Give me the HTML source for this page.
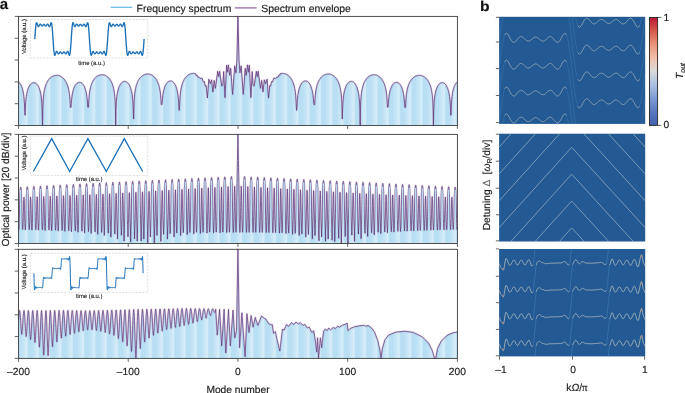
<!DOCTYPE html>
<html><head><meta charset="utf-8"><title>figure</title>
<style>html,body{margin:0;padding:0;background:#fff;}body{width:685px;height:393px;overflow:hidden;font-family:"Liberation Sans",sans-serif;}svg{display:block;will-change:transform;filter:blur(0.3px);}text{stroke:#1a1a1a;stroke-width:0.16px;}</style></head>
<body>
<svg width="685" height="393" viewBox="0 0 685 393" font-family="Liberation Sans, sans-serif" text-rendering="geometricPrecision">
<defs>
<clipPath id="cb1"><rect x="499.1" y="16.8" width="146.1" height="107.1"/></clipPath>
<clipPath id="cb2"><rect x="499.1" y="133.7" width="146.1" height="107.8"/></clipPath>
<clipPath id="cb3"><rect x="499.1" y="249" width="146.1" height="107.4"/></clipPath>
<linearGradient id="cw" x1="0" y1="1" x2="0" y2="0">
<stop offset="0.0" stop-color="#4060ad"/>
<stop offset="0.125" stop-color="#5878c1"/>
<stop offset="0.25" stop-color="#7d9bd4"/>
<stop offset="0.375" stop-color="#aabfe2"/>
<stop offset="0.5" stop-color="#dad9dc"/>
<stop offset="0.625" stop-color="#f0c0aa"/>
<stop offset="0.75" stop-color="#ea957a"/>
<stop offset="0.875" stop-color="#d65a4c"/>
<stop offset="1.0" stop-color="#bb1533"/>
</linearGradient>
<linearGradient id="moire" gradientUnits="userSpaceOnUse" x1="50.8" y1="0" x2="62.08" y2="0" spreadMethod="repeat">
<stop offset="0" stop-color="#b9dff3"/>
<stop offset="0.28" stop-color="#b7def2"/>
<stop offset="0.6" stop-color="#c6e5f6"/>
<stop offset="0.86" stop-color="#d7edf8"/>
<stop offset="0.9" stop-color="#d4ebf8"/>
<stop offset="1.0" stop-color="#b9dff3"/>
</linearGradient>
</defs>
<rect width="685" height="393" fill="#fff"/>
<path d="M18.5 81.85 L18.8 82.09 L19.1 82.37 L19.4 82.68 L19.7 83.03 L20 83.42 L20.3 83.85 L20.6 84.34 L20.9 84.88 L21.2 85.48 L21.5 86.15 L21.8 86.9 L22.1 87.74 L22.4 88.7 L22.7 89.79 L23 91.05 L23.3 92.54 L23.6 94.34 L23.9 96.6 L24.2 99.6 L24.5 104.05 L24.8 112.75 L25 115.2 L25.1 115.26 L25.4 107.66 L25.7 102.35 L26 98.99 L26.3 96.53 L26.6 94.6 L26.9 93.02 L27.2 91.68 L27.5 90.54 L27.8 89.55 L28.1 88.67 L28.4 87.89 L28.7 87.2 L29 86.58 L29.3 86.03 L29.6 85.53 L29.9 85.08 L30.2 84.68 L30.5 84.32 L30.8 84 L31.1 83.72 L31.4 83.47 L31.7 83.26 L32 83.08 L32.3 82.93 L32.6 82.8 L32.9 82.71 L33.2 82.65 L33.5 82.61 L33.8 82.6 L34.1 82.62 L34.4 82.66 L34.7 82.74 L35 82.84 L35.3 82.97 L35.6 83.13 L35.9 83.33 L36.2 83.55 L36.5 83.81 L36.8 84.1 L37.1 84.43 L37.4 84.81 L37.7 85.22 L38 85.69 L38.3 86.2 L38.6 86.78 L38.9 87.42 L39.2 88.14 L39.5 88.95 L39.8 89.86 L40.1 90.9 L40.4 92.1 L40.7 93.51 L41 95.19 L41.3 97.27 L41.6 99.98 L41.9 103.81 L42.2 110.39 L42.5 125.5 L42.5 125.5 L42.8 107.63 L43.1 101.04 L43.4 97.19 L43.7 94.47 L44 92.36 L44.3 90.65 L44.6 89.2 L44.9 87.96 L45.2 86.87 L45.5 85.9 L45.8 85.03 L46.1 84.25 L46.4 83.53 L46.7 82.87 L47 82.27 L47.3 81.71 L47.6 81.19 L47.9 80.71 L48.2 80.27 L48.5 79.85 L48.8 79.46 L49.1 79.1 L49.4 78.76 L49.7 78.44 L50 78.14 L50.3 77.86 L50.6 77.6 L50.9 77.36 L51.2 77.14 L51.5 76.93 L51.8 76.73 L52.1 76.55 L52.4 76.38 L52.7 76.23 L53 76.09 L53.3 75.96 L53.6 75.84 L53.9 75.74 L54.2 75.64 L54.5 75.56 L54.8 75.49 L55.1 75.43 L55.4 75.39 L55.7 75.35 L56 75.32 L56.3 75.31 L56.6 75.3 L56.9 75.31 L57.2 75.32 L57.5 75.35 L57.8 75.39 L58.1 75.43 L58.4 75.49 L58.7 75.56 L59 75.64 L59.3 75.74 L59.6 75.84 L59.9 75.96 L60.2 76.09 L60.5 76.23 L60.8 76.38 L61.1 76.55 L61.4 76.73 L61.7 76.93 L62 77.14 L62.3 77.36 L62.6 77.6 L62.9 77.86 L63.2 78.14 L63.5 78.44 L63.8 78.76 L64.1 79.1 L64.4 79.46 L64.7 79.85 L65 80.27 L65.3 80.71 L65.6 81.19 L65.9 81.71 L66.2 82.27 L66.5 82.87 L66.8 83.53 L67.1 84.25 L67.4 85.03 L67.7 85.9 L68 86.87 L68.3 87.96 L68.6 89.2 L68.9 90.65 L69.2 92.36 L69.5 94.47 L69.8 97.19 L70.1 101.04 L70.4 107.49 L70.7 107.3 L70.7 107.3 L71 107.3 L71.3 103.51 L71.6 99.68 L71.9 96.97 L72.2 94.89 L72.5 93.21 L72.8 91.8 L73.1 90.6 L73.4 89.56 L73.7 88.65 L74 87.84 L74.3 87.12 L74.6 86.48 L74.9 85.9 L75.2 85.39 L75.5 84.92 L75.8 84.51 L76.1 84.13 L76.4 83.8 L76.7 83.51 L77 83.25 L77.3 83.03 L77.6 82.83 L77.9 82.67 L78.2 82.54 L78.5 82.44 L78.8 82.36 L79.1 82.32 L79.4 82.3 L79.7 82.31 L80 82.35 L80.3 82.41 L80.6 82.5 L80.9 82.63 L81.2 82.78 L81.5 82.96 L81.8 83.17 L82.1 83.42 L82.4 83.7 L82.7 84.02 L83 84.38 L83.3 84.78 L83.6 85.23 L83.9 85.73 L84.2 86.28 L84.5 86.9 L84.8 87.59 L85.1 88.37 L85.4 89.25 L85.7 90.24 L86 91.38 L86.3 92.72 L86.6 94.3 L86.9 96.23 L87.2 98.69 L87.5 102.05 L87.8 107.1 L88.1 107.1 L88.2 107.1 L88.4 107.23 L88.7 101.93 L89 97.47 L89.3 94.45 L89.6 92.17 L89.9 90.35 L90.2 88.82 L90.5 87.52 L90.8 86.39 L91.1 85.38 L91.4 84.48 L91.7 83.67 L92 82.94 L92.3 82.26 L92.6 81.65 L92.9 81.08 L93.2 80.55 L93.5 80.06 L93.8 79.61 L94.1 79.18 L94.4 78.79 L94.7 78.42 L95 78.08 L95.3 77.76 L95.6 77.46 L95.9 77.18 L96.2 76.92 L96.5 76.68 L96.8 76.45 L97.1 76.24 L97.4 76.05 L97.7 75.87 L98 75.7 L98.3 75.55 L98.6 75.41 L98.9 75.29 L99.2 75.18 L99.5 75.08 L99.8 74.99 L100.1 74.91 L100.4 74.85 L100.7 74.8 L101 74.76 L101.3 74.73 L101.6 74.71 L101.9 74.7 L102.2 74.7 L102.5 74.72 L102.8 74.74 L103.1 74.78 L103.4 74.83 L103.7 74.89 L104 74.96 L104.3 75.05 L104.6 75.14 L104.9 75.25 L105.2 75.37 L105.5 75.5 L105.8 75.65 L106.1 75.81 L106.4 75.99 L106.7 76.17 L107 76.38 L107.3 76.6 L107.6 76.84 L107.9 77.09 L108.2 77.36 L108.5 77.66 L108.8 77.97 L109.1 78.3 L109.4 78.66 L109.7 79.05 L110 79.46 L110.3 79.91 L110.6 80.38 L110.9 80.9 L111.2 81.45 L111.5 82.05 L111.8 82.71 L112.1 83.42 L112.4 84.2 L112.7 85.07 L113 86.04 L113.3 87.13 L113.6 88.37 L113.9 89.81 L114.2 91.52 L114.5 93.63 L114.8 96.35 L115.1 100.2 L115.4 106.79 L115.7 125.5 L115.7 125.5 L116 109.41 L116.3 102.83 L116.6 98.99 L116.9 96.29 L117.2 94.2 L117.5 92.52 L117.8 91.11 L118.1 89.91 L118.4 88.86 L118.7 87.94 L119 87.13 L119.3 86.41 L119.6 85.76 L119.9 85.18 L120.2 84.65 L120.5 84.18 L120.8 83.76 L121.1 83.38 L121.4 83.04 L121.7 82.74 L122 82.47 L122.3 82.23 L122.6 82.03 L122.9 81.86 L123.2 81.71 L123.5 81.6 L123.8 81.51 L124.1 81.44 L124.4 81.41 L124.7 81.4 L125 81.42 L125.3 81.46 L125.6 81.53 L125.9 81.63 L126.2 81.76 L126.5 81.91 L126.8 82.09 L127.1 82.31 L127.4 82.55 L127.7 82.83 L128 83.15 L128.3 83.5 L128.6 83.9 L128.9 84.34 L129.2 84.82 L129.5 85.37 L129.8 85.97 L130.1 86.64 L130.4 87.39 L130.7 88.24 L131 89.19 L131.3 90.29 L131.6 91.55 L131.9 93.04 L132.2 94.85 L132.5 97.1 L132.8 100.1 L133.1 104.55 L133.4 113.26 L133.6 119 L133.7 116.71 L134 103.52 L134.3 98.21 L134.6 94.83 L134.9 92.34 L135.2 90.39 L135.5 88.77 L135.8 87.4 L136.1 86.22 L136.4 85.17 L136.7 84.24 L137 83.4 L137.3 82.64 L137.6 81.94 L137.9 81.3 L138.2 80.72 L138.5 80.17 L138.8 79.67 L139.1 79.2 L139.4 78.77 L139.7 78.36 L140 77.98 L140.3 77.63 L140.6 77.3 L140.9 76.99 L141.2 76.7 L141.5 76.43 L141.8 76.17 L142.1 75.94 L142.4 75.72 L142.7 75.52 L143 75.33 L143.3 75.15 L143.6 74.99 L143.9 74.84 L144.2 74.71 L144.5 74.59 L144.8 74.48 L145.1 74.38 L145.4 74.29 L145.7 74.22 L146 74.15 L146.3 74.1 L146.6 74.06 L146.9 74.03 L147.2 74.01 L147.5 74 L147.8 74 L148.1 74.01 L148.4 74.04 L148.7 74.07 L149 74.12 L149.3 74.17 L149.6 74.24 L149.9 74.32 L150.2 74.41 L150.5 74.51 L150.8 74.63 L151.1 74.75 L151.4 74.89 L151.7 75.04 L152 75.21 L152.3 75.39 L152.6 75.58 L152.9 75.79 L153.2 76.02 L153.5 76.26 L153.8 76.51 L154.1 76.79 L154.4 77.09 L154.7 77.4 L155 77.74 L155.3 78.11 L155.6 78.49 L155.9 78.91 L156.2 79.35 L156.5 79.83 L156.8 80.35 L157.1 80.91 L157.4 81.51 L157.7 82.17 L158 82.88 L158.3 83.67 L158.6 84.54 L158.9 85.5 L159.2 86.59 L159.5 87.84 L159.8 89.28 L160.1 90.99 L160.4 93.1 L160.7 95.82 L161 99.67 L161.3 104.66 L161.6 104.5 L161.6 104.5 L161.9 104.6 L162.2 102.22 L162.5 98.39 L162.8 95.68 L163.1 93.6 L163.4 91.91 L163.7 90.51 L164 89.31 L164.3 88.26 L164.6 87.35 L164.9 86.54 L165.2 85.82 L165.5 85.17 L165.8 84.59 L166.1 84.07 L166.4 83.6 L166.7 83.18 L167 82.81 L167.3 82.47 L167.6 82.17 L167.9 81.91 L168.2 81.68 L168.5 81.48 L168.8 81.31 L169.1 81.18 L169.4 81.07 L169.7 80.98 L170 80.93 L170.3 80.9 L170.6 80.9 L170.9 80.93 L171.2 80.98 L171.5 81.07 L171.8 81.18 L172.1 81.31 L172.4 81.48 L172.7 81.68 L173 81.91 L173.3 82.17 L173.6 82.47 L173.9 82.81 L174.2 83.18 L174.5 83.6 L174.8 84.07 L175.1 84.59 L175.4 85.17 L175.7 85.82 L176 86.54 L176.3 87.35 L176.6 88.26 L176.9 89.31 L177.2 90.51 L177.5 91.91 L177.8 93.6 L178.1 95.68 L178.4 98.39 L178.7 102.22 L179 108.8 L179.3 110.4 L179.3 110.4 L179.6 105.69 L179.9 99.1 L180.2 95.26 L180.5 92.53 L180.8 90.43 L181.1 88.71 L181.4 87.27 L181.7 86.03 L182 84.94 L182.3 83.97 L182.6 83.1 L182.9 82.31 L183.2 81.6 L183.5 80.94 L183.8 80.34 L184.1 79.78 L184.4 79.26 L184.7 78.78 L185 78.34 L185.3 77.92 L185.6 77.53 L185.9 77.17 L186.2 76.83 L186.5 76.51 L186.8 76.22 L187.1 75.94 L187.4 75.68 L187.7 75.44 L188 75.21 L188.3 75 L188.6 74.81 L188.9 74.63 L189.2 74.46 L189.5 74.31 L189.8 74.17 L190.1 74.04 L190.4 73.93 L190.7 73.82 L191 73.73 L191.3 73.65 L191.6 73.58 L191.9 73.53 L192.2 73.48 L192.5 73.44 L192.8 73.42 L193.1 73.4 L193.4 73.4 L193.7 73.41 L194 73.43 L194.3 73.45 L194.6 73.49 L194.9 73.54 L195.2 73.6 L195.5 73.68 L195.8 73.76 L196.1 75.3 L197 75.1 L197.9 77.2 L199.1 77.2 L200.2 78.5 L202.1 78.1 L203.3 81.9 L204.3 81.5 L205.3 86.1 L206.2 85.6 L207.4 98 L208.8 79.2 L210.3 83.6 L211.6 79.8 L212.9 91.9 L214.2 80.4 L215.4 88.3 L217.7 71.3 L218.7 76.6 L219.6 71.3 L221.8 86.1 L222.8 84.9 L223.7 71.5 L225 97.6 L226.6 65.2 L227.5 72.2 L228.4 64.9 L229.7 75.3 L230.7 68.3 L232.6 94.4 L234.7 65.8 L236 72.8 L236.9 60 L237.95 16.4 L239 60 L239.9 72.8 L241.2 65.8 L243.3 94.4 L245.2 68.3 L246.2 75.3 L247.5 64.9 L248.4 72.2 L249.3 65.2 L250.9 97.6 L252.2 71.5 L253.1 84.9 L254.1 86.1 L256.3 71.3 L257.2 76.6 L258.2 71.3 L260.5 88.3 L261.7 80.4 L263 91.9 L264.3 79.8 L265.6 83.6 L267.1 79.2 L268.5 98 L269.7 85.6 L270.6 86.1 L271.6 81.5 L272.6 81.9 L273.8 78.1 L275.7 78.5 L276.8 77.2 L278 77.2 L278.9 75.1 L279.8 75.3 L280.1 73.76 L280.4 73.68 L280.7 73.6 L281 73.54 L281.3 73.49 L281.6 73.45 L281.9 73.43 L282.2 73.41 L282.5 73.4 L282.8 73.4 L283.1 73.42 L283.4 73.44 L283.7 73.48 L284 73.53 L284.3 73.58 L284.6 73.65 L284.9 73.73 L285.2 73.82 L285.5 73.93 L285.8 74.04 L286.1 74.17 L286.4 74.31 L286.7 74.46 L287 74.63 L287.3 74.81 L287.6 75 L287.9 75.21 L288.2 75.44 L288.5 75.68 L288.8 75.94 L289.1 76.22 L289.4 76.51 L289.7 76.83 L290 77.17 L290.3 77.53 L290.6 77.92 L290.9 78.34 L291.2 78.78 L291.5 79.26 L291.8 79.78 L292.1 80.34 L292.4 80.94 L292.7 81.6 L293 82.31 L293.3 83.1 L293.6 83.97 L293.9 84.94 L294.2 86.03 L294.5 87.27 L294.8 88.71 L295.1 90.43 L295.4 92.53 L295.7 95.26 L296 99.1 L296.3 105.69 L296.6 110.4 L296.6 110.4 L296.9 108.8 L297.2 102.22 L297.5 98.39 L297.8 95.68 L298.1 93.6 L298.4 91.91 L298.7 90.51 L299 89.31 L299.3 88.26 L299.6 87.35 L299.9 86.54 L300.2 85.82 L300.5 85.17 L300.8 84.59 L301.1 84.07 L301.4 83.6 L301.7 83.18 L302 82.81 L302.3 82.47 L302.6 82.17 L302.9 81.91 L303.2 81.68 L303.5 81.48 L303.8 81.31 L304.1 81.18 L304.4 81.07 L304.7 80.98 L305 80.93 L305.3 80.9 L305.6 80.9 L305.9 80.93 L306.2 80.98 L306.5 81.07 L306.8 81.18 L307.1 81.31 L307.4 81.48 L307.7 81.68 L308 81.91 L308.3 82.17 L308.6 82.47 L308.9 82.81 L309.2 83.18 L309.5 83.6 L309.8 84.07 L310.1 84.59 L310.4 85.17 L310.7 85.82 L311 86.54 L311.3 87.35 L311.6 88.26 L311.9 89.31 L312.2 90.51 L312.5 91.91 L312.8 93.6 L313.1 95.68 L313.4 98.39 L313.7 102.22 L314 104.6 L314.3 104.5 L314.3 104.5 L314.6 104.66 L314.9 99.67 L315.2 95.82 L315.5 93.1 L315.8 90.99 L316.1 89.28 L316.4 87.84 L316.7 86.59 L317 85.5 L317.3 84.54 L317.6 83.67 L317.9 82.88 L318.2 82.17 L318.5 81.51 L318.8 80.91 L319.1 80.35 L319.4 79.83 L319.7 79.35 L320 78.91 L320.3 78.49 L320.6 78.11 L320.9 77.74 L321.2 77.4 L321.5 77.09 L321.8 76.79 L322.1 76.51 L322.4 76.26 L322.7 76.02 L323 75.79 L323.3 75.58 L323.6 75.39 L323.9 75.21 L324.2 75.04 L324.5 74.89 L324.8 74.75 L325.1 74.63 L325.4 74.51 L325.7 74.41 L326 74.32 L326.3 74.24 L326.6 74.17 L326.9 74.12 L327.2 74.07 L327.5 74.04 L327.8 74.01 L328.1 74 L328.4 74 L328.7 74.01 L329 74.03 L329.3 74.06 L329.6 74.1 L329.9 74.15 L330.2 74.22 L330.5 74.29 L330.8 74.38 L331.1 74.48 L331.4 74.59 L331.7 74.71 L332 74.84 L332.3 74.99 L332.6 75.15 L332.9 75.33 L333.2 75.52 L333.5 75.72 L333.8 75.94 L334.1 76.17 L334.4 76.43 L334.7 76.7 L335 76.99 L335.3 77.3 L335.6 77.63 L335.9 77.98 L336.2 78.36 L336.5 78.77 L336.8 79.2 L337.1 79.67 L337.4 80.17 L337.7 80.72 L338 81.3 L338.3 81.94 L338.6 82.64 L338.9 83.4 L339.2 84.24 L339.5 85.17 L339.8 86.22 L340.1 87.4 L340.4 88.77 L340.7 90.39 L341 92.34 L341.3 94.83 L341.6 98.21 L341.9 103.52 L342.2 116.71 L342.3 119 L342.5 113.26 L342.8 104.55 L343.1 100.1 L343.4 97.1 L343.7 94.85 L344 93.04 L344.3 91.55 L344.6 90.29 L344.9 89.19 L345.2 88.24 L345.5 87.39 L345.8 86.64 L346.1 85.97 L346.4 85.37 L346.7 84.82 L347 84.34 L347.3 83.9 L347.6 83.5 L347.9 83.15 L348.2 82.83 L348.5 82.55 L348.8 82.31 L349.1 82.09 L349.4 81.91 L349.7 81.76 L350 81.63 L350.3 81.53 L350.6 81.46 L350.9 81.42 L351.2 81.4 L351.5 81.41 L351.8 81.44 L352.1 81.51 L352.4 81.6 L352.7 81.71 L353 81.86 L353.3 82.03 L353.6 82.23 L353.9 82.47 L354.2 82.74 L354.5 83.04 L354.8 83.38 L355.1 83.76 L355.4 84.18 L355.7 84.65 L356 85.18 L356.3 85.76 L356.6 86.41 L356.9 87.13 L357.2 87.94 L357.5 88.86 L357.8 89.91 L358.1 91.11 L358.4 92.52 L358.7 94.2 L359 96.29 L359.3 98.99 L359.6 102.83 L359.9 109.41 L360.2 125.5 L360.2 125.5 L360.5 106.79 L360.8 100.2 L361.1 96.35 L361.4 93.63 L361.7 91.52 L362 89.81 L362.3 88.37 L362.6 87.13 L362.9 86.04 L363.2 85.07 L363.5 84.2 L363.8 83.42 L364.1 82.71 L364.4 82.05 L364.7 81.45 L365 80.9 L365.3 80.38 L365.6 79.91 L365.9 79.46 L366.2 79.05 L366.5 78.66 L366.8 78.3 L367.1 77.97 L367.4 77.66 L367.7 77.36 L368 77.09 L368.3 76.84 L368.6 76.6 L368.9 76.38 L369.2 76.17 L369.5 75.99 L369.8 75.81 L370.1 75.65 L370.4 75.5 L370.7 75.37 L371 75.25 L371.3 75.14 L371.6 75.05 L371.9 74.96 L372.2 74.89 L372.5 74.83 L372.8 74.78 L373.1 74.74 L373.4 74.72 L373.7 74.7 L374 74.7 L374.3 74.71 L374.6 74.73 L374.9 74.76 L375.2 74.8 L375.5 74.85 L375.8 74.91 L376.1 74.99 L376.4 75.08 L376.7 75.18 L377 75.29 L377.3 75.41 L377.6 75.55 L377.9 75.7 L378.2 75.87 L378.5 76.05 L378.8 76.24 L379.1 76.45 L379.4 76.68 L379.7 76.92 L380 77.18 L380.3 77.46 L380.6 77.76 L380.9 78.08 L381.2 78.42 L381.5 78.79 L381.8 79.18 L382.1 79.61 L382.4 80.06 L382.7 80.55 L383 81.08 L383.3 81.65 L383.6 82.26 L383.9 82.94 L384.2 83.67 L384.5 84.48 L384.8 85.38 L385.1 86.39 L385.4 87.52 L385.7 88.82 L386 90.35 L386.3 92.17 L386.6 94.45 L386.9 97.47 L387.2 101.93 L387.5 107.23 L387.7 107.1 L387.8 107.1 L388.1 107.1 L388.4 102.05 L388.7 98.69 L389 96.23 L389.3 94.3 L389.6 92.72 L389.9 91.38 L390.2 90.24 L390.5 89.25 L390.8 88.37 L391.1 87.59 L391.4 86.9 L391.7 86.28 L392 85.73 L392.3 85.23 L392.6 84.78 L392.9 84.38 L393.2 84.02 L393.5 83.7 L393.8 83.42 L394.1 83.17 L394.4 82.96 L394.7 82.78 L395 82.63 L395.3 82.5 L395.6 82.41 L395.9 82.35 L396.2 82.31 L396.5 82.3 L396.8 82.32 L397.1 82.36 L397.4 82.44 L397.7 82.54 L398 82.67 L398.3 82.83 L398.6 83.03 L398.9 83.25 L399.2 83.51 L399.5 83.8 L399.8 84.13 L400.1 84.51 L400.4 84.92 L400.7 85.39 L401 85.9 L401.3 86.48 L401.6 87.12 L401.9 87.84 L402.2 88.65 L402.5 89.56 L402.8 90.6 L403.1 91.8 L403.4 93.21 L403.7 94.89 L404 96.97 L404.3 99.68 L404.6 103.51 L404.9 107.3 L405.2 107.3 L405.2 107.3 L405.5 107.49 L405.8 101.04 L406.1 97.19 L406.4 94.47 L406.7 92.36 L407 90.65 L407.3 89.2 L407.6 87.96 L407.9 86.87 L408.2 85.9 L408.5 85.03 L408.8 84.25 L409.1 83.53 L409.4 82.87 L409.7 82.27 L410 81.71 L410.3 81.19 L410.6 80.71 L410.9 80.27 L411.2 79.85 L411.5 79.46 L411.8 79.1 L412.1 78.76 L412.4 78.44 L412.7 78.14 L413 77.86 L413.3 77.6 L413.6 77.36 L413.9 77.14 L414.2 76.93 L414.5 76.73 L414.8 76.55 L415.1 76.38 L415.4 76.23 L415.7 76.09 L416 75.96 L416.3 75.84 L416.6 75.74 L416.9 75.64 L417.2 75.56 L417.5 75.49 L417.8 75.43 L418.1 75.39 L418.4 75.35 L418.7 75.32 L419 75.31 L419.3 75.3 L419.6 75.31 L419.9 75.32 L420.2 75.35 L420.5 75.39 L420.8 75.43 L421.1 75.49 L421.4 75.56 L421.7 75.64 L422 75.74 L422.3 75.84 L422.6 75.96 L422.9 76.09 L423.2 76.23 L423.5 76.38 L423.8 76.55 L424.1 76.73 L424.4 76.93 L424.7 77.14 L425 77.36 L425.3 77.6 L425.6 77.86 L425.9 78.14 L426.2 78.44 L426.5 78.76 L426.8 79.1 L427.1 79.46 L427.4 79.85 L427.7 80.27 L428 80.71 L428.3 81.19 L428.6 81.71 L428.9 82.27 L429.2 82.87 L429.5 83.53 L429.8 84.25 L430.1 85.03 L430.4 85.9 L430.7 86.87 L431 87.96 L431.3 89.2 L431.6 90.65 L431.9 92.36 L432.2 94.47 L432.5 97.19 L432.8 101.04 L433.1 107.63 L433.4 125.5 L433.4 125.5 L433.7 110.39 L434 103.81 L434.3 99.98 L434.6 97.27 L434.9 95.19 L435.2 93.51 L435.5 92.1 L435.8 90.9 L436.1 89.86 L436.4 88.95 L436.7 88.14 L437 87.42 L437.3 86.78 L437.6 86.2 L437.9 85.69 L438.2 85.22 L438.5 84.81 L438.8 84.43 L439.1 84.1 L439.4 83.81 L439.7 83.55 L440 83.33 L440.3 83.13 L440.6 82.97 L440.9 82.84 L441.2 82.74 L441.5 82.66 L441.8 82.62 L442.1 82.6 L442.4 82.61 L442.7 82.65 L443 82.71 L443.3 82.8 L443.6 82.93 L443.9 83.08 L444.2 83.26 L444.5 83.47 L444.8 83.72 L445.1 84 L445.4 84.32 L445.7 84.68 L446 85.08 L446.3 85.53 L446.6 86.03 L446.9 86.58 L447.2 87.2 L447.5 87.89 L447.8 88.67 L448.1 89.55 L448.4 90.54 L448.7 91.68 L449 93.02 L449.3 94.6 L449.6 96.53 L449.9 98.99 L450.2 102.35 L450.5 107.66 L450.8 115.26 L450.9 115.2 L451.1 112.75 L451.4 104.05 L451.7 99.6 L452 96.6 L452.3 94.34 L452.6 92.54 L452.9 91.05 L453.2 89.79 L453.5 88.7 L453.8 87.74 L454.1 86.9 L454.4 86.15 L454.7 85.48 L455 84.88 L455.3 84.34 L455.6 83.85 L455.9 83.42 L456.2 83.03 L456.5 82.68 L456.8 82.37 L457.1 82.09 L457.4 81.85 L457.4 125.5 L18.5 125.5Z" fill="url(#moire)" stroke="none"/>
<defs><path id="env0" d="M18.5 81.85 L18.8 82.09 L19.1 82.37 L19.4 82.68 L19.7 83.03 L20 83.42 L20.3 83.85 L20.6 84.34 L20.9 84.88 L21.2 85.48 L21.5 86.15 L21.8 86.9 L22.1 87.74 L22.4 88.7 L22.7 89.79 L23 91.05 L23.3 92.54 L23.6 94.34 L23.9 96.6 L24.2 99.6 L24.5 104.05 L24.8 112.75 L25 115.2 L25.1 115.26 L25.4 107.66 L25.7 102.35 L26 98.99 L26.3 96.53 L26.6 94.6 L26.9 93.02 L27.2 91.68 L27.5 90.54 L27.8 89.55 L28.1 88.67 L28.4 87.89 L28.7 87.2 L29 86.58 L29.3 86.03 L29.6 85.53 L29.9 85.08 L30.2 84.68 L30.5 84.32 L30.8 84 L31.1 83.72 L31.4 83.47 L31.7 83.26 L32 83.08 L32.3 82.93 L32.6 82.8 L32.9 82.71 L33.2 82.65 L33.5 82.61 L33.8 82.6 L34.1 82.62 L34.4 82.66 L34.7 82.74 L35 82.84 L35.3 82.97 L35.6 83.13 L35.9 83.33 L36.2 83.55 L36.5 83.81 L36.8 84.1 L37.1 84.43 L37.4 84.81 L37.7 85.22 L38 85.69 L38.3 86.2 L38.6 86.78 L38.9 87.42 L39.2 88.14 L39.5 88.95 L39.8 89.86 L40.1 90.9 L40.4 92.1 L40.7 93.51 L41 95.19 L41.3 97.27 L41.6 99.98 L41.9 103.81 L42.2 110.39 L42.5 125.5 L42.5 125.5 L42.8 107.63 L43.1 101.04 L43.4 97.19 L43.7 94.47 L44 92.36 L44.3 90.65 L44.6 89.2 L44.9 87.96 L45.2 86.87 L45.5 85.9 L45.8 85.03 L46.1 84.25 L46.4 83.53 L46.7 82.87 L47 82.27 L47.3 81.71 L47.6 81.19 L47.9 80.71 L48.2 80.27 L48.5 79.85 L48.8 79.46 L49.1 79.1 L49.4 78.76 L49.7 78.44 L50 78.14 L50.3 77.86 L50.6 77.6 L50.9 77.36 L51.2 77.14 L51.5 76.93 L51.8 76.73 L52.1 76.55 L52.4 76.38 L52.7 76.23 L53 76.09 L53.3 75.96 L53.6 75.84 L53.9 75.74 L54.2 75.64 L54.5 75.56 L54.8 75.49 L55.1 75.43 L55.4 75.39 L55.7 75.35 L56 75.32 L56.3 75.31 L56.6 75.3 L56.9 75.31 L57.2 75.32 L57.5 75.35 L57.8 75.39 L58.1 75.43 L58.4 75.49 L58.7 75.56 L59 75.64 L59.3 75.74 L59.6 75.84 L59.9 75.96 L60.2 76.09 L60.5 76.23 L60.8 76.38 L61.1 76.55 L61.4 76.73 L61.7 76.93 L62 77.14 L62.3 77.36 L62.6 77.6 L62.9 77.86 L63.2 78.14 L63.5 78.44 L63.8 78.76 L64.1 79.1 L64.4 79.46 L64.7 79.85 L65 80.27 L65.3 80.71 L65.6 81.19 L65.9 81.71 L66.2 82.27 L66.5 82.87 L66.8 83.53 L67.1 84.25 L67.4 85.03 L67.7 85.9 L68 86.87 L68.3 87.96 L68.6 89.2 L68.9 90.65 L69.2 92.36 L69.5 94.47 L69.8 97.19 L70.1 101.04 L70.4 107.49 L70.7 107.3 L70.7 107.3 L71 107.3 L71.3 103.51 L71.6 99.68 L71.9 96.97 L72.2 94.89 L72.5 93.21 L72.8 91.8 L73.1 90.6 L73.4 89.56 L73.7 88.65 L74 87.84 L74.3 87.12 L74.6 86.48 L74.9 85.9 L75.2 85.39 L75.5 84.92 L75.8 84.51 L76.1 84.13 L76.4 83.8 L76.7 83.51 L77 83.25 L77.3 83.03 L77.6 82.83 L77.9 82.67 L78.2 82.54 L78.5 82.44 L78.8 82.36 L79.1 82.32 L79.4 82.3 L79.7 82.31 L80 82.35 L80.3 82.41 L80.6 82.5 L80.9 82.63 L81.2 82.78 L81.5 82.96 L81.8 83.17 L82.1 83.42 L82.4 83.7 L82.7 84.02 L83 84.38 L83.3 84.78 L83.6 85.23 L83.9 85.73 L84.2 86.28 L84.5 86.9 L84.8 87.59 L85.1 88.37 L85.4 89.25 L85.7 90.24 L86 91.38 L86.3 92.72 L86.6 94.3 L86.9 96.23 L87.2 98.69 L87.5 102.05 L87.8 107.1 L88.1 107.1 L88.2 107.1 L88.4 107.23 L88.7 101.93 L89 97.47 L89.3 94.45 L89.6 92.17 L89.9 90.35 L90.2 88.82 L90.5 87.52 L90.8 86.39 L91.1 85.38 L91.4 84.48 L91.7 83.67 L92 82.94 L92.3 82.26 L92.6 81.65 L92.9 81.08 L93.2 80.55 L93.5 80.06 L93.8 79.61 L94.1 79.18 L94.4 78.79 L94.7 78.42 L95 78.08 L95.3 77.76 L95.6 77.46 L95.9 77.18 L96.2 76.92 L96.5 76.68 L96.8 76.45 L97.1 76.24 L97.4 76.05 L97.7 75.87 L98 75.7 L98.3 75.55 L98.6 75.41 L98.9 75.29 L99.2 75.18 L99.5 75.08 L99.8 74.99 L100.1 74.91 L100.4 74.85 L100.7 74.8 L101 74.76 L101.3 74.73 L101.6 74.71 L101.9 74.7 L102.2 74.7 L102.5 74.72 L102.8 74.74 L103.1 74.78 L103.4 74.83 L103.7 74.89 L104 74.96 L104.3 75.05 L104.6 75.14 L104.9 75.25 L105.2 75.37 L105.5 75.5 L105.8 75.65 L106.1 75.81 L106.4 75.99 L106.7 76.17 L107 76.38 L107.3 76.6 L107.6 76.84 L107.9 77.09 L108.2 77.36 L108.5 77.66 L108.8 77.97 L109.1 78.3 L109.4 78.66 L109.7 79.05 L110 79.46 L110.3 79.91 L110.6 80.38 L110.9 80.9 L111.2 81.45 L111.5 82.05 L111.8 82.71 L112.1 83.42 L112.4 84.2 L112.7 85.07 L113 86.04 L113.3 87.13 L113.6 88.37 L113.9 89.81 L114.2 91.52 L114.5 93.63 L114.8 96.35 L115.1 100.2 L115.4 106.79 L115.7 125.5 L115.7 125.5 L116 109.41 L116.3 102.83 L116.6 98.99 L116.9 96.29 L117.2 94.2 L117.5 92.52 L117.8 91.11 L118.1 89.91 L118.4 88.86 L118.7 87.94 L119 87.13 L119.3 86.41 L119.6 85.76 L119.9 85.18 L120.2 84.65 L120.5 84.18 L120.8 83.76 L121.1 83.38 L121.4 83.04 L121.7 82.74 L122 82.47 L122.3 82.23 L122.6 82.03 L122.9 81.86 L123.2 81.71 L123.5 81.6 L123.8 81.51 L124.1 81.44 L124.4 81.41 L124.7 81.4 L125 81.42 L125.3 81.46 L125.6 81.53 L125.9 81.63 L126.2 81.76 L126.5 81.91 L126.8 82.09 L127.1 82.31 L127.4 82.55 L127.7 82.83 L128 83.15 L128.3 83.5 L128.6 83.9 L128.9 84.34 L129.2 84.82 L129.5 85.37 L129.8 85.97 L130.1 86.64 L130.4 87.39 L130.7 88.24 L131 89.19 L131.3 90.29 L131.6 91.55 L131.9 93.04 L132.2 94.85 L132.5 97.1 L132.8 100.1 L133.1 104.55 L133.4 113.26 L133.6 119 L133.7 116.71 L134 103.52 L134.3 98.21 L134.6 94.83 L134.9 92.34 L135.2 90.39 L135.5 88.77 L135.8 87.4 L136.1 86.22 L136.4 85.17 L136.7 84.24 L137 83.4 L137.3 82.64 L137.6 81.94 L137.9 81.3 L138.2 80.72 L138.5 80.17 L138.8 79.67 L139.1 79.2 L139.4 78.77 L139.7 78.36 L140 77.98 L140.3 77.63 L140.6 77.3 L140.9 76.99 L141.2 76.7 L141.5 76.43 L141.8 76.17 L142.1 75.94 L142.4 75.72 L142.7 75.52 L143 75.33 L143.3 75.15 L143.6 74.99 L143.9 74.84 L144.2 74.71 L144.5 74.59 L144.8 74.48 L145.1 74.38 L145.4 74.29 L145.7 74.22 L146 74.15 L146.3 74.1 L146.6 74.06 L146.9 74.03 L147.2 74.01 L147.5 74 L147.8 74 L148.1 74.01 L148.4 74.04 L148.7 74.07 L149 74.12 L149.3 74.17 L149.6 74.24 L149.9 74.32 L150.2 74.41 L150.5 74.51 L150.8 74.63 L151.1 74.75 L151.4 74.89 L151.7 75.04 L152 75.21 L152.3 75.39 L152.6 75.58 L152.9 75.79 L153.2 76.02 L153.5 76.26 L153.8 76.51 L154.1 76.79 L154.4 77.09 L154.7 77.4 L155 77.74 L155.3 78.11 L155.6 78.49 L155.9 78.91 L156.2 79.35 L156.5 79.83 L156.8 80.35 L157.1 80.91 L157.4 81.51 L157.7 82.17 L158 82.88 L158.3 83.67 L158.6 84.54 L158.9 85.5 L159.2 86.59 L159.5 87.84 L159.8 89.28 L160.1 90.99 L160.4 93.1 L160.7 95.82 L161 99.67 L161.3 104.66 L161.6 104.5 L161.6 104.5 L161.9 104.6 L162.2 102.22 L162.5 98.39 L162.8 95.68 L163.1 93.6 L163.4 91.91 L163.7 90.51 L164 89.31 L164.3 88.26 L164.6 87.35 L164.9 86.54 L165.2 85.82 L165.5 85.17 L165.8 84.59 L166.1 84.07 L166.4 83.6 L166.7 83.18 L167 82.81 L167.3 82.47 L167.6 82.17 L167.9 81.91 L168.2 81.68 L168.5 81.48 L168.8 81.31 L169.1 81.18 L169.4 81.07 L169.7 80.98 L170 80.93 L170.3 80.9 L170.6 80.9 L170.9 80.93 L171.2 80.98 L171.5 81.07 L171.8 81.18 L172.1 81.31 L172.4 81.48 L172.7 81.68 L173 81.91 L173.3 82.17 L173.6 82.47 L173.9 82.81 L174.2 83.18 L174.5 83.6 L174.8 84.07 L175.1 84.59 L175.4 85.17 L175.7 85.82 L176 86.54 L176.3 87.35 L176.6 88.26 L176.9 89.31 L177.2 90.51 L177.5 91.91 L177.8 93.6 L178.1 95.68 L178.4 98.39 L178.7 102.22 L179 108.8 L179.3 110.4 L179.3 110.4 L179.6 105.69 L179.9 99.1 L180.2 95.26 L180.5 92.53 L180.8 90.43 L181.1 88.71 L181.4 87.27 L181.7 86.03 L182 84.94 L182.3 83.97 L182.6 83.1 L182.9 82.31 L183.2 81.6 L183.5 80.94 L183.8 80.34 L184.1 79.78 L184.4 79.26 L184.7 78.78 L185 78.34 L185.3 77.92 L185.6 77.53 L185.9 77.17 L186.2 76.83 L186.5 76.51 L186.8 76.22 L187.1 75.94 L187.4 75.68 L187.7 75.44 L188 75.21 L188.3 75 L188.6 74.81 L188.9 74.63 L189.2 74.46 L189.5 74.31 L189.8 74.17 L190.1 74.04 L190.4 73.93 L190.7 73.82 L191 73.73 L191.3 73.65 L191.6 73.58 L191.9 73.53 L192.2 73.48 L192.5 73.44 L192.8 73.42 L193.1 73.4 L193.4 73.4 L193.7 73.41 L194 73.43 L194.3 73.45 L194.6 73.49 L194.9 73.54 L195.2 73.6 L195.5 73.68 L195.8 73.76 L196.1 75.3 L197 75.1 L197.9 77.2 L199.1 77.2 L200.2 78.5 L202.1 78.1 L203.3 81.9 L204.3 81.5 L205.3 86.1 L206.2 85.6 L207.4 98 L208.8 79.2 L210.3 83.6 L211.6 79.8 L212.9 91.9 L214.2 80.4 L215.4 88.3 L217.7 71.3 L218.7 76.6 L219.6 71.3 L221.8 86.1 L222.8 84.9 L223.7 71.5 L225 97.6 L226.6 65.2 L227.5 72.2 L228.4 64.9 L229.7 75.3 L230.7 68.3 L232.6 94.4 L234.7 65.8 L236 72.8 L236.9 60 L237.95 16.4 L239 60 L239.9 72.8 L241.2 65.8 L243.3 94.4 L245.2 68.3 L246.2 75.3 L247.5 64.9 L248.4 72.2 L249.3 65.2 L250.9 97.6 L252.2 71.5 L253.1 84.9 L254.1 86.1 L256.3 71.3 L257.2 76.6 L258.2 71.3 L260.5 88.3 L261.7 80.4 L263 91.9 L264.3 79.8 L265.6 83.6 L267.1 79.2 L268.5 98 L269.7 85.6 L270.6 86.1 L271.6 81.5 L272.6 81.9 L273.8 78.1 L275.7 78.5 L276.8 77.2 L278 77.2 L278.9 75.1 L279.8 75.3 L280.1 73.76 L280.4 73.68 L280.7 73.6 L281 73.54 L281.3 73.49 L281.6 73.45 L281.9 73.43 L282.2 73.41 L282.5 73.4 L282.8 73.4 L283.1 73.42 L283.4 73.44 L283.7 73.48 L284 73.53 L284.3 73.58 L284.6 73.65 L284.9 73.73 L285.2 73.82 L285.5 73.93 L285.8 74.04 L286.1 74.17 L286.4 74.31 L286.7 74.46 L287 74.63 L287.3 74.81 L287.6 75 L287.9 75.21 L288.2 75.44 L288.5 75.68 L288.8 75.94 L289.1 76.22 L289.4 76.51 L289.7 76.83 L290 77.17 L290.3 77.53 L290.6 77.92 L290.9 78.34 L291.2 78.78 L291.5 79.26 L291.8 79.78 L292.1 80.34 L292.4 80.94 L292.7 81.6 L293 82.31 L293.3 83.1 L293.6 83.97 L293.9 84.94 L294.2 86.03 L294.5 87.27 L294.8 88.71 L295.1 90.43 L295.4 92.53 L295.7 95.26 L296 99.1 L296.3 105.69 L296.6 110.4 L296.6 110.4 L296.9 108.8 L297.2 102.22 L297.5 98.39 L297.8 95.68 L298.1 93.6 L298.4 91.91 L298.7 90.51 L299 89.31 L299.3 88.26 L299.6 87.35 L299.9 86.54 L300.2 85.82 L300.5 85.17 L300.8 84.59 L301.1 84.07 L301.4 83.6 L301.7 83.18 L302 82.81 L302.3 82.47 L302.6 82.17 L302.9 81.91 L303.2 81.68 L303.5 81.48 L303.8 81.31 L304.1 81.18 L304.4 81.07 L304.7 80.98 L305 80.93 L305.3 80.9 L305.6 80.9 L305.9 80.93 L306.2 80.98 L306.5 81.07 L306.8 81.18 L307.1 81.31 L307.4 81.48 L307.7 81.68 L308 81.91 L308.3 82.17 L308.6 82.47 L308.9 82.81 L309.2 83.18 L309.5 83.6 L309.8 84.07 L310.1 84.59 L310.4 85.17 L310.7 85.82 L311 86.54 L311.3 87.35 L311.6 88.26 L311.9 89.31 L312.2 90.51 L312.5 91.91 L312.8 93.6 L313.1 95.68 L313.4 98.39 L313.7 102.22 L314 104.6 L314.3 104.5 L314.3 104.5 L314.6 104.66 L314.9 99.67 L315.2 95.82 L315.5 93.1 L315.8 90.99 L316.1 89.28 L316.4 87.84 L316.7 86.59 L317 85.5 L317.3 84.54 L317.6 83.67 L317.9 82.88 L318.2 82.17 L318.5 81.51 L318.8 80.91 L319.1 80.35 L319.4 79.83 L319.7 79.35 L320 78.91 L320.3 78.49 L320.6 78.11 L320.9 77.74 L321.2 77.4 L321.5 77.09 L321.8 76.79 L322.1 76.51 L322.4 76.26 L322.7 76.02 L323 75.79 L323.3 75.58 L323.6 75.39 L323.9 75.21 L324.2 75.04 L324.5 74.89 L324.8 74.75 L325.1 74.63 L325.4 74.51 L325.7 74.41 L326 74.32 L326.3 74.24 L326.6 74.17 L326.9 74.12 L327.2 74.07 L327.5 74.04 L327.8 74.01 L328.1 74 L328.4 74 L328.7 74.01 L329 74.03 L329.3 74.06 L329.6 74.1 L329.9 74.15 L330.2 74.22 L330.5 74.29 L330.8 74.38 L331.1 74.48 L331.4 74.59 L331.7 74.71 L332 74.84 L332.3 74.99 L332.6 75.15 L332.9 75.33 L333.2 75.52 L333.5 75.72 L333.8 75.94 L334.1 76.17 L334.4 76.43 L334.7 76.7 L335 76.99 L335.3 77.3 L335.6 77.63 L335.9 77.98 L336.2 78.36 L336.5 78.77 L336.8 79.2 L337.1 79.67 L337.4 80.17 L337.7 80.72 L338 81.3 L338.3 81.94 L338.6 82.64 L338.9 83.4 L339.2 84.24 L339.5 85.17 L339.8 86.22 L340.1 87.4 L340.4 88.77 L340.7 90.39 L341 92.34 L341.3 94.83 L341.6 98.21 L341.9 103.52 L342.2 116.71 L342.3 119 L342.5 113.26 L342.8 104.55 L343.1 100.1 L343.4 97.1 L343.7 94.85 L344 93.04 L344.3 91.55 L344.6 90.29 L344.9 89.19 L345.2 88.24 L345.5 87.39 L345.8 86.64 L346.1 85.97 L346.4 85.37 L346.7 84.82 L347 84.34 L347.3 83.9 L347.6 83.5 L347.9 83.15 L348.2 82.83 L348.5 82.55 L348.8 82.31 L349.1 82.09 L349.4 81.91 L349.7 81.76 L350 81.63 L350.3 81.53 L350.6 81.46 L350.9 81.42 L351.2 81.4 L351.5 81.41 L351.8 81.44 L352.1 81.51 L352.4 81.6 L352.7 81.71 L353 81.86 L353.3 82.03 L353.6 82.23 L353.9 82.47 L354.2 82.74 L354.5 83.04 L354.8 83.38 L355.1 83.76 L355.4 84.18 L355.7 84.65 L356 85.18 L356.3 85.76 L356.6 86.41 L356.9 87.13 L357.2 87.94 L357.5 88.86 L357.8 89.91 L358.1 91.11 L358.4 92.52 L358.7 94.2 L359 96.29 L359.3 98.99 L359.6 102.83 L359.9 109.41 L360.2 125.5 L360.2 125.5 L360.5 106.79 L360.8 100.2 L361.1 96.35 L361.4 93.63 L361.7 91.52 L362 89.81 L362.3 88.37 L362.6 87.13 L362.9 86.04 L363.2 85.07 L363.5 84.2 L363.8 83.42 L364.1 82.71 L364.4 82.05 L364.7 81.45 L365 80.9 L365.3 80.38 L365.6 79.91 L365.9 79.46 L366.2 79.05 L366.5 78.66 L366.8 78.3 L367.1 77.97 L367.4 77.66 L367.7 77.36 L368 77.09 L368.3 76.84 L368.6 76.6 L368.9 76.38 L369.2 76.17 L369.5 75.99 L369.8 75.81 L370.1 75.65 L370.4 75.5 L370.7 75.37 L371 75.25 L371.3 75.14 L371.6 75.05 L371.9 74.96 L372.2 74.89 L372.5 74.83 L372.8 74.78 L373.1 74.74 L373.4 74.72 L373.7 74.7 L374 74.7 L374.3 74.71 L374.6 74.73 L374.9 74.76 L375.2 74.8 L375.5 74.85 L375.8 74.91 L376.1 74.99 L376.4 75.08 L376.7 75.18 L377 75.29 L377.3 75.41 L377.6 75.55 L377.9 75.7 L378.2 75.87 L378.5 76.05 L378.8 76.24 L379.1 76.45 L379.4 76.68 L379.7 76.92 L380 77.18 L380.3 77.46 L380.6 77.76 L380.9 78.08 L381.2 78.42 L381.5 78.79 L381.8 79.18 L382.1 79.61 L382.4 80.06 L382.7 80.55 L383 81.08 L383.3 81.65 L383.6 82.26 L383.9 82.94 L384.2 83.67 L384.5 84.48 L384.8 85.38 L385.1 86.39 L385.4 87.52 L385.7 88.82 L386 90.35 L386.3 92.17 L386.6 94.45 L386.9 97.47 L387.2 101.93 L387.5 107.23 L387.7 107.1 L387.8 107.1 L388.1 107.1 L388.4 102.05 L388.7 98.69 L389 96.23 L389.3 94.3 L389.6 92.72 L389.9 91.38 L390.2 90.24 L390.5 89.25 L390.8 88.37 L391.1 87.59 L391.4 86.9 L391.7 86.28 L392 85.73 L392.3 85.23 L392.6 84.78 L392.9 84.38 L393.2 84.02 L393.5 83.7 L393.8 83.42 L394.1 83.17 L394.4 82.96 L394.7 82.78 L395 82.63 L395.3 82.5 L395.6 82.41 L395.9 82.35 L396.2 82.31 L396.5 82.3 L396.8 82.32 L397.1 82.36 L397.4 82.44 L397.7 82.54 L398 82.67 L398.3 82.83 L398.6 83.03 L398.9 83.25 L399.2 83.51 L399.5 83.8 L399.8 84.13 L400.1 84.51 L400.4 84.92 L400.7 85.39 L401 85.9 L401.3 86.48 L401.6 87.12 L401.9 87.84 L402.2 88.65 L402.5 89.56 L402.8 90.6 L403.1 91.8 L403.4 93.21 L403.7 94.89 L404 96.97 L404.3 99.68 L404.6 103.51 L404.9 107.3 L405.2 107.3 L405.2 107.3 L405.5 107.49 L405.8 101.04 L406.1 97.19 L406.4 94.47 L406.7 92.36 L407 90.65 L407.3 89.2 L407.6 87.96 L407.9 86.87 L408.2 85.9 L408.5 85.03 L408.8 84.25 L409.1 83.53 L409.4 82.87 L409.7 82.27 L410 81.71 L410.3 81.19 L410.6 80.71 L410.9 80.27 L411.2 79.85 L411.5 79.46 L411.8 79.1 L412.1 78.76 L412.4 78.44 L412.7 78.14 L413 77.86 L413.3 77.6 L413.6 77.36 L413.9 77.14 L414.2 76.93 L414.5 76.73 L414.8 76.55 L415.1 76.38 L415.4 76.23 L415.7 76.09 L416 75.96 L416.3 75.84 L416.6 75.74 L416.9 75.64 L417.2 75.56 L417.5 75.49 L417.8 75.43 L418.1 75.39 L418.4 75.35 L418.7 75.32 L419 75.31 L419.3 75.3 L419.6 75.31 L419.9 75.32 L420.2 75.35 L420.5 75.39 L420.8 75.43 L421.1 75.49 L421.4 75.56 L421.7 75.64 L422 75.74 L422.3 75.84 L422.6 75.96 L422.9 76.09 L423.2 76.23 L423.5 76.38 L423.8 76.55 L424.1 76.73 L424.4 76.93 L424.7 77.14 L425 77.36 L425.3 77.6 L425.6 77.86 L425.9 78.14 L426.2 78.44 L426.5 78.76 L426.8 79.1 L427.1 79.46 L427.4 79.85 L427.7 80.27 L428 80.71 L428.3 81.19 L428.6 81.71 L428.9 82.27 L429.2 82.87 L429.5 83.53 L429.8 84.25 L430.1 85.03 L430.4 85.9 L430.7 86.87 L431 87.96 L431.3 89.2 L431.6 90.65 L431.9 92.36 L432.2 94.47 L432.5 97.19 L432.8 101.04 L433.1 107.63 L433.4 125.5 L433.4 125.5 L433.7 110.39 L434 103.81 L434.3 99.98 L434.6 97.27 L434.9 95.19 L435.2 93.51 L435.5 92.1 L435.8 90.9 L436.1 89.86 L436.4 88.95 L436.7 88.14 L437 87.42 L437.3 86.78 L437.6 86.2 L437.9 85.69 L438.2 85.22 L438.5 84.81 L438.8 84.43 L439.1 84.1 L439.4 83.81 L439.7 83.55 L440 83.33 L440.3 83.13 L440.6 82.97 L440.9 82.84 L441.2 82.74 L441.5 82.66 L441.8 82.62 L442.1 82.6 L442.4 82.61 L442.7 82.65 L443 82.71 L443.3 82.8 L443.6 82.93 L443.9 83.08 L444.2 83.26 L444.5 83.47 L444.8 83.72 L445.1 84 L445.4 84.32 L445.7 84.68 L446 85.08 L446.3 85.53 L446.6 86.03 L446.9 86.58 L447.2 87.2 L447.5 87.89 L447.8 88.67 L448.1 89.55 L448.4 90.54 L448.7 91.68 L449 93.02 L449.3 94.6 L449.6 96.53 L449.9 98.99 L450.2 102.35 L450.5 107.66 L450.8 115.26 L450.9 115.2 L451.1 112.75 L451.4 104.05 L451.7 99.6 L452 96.6 L452.3 94.34 L452.6 92.54 L452.9 91.05 L453.2 89.79 L453.5 88.7 L453.8 87.74 L454.1 86.9 L454.4 86.15 L454.7 85.48 L455 84.88 L455.3 84.34 L455.6 83.85 L455.9 83.42 L456.2 83.03 L456.5 82.68 L456.8 82.37 L457.1 82.09 L457.4 81.85"/></defs>
<use href="#env0" fill="none" stroke="#63367b" stroke-linejoin="round" stroke-width="2.2" opacity="0.12"/>
<use href="#env0" fill="none" stroke="#63367b" stroke-linejoin="round" stroke-width="0.8"/>
<rect x="18.5" y="16.4" width="438.9" height="109.1" fill="none" stroke="#3c3c3c" stroke-width="0.9"/>
<path d="M14.7 16.4H18.5M14.7 38.22H18.5M14.7 60.04H18.5M14.7 81.86H18.5M14.7 103.68H18.5M14.7 125.5H18.5M18.5 125.5V128.9M128.23 125.5V128.9M237.95 125.5V128.9M347.67 125.5V128.9M457.4 125.5V128.9" stroke="#3c3c3c" stroke-width="0.8" fill="none"/>
<path d="M18.5 226.59 L18.64 228.9 L18.78 229.5 L18.92 228.14 L19.06 225.8 L19.2 223.37 L19.34 218.6 L19.48 212.93 L19.62 204.58 L19.76 198.39 L19.9 193.98 L20.04 191.57 L20.18 189.16 L20.32 188.41 L20.46 187.84 L20.6 187.27 L20.74 187.07 L20.88 187.62 L21.02 188.18 L21.16 188.73 L21.3 190.67 L21.44 193.06 L21.58 196.31 L21.72 202.06 L21.86 209.97 L22 216.92 L22.14 221.7 L22.28 225 L22.42 227.36 L22.56 229.1 L22.7 229.38 L22.84 227.71 L22.98 224.63 L23.12 221.54 L23.26 216.77 L23.4 211.63 L23.54 206.21 L23.68 200.21 L23.82 199.33 L23.96 197.27 L24.1 199.06 L24.24 199.49 L24.38 203.94 L24.52 209.68 L24.66 214.83 L24.8 219.98 L24.94 223.48 L25.08 226.58 L25.22 228.97 L25.36 229.59 L25.5 228.27 L25.64 225.91 L25.78 223.52 L25.92 218.7 L26.06 213.06 L26.2 204.64 L26.34 198.28 L26.48 193.71 L26.62 191.3 L26.76 188.89 L26.9 188.09 L27.04 187.52 L27.18 186.96 L27.32 186.73 L27.46 187.28 L27.6 187.83 L27.74 188.38 L27.88 190.28 L28.02 192.67 L28.16 195.86 L28.3 201.72 L28.44 209.66 L28.58 216.76 L28.72 221.6 L28.86 224.99 L29 227.36 L29.14 229.17 L29.28 229.53 L29.42 227.86 L29.56 224.75 L29.7 221.63 L29.84 216.86 L29.98 211.67 L30.12 206.22 L30.26 200.16 L30.4 199.04 L30.54 197.01 L30.68 198.65 L30.82 199.25 L30.96 203.63 L31.1 209.45 L31.24 214.64 L31.38 219.84 L31.52 223.43 L31.66 226.56 L31.8 229.04 L31.94 229.68 L32.08 228.4 L32.22 226.03 L32.36 223.64 L32.5 218.81 L32.64 213.2 L32.78 204.69 L32.92 198.17 L33.06 193.44 L33.2 191.03 L33.34 188.62 L33.48 187.78 L33.62 187.21 L33.76 186.64 L33.9 186.38 L34.04 186.94 L34.18 187.49 L34.32 188.04 L34.46 189.89 L34.6 192.28 L34.74 195.4 L34.88 201.38 L35.02 209.34 L35.16 216.61 L35.3 221.49 L35.44 224.97 L35.58 227.37 L35.72 229.24 L35.86 229.68 L36 228.02 L36.14 224.87 L36.28 221.72 L36.42 216.96 L36.56 211.72 L36.7 206.24 L36.84 200.12 L36.98 198.76 L37.12 196.75 L37.26 198.25 L37.4 199 L37.54 203.31 L37.68 209.21 L37.82 214.46 L37.96 219.71 L38.1 223.38 L38.24 226.54 L38.38 229.1 L38.52 229.77 L38.66 228.52 L38.8 226.14 L38.94 223.73 L39.08 218.92 L39.22 213.35 L39.36 204.76 L39.5 198.06 L39.64 193.17 L39.78 190.76 L39.92 188.35 L40.06 187.46 L40.2 186.89 L40.34 186.33 L40.48 186.04 L40.62 186.59 L40.76 187.14 L40.9 187.7 L41.04 189.5 L41.18 191.89 L41.32 194.94 L41.46 201.03 L41.6 209.02 L41.74 216.45 L41.88 221.37 L42.02 224.96 L42.16 227.38 L42.3 229.31 L42.44 229.83 L42.58 228.17 L42.72 224.99 L42.86 221.82 L43 217.06 L43.14 211.77 L43.28 206.26 L43.42 200.08 L43.56 198.48 L43.7 196.49 L43.84 197.85 L43.98 198.75 L44.12 202.99 L44.26 208.97 L44.4 214.27 L44.54 219.57 L44.68 223.33 L44.82 226.52 L44.96 229.18 L45.1 229.86 L45.24 228.65 L45.38 226.26 L45.52 223.83 L45.66 219.03 L45.8 213.5 L45.94 204.82 L46.08 197.96 L46.22 192.9 L46.36 190.49 L46.5 188.09 L46.64 187.14 L46.78 186.58 L46.92 186.01 L47.06 185.69 L47.2 186.25 L47.34 186.8 L47.48 187.35 L47.62 189.11 L47.76 191.5 L47.9 194.48 L48.04 200.68 L48.18 208.69 L48.32 216.29 L48.46 221.26 L48.6 224.94 L48.74 227.38 L48.88 229.38 L49.02 229.92 L49.16 228.32 L49.3 225.12 L49.44 221.91 L49.58 217.16 L49.72 211.82 L49.86 206.28 L50 200.04 L50.14 198.21 L50.28 196.23 L50.42 197.45 L50.56 198.49 L50.7 202.67 L50.84 208.73 L50.98 214.08 L51.12 219.42 L51.26 223.28 L51.4 226.5 L51.54 229.25 L51.68 229.95 L51.82 228.78 L51.96 226.37 L52.1 223.92 L52.24 219.14 L52.38 213.65 L52.52 204.9 L52.66 197.87 L52.8 192.63 L52.94 190.22 L53.08 187.82 L53.22 186.83 L53.36 186.26 L53.5 185.69 L53.64 185.35 L53.78 185.9 L53.92 186.46 L54.06 187.01 L54.2 188.72 L54.34 191.11 L54.48 194.01 L54.62 200.32 L54.76 208.36 L54.9 216.12 L55.04 221.14 L55.18 224.92 L55.32 227.39 L55.46 229.45 L55.6 230.01 L55.74 228.48 L55.88 225.24 L56.02 222.01 L56.16 217.26 L56.3 211.87 L56.44 206.3 L56.58 200.01 L56.72 197.94 L56.86 195.98 L57 197.05 L57.14 198.23 L57.28 202.35 L57.42 208.49 L57.56 213.88 L57.7 219.28 L57.84 223.23 L57.98 226.47 L58.12 229.32 L58.26 230.04 L58.4 228.92 L58.54 226.49 L58.68 224.01 L58.82 219.25 L58.96 213.81 L59.1 204.97 L59.24 197.78 L59.38 192.36 L59.52 189.95 L59.66 187.55 L59.8 186.51 L59.94 185.94 L60.08 185.38 L60.22 185.01 L60.36 185.56 L60.5 186.11 L60.64 186.67 L60.78 188.33 L60.92 190.72 L61.06 193.53 L61.2 199.96 L61.34 208.03 L61.48 215.95 L61.62 221.02 L61.76 224.9 L61.9 227.39 L62.04 229.53 L62.18 230.1 L62.32 228.64 L62.46 225.37 L62.6 222.1 L62.74 217.37 L62.88 211.93 L63.02 206.33 L63.16 199.98 L63.3 197.68 L63.44 195.72 L63.58 196.64 L63.72 197.96 L63.86 202.02 L64 208.24 L64.14 213.68 L64.28 219.13 L64.42 223.17 L64.56 226.45 L64.7 229.4 L64.84 230.13 L64.98 229.07 L65.12 226.61 L65.26 224.11 L65.4 219.37 L65.54 213.97 L65.68 205.05 L65.82 197.7 L65.96 192.09 L66.1 189.68 L66.24 187.28 L66.38 186.2 L66.52 185.63 L66.66 185.06 L66.8 184.66 L66.94 185.22 L67.08 185.77 L67.22 186.32 L67.36 187.94 L67.5 190.33 L67.64 193.05 L67.78 199.59 L67.92 207.69 L68.06 215.78 L68.2 220.9 L68.34 224.88 L68.48 227.39 L68.62 229.61 L68.76 230.19 L68.9 228.79 L69.04 225.5 L69.18 222.2 L69.32 217.48 L69.46 211.99 L69.6 206.36 L69.74 199.95 L69.88 197.43 L70.02 195.46 L70.16 196.24 L70.3 197.69 L70.44 201.69 L70.58 207.99 L70.72 213.49 L70.86 218.98 L71 223.11 L71.14 226.42 L71.28 229.49 L71.42 230.22 L71.56 229.23 L71.7 226.73 L71.84 224.21 L71.98 219.49 L72.12 214.14 L72.26 205.13 L72.4 197.62 L72.54 191.82 L72.68 189.41 L72.82 187.01 L72.96 185.88 L73.1 185.31 L73.24 184.75 L73.38 184.32 L73.52 184.87 L73.66 185.43 L73.8 185.98 L73.94 187.55 L74.08 189.94 L74.22 192.56 L74.36 199.21 L74.5 207.34 L74.64 215.61 L74.78 220.77 L74.92 224.86 L75.06 227.4 L75.2 229.69 L75.34 230.28 L75.48 228.93 L75.62 225.63 L75.76 222.3 L75.9 217.59 L76.04 212.05 L76.18 206.39 L76.32 199.92 L76.46 197.17 L76.6 195.2 L76.74 195.84 L76.88 197.41 L77.02 201.36 L77.16 207.74 L77.3 213.28 L77.44 218.83 L77.58 223.06 L77.72 226.39 L77.86 229.57 L78 230.31 L78.14 229.43 L78.28 226.85 L78.42 224.31 L78.56 219.61 L78.7 214.31 L78.84 205.22 L78.98 197.55 L79.12 191.55 L79.26 189.14 L79.4 186.74 L79.54 185.56 L79.68 185 L79.82 184.43 L79.96 183.98 L80.1 184.53 L80.24 185.08 L80.38 185.63 L80.52 187.16 L80.66 189.55 L80.8 192.07 L80.94 198.83 L81.08 207 L81.22 215.44 L81.36 220.65 L81.5 224.84 L81.64 227.4 L81.78 229.78 L81.92 230.37 L82.06 229.06 L82.2 225.76 L82.34 222.4 L82.48 217.7 L82.62 212.11 L82.76 206.43 L82.9 199.9 L83.04 196.93 L83.18 194.94 L83.32 195.44 L83.46 197.13 L83.6 201.02 L83.74 207.48 L83.88 213.08 L84.02 218.68 L84.16 223 L84.3 226.36 L84.44 229.67 L84.58 230.4 L84.72 229.65 L84.86 226.98 L85 224.41 L85.14 219.73 L85.28 214.48 L85.42 205.31 L85.56 197.48 L85.7 191.28 L85.84 188.87 L85.98 186.47 L86.12 185.25 L86.26 184.68 L86.4 184.11 L86.54 183.63 L86.68 184.18 L86.82 184.74 L86.96 185.29 L87.1 186.77 L87.24 189.16 L87.38 191.57 L87.52 198.44 L87.66 206.65 L87.8 215.26 L87.94 220.52 L88.08 224.81 L88.22 227.39 L88.36 229.87 L88.5 230.46 L88.64 229.21 L88.78 225.89 L88.92 222.5 L89.06 217.82 L89.2 212.18 L89.34 206.47 L89.48 199.88 L89.62 196.69 L89.76 194.69 L89.9 195.04 L90.04 196.84 L90.18 200.68 L90.32 207.22 L90.46 212.87 L90.6 218.52 L90.74 222.93 L90.88 226.33 L91.02 229.77 L91.16 230.49 L91.3 229.93 L91.44 227.1 L91.58 224.51 L91.72 219.86 L91.86 214.57 L92 205.41 L92.14 197.42 L92.28 191.01 L92.42 188.6 L92.56 186.2 L92.7 184.93 L92.84 184.37 L92.98 183.8 L93.12 183.29 L93.26 183.84 L93.4 184.39 L93.54 184.95 L93.68 186.38 L93.82 188.77 L93.96 191.17 L94.1 198.05 L94.24 206.29 L94.38 215.09 L94.52 220.39 L94.66 224.79 L94.8 227.39 L94.94 229.97 L95.08 230.55 L95.22 229.36 L95.36 226.03 L95.5 222.61 L95.64 217.94 L95.78 212.25 L95.92 206.51 L96.06 199.86 L96.2 196.45 L96.34 194.43 L96.48 194.64 L96.62 196.54 L96.76 200.34 L96.9 206.96 L97.04 212.66 L97.18 218.36 L97.32 222.87 L97.46 226.3 L97.6 229.88 L97.74 230.58 L97.88 230.3 L98.02 227.23 L98.16 224.61 L98.3 219.99 L98.44 214.66 L98.58 205.51 L98.72 197.36 L98.86 190.74 L99 188.33 L99.14 185.93 L99.28 184.62 L99.42 184.05 L99.56 183.48 L99.7 182.94 L99.84 183.5 L99.98 184.05 L100.12 184.6 L100.26 185.99 L100.4 188.38 L100.54 190.78 L100.68 197.65 L100.82 205.93 L100.96 214.9 L101.1 220.25 L101.24 224.76 L101.38 227.39 L101.52 230.09 L101.66 230.64 L101.8 229.54 L101.94 226.16 L102.08 222.71 L102.22 218.06 L102.36 212.32 L102.5 206.55 L102.64 199.85 L102.78 196.22 L102.92 194.17 L103.06 194.23 L103.2 196.24 L103.34 200 L103.48 206.7 L103.62 212.45 L103.76 218.2 L103.9 222.81 L104.04 226.27 L104.18 230 L104.32 230.67 L104.46 230.68 L104.6 227.35 L104.74 224.71 L104.88 220.12 L105.02 214.74 L105.16 205.61 L105.3 197.31 L105.44 190.47 L105.58 188.06 L105.72 185.66 L105.86 184.3 L106 183.73 L106.14 183.17 L106.28 182.6 L106.42 183.15 L106.56 183.71 L106.7 184.26 L106.84 185.6 L106.98 187.99 L107.12 190.39 L107.26 197.25 L107.4 205.57 L107.54 214.72 L107.68 220.12 L107.82 224.73 L107.96 227.38 L108.1 230.22 L108.24 230.73 L108.38 229.76 L108.52 226.3 L108.66 222.82 L108.8 218.19 L108.94 212.39 L109.08 206.6 L109.22 199.84 L109.36 196 L109.5 193.91 L109.64 193.83 L109.78 195.94 L109.92 199.65 L110.06 206.41 L110.2 212.24 L110.34 218.04 L110.48 222.74 L110.62 226.23 L110.76 230.12 L110.9 230.76 L111.04 230.77 L111.18 227.48 L111.32 224.82 L111.46 220.25 L111.6 214.83 L111.74 205.72 L111.88 197.27 L112.02 190.2 L112.16 187.79 L112.3 185.39 L112.44 183.99 L112.58 183.42 L112.72 182.85 L112.86 182.28 L113 182.81 L113.14 183.36 L113.28 183.92 L113.42 185.21 L113.56 187.6 L113.7 190 L113.84 196.84 L113.98 205.2 L114.12 214.54 L114.26 219.98 L114.4 224.7 L114.54 227.38 L114.68 230.38 L114.82 230.82 L114.96 230.02 L115.1 226.44 L115.24 222.93 L115.38 218.31 L115.52 212.47 L115.66 206.63 L115.8 199.83 L115.94 195.78 L116.08 193.65 L116.22 193.43 L116.36 195.63 L116.5 199.3 L116.64 206.12 L116.78 212.02 L116.92 217.87 L117.06 222.67 L117.2 226.19 L117.34 230.2 L117.48 230.85 L117.62 230.86 L117.76 227.61 L117.9 224.92 L118.04 220.39 L118.18 214.92 L118.32 205.83 L118.46 197.23 L118.6 189.93 L118.74 187.52 L118.88 185.12 L119.02 183.67 L119.16 183.1 L119.3 182.54 L119.44 181.97 L119.58 182.47 L119.72 183.02 L119.86 183.57 L120 184.82 L120.14 187.21 L120.28 189.61 L120.42 196.42 L120.56 204.83 L120.7 214.35 L120.84 219.84 L120.98 224.67 L121.12 227.37 L121.26 230.56 L121.4 230.91 L121.54 230.36 L121.68 226.58 L121.82 223.04 L121.96 218.44 L122.1 212.55 L122.24 206.65 L122.38 199.82 L122.52 195.56 L122.66 193.4 L122.8 193.03 L122.94 195.32 L123.08 198.94 L123.22 205.82 L123.36 211.8 L123.5 217.7 L123.64 222.6 L123.78 226.15 L123.92 230.2 L124.06 230.94 L124.2 230.94 L124.34 227.74 L124.48 225.03 L124.62 220.53 L124.76 215.01 L124.9 205.95 L125.04 197.2 L125.18 189.68 L125.32 187.25 L125.46 184.85 L125.6 183.35 L125.74 182.79 L125.88 182.22 L126.02 181.65 L126.16 182.12 L126.3 182.67 L126.44 183.23 L126.58 184.43 L126.72 186.82 L126.86 189.22 L127 196 L127.14 204.46 L127.28 214.14 L127.42 219.69 L127.56 224.64 L127.7 227.36 L127.84 230.77 L127.98 231 L128.12 230.83 L128.26 226.72 L128.4 223.15 L128.54 218.57 L128.68 212.63 L128.82 206.68 L128.96 199.82 L129.1 195.36 L129.24 193.14 L129.38 192.63 L129.52 195 L129.66 198.59 L129.8 205.53 L129.94 211.58 L130.08 217.53 L130.22 222.53 L130.36 226.11 L130.5 230.05 L130.64 231.03 L130.78 231.03 L130.92 227.87 L131.06 225.14 L131.2 220.67 L131.34 215.1 L131.48 206.07 L131.62 197.17 L131.76 189.54 L131.9 186.98 L132.04 184.58 L132.18 183.04 L132.32 182.47 L132.46 181.9 L132.6 181.34 L132.74 181.78 L132.88 182.33 L133.02 182.88 L133.16 184.04 L133.3 186.43 L133.44 188.83 L133.58 195.58 L133.72 204.08 L133.86 213.85 L134 219.55 L134.14 224.61 L134.28 227.35 L134.42 231.01 L134.56 231.09 L134.7 231.09 L134.84 226.87 L134.98 223.27 L135.12 218.71 L135.26 212.72 L135.4 206.72 L135.54 199.82 L135.68 195.15 L135.82 192.88 L135.96 192.23 L136.1 194.67 L136.24 198.23 L136.38 205.23 L136.52 211.35 L136.66 217.35 L136.8 222.46 L136.94 226.07 L137.08 229.82 L137.22 231.12 L137.36 231.12 L137.5 228 L137.64 225.25 L137.78 220.81 L137.92 215.19 L138.06 206.2 L138.2 197.15 L138.34 189.41 L138.48 186.71 L138.62 184.31 L138.76 182.72 L138.9 182.15 L139.04 181.59 L139.18 181.02 L139.32 181.43 L139.46 181.99 L139.6 182.54 L139.74 183.65 L139.88 186.04 L140.02 188.44 L140.16 195.15 L140.3 203.69 L140.44 213.54 L140.58 219.4 L140.72 224.57 L140.86 227.34 L141 231.17 L141.14 231.18 L141.28 231.18 L141.42 227.01 L141.56 223.38 L141.7 218.85 L141.84 212.8 L141.98 206.75 L142.12 199.82 L142.26 194.95 L142.4 192.62 L142.54 191.82 L142.68 194.34 L142.82 197.86 L142.96 204.92 L143.1 211.12 L143.24 217.18 L143.38 222.39 L143.52 226.03 L143.66 229.67 L143.8 231.21 L143.94 231.21 L144.08 228.13 L144.22 225.36 L144.36 220.95 L144.5 215.29 L144.64 206.32 L144.78 197.13 L144.92 189.28 L145.06 186.44 L145.2 184.04 L145.34 182.41 L145.48 181.84 L145.62 181.27 L145.76 180.71 L145.9 181.09 L146.04 181.64 L146.18 182.2 L146.32 183.26 L146.46 185.65 L146.6 188.05 L146.74 194.71 L146.88 203.3 L147.02 213.24 L147.16 219.25 L147.3 224.54 L147.44 227.33 L147.58 231.26 L147.72 231.27 L147.86 231.27 L148 227.16 L148.14 223.5 L148.28 218.99 L148.42 212.89 L148.56 206.79 L148.7 199.83 L148.84 194.76 L148.98 192.36 L149.12 191.42 L149.26 194.01 L149.4 197.5 L149.54 204.62 L149.68 210.89 L149.82 217 L149.96 222.31 L150.1 225.98 L150.24 229.66 L150.38 231.3 L150.52 231.3 L150.66 228.27 L150.8 225.47 L150.94 221.1 L151.08 215.39 L151.22 206.46 L151.36 197.12 L151.5 189.16 L151.64 186.17 L151.78 183.77 L151.92 182.09 L152.06 181.52 L152.2 180.96 L152.34 180.39 L152.48 180.75 L152.62 181.3 L152.76 181.85 L152.9 182.87 L153.04 185.26 L153.18 187.66 L153.32 194.27 L153.46 202.91 L153.6 212.93 L153.74 219.1 L153.88 224.5 L154.02 227.32 L154.16 231.14 L154.3 231.36 L154.44 231.36 L154.58 227.31 L154.72 223.62 L154.86 219.13 L155 212.98 L155.14 206.83 L155.28 199.84 L155.42 194.57 L155.56 192.11 L155.7 191.02 L155.84 193.67 L155.98 197.13 L156.12 204.31 L156.26 210.66 L156.4 216.82 L156.54 222.24 L156.68 225.94 L156.82 229.64 L156.96 231.39 L157.1 231.39 L157.24 228.4 L157.38 225.58 L157.52 221.25 L157.66 215.5 L157.8 206.59 L157.94 197.12 L158.08 189.04 L158.22 185.91 L158.36 183.5 L158.5 181.77 L158.64 181.21 L158.78 180.64 L158.92 180.07 L159.06 180.4 L159.2 180.96 L159.34 181.51 L159.48 182.48 L159.62 184.87 L159.76 187.27 L159.9 193.82 L160.04 202.52 L160.18 212.61 L160.32 218.94 L160.46 224.47 L160.6 227.3 L160.74 230.81 L160.88 231.45 L161.02 231.45 L161.16 227.46 L161.3 223.74 L161.44 219.27 L161.58 213.08 L161.72 206.88 L161.86 199.85 L162 194.39 L162.14 191.85 L162.28 190.62 L162.42 193.32 L162.56 196.76 L162.7 203.99 L162.84 210.43 L162.98 216.63 L163.12 222.16 L163.26 225.89 L163.4 229.62 L163.54 231.48 L163.68 231.48 L163.82 228.54 L163.96 225.69 L164.1 221.4 L164.24 215.6 L164.38 206.74 L164.52 197.12 L164.66 188.93 L164.8 185.64 L164.94 183.23 L165.08 181.46 L165.22 180.89 L165.36 180.32 L165.5 179.76 L165.64 180.06 L165.78 180.61 L165.92 181.16 L166.06 182.09 L166.2 184.49 L166.34 186.88 L166.48 193.36 L166.62 202.12 L166.76 212.3 L166.9 218.79 L167.04 224.43 L167.18 227.29 L167.32 230.5 L167.46 231.54 L167.6 231.54 L167.74 227.61 L167.88 223.86 L168.02 219.42 L168.16 213.17 L168.3 206.93 L168.44 199.87 L168.58 194.21 L168.72 191.59 L168.86 190.22 L169 192.97 L169.14 196.38 L169.28 203.68 L169.42 210.19 L169.56 216.45 L169.7 222.08 L169.84 225.84 L169.98 229.6 L170.12 231.57 L170.26 231.57 L170.4 228.68 L170.54 225.81 L170.68 221.56 L170.82 215.71 L170.96 206.88 L171.1 197.13 L171.24 188.83 L171.38 185.37 L171.52 182.96 L171.66 181.14 L171.8 180.58 L171.94 180.01 L172.08 179.44 L172.22 179.71 L172.36 180.27 L172.5 180.82 L172.64 181.7 L172.78 184.1 L172.92 186.49 L173.06 192.9 L173.2 201.71 L173.34 211.97 L173.48 218.63 L173.62 224.39 L173.76 227.27 L173.9 230.29 L174.04 231.63 L174.18 231.63 L174.32 227.76 L174.46 223.98 L174.6 219.57 L174.74 213.27 L174.88 206.97 L175.02 199.89 L175.16 194.04 L175.3 191.33 L175.44 189.82 L175.58 192.61 L175.72 196.01 L175.86 203.36 L176 209.95 L176.14 216.26 L176.28 222 L176.42 225.79 L176.56 229.58 L176.7 231.66 L176.84 231.66 L176.98 228.82 L177.12 225.92 L177.26 221.71 L177.4 215.82 L177.54 207.03 L177.68 197.14 L177.82 188.73 L177.96 185.1 L178.1 182.69 L178.24 180.83 L178.38 180.26 L178.52 179.69 L178.66 179.13 L178.8 179.37 L178.94 179.92 L179.08 180.48 L179.22 181.31 L179.36 183.71 L179.5 186.1 L179.64 192.44 L179.78 201.3 L179.92 211.65 L180.06 218.46 L180.2 224.35 L180.34 227.25 L180.48 230.19 L180.62 231.72 L180.76 231.72 L180.9 227.91 L181.04 224.1 L181.18 219.72 L181.32 213.37 L181.46 207.03 L181.6 199.91 L181.74 193.87 L181.88 191.07 L182.02 189.41 L182.16 192.25 L182.3 195.63 L182.44 203.04 L182.58 209.71 L182.72 216.06 L182.86 221.91 L183 225.74 L183.14 229.56 L183.28 231.75 L183.42 231.75 L183.56 228.96 L183.7 226.04 L183.84 221.87 L183.98 215.93 L184.12 207.18 L184.26 197.16 L184.4 188.63 L184.54 184.83 L184.68 182.42 L184.82 180.51 L184.96 179.94 L185.1 179.38 L185.24 178.81 L185.38 179.03 L185.52 179.58 L185.66 180.13 L185.8 180.92 L185.94 183.32 L186.08 185.71 L186.22 191.97 L186.36 200.89 L186.5 211.32 L186.64 218.3 L186.78 224.26 L186.92 227.23 L187.06 230.16 L187.2 231.81 L187.34 231.81 L187.48 228.07 L187.62 224.23 L187.76 219.88 L187.9 213.48 L188.04 207.08 L188.18 199.93 L188.32 193.71 L188.46 190.82 L188.6 189.01 L188.74 191.88 L188.88 195.24 L189.02 202.71 L189.16 209.46 L189.3 215.87 L189.44 221.83 L189.58 225.68 L189.72 229.54 L189.86 231.84 L190 231.84 L190.14 229.1 L190.28 226.16 L190.42 222.03 L190.56 216.04 L190.7 207.34 L190.84 197.18 L190.98 188.54 L191.12 184.56 L191.26 182.15 L191.4 180.2 L191.54 179.63 L191.68 179.06 L191.82 178.49 L191.96 178.68 L192.1 179.24 L192.24 179.79 L192.38 180.53 L192.52 182.93 L192.66 185.32 L192.8 191.49 L192.94 200.47 L193.08 210.98 L193.22 218.13 L193.36 224.14 L193.5 227.21 L193.64 230.17 L193.78 231.9 L193.92 231.9 L194.06 228.23 L194.2 224.36 L194.34 220.03 L194.48 213.58 L194.62 207.14 L194.76 199.96 L194.9 193.55 L195.04 190.56 L195.18 188.61 L195.32 191.51 L195.46 194.86 L195.6 202.39 L195.74 209.22 L195.88 215.67 L196.02 221.74 L196.16 225.63 L196.3 229.51 L196.44 231.93 L196.58 231.86 L196.72 229.24 L196.86 226.28 L197 222.2 L197.14 216.16 L197.28 207.5 L197.42 197.21 L197.56 188.46 L197.7 184.29 L197.84 181.88 L197.98 179.88 L198.12 179.31 L198.26 178.75 L198.4 178.18 L198.54 178.34 L198.68 178.89 L198.82 179.45 L198.96 180.14 L199.1 182.54 L199.24 184.93 L199.38 191.01 L199.52 200.05 L199.66 210.65 L199.8 217.96 L199.94 224.02 L200.08 227.19 L200.22 230.17 L200.36 231.99 L200.5 231.93 L200.64 228.39 L200.78 224.48 L200.92 220.19 L201.06 213.69 L201.2 207.19 L201.34 199.99 L201.48 193.4 L201.62 190.3 L201.76 188.21 L201.9 191.14 L202.04 194.47 L202.18 202.06 L202.32 208.97 L202.46 215.47 L202.6 221.66 L202.74 225.57 L202.88 229.48 L203.02 232.02 L203.16 231.89 L203.3 229.38 L203.44 226.4 L203.58 222.36 L203.72 216.28 L203.86 207.67 L204 197.24 L204.14 188.38 L204.28 184.02 L204.42 181.61 L204.56 179.56 L204.7 179 L204.84 178.43 L204.98 177.86 L205.12 178 L205.26 178.55 L205.4 179.1 L205.54 179.75 L205.68 182.15 L205.82 184.54 L205.96 190.52 L206.1 199.63 L206.24 210.3 L206.38 217.79 L206.52 223.9 L206.66 227.17 L206.8 230.17 L206.94 232.08 L207.08 231.91 L207.22 228.55 L207.36 224.61 L207.5 220.35 L207.64 213.81 L207.78 207.26 L207.92 200.02 L208.06 193.25 L208.2 190.05 L208.34 187.81 L208.48 190.75 L208.62 194.08 L208.76 201.72 L208.9 208.71 L209.04 215.27 L209.18 221.57 L209.32 225.51 L209.46 229.46 L209.6 232.06 L209.74 231.94 L209.88 229.53 L210.02 226.52 L210.16 222.53 L210.3 216.4 L210.44 207.84 L210.58 197.28 L210.72 188.31 L210.86 183.75 L211 181.34 L211.14 179.25 L211.28 178.68 L211.42 178.11 L211.56 177.55 L211.7 177.65 L211.84 178.2 L211.98 178.76 L212.12 179.36 L212.26 181.76 L212.4 184.15 L212.54 190.03 L212.68 199.2 L212.82 209.96 L212.96 217.62 L213.1 223.77 L213.24 227.15 L213.38 230.17 L213.52 232.17 L213.66 231.92 L213.8 228.71 L213.94 224.75 L214.08 220.52 L214.22 213.92 L214.36 207.32 L214.5 200.06 L214.64 193.11 L214.78 189.8 L214.92 187.41 L215.06 190.37 L215.2 193.68 L215.34 201.39 L215.48 208.46 L215.62 215.07 L215.76 221.48 L215.9 225.45 L216.04 229.43 L216.18 232.01 L216.32 232 L216.46 229.68 L216.6 226.64 L216.74 222.7 L216.88 216.53 L217.02 208.01 L217.16 197.33 L217.3 188.25 L217.44 183.48 L217.58 181.07 L217.72 178.93 L217.86 178.37 L218 177.8 L218.14 177.23 L218.28 177.31 L218.42 177.86 L218.56 178.41 L218.7 178.97 L218.84 181.37 L218.98 183.76 L219.12 189.53 L219.26 198.77 L219.4 209.61 L219.54 217.44 L219.68 223.64 L219.82 227.12 L219.96 230.17 L220.1 232.26 L220.24 231.95 L220.38 228.87 L220.52 224.88 L220.66 220.69 L220.8 214.04 L220.94 207.39 L221.08 200.1 L221.22 192.97 L221.36 189.56 L221.5 187 L221.64 189.97 L221.78 193.38 L221.92 201.05 L222.06 208.2 L222.2 214.86 L222.34 221.39 L222.48 225.39 L222.62 229.39 L222.76 231.98 L222.9 232.07 L223.04 229.82 L223.18 226.77 L223.32 222.88 L223.46 216.65 L223.6 208.19 L223.74 197.38 L223.88 188.18 L224.02 183.21 L224.16 180.8 L224.3 178.62 L224.44 178.05 L224.58 177.48 L224.72 176.92 L224.86 176.96 L225 177.52 L225.14 178.07 L225.28 178.62 L225.42 180.98 L225.56 183.37 L225.7 189.03 L225.84 198.33 L225.98 209.25 L226.12 217.26 L226.26 223.51 L226.4 227.1 L226.54 230.17 L226.68 232.35 L226.82 232 L226.96 229.04 L227.1 225.01 L227.24 220.86 L227.38 214.16 L227.52 207.46 L227.66 200.14 L227.8 192.84 L227.94 189.33 L228.08 186.6 L228.22 189.58 L228.36 193.08 L228.5 200.71 L228.64 207.94 L228.78 214.65 L228.92 221.29 L229.06 225.33 L229.2 229.36 L229.34 231.97 L229.48 232.15 L229.62 229.97 L229.76 226.89 L229.9 223.05 L230.04 216.78 L230.18 208.37 L230.32 197.43 L230.46 188.13 L230.6 182.94 L230.74 180.53 L230.88 178.3 L231.02 177.73 L231.16 177.17 L231.3 176.6 L231.44 176.62 L231.58 177.17 L231.72 177.73 L231.86 178.28 L232 180.59 L232.14 182.98 L232.28 188.52 L232.42 197.89 L232.56 208.89 L232.7 217.08 L232.84 223.37 L232.98 227.07 L233.12 230.16 L233.26 232.44 L233.4 232.06 L233.54 229.2 L233.68 225.15 L233.82 221.03 L233.96 214.28 L234.1 207.53 L234.24 200.18 L234.38 192.71 L234.52 189.1 L234.66 186.2 L234.8 189.17 L234.94 192.78 L235.08 200.36 L235.22 207.68 L235.36 214.44 L235.5 221.2 L235.64 225.26 L235.78 229.33 L235.92 231.97 L236.06 232.23 L236.2 230.12 L236.34 227.02 L236.48 223.23 L236.62 216.91 L236.76 197.48 L236.9 190.05 L237.04 182.63 L237.18 175.2 L237.32 167.78 L237.46 160.36 L237.6 152.94 L237.74 145.52 L237.88 138.11 L237.95 134.4 L238.02 138.11 L238.16 145.52 L238.3 152.94 L238.44 160.36 L238.58 167.78 L238.72 175.2 L238.86 182.63 L239 190.05 L239.14 197.48 L239.28 216.91 L239.42 223.23 L239.56 227.02 L239.7 230.12 L239.84 232.42 L239.98 232.12 L240.12 229.33 L240.26 225.26 L240.4 221.2 L240.54 214.44 L240.68 207.68 L240.82 200.36 L240.96 192.78 L241.1 189.17 L241.24 186.2 L241.38 189.1 L241.52 192.71 L241.66 200.18 L241.8 207.53 L241.94 214.28 L242.08 221.03 L242.22 225.15 L242.36 229.2 L242.5 231.9 L242.64 232.26 L242.78 230.16 L242.92 227.07 L243.06 223.37 L243.2 217.08 L243.34 208.89 L243.48 197.89 L243.62 188.52 L243.76 182.98 L243.9 180.59 L244.04 178.28 L244.18 177.73 L244.32 177.17 L244.46 176.62 L244.6 176.6 L244.74 177.17 L244.88 177.73 L245.02 178.3 L245.16 180.53 L245.3 182.94 L245.44 188.13 L245.58 197.43 L245.72 208.37 L245.86 216.78 L246 223.05 L246.14 226.89 L246.28 229.97 L246.42 232.37 L246.56 232.16 L246.7 229.36 L246.84 225.33 L246.98 221.29 L247.12 214.65 L247.26 207.94 L247.4 200.71 L247.54 193.08 L247.68 189.58 L247.82 186.6 L247.96 189.33 L248.1 192.84 L248.24 200.14 L248.38 207.46 L248.52 214.16 L248.66 220.86 L248.8 225.01 L248.94 229.04 L249.08 231.81 L249.22 232.28 L249.36 230.17 L249.5 227.1 L249.64 223.51 L249.78 217.26 L249.92 209.25 L250.06 198.33 L250.2 189.03 L250.34 183.37 L250.48 180.98 L250.62 178.62 L250.76 178.07 L250.9 177.52 L251.04 176.96 L251.18 176.92 L251.32 177.48 L251.46 178.05 L251.6 178.62 L251.74 180.8 L251.88 183.21 L252.02 188.18 L252.16 197.38 L252.3 208.19 L252.44 216.65 L252.58 222.88 L252.72 226.77 L252.86 229.82 L253 232.29 L253.14 232.23 L253.28 229.39 L253.42 225.39 L253.56 221.39 L253.7 214.86 L253.84 208.2 L253.98 201.05 L254.12 193.38 L254.26 189.97 L254.4 187 L254.54 189.56 L254.68 192.97 L254.82 200.1 L254.96 207.39 L255.1 214.04 L255.24 220.69 L255.38 224.88 L255.52 228.87 L255.66 231.72 L255.8 232.26 L255.94 230.17 L256.08 227.12 L256.22 223.64 L256.36 217.44 L256.5 209.61 L256.64 198.77 L256.78 189.53 L256.92 183.76 L257.06 181.37 L257.2 178.97 L257.34 178.41 L257.48 177.86 L257.62 177.31 L257.76 177.23 L257.9 177.8 L258.04 178.37 L258.18 178.93 L258.32 181.07 L258.46 183.48 L258.6 188.25 L258.74 197.33 L258.88 208.01 L259.02 216.53 L259.16 222.7 L259.3 226.64 L259.44 229.68 L259.58 232.2 L259.72 232.2 L259.86 229.43 L260 225.45 L260.14 221.48 L260.28 215.07 L260.42 208.46 L260.56 201.39 L260.7 193.68 L260.84 190.37 L260.98 187.41 L261.12 189.8 L261.26 193.11 L261.4 200.06 L261.54 207.32 L261.68 213.92 L261.82 220.52 L261.96 224.75 L262.1 228.71 L262.24 231.64 L262.38 232.17 L262.52 230.17 L262.66 227.15 L262.8 223.77 L262.94 217.62 L263.08 209.96 L263.22 199.2 L263.36 190.03 L263.5 184.15 L263.64 181.76 L263.78 179.36 L263.92 178.76 L264.06 178.2 L264.2 177.65 L264.34 177.55 L264.48 178.11 L264.62 178.68 L264.76 179.25 L264.9 181.34 L265.04 183.75 L265.18 188.31 L265.32 197.28 L265.46 207.84 L265.6 216.4 L265.74 222.53 L265.88 226.52 L266.02 229.53 L266.16 232.11 L266.3 232.11 L266.44 229.46 L266.58 225.51 L266.72 221.57 L266.86 215.27 L267 208.71 L267.14 201.72 L267.28 194.08 L267.42 190.75 L267.56 187.81 L267.7 190.05 L267.84 193.25 L267.98 200.02 L268.12 207.26 L268.26 213.81 L268.4 220.35 L268.54 224.61 L268.68 228.55 L268.82 231.57 L268.96 232.08 L269.1 230.17 L269.24 227.17 L269.38 223.9 L269.52 217.79 L269.66 210.3 L269.8 199.63 L269.94 190.52 L270.08 184.54 L270.22 182.15 L270.36 179.75 L270.5 179.1 L270.64 178.55 L270.78 178 L270.92 177.86 L271.06 178.43 L271.2 179 L271.34 179.56 L271.48 181.61 L271.62 184.02 L271.76 188.38 L271.9 197.24 L272.04 207.67 L272.18 216.28 L272.32 222.36 L272.46 226.4 L272.6 229.38 L272.74 232.02 L272.88 232.02 L273.02 229.48 L273.16 225.57 L273.3 221.66 L273.44 215.47 L273.58 208.97 L273.72 202.06 L273.86 194.47 L274 191.14 L274.14 188.21 L274.28 190.3 L274.42 193.4 L274.56 199.99 L274.7 207.19 L274.84 213.69 L274.98 220.19 L275.12 224.48 L275.26 228.39 L275.4 231.51 L275.54 231.99 L275.68 230.17 L275.82 227.19 L275.96 224.02 L276.1 217.96 L276.24 210.65 L276.38 200.05 L276.52 191.01 L276.66 184.93 L276.8 182.54 L276.94 180.14 L277.08 179.45 L277.22 178.89 L277.36 178.34 L277.5 178.18 L277.64 178.75 L277.78 179.31 L277.92 179.88 L278.06 181.88 L278.2 184.29 L278.34 188.46 L278.48 197.21 L278.62 207.5 L278.76 216.16 L278.9 222.2 L279.04 226.28 L279.18 229.24 L279.32 231.93 L279.46 231.93 L279.6 229.51 L279.74 225.63 L279.88 221.74 L280.02 215.67 L280.16 209.22 L280.3 202.39 L280.44 194.86 L280.58 191.51 L280.72 188.61 L280.86 190.56 L281 193.55 L281.14 199.96 L281.28 207.14 L281.42 213.58 L281.56 220.03 L281.7 224.36 L281.84 228.23 L281.98 231.46 L282.12 231.9 L282.26 230.17 L282.4 227.21 L282.54 224.14 L282.68 218.13 L282.82 210.98 L282.96 200.47 L283.1 191.49 L283.24 185.32 L283.38 182.93 L283.52 180.53 L283.66 179.79 L283.8 179.24 L283.94 178.68 L284.08 178.49 L284.22 179.06 L284.36 179.63 L284.5 180.2 L284.64 182.15 L284.78 184.56 L284.92 188.54 L285.06 197.18 L285.2 207.34 L285.34 216.04 L285.48 222.03 L285.62 226.16 L285.76 229.1 L285.9 231.84 L286.04 231.84 L286.18 229.54 L286.32 225.68 L286.46 221.83 L286.6 215.87 L286.74 209.46 L286.88 202.71 L287.02 195.24 L287.16 191.88 L287.3 189.01 L287.44 190.82 L287.58 193.71 L287.72 199.93 L287.86 207.08 L288 213.48 L288.14 219.88 L288.28 224.23 L288.42 228.07 L288.56 231.43 L288.7 231.81 L288.84 230.16 L288.98 227.23 L289.12 224.26 L289.26 218.3 L289.4 211.32 L289.54 200.89 L289.68 191.97 L289.82 185.71 L289.96 183.32 L290.1 180.92 L290.24 180.13 L290.38 179.58 L290.52 179.03 L290.66 178.81 L290.8 179.38 L290.94 179.94 L291.08 180.51 L291.22 182.42 L291.36 184.83 L291.5 188.63 L291.64 197.16 L291.78 207.18 L291.92 215.93 L292.06 221.87 L292.2 226.04 L292.34 228.96 L292.48 231.75 L292.62 231.75 L292.76 229.56 L292.9 225.74 L293.04 221.91 L293.18 216.06 L293.32 209.71 L293.46 203.04 L293.6 195.63 L293.74 192.25 L293.88 189.41 L294.02 191.07 L294.16 193.87 L294.3 199.91 L294.44 207.03 L294.58 213.37 L294.72 219.72 L294.86 224.1 L295 227.91 L295.14 231.42 L295.28 231.72 L295.42 230.16 L295.56 227.25 L295.7 224.35 L295.84 218.46 L295.98 211.65 L296.12 201.3 L296.26 192.44 L296.4 186.1 L296.54 183.71 L296.68 181.31 L296.82 180.48 L296.96 179.92 L297.1 179.37 L297.24 179.13 L297.38 179.69 L297.52 180.26 L297.66 180.83 L297.8 182.69 L297.94 185.1 L298.08 188.73 L298.22 197.14 L298.36 207.03 L298.5 215.82 L298.64 221.71 L298.78 225.92 L298.92 228.82 L299.06 231.66 L299.2 231.66 L299.34 229.58 L299.48 225.79 L299.62 222 L299.76 216.26 L299.9 209.95 L300.04 203.36 L300.18 196.01 L300.32 192.61 L300.46 189.82 L300.6 191.33 L300.74 194.04 L300.88 199.89 L301.02 206.97 L301.16 213.27 L301.3 219.57 L301.44 223.98 L301.58 227.76 L301.72 231.44 L301.86 231.63 L302 230.18 L302.14 227.27 L302.28 224.39 L302.42 218.63 L302.56 211.97 L302.7 201.71 L302.84 192.9 L302.98 186.49 L303.12 184.1 L303.26 181.7 L303.4 180.82 L303.54 180.27 L303.68 179.71 L303.82 179.44 L303.96 180.01 L304.1 180.58 L304.24 181.14 L304.38 182.96 L304.52 185.37 L304.66 188.83 L304.8 197.13 L304.94 206.88 L305.08 215.71 L305.22 221.56 L305.36 225.81 L305.5 228.68 L305.64 231.57 L305.78 231.57 L305.92 229.6 L306.06 225.84 L306.2 222.08 L306.34 216.45 L306.48 210.19 L306.62 203.68 L306.76 196.38 L306.9 192.97 L307.04 190.22 L307.18 191.59 L307.32 194.21 L307.46 199.87 L307.6 206.93 L307.74 213.17 L307.88 219.42 L308.02 223.86 L308.16 227.61 L308.3 231.51 L308.44 231.54 L308.58 230.23 L308.72 227.29 L308.86 224.43 L309 218.79 L309.14 212.3 L309.28 202.12 L309.42 193.36 L309.56 186.88 L309.7 184.49 L309.84 182.09 L309.98 181.16 L310.12 180.61 L310.26 180.06 L310.4 179.76 L310.54 180.32 L310.68 180.89 L310.82 181.46 L310.96 183.23 L311.1 185.64 L311.24 188.93 L311.38 197.12 L311.52 206.74 L311.66 215.6 L311.8 221.4 L311.94 225.69 L312.08 228.54 L312.22 231.48 L312.36 231.48 L312.5 229.62 L312.64 225.89 L312.78 222.16 L312.92 216.63 L313.06 210.43 L313.2 203.99 L313.34 196.76 L313.48 193.32 L313.62 190.62 L313.76 191.85 L313.9 194.39 L314.04 199.85 L314.18 206.88 L314.32 213.08 L314.46 219.27 L314.6 223.74 L314.74 227.46 L314.88 231.45 L315.02 231.45 L315.16 230.34 L315.3 227.3 L315.44 224.47 L315.58 218.94 L315.72 212.61 L315.86 202.52 L316 193.82 L316.14 187.27 L316.28 184.87 L316.42 182.48 L316.56 181.51 L316.7 180.96 L316.84 180.4 L316.98 180.07 L317.12 180.64 L317.26 181.21 L317.4 181.77 L317.54 183.5 L317.68 185.91 L317.82 189.04 L317.96 197.12 L318.1 206.59 L318.24 215.5 L318.38 221.25 L318.52 225.58 L318.66 228.4 L318.8 231.39 L318.94 231.39 L319.08 229.64 L319.22 225.94 L319.36 222.24 L319.5 216.82 L319.64 210.66 L319.78 204.31 L319.92 197.13 L320.06 193.67 L320.2 191.02 L320.34 192.11 L320.48 194.57 L320.62 199.84 L320.76 206.83 L320.9 212.98 L321.04 219.13 L321.18 223.62 L321.32 227.31 L321.46 231.36 L321.6 231.36 L321.74 230.53 L321.88 227.32 L322.02 224.5 L322.16 219.1 L322.3 212.93 L322.44 202.91 L322.58 194.27 L322.72 187.66 L322.86 185.26 L323 182.87 L323.14 181.85 L323.28 181.3 L323.42 180.75 L323.56 180.39 L323.7 180.96 L323.84 181.52 L323.98 182.09 L324.12 183.77 L324.26 186.17 L324.4 189.16 L324.54 197.12 L324.68 206.46 L324.82 215.39 L324.96 221.1 L325.1 225.47 L325.24 228.27 L325.38 231.3 L325.52 231.3 L325.66 229.66 L325.8 225.98 L325.94 222.31 L326.08 217 L326.22 210.89 L326.36 204.62 L326.5 197.5 L326.64 194.01 L326.78 191.42 L326.92 192.36 L327.06 194.76 L327.2 199.83 L327.34 206.79 L327.48 212.89 L327.62 218.99 L327.76 223.5 L327.9 227.16 L328.04 231.27 L328.18 231.27 L328.32 230.86 L328.46 227.33 L328.6 224.54 L328.74 219.25 L328.88 213.24 L329.02 203.3 L329.16 194.71 L329.3 188.05 L329.44 185.65 L329.58 183.26 L329.72 182.2 L329.86 181.64 L330 181.09 L330.14 180.71 L330.28 181.27 L330.42 181.84 L330.56 182.41 L330.7 184.04 L330.84 186.44 L330.98 189.28 L331.12 197.13 L331.26 206.32 L331.4 215.29 L331.54 220.95 L331.68 225.36 L331.82 228.13 L331.96 231.21 L332.1 231.21 L332.24 229.67 L332.38 226.03 L332.52 222.39 L332.66 217.18 L332.8 211.12 L332.94 204.92 L333.08 197.86 L333.22 194.34 L333.36 191.82 L333.5 192.62 L333.64 194.95 L333.78 199.82 L333.92 206.75 L334.06 212.8 L334.2 218.85 L334.34 223.38 L334.48 227.01 L334.62 231.18 L334.76 231.18 L334.9 231.17 L335.04 227.34 L335.18 224.57 L335.32 219.4 L335.46 213.54 L335.6 203.69 L335.74 195.15 L335.88 188.44 L336.02 186.04 L336.16 183.65 L336.3 182.54 L336.44 181.99 L336.58 181.43 L336.72 181.02 L336.86 181.59 L337 182.15 L337.14 182.72 L337.28 184.31 L337.42 186.71 L337.56 189.41 L337.7 197.15 L337.84 206.2 L337.98 215.19 L338.12 220.81 L338.26 225.25 L338.4 228 L338.54 231.12 L338.68 231.12 L338.82 229.77 L338.96 226.07 L339.1 222.46 L339.24 217.35 L339.38 211.35 L339.52 205.23 L339.66 198.23 L339.8 194.67 L339.94 192.23 L340.08 192.88 L340.22 195.15 L340.36 199.82 L340.5 206.72 L340.64 212.72 L340.78 218.71 L340.92 223.27 L341.06 226.87 L341.2 231.09 L341.34 231.09 L341.48 231.08 L341.62 227.35 L341.76 224.61 L341.9 219.55 L342.04 213.85 L342.18 204.08 L342.32 195.58 L342.46 188.83 L342.6 186.43 L342.74 184.04 L342.88 182.88 L343.02 182.33 L343.16 181.78 L343.3 181.34 L343.44 181.9 L343.58 182.47 L343.72 183.04 L343.86 184.58 L344 186.98 L344.14 189.54 L344.28 197.17 L344.42 206.07 L344.56 215.1 L344.7 220.67 L344.84 225.14 L344.98 227.87 L345.12 231.03 L345.26 231.03 L345.4 229.82 L345.54 226.11 L345.68 222.53 L345.82 217.53 L345.96 211.58 L346.1 205.53 L346.24 198.59 L346.38 195 L346.52 192.63 L346.66 193.14 L346.8 195.36 L346.94 199.82 L347.08 206.68 L347.22 212.63 L347.36 218.57 L347.5 223.15 L347.64 226.72 L347.78 231 L347.92 231 L348.06 230.99 L348.2 227.36 L348.34 224.64 L348.48 219.69 L348.62 214.14 L348.76 204.46 L348.9 196 L349.04 189.22 L349.18 186.82 L349.32 184.43 L349.46 183.23 L349.6 182.67 L349.74 182.12 L349.88 181.65 L350.02 182.22 L350.16 182.79 L350.3 183.35 L350.44 184.85 L350.58 187.25 L350.72 189.68 L350.86 197.2 L351 205.95 L351.14 215.01 L351.28 220.53 L351.42 225.03 L351.56 227.74 L351.7 230.94 L351.84 230.94 L351.98 229.82 L352.12 226.15 L352.26 222.6 L352.4 217.7 L352.54 211.8 L352.68 205.82 L352.82 198.94 L352.96 195.32 L353.1 193.03 L353.24 193.4 L353.38 195.56 L353.52 199.82 L353.66 206.65 L353.8 212.55 L353.94 218.44 L354.08 223.04 L354.22 226.58 L354.36 230.91 L354.5 230.91 L354.64 230.9 L354.78 227.37 L354.92 224.67 L355.06 219.84 L355.2 214.35 L355.34 204.83 L355.48 196.42 L355.62 189.61 L355.76 187.21 L355.9 184.82 L356.04 183.57 L356.18 183.02 L356.32 182.47 L356.46 181.97 L356.6 182.54 L356.74 183.1 L356.88 183.67 L357.02 185.12 L357.16 187.52 L357.3 189.93 L357.44 197.23 L357.58 205.83 L357.72 214.92 L357.86 220.39 L358 224.92 L358.14 227.61 L358.28 230.82 L358.42 230.85 L358.56 229.78 L358.7 226.19 L358.84 222.67 L358.98 217.87 L359.12 212.02 L359.26 206.12 L359.4 199.3 L359.54 195.63 L359.68 193.43 L359.82 193.65 L359.96 195.78 L360.1 199.83 L360.24 206.63 L360.38 212.47 L360.52 218.31 L360.66 222.93 L360.8 226.44 L360.94 230.71 L361.08 230.82 L361.22 230.81 L361.36 227.38 L361.5 224.7 L361.64 219.98 L361.78 214.54 L361.92 205.2 L362.06 196.84 L362.2 190 L362.34 187.6 L362.48 185.21 L362.62 183.92 L362.76 183.36 L362.9 182.81 L363.04 182.28 L363.18 182.85 L363.32 183.42 L363.46 183.99 L363.6 185.39 L363.74 187.79 L363.88 190.2 L364.02 197.27 L364.16 205.72 L364.3 214.83 L364.44 220.25 L364.58 224.82 L364.72 227.48 L364.86 230.42 L365 230.76 L365.14 229.73 L365.28 226.23 L365.42 222.74 L365.56 218.04 L365.7 212.24 L365.84 206.41 L365.98 199.65 L366.12 195.94 L366.26 193.83 L366.4 193.91 L366.54 196 L366.68 199.84 L366.82 206.6 L366.96 212.39 L367.1 218.19 L367.24 222.82 L367.38 226.3 L367.52 230.18 L367.66 230.73 L367.8 230.72 L367.94 227.38 L368.08 224.73 L368.22 220.12 L368.36 214.72 L368.5 205.57 L368.64 197.25 L368.78 190.39 L368.92 187.99 L369.06 185.6 L369.2 184.26 L369.34 183.71 L369.48 183.15 L369.62 182.6 L369.76 183.17 L369.9 183.73 L370.04 184.3 L370.18 185.66 L370.32 188.06 L370.46 190.47 L370.6 197.31 L370.74 205.61 L370.88 214.74 L371.02 220.12 L371.16 224.71 L371.3 227.35 L371.44 230.1 L371.58 230.67 L371.72 229.66 L371.86 226.27 L372 222.81 L372.14 218.2 L372.28 212.45 L372.42 206.7 L372.56 200 L372.7 196.24 L372.84 194.23 L372.98 194.17 L373.12 196.22 L373.26 199.85 L373.4 206.55 L373.54 212.32 L373.68 218.06 L373.82 222.71 L373.96 226.16 L374.1 229.79 L374.24 230.64 L374.38 230.63 L374.52 227.39 L374.66 224.76 L374.8 220.25 L374.94 214.9 L375.08 205.93 L375.22 197.65 L375.36 190.78 L375.5 188.38 L375.64 185.99 L375.78 184.6 L375.92 184.05 L376.06 183.5 L376.2 182.94 L376.34 183.48 L376.48 184.05 L376.62 184.62 L376.76 185.93 L376.9 188.33 L377.04 190.74 L377.18 197.36 L377.32 205.51 L377.46 214.66 L377.6 219.99 L377.74 224.61 L377.88 227.23 L378.02 229.85 L378.16 230.58 L378.3 229.6 L378.44 226.3 L378.58 222.87 L378.72 218.36 L378.86 212.66 L379 206.96 L379.14 200.34 L379.28 196.54 L379.42 194.64 L379.56 194.43 L379.7 196.45 L379.84 199.86 L379.98 206.51 L380.12 212.25 L380.26 217.94 L380.4 222.61 L380.54 226.03 L380.68 229.5 L380.82 230.55 L380.96 230.47 L381.1 227.39 L381.24 224.79 L381.38 220.39 L381.52 215.09 L381.66 206.29 L381.8 198.05 L381.94 191.17 L382.08 188.77 L382.22 186.38 L382.36 184.95 L382.5 184.39 L382.64 183.84 L382.78 183.29 L382.92 183.8 L383.06 184.37 L383.2 184.93 L383.34 186.2 L383.48 188.6 L383.62 191.01 L383.76 197.42 L383.9 205.41 L384.04 214.57 L384.18 219.86 L384.32 224.51 L384.46 227.1 L384.6 229.64 L384.74 230.49 L384.88 229.54 L385.02 226.33 L385.16 222.93 L385.3 218.52 L385.44 212.87 L385.58 207.22 L385.72 200.68 L385.86 196.84 L386 195.04 L386.14 194.69 L386.28 196.69 L386.42 199.88 L386.56 206.47 L386.7 212.18 L386.84 217.82 L386.98 222.5 L387.12 225.89 L387.26 229.28 L387.4 230.46 L387.54 230.26 L387.68 227.39 L387.82 224.81 L387.96 220.52 L388.1 215.26 L388.24 206.65 L388.38 198.44 L388.52 191.57 L388.66 189.16 L388.8 186.77 L388.94 185.29 L389.08 184.74 L389.22 184.18 L389.36 183.63 L389.5 184.11 L389.64 184.68 L389.78 185.25 L389.92 186.47 L390.06 188.87 L390.2 191.28 L390.34 197.48 L390.48 205.31 L390.62 214.48 L390.76 219.73 L390.9 224.41 L391.04 226.98 L391.18 229.46 L391.32 230.4 L391.46 229.47 L391.6 226.36 L391.74 223 L391.88 218.68 L392.02 213.08 L392.16 207.48 L392.3 201.02 L392.44 197.13 L392.58 195.44 L392.72 194.94 L392.86 196.93 L393 199.9 L393.14 206.43 L393.28 212.11 L393.42 217.7 L393.56 222.4 L393.7 225.76 L393.84 229.1 L393.98 230.37 L394.12 230.09 L394.26 227.4 L394.4 224.84 L394.54 220.65 L394.68 215.44 L394.82 207 L394.96 198.83 L395.1 192.07 L395.24 189.55 L395.38 187.16 L395.52 185.63 L395.66 185.08 L395.8 184.53 L395.94 183.98 L396.08 184.43 L396.22 185 L396.36 185.56 L396.5 186.74 L396.64 189.14 L396.78 191.55 L396.92 197.55 L397.06 205.22 L397.2 214.31 L397.34 219.61 L397.48 224.31 L397.62 226.85 L397.76 229.3 L397.9 230.31 L398.04 229.41 L398.18 226.39 L398.32 223.06 L398.46 218.83 L398.6 213.28 L398.74 207.74 L398.88 201.36 L399.02 197.41 L399.16 195.84 L399.3 195.2 L399.44 197.17 L399.58 199.92 L399.72 206.39 L399.86 212.05 L400 217.59 L400.14 222.3 L400.28 225.63 L400.42 228.94 L400.56 230.28 L400.7 229.94 L400.84 227.4 L400.98 224.86 L401.12 220.77 L401.26 215.61 L401.4 207.34 L401.54 199.21 L401.68 192.56 L401.82 189.94 L401.96 187.55 L402.1 185.98 L402.24 185.43 L402.38 184.87 L402.52 184.32 L402.66 184.75 L402.8 185.31 L402.94 185.88 L403.08 187.01 L403.22 189.41 L403.36 191.82 L403.5 197.62 L403.64 205.13 L403.78 214.14 L403.92 219.49 L404.06 224.21 L404.2 226.73 L404.34 229.15 L404.48 230.22 L404.62 229.34 L404.76 226.42 L404.9 223.11 L405.04 218.98 L405.18 213.49 L405.32 207.99 L405.46 201.69 L405.6 197.69 L405.74 196.24 L405.88 195.46 L406.02 197.43 L406.16 199.95 L406.3 206.36 L406.44 211.99 L406.58 217.48 L406.72 222.2 L406.86 225.5 L407 228.79 L407.14 230.19 L407.28 229.81 L407.42 227.39 L407.56 224.88 L407.7 220.9 L407.84 215.78 L407.98 207.69 L408.12 199.59 L408.26 193.05 L408.4 190.33 L408.54 187.94 L408.68 186.32 L408.82 185.77 L408.96 185.22 L409.1 184.66 L409.24 185.06 L409.38 185.63 L409.52 186.2 L409.66 187.28 L409.8 189.68 L409.94 192.09 L410.08 197.7 L410.22 205.05 L410.36 213.97 L410.5 219.37 L410.64 224.11 L410.78 226.61 L410.92 229.01 L411.06 230.13 L411.2 229.28 L411.34 226.45 L411.48 223.17 L411.62 219.13 L411.76 213.68 L411.9 208.24 L412.04 202.02 L412.18 197.96 L412.32 196.64 L412.46 195.72 L412.6 197.68 L412.74 199.98 L412.88 206.33 L413.02 211.93 L413.16 217.37 L413.3 222.1 L413.44 225.37 L413.58 228.64 L413.72 230.1 L413.86 229.7 L414 227.39 L414.14 224.9 L414.28 221.02 L414.42 215.95 L414.56 208.03 L414.7 199.96 L414.84 193.53 L414.98 190.72 L415.12 188.33 L415.26 186.67 L415.4 186.11 L415.54 185.56 L415.68 185.01 L415.82 185.38 L415.96 185.94 L416.1 186.51 L416.24 187.55 L416.38 189.95 L416.52 192.36 L416.66 197.78 L416.8 204.97 L416.94 213.81 L417.08 219.25 L417.22 224.01 L417.36 226.49 L417.5 228.88 L417.64 230.04 L417.78 229.22 L417.92 226.47 L418.06 223.23 L418.2 219.28 L418.34 213.88 L418.48 208.49 L418.62 202.35 L418.76 198.23 L418.9 197.05 L419.04 195.98 L419.18 197.94 L419.32 200.01 L419.46 206.3 L419.6 211.87 L419.74 217.26 L419.88 222.01 L420.02 225.24 L420.16 228.48 L420.3 230.01 L420.44 229.6 L420.58 227.39 L420.72 224.92 L420.86 221.14 L421 216.12 L421.14 208.36 L421.28 200.32 L421.42 194.01 L421.56 191.11 L421.7 188.72 L421.84 187.01 L421.98 186.46 L422.12 185.9 L422.26 185.35 L422.4 185.69 L422.54 186.26 L422.68 186.83 L422.82 187.82 L422.96 190.22 L423.1 192.63 L423.24 197.87 L423.38 204.9 L423.52 213.65 L423.66 219.14 L423.8 223.92 L423.94 226.37 L424.08 228.75 L424.22 229.95 L424.36 229.16 L424.5 226.5 L424.64 223.28 L424.78 219.42 L424.92 214.08 L425.06 208.73 L425.2 202.67 L425.34 198.49 L425.48 197.45 L425.62 196.23 L425.76 198.21 L425.9 200.04 L426.04 206.28 L426.18 211.82 L426.32 217.16 L426.46 221.91 L426.6 225.12 L426.74 228.32 L426.88 229.92 L427.02 229.5 L427.16 227.38 L427.3 224.94 L427.44 221.26 L427.58 216.29 L427.72 208.69 L427.86 200.68 L428 194.48 L428.14 191.5 L428.28 189.11 L428.42 187.35 L428.56 186.8 L428.7 186.25 L428.84 185.69 L428.98 186.01 L429.12 186.58 L429.26 187.14 L429.4 188.09 L429.54 190.49 L429.68 192.9 L429.82 197.96 L429.96 204.82 L430.1 213.5 L430.24 219.03 L430.38 223.83 L430.52 226.26 L430.66 228.63 L430.8 229.86 L430.94 229.1 L431.08 226.52 L431.22 223.33 L431.36 219.57 L431.5 214.27 L431.64 208.97 L431.78 202.99 L431.92 198.75 L432.06 197.85 L432.2 196.49 L432.34 198.48 L432.48 200.08 L432.62 206.26 L432.76 211.77 L432.9 217.06 L433.04 221.82 L433.18 224.99 L433.32 228.17 L433.46 229.83 L433.6 229.41 L433.74 227.38 L433.88 224.96 L434.02 221.37 L434.16 216.45 L434.3 209.02 L434.44 201.03 L434.58 194.94 L434.72 191.89 L434.86 189.5 L435 187.7 L435.14 187.14 L435.28 186.59 L435.42 186.04 L435.56 186.33 L435.7 186.89 L435.84 187.46 L435.98 188.35 L436.12 190.76 L436.26 193.17 L436.4 198.06 L436.54 204.76 L436.68 213.35 L436.82 218.92 L436.96 223.73 L437.1 226.14 L437.24 228.51 L437.38 229.77 L437.52 229.03 L437.66 226.54 L437.8 223.38 L437.94 219.71 L438.08 214.46 L438.22 209.21 L438.36 203.31 L438.5 199 L438.64 198.25 L438.78 196.75 L438.92 198.76 L439.06 200.12 L439.2 206.24 L439.34 211.72 L439.48 216.96 L439.62 221.72 L439.76 224.87 L439.9 228.02 L440.04 229.74 L440.18 229.33 L440.32 227.37 L440.46 224.97 L440.6 221.49 L440.74 216.61 L440.88 209.34 L441.02 201.38 L441.16 195.4 L441.3 192.28 L441.44 189.89 L441.58 188.04 L441.72 187.49 L441.86 186.94 L442 186.38 L442.14 186.64 L442.28 187.21 L442.42 187.78 L442.56 188.62 L442.7 191.03 L442.84 193.44 L442.98 198.17 L443.12 204.69 L443.26 213.2 L443.4 218.81 L443.54 223.64 L443.68 226.03 L443.82 228.4 L443.96 229.68 L444.1 228.97 L444.24 226.56 L444.38 223.43 L444.52 219.84 L444.66 214.64 L444.8 209.45 L444.94 203.63 L445.08 199.25 L445.22 198.65 L445.36 197.01 L445.5 199.04 L445.64 200.16 L445.78 206.22 L445.92 211.67 L446.06 216.86 L446.2 221.63 L446.34 224.75 L446.48 227.86 L446.62 229.65 L446.76 229.25 L446.9 227.36 L447.04 224.99 L447.18 221.6 L447.32 216.76 L447.46 209.66 L447.6 201.72 L447.74 195.86 L447.88 192.67 L448.02 190.28 L448.16 188.38 L448.3 187.83 L448.44 187.28 L448.58 186.73 L448.72 186.96 L448.86 187.52 L449 188.09 L449.14 188.89 L449.28 191.3 L449.42 193.71 L449.56 198.28 L449.7 204.64 L449.84 213.06 L449.98 218.7 L450.12 223.52 L450.26 225.91 L450.4 228.27 L450.54 229.59 L450.68 228.91 L450.82 226.58 L450.96 223.48 L451.1 219.98 L451.24 214.83 L451.38 209.68 L451.52 203.94 L451.66 199.49 L451.8 199.06 L451.94 197.27 L452.08 199.33 L452.22 200.21 L452.36 206.21 L452.5 211.63 L452.64 216.77 L452.78 221.54 L452.92 224.63 L453.06 227.71 L453.2 229.48 L453.34 229.17 L453.48 227.36 L453.62 225 L453.76 221.7 L453.9 216.92 L454.04 209.97 L454.18 202.06 L454.32 196.31 L454.46 193.06 L454.6 190.67 L454.74 188.73 L454.88 188.18 L455.02 187.62 L455.16 187.07 L455.3 187.27 L455.44 187.84 L455.58 188.41 L455.72 189.16 L455.86 191.57 L456 193.98 L456.14 198.39 L456.28 204.58 L456.42 212.93 L456.56 218.6 L456.7 223.37 L456.84 225.8 L456.98 228.14 L457.12 229.5 L457.26 228.85 L457.4 226.59 L457.4 243.5 L18.5 243.5Z" fill="url(#moire)" stroke="none"/>
<defs><path id="env1" d="M18.5 226.59 L18.64 228.9 L18.78 229.61 L18.92 228.14 L19.06 225.8 L19.2 223.37 L19.34 218.6 L19.48 212.93 L19.62 204.58 L19.76 198.39 L19.9 193.98 L20.04 191.57 L20.18 189.16 L20.32 188.41 L20.46 187.84 L20.6 187.27 L20.74 187.07 L20.88 187.62 L21.02 188.18 L21.16 188.73 L21.3 190.67 L21.44 193.06 L21.58 196.31 L21.72 202.06 L21.86 209.97 L22 216.92 L22.14 221.7 L22.28 225 L22.42 227.36 L22.56 229.1 L22.7 229.38 L22.84 227.71 L22.98 224.63 L23.12 221.54 L23.26 216.77 L23.4 211.63 L23.54 206.21 L23.68 200.21 L23.82 199.33 L23.96 197.27 L24.1 199.06 L24.24 199.49 L24.38 203.94 L24.52 209.68 L24.66 214.83 L24.8 219.98 L24.94 223.48 L25.08 226.58 L25.22 228.97 L25.36 229.78 L25.5 228.27 L25.64 225.91 L25.78 223.52 L25.92 218.7 L26.06 213.06 L26.2 204.64 L26.34 198.28 L26.48 193.71 L26.62 191.3 L26.76 188.89 L26.9 188.09 L27.04 187.52 L27.18 186.96 L27.32 186.73 L27.46 187.28 L27.6 187.83 L27.74 188.38 L27.88 190.28 L28.02 192.67 L28.16 195.86 L28.3 201.72 L28.44 209.66 L28.58 216.76 L28.72 221.6 L28.86 224.99 L29 227.36 L29.14 229.17 L29.28 229.53 L29.42 227.86 L29.56 224.75 L29.7 221.63 L29.84 216.86 L29.98 211.67 L30.12 206.22 L30.26 200.16 L30.4 199.04 L30.54 197.01 L30.68 198.65 L30.82 199.25 L30.96 203.63 L31.1 209.45 L31.24 214.64 L31.38 219.84 L31.52 223.43 L31.66 226.56 L31.8 229.04 L31.94 229.97 L32.08 228.4 L32.22 226.03 L32.36 223.64 L32.5 218.81 L32.64 213.2 L32.78 204.69 L32.92 198.17 L33.06 193.44 L33.2 191.03 L33.34 188.62 L33.48 187.78 L33.62 187.21 L33.76 186.64 L33.9 186.38 L34.04 186.94 L34.18 187.49 L34.32 188.04 L34.46 189.89 L34.6 192.28 L34.74 195.4 L34.88 201.38 L35.02 209.34 L35.16 216.61 L35.3 221.49 L35.44 224.97 L35.58 227.37 L35.72 229.24 L35.86 229.68 L36 228.02 L36.14 224.87 L36.28 221.72 L36.42 216.96 L36.56 211.72 L36.7 206.24 L36.84 200.12 L36.98 198.76 L37.12 196.75 L37.26 198.25 L37.4 199 L37.54 203.31 L37.68 209.21 L37.82 214.46 L37.96 219.71 L38.1 223.38 L38.24 226.54 L38.38 229.1 L38.52 230.17 L38.66 228.52 L38.8 226.14 L38.94 223.73 L39.08 218.92 L39.22 213.35 L39.36 204.76 L39.5 198.06 L39.64 193.17 L39.78 190.76 L39.92 188.35 L40.06 187.46 L40.2 186.89 L40.34 186.33 L40.48 186.04 L40.62 186.59 L40.76 187.14 L40.9 187.7 L41.04 189.5 L41.18 191.89 L41.32 194.94 L41.46 201.03 L41.6 209.02 L41.74 216.45 L41.88 221.37 L42.02 224.96 L42.16 227.38 L42.3 229.31 L42.44 229.84 L42.58 228.17 L42.72 224.99 L42.86 221.82 L43 217.06 L43.14 211.77 L43.28 206.26 L43.42 200.08 L43.56 198.48 L43.7 196.49 L43.84 197.85 L43.98 198.75 L44.12 202.99 L44.26 208.97 L44.4 214.27 L44.54 219.57 L44.68 223.33 L44.82 226.52 L44.96 229.18 L45.1 230.38 L45.24 228.65 L45.38 226.26 L45.52 223.83 L45.66 219.03 L45.8 213.5 L45.94 204.82 L46.08 197.96 L46.22 192.9 L46.36 190.49 L46.5 188.09 L46.64 187.14 L46.78 186.58 L46.92 186.01 L47.06 185.69 L47.2 186.25 L47.34 186.8 L47.48 187.35 L47.62 189.11 L47.76 191.5 L47.9 194.48 L48.04 200.68 L48.18 208.69 L48.32 216.29 L48.46 221.26 L48.6 224.94 L48.74 227.38 L48.88 229.38 L49.02 230.02 L49.16 228.32 L49.3 225.12 L49.44 221.91 L49.58 217.16 L49.72 211.82 L49.86 206.28 L50 200.04 L50.14 198.21 L50.28 196.23 L50.42 197.45 L50.56 198.49 L50.7 202.67 L50.84 208.73 L50.98 214.08 L51.12 219.42 L51.26 223.28 L51.4 226.5 L51.54 229.25 L51.68 230.63 L51.82 228.78 L51.96 226.37 L52.1 223.92 L52.24 219.14 L52.38 213.65 L52.52 204.9 L52.66 197.87 L52.8 192.63 L52.94 190.22 L53.08 187.82 L53.22 186.83 L53.36 186.26 L53.5 185.69 L53.64 185.35 L53.78 185.9 L53.92 186.46 L54.06 187.01 L54.2 188.72 L54.34 191.11 L54.48 194.01 L54.62 200.32 L54.76 208.36 L54.9 216.12 L55.04 221.14 L55.18 224.92 L55.32 227.39 L55.46 229.45 L55.6 230.2 L55.74 228.48 L55.88 225.24 L56.02 222.01 L56.16 217.26 L56.3 211.87 L56.44 206.3 L56.58 200.01 L56.72 197.94 L56.86 195.98 L57 197.05 L57.14 198.23 L57.28 202.35 L57.42 208.49 L57.56 213.88 L57.7 219.28 L57.84 223.23 L57.98 226.47 L58.12 229.32 L58.26 230.91 L58.4 228.92 L58.54 226.49 L58.68 224.01 L58.82 219.25 L58.96 213.81 L59.1 204.97 L59.24 197.78 L59.38 192.36 L59.52 189.95 L59.66 187.55 L59.8 186.51 L59.94 185.94 L60.08 185.38 L60.22 185.01 L60.36 185.56 L60.5 186.11 L60.64 186.67 L60.78 188.33 L60.92 190.72 L61.06 193.53 L61.2 199.96 L61.34 208.03 L61.48 215.95 L61.62 221.02 L61.76 224.9 L61.9 227.39 L62.04 229.53 L62.18 230.4 L62.32 228.64 L62.46 225.37 L62.6 222.1 L62.74 217.37 L62.88 211.93 L63.02 206.33 L63.16 199.98 L63.3 197.68 L63.44 195.72 L63.58 196.64 L63.72 197.96 L63.86 202.02 L64 208.24 L64.14 213.68 L64.28 219.13 L64.42 223.17 L64.56 226.45 L64.7 229.4 L64.84 231.23 L64.98 229.07 L65.12 226.61 L65.26 224.11 L65.4 219.37 L65.54 213.97 L65.68 205.05 L65.82 197.7 L65.96 192.09 L66.1 189.68 L66.24 187.28 L66.38 186.2 L66.52 185.63 L66.66 185.06 L66.8 184.66 L66.94 185.22 L67.08 185.77 L67.22 186.32 L67.36 187.94 L67.5 190.33 L67.64 193.05 L67.78 199.59 L67.92 207.69 L68.06 215.78 L68.2 220.9 L68.34 224.88 L68.48 227.39 L68.62 229.61 L68.76 230.62 L68.9 228.79 L69.04 225.5 L69.18 222.2 L69.32 217.48 L69.46 211.99 L69.6 206.36 L69.74 199.95 L69.88 197.43 L70.02 195.46 L70.16 196.24 L70.3 197.69 L70.44 201.69 L70.58 207.99 L70.72 213.49 L70.86 218.98 L71 223.11 L71.14 226.42 L71.28 229.49 L71.42 231.62 L71.56 229.23 L71.7 226.73 L71.84 224.21 L71.98 219.49 L72.12 214.14 L72.26 205.13 L72.4 197.62 L72.54 191.82 L72.68 189.41 L72.82 187.01 L72.96 185.88 L73.1 185.31 L73.24 184.75 L73.38 184.32 L73.52 184.87 L73.66 185.43 L73.8 185.98 L73.94 187.55 L74.08 189.94 L74.22 192.56 L74.36 199.21 L74.5 207.34 L74.64 215.61 L74.78 220.77 L74.92 224.86 L75.06 227.4 L75.2 229.69 L75.34 230.87 L75.48 228.93 L75.62 225.63 L75.76 222.3 L75.9 217.59 L76.04 212.05 L76.18 206.39 L76.32 199.92 L76.46 197.17 L76.6 195.2 L76.74 195.84 L76.88 197.41 L77.02 201.36 L77.16 207.74 L77.3 213.28 L77.44 218.83 L77.58 223.06 L77.72 226.39 L77.86 229.57 L78 232.11 L78.14 229.43 L78.28 226.85 L78.42 224.31 L78.56 219.61 L78.7 214.31 L78.84 205.22 L78.98 197.55 L79.12 191.55 L79.26 189.14 L79.4 186.74 L79.54 185.56 L79.68 185 L79.82 184.43 L79.96 183.98 L80.1 184.53 L80.24 185.08 L80.38 185.63 L80.52 187.16 L80.66 189.55 L80.8 192.07 L80.94 198.83 L81.08 207 L81.22 215.44 L81.36 220.65 L81.5 224.84 L81.64 227.4 L81.78 229.78 L81.92 231.16 L82.06 229.06 L82.2 225.76 L82.34 222.4 L82.48 217.7 L82.62 212.11 L82.76 206.43 L82.9 199.9 L83.04 196.93 L83.18 194.94 L83.32 195.44 L83.46 197.13 L83.6 201.02 L83.74 207.48 L83.88 213.08 L84.02 218.68 L84.16 223 L84.3 226.36 L84.44 229.67 L84.58 232.72 L84.72 229.65 L84.86 226.98 L85 224.41 L85.14 219.73 L85.28 214.48 L85.42 205.31 L85.56 197.48 L85.7 191.28 L85.84 188.87 L85.98 186.47 L86.12 185.25 L86.26 184.68 L86.4 184.11 L86.54 183.63 L86.68 184.18 L86.82 184.74 L86.96 185.29 L87.1 186.77 L87.24 189.16 L87.38 191.57 L87.52 198.44 L87.66 206.65 L87.8 215.26 L87.94 220.52 L88.08 224.81 L88.22 227.39 L88.36 229.87 L88.5 231.49 L88.64 229.21 L88.78 225.89 L88.92 222.5 L89.06 217.82 L89.2 212.18 L89.34 206.47 L89.48 199.88 L89.62 196.69 L89.76 194.69 L89.9 195.04 L90.04 196.84 L90.18 200.68 L90.32 207.22 L90.46 212.87 L90.6 218.52 L90.74 222.93 L90.88 226.33 L91.02 229.77 L91.16 233.38 L91.3 229.93 L91.44 227.1 L91.58 224.51 L91.72 219.86 L91.86 214.57 L92 205.41 L92.14 197.42 L92.28 191.01 L92.42 188.6 L92.56 186.2 L92.7 184.93 L92.84 184.37 L92.98 183.8 L93.12 183.29 L93.26 183.84 L93.4 184.39 L93.54 184.95 L93.68 186.38 L93.82 188.77 L93.96 191.17 L94.1 198.05 L94.24 206.29 L94.38 215.09 L94.52 220.39 L94.66 224.79 L94.8 227.39 L94.94 229.97 L95.08 231.9 L95.22 229.36 L95.36 226.03 L95.5 222.61 L95.64 217.94 L95.78 212.25 L95.92 206.51 L96.06 199.86 L96.2 196.45 L96.34 194.43 L96.48 194.64 L96.62 196.54 L96.76 200.34 L96.9 206.96 L97.04 212.66 L97.18 218.36 L97.32 222.87 L97.46 226.3 L97.6 229.88 L97.74 234.24 L97.88 230.3 L98.02 227.23 L98.16 224.61 L98.3 219.99 L98.44 214.66 L98.58 205.51 L98.72 197.36 L98.86 190.74 L99 188.33 L99.14 185.93 L99.28 184.62 L99.42 184.05 L99.56 183.48 L99.7 182.94 L99.84 183.5 L99.98 184.05 L100.12 184.6 L100.26 185.99 L100.4 188.38 L100.54 190.78 L100.68 197.65 L100.82 205.93 L100.96 214.9 L101.1 220.25 L101.24 224.76 L101.38 227.39 L101.52 230.09 L101.66 232.41 L101.8 229.54 L101.94 226.16 L102.08 222.71 L102.22 218.06 L102.36 212.32 L102.5 206.55 L102.64 199.85 L102.78 196.22 L102.92 194.17 L103.06 194.23 L103.2 196.24 L103.34 200 L103.48 206.7 L103.62 212.45 L103.76 218.2 L103.9 222.81 L104.04 226.27 L104.18 230 L104.32 235.41 L104.46 230.79 L104.6 227.35 L104.74 224.71 L104.88 220.12 L105.02 214.74 L105.16 205.61 L105.3 197.31 L105.44 190.47 L105.58 188.06 L105.72 185.66 L105.86 184.3 L106 183.73 L106.14 183.17 L106.28 182.6 L106.42 183.15 L106.56 183.71 L106.7 184.26 L106.84 185.6 L106.98 187.99 L107.12 190.39 L107.26 197.25 L107.4 205.57 L107.54 214.72 L107.68 220.12 L107.82 224.73 L107.96 227.38 L108.1 230.22 L108.24 233.07 L108.38 229.76 L108.52 226.3 L108.66 222.82 L108.8 218.19 L108.94 212.39 L109.08 206.6 L109.22 199.84 L109.36 196 L109.5 193.91 L109.64 193.83 L109.78 195.94 L109.92 199.65 L110.06 206.41 L110.2 212.24 L110.34 218.04 L110.48 222.74 L110.62 226.23 L110.76 230.12 L110.9 237 L111.04 231.46 L111.18 227.48 L111.32 224.82 L111.46 220.25 L111.6 214.83 L111.74 205.72 L111.88 197.27 L112.02 190.2 L112.16 187.79 L112.3 185.39 L112.44 183.99 L112.58 183.42 L112.72 182.85 L112.86 182.28 L113 182.81 L113.14 183.36 L113.28 183.92 L113.42 185.21 L113.56 187.6 L113.7 190 L113.84 196.84 L113.98 205.2 L114.12 214.54 L114.26 219.98 L114.4 224.7 L114.54 227.38 L114.68 230.38 L114.82 233.94 L114.96 230.02 L115.1 226.44 L115.24 222.93 L115.38 218.31 L115.52 212.47 L115.66 206.63 L115.8 199.83 L115.94 195.78 L116.08 193.65 L116.22 193.43 L116.36 195.63 L116.5 199.3 L116.64 206.12 L116.78 212.02 L116.92 217.87 L117.06 222.67 L117.2 226.19 L117.34 230.2 L117.48 239.01 L117.62 232.36 L117.76 227.61 L117.9 224.92 L118.04 220.39 L118.18 214.92 L118.32 205.83 L118.46 197.23 L118.6 189.93 L118.74 187.52 L118.88 185.12 L119.02 183.67 L119.16 183.1 L119.3 182.54 L119.44 181.97 L119.58 182.47 L119.72 183.02 L119.86 183.57 L120 184.82 L120.14 187.21 L120.28 189.61 L120.42 196.42 L120.56 204.83 L120.7 214.35 L120.84 219.84 L120.98 224.67 L121.12 227.37 L121.26 230.56 L121.4 235.15 L121.54 230.36 L121.68 226.58 L121.82 223.04 L121.96 218.44 L122.1 212.55 L122.24 206.65 L122.38 199.82 L122.52 195.56 L122.66 193.4 L122.8 193.03 L122.94 195.32 L123.08 198.94 L123.22 205.82 L123.36 211.8 L123.5 217.7 L123.64 222.6 L123.78 226.15 L123.92 230.2 L124.06 241.01 L124.2 233.38 L124.34 227.74 L124.48 225.03 L124.62 220.53 L124.76 215.01 L124.9 205.95 L125.04 197.2 L125.18 189.68 L125.32 187.25 L125.46 184.85 L125.6 183.35 L125.74 182.79 L125.88 182.22 L126.02 181.65 L126.16 182.12 L126.3 182.67 L126.44 183.23 L126.58 184.43 L126.72 186.82 L126.86 189.22 L127 196 L127.14 204.46 L127.28 214.14 L127.42 219.69 L127.56 224.64 L127.7 227.36 L127.84 230.77 L127.98 236.79 L128.12 230.83 L128.26 226.72 L128.4 223.15 L128.54 218.57 L128.68 212.63 L128.82 206.68 L128.96 199.82 L129.1 195.36 L129.24 193.14 L129.38 192.63 L129.52 195 L129.66 198.59 L129.8 205.53 L129.94 211.58 L130.08 217.53 L130.22 222.53 L130.36 226.11 L130.5 230.05 L130.64 241.97 L130.78 234.14 L130.92 227.87 L131.06 225.14 L131.2 220.67 L131.34 215.1 L131.48 206.07 L131.62 197.17 L131.76 189.54 L131.9 186.98 L132.04 184.58 L132.18 183.04 L132.32 182.47 L132.46 181.9 L132.6 181.34 L132.74 181.78 L132.88 182.33 L133.02 182.88 L133.16 184.04 L133.3 186.43 L133.44 188.83 L133.58 195.58 L133.72 204.08 L133.86 213.85 L134 219.55 L134.14 224.61 L134.28 227.35 L134.42 231.01 L134.56 238.71 L134.7 231.47 L134.84 226.87 L134.98 223.27 L135.12 218.71 L135.26 212.72 L135.4 206.72 L135.54 199.82 L135.68 195.15 L135.82 192.88 L135.96 192.23 L136.1 194.67 L136.24 198.23 L136.38 205.23 L136.52 211.35 L136.66 217.35 L136.8 222.46 L136.94 226.07 L137.08 229.82 L137.22 241.09 L137.36 234.24 L137.5 228 L137.64 225.25 L137.78 220.81 L137.92 215.19 L138.06 206.2 L138.2 197.15 L138.34 189.41 L138.48 186.71 L138.62 184.31 L138.76 182.72 L138.9 182.15 L139.04 181.59 L139.18 181.02 L139.32 181.43 L139.46 181.99 L139.6 182.54 L139.74 183.65 L139.88 186.04 L140.02 188.44 L140.16 195.15 L140.3 203.69 L140.44 213.54 L140.58 219.4 L140.72 224.57 L140.86 227.34 L141 231.22 L141.14 240.96 L141.28 232.29 L141.42 227.01 L141.56 223.38 L141.7 218.85 L141.84 212.8 L141.98 206.75 L142.12 199.82 L142.26 194.95 L142.4 192.62 L142.54 191.82 L142.68 194.34 L142.82 197.86 L142.96 204.92 L143.1 211.12 L143.24 217.18 L143.38 222.39 L143.52 226.03 L143.66 229.67 L143.8 239.03 L143.94 233.78 L144.08 228.13 L144.22 225.36 L144.36 220.95 L144.5 215.29 L144.64 206.32 L144.78 197.13 L144.92 189.28 L145.06 186.44 L145.2 184.04 L145.34 182.41 L145.48 181.84 L145.62 181.27 L145.76 180.71 L145.9 181.09 L146.04 181.64 L146.18 182.2 L146.32 183.26 L146.46 185.65 L146.6 188.05 L146.74 194.71 L146.88 203.3 L147.02 213.24 L147.16 219.25 L147.3 224.54 L147.44 227.33 L147.58 231.3 L147.72 242.81 L147.86 233.12 L148 227.16 L148.14 223.5 L148.28 218.99 L148.42 212.89 L148.56 206.79 L148.7 199.83 L148.84 194.76 L148.98 192.36 L149.12 191.42 L149.26 194.01 L149.4 197.5 L149.54 204.62 L149.68 210.89 L149.82 217 L149.96 222.31 L150.1 225.98 L150.24 229.66 L150.38 236.95 L150.52 233.18 L150.66 228.27 L150.8 225.47 L150.94 221.1 L151.08 215.39 L151.22 206.46 L151.36 197.12 L151.5 189.16 L151.64 186.17 L151.78 183.77 L151.92 182.09 L152.06 181.52 L152.2 180.96 L152.34 180.39 L152.48 180.75 L152.62 181.3 L152.76 181.85 L152.9 182.87 L153.04 185.26 L153.18 187.66 L153.32 194.27 L153.46 202.91 L153.6 212.93 L153.74 219.1 L153.88 224.5 L154.02 227.32 L154.16 231.14 L154.3 243.02 L154.44 233.6 L154.58 227.31 L154.72 223.62 L154.86 219.13 L155 212.98 L155.14 206.83 L155.28 199.84 L155.42 194.57 L155.56 192.11 L155.7 191.02 L155.84 193.67 L155.98 197.13 L156.12 204.31 L156.26 210.66 L156.4 216.82 L156.54 222.24 L156.68 225.94 L156.82 229.64 L156.96 235.35 L157.1 232.67 L157.24 228.4 L157.38 225.58 L157.52 221.25 L157.66 215.5 L157.8 206.59 L157.94 197.12 L158.08 189.04 L158.22 185.91 L158.36 183.5 L158.5 181.77 L158.64 181.21 L158.78 180.64 L158.92 180.07 L159.06 180.4 L159.2 180.96 L159.34 181.51 L159.48 182.48 L159.62 184.87 L159.76 187.27 L159.9 193.82 L160.04 202.52 L160.18 212.61 L160.32 218.94 L160.46 224.47 L160.6 227.3 L160.74 230.81 L160.88 241.38 L161.02 233.51 L161.16 227.46 L161.3 223.74 L161.44 219.27 L161.58 213.08 L161.72 206.88 L161.86 199.85 L162 194.39 L162.14 191.85 L162.28 190.62 L162.42 193.32 L162.56 196.76 L162.7 203.99 L162.84 210.43 L162.98 216.63 L163.12 222.16 L163.26 225.89 L163.4 229.62 L163.54 234.24 L163.68 232.32 L163.82 228.54 L163.96 225.69 L164.1 221.4 L164.24 215.6 L164.38 206.74 L164.52 197.12 L164.66 188.93 L164.8 185.64 L164.94 183.23 L165.08 181.46 L165.22 180.89 L165.36 180.32 L165.5 179.76 L165.64 180.06 L165.78 180.61 L165.92 181.16 L166.06 182.09 L166.2 184.49 L166.34 186.88 L166.48 193.36 L166.62 202.12 L166.76 212.3 L166.9 218.79 L167.04 224.43 L167.18 227.29 L167.32 230.5 L167.46 239.05 L167.6 233.11 L167.74 227.61 L167.88 223.86 L168.02 219.42 L168.16 213.17 L168.3 206.93 L168.44 199.87 L168.58 194.21 L168.72 191.59 L168.86 190.22 L169 192.97 L169.14 196.38 L169.28 203.68 L169.42 210.19 L169.56 216.45 L169.7 222.08 L169.84 225.84 L169.98 229.6 L170.12 233.49 L170.26 232.09 L170.4 228.68 L170.54 225.81 L170.68 221.56 L170.82 215.71 L170.96 206.88 L171.1 197.13 L171.24 188.83 L171.38 185.37 L171.52 182.96 L171.66 181.14 L171.8 180.58 L171.94 180.01 L172.08 179.44 L172.22 179.71 L172.36 180.27 L172.5 180.82 L172.64 181.7 L172.78 184.1 L172.92 186.49 L173.06 192.9 L173.2 201.71 L173.34 211.97 L173.48 218.63 L173.62 224.39 L173.76 227.27 L173.9 230.29 L174.04 237.01 L174.18 232.68 L174.32 227.76 L174.46 223.98 L174.6 219.57 L174.74 213.27 L174.88 206.97 L175.02 199.89 L175.16 194.04 L175.3 191.33 L175.44 189.82 L175.58 192.61 L175.72 196.01 L175.86 203.36 L176 209.95 L176.14 216.26 L176.28 222 L176.42 225.79 L176.56 229.58 L176.7 232.99 L176.84 231.96 L176.98 228.82 L177.12 225.92 L177.26 221.71 L177.4 215.82 L177.54 207.03 L177.68 197.14 L177.82 188.73 L177.96 185.1 L178.1 182.69 L178.24 180.83 L178.38 180.26 L178.52 179.69 L178.66 179.13 L178.8 179.37 L178.94 179.92 L179.08 180.48 L179.22 181.31 L179.36 183.71 L179.5 186.1 L179.64 192.44 L179.78 201.3 L179.92 211.65 L180.06 218.46 L180.2 224.35 L180.34 227.25 L180.48 230.19 L180.62 235.52 L180.76 232.35 L180.9 227.91 L181.04 224.1 L181.18 219.72 L181.32 213.37 L181.46 207.03 L181.6 199.91 L181.74 193.87 L181.88 191.07 L182.02 189.41 L182.16 192.25 L182.3 195.63 L182.44 203.04 L182.58 209.71 L182.72 216.06 L182.86 221.91 L183 225.74 L183.14 229.56 L183.28 232.64 L183.42 231.88 L183.56 228.96 L183.7 226.04 L183.84 221.87 L183.98 215.93 L184.12 207.18 L184.26 197.16 L184.4 188.63 L184.54 184.83 L184.68 182.42 L184.82 180.51 L184.96 179.94 L185.1 179.38 L185.24 178.81 L185.38 179.03 L185.52 179.58 L185.66 180.13 L185.8 180.92 L185.94 183.32 L186.08 185.71 L186.22 191.97 L186.36 200.89 L186.5 211.32 L186.64 218.3 L186.78 224.26 L186.92 227.23 L187.06 230.16 L187.2 234.5 L187.34 232.13 L187.48 228.07 L187.62 224.23 L187.76 219.88 L187.9 213.48 L188.04 207.08 L188.18 199.93 L188.32 193.71 L188.46 190.82 L188.6 189.01 L188.74 191.88 L188.88 195.24 L189.02 202.71 L189.16 209.46 L189.3 215.87 L189.44 221.83 L189.58 225.68 L189.72 229.54 L189.86 232.4 L190 231.85 L190.14 229.1 L190.28 226.16 L190.42 222.03 L190.56 216.04 L190.7 207.34 L190.84 197.18 L190.98 188.54 L191.12 184.56 L191.26 182.15 L191.4 180.2 L191.54 179.63 L191.68 179.06 L191.82 178.49 L191.96 178.68 L192.1 179.24 L192.24 179.79 L192.38 180.53 L192.52 182.93 L192.66 185.32 L192.8 191.49 L192.94 200.47 L193.08 210.98 L193.22 218.13 L193.36 224.14 L193.5 227.21 L193.64 230.17 L193.78 233.81 L193.92 232 L194.06 228.23 L194.2 224.36 L194.34 220.03 L194.48 213.58 L194.62 207.14 L194.76 199.96 L194.9 193.55 L195.04 190.56 L195.18 188.61 L195.32 191.51 L195.46 194.86 L195.6 202.39 L195.74 209.22 L195.88 215.67 L196.02 221.74 L196.16 225.63 L196.3 229.51 L196.44 232.24 L196.58 231.86 L196.72 229.24 L196.86 226.28 L197 222.2 L197.14 216.16 L197.28 207.5 L197.42 197.21 L197.56 188.46 L197.7 184.29 L197.84 181.88 L197.98 179.88 L198.12 179.31 L198.26 178.75 L198.4 178.18 L198.54 178.34 L198.68 178.89 L198.82 179.45 L198.96 180.14 L199.1 182.54 L199.24 184.93 L199.38 191.01 L199.52 200.05 L199.66 210.65 L199.8 217.96 L199.94 224.02 L200.08 227.19 L200.22 230.17 L200.36 233.35 L200.5 231.93 L200.64 228.39 L200.78 224.48 L200.92 220.19 L201.06 213.69 L201.2 207.19 L201.34 199.99 L201.48 193.4 L201.62 190.3 L201.76 188.21 L201.9 191.14 L202.04 194.47 L202.18 202.06 L202.32 208.97 L202.46 215.47 L202.6 221.66 L202.74 225.57 L202.88 229.48 L203.02 232.13 L203.16 231.89 L203.3 229.38 L203.44 226.4 L203.58 222.36 L203.72 216.28 L203.86 207.67 L204 197.24 L204.14 188.38 L204.28 184.02 L204.42 181.61 L204.56 179.56 L204.7 179 L204.84 178.43 L204.98 177.86 L205.12 178 L205.26 178.55 L205.4 179.1 L205.54 179.75 L205.68 182.15 L205.82 184.54 L205.96 190.52 L206.1 199.63 L206.24 210.3 L206.38 217.79 L206.52 223.9 L206.66 227.17 L206.8 230.17 L206.94 233.02 L207.08 231.91 L207.22 228.55 L207.36 224.61 L207.5 220.35 L207.64 213.81 L207.78 207.26 L207.92 200.02 L208.06 193.25 L208.2 190.05 L208.34 187.81 L208.48 190.75 L208.62 194.08 L208.76 201.72 L208.9 208.71 L209.04 215.27 L209.18 221.57 L209.32 225.51 L209.46 229.46 L209.6 232.06 L209.74 231.94 L209.88 229.53 L210.02 226.52 L210.16 222.53 L210.3 216.4 L210.44 207.84 L210.58 197.28 L210.72 188.31 L210.86 183.75 L211 181.34 L211.14 179.25 L211.28 178.68 L211.42 178.11 L211.56 177.55 L211.7 177.65 L211.84 178.2 L211.98 178.76 L212.12 179.36 L212.26 181.76 L212.4 184.15 L212.54 190.03 L212.68 199.2 L212.82 209.96 L212.96 217.62 L213.1 223.77 L213.24 227.15 L213.38 230.17 L213.52 232.8 L213.66 231.92 L213.8 228.71 L213.94 224.75 L214.08 220.52 L214.22 213.92 L214.36 207.32 L214.5 200.06 L214.64 193.11 L214.78 189.8 L214.92 187.41 L215.06 190.37 L215.2 193.68 L215.34 201.39 L215.48 208.46 L215.62 215.07 L215.76 221.48 L215.9 225.45 L216.04 229.43 L216.18 232.01 L216.32 232 L216.46 229.68 L216.6 226.64 L216.74 222.7 L216.88 216.53 L217.02 208.01 L217.16 197.33 L217.3 188.25 L217.44 183.48 L217.58 181.07 L217.72 178.93 L217.86 178.37 L218 177.8 L218.14 177.23 L218.28 177.31 L218.42 177.86 L218.56 178.41 L218.7 178.97 L218.84 181.37 L218.98 183.76 L219.12 189.53 L219.26 198.77 L219.4 209.61 L219.54 217.44 L219.68 223.64 L219.82 227.12 L219.96 230.17 L220.1 232.65 L220.24 231.95 L220.38 228.87 L220.52 224.88 L220.66 220.69 L220.8 214.04 L220.94 207.39 L221.08 200.1 L221.22 192.97 L221.36 189.56 L221.5 187 L221.64 189.97 L221.78 193.38 L221.92 201.05 L222.06 208.2 L222.2 214.86 L222.34 221.39 L222.48 225.39 L222.62 229.39 L222.76 231.98 L222.9 232.07 L223.04 229.82 L223.18 226.77 L223.32 222.88 L223.46 216.65 L223.6 208.19 L223.74 197.38 L223.88 188.18 L224.02 183.21 L224.16 180.8 L224.3 178.62 L224.44 178.05 L224.58 177.48 L224.72 176.92 L224.86 176.96 L225 177.52 L225.14 178.07 L225.28 178.62 L225.42 180.98 L225.56 183.37 L225.7 189.03 L225.84 198.33 L225.98 209.25 L226.12 217.26 L226.26 223.51 L226.4 227.1 L226.54 230.17 L226.68 232.54 L226.82 232 L226.96 229.04 L227.1 225.01 L227.24 220.86 L227.38 214.16 L227.52 207.46 L227.66 200.14 L227.8 192.84 L227.94 189.33 L228.08 186.6 L228.22 189.58 L228.36 193.08 L228.5 200.71 L228.64 207.94 L228.78 214.65 L228.92 221.29 L229.06 225.33 L229.2 229.36 L229.34 231.97 L229.48 232.15 L229.62 229.97 L229.76 226.89 L229.9 223.05 L230.04 216.78 L230.18 208.37 L230.32 197.43 L230.46 188.13 L230.6 182.94 L230.74 180.53 L230.88 178.3 L231.02 177.73 L231.16 177.17 L231.3 176.6 L231.44 176.62 L231.58 177.17 L231.72 177.73 L231.86 178.28 L232 180.59 L232.14 182.98 L232.28 188.52 L232.42 197.89 L232.56 208.89 L232.7 217.08 L232.84 223.37 L232.98 227.07 L233.12 230.16 L233.26 232.47 L233.4 232.06 L233.54 229.2 L233.68 225.15 L233.82 221.03 L233.96 214.28 L234.1 207.53 L234.24 200.18 L234.38 192.71 L234.52 189.1 L234.66 186.2 L234.8 189.17 L234.94 192.78 L235.08 200.36 L235.22 207.68 L235.36 214.44 L235.5 221.2 L235.64 225.26 L235.78 229.33 L235.92 231.97 L236.06 232.23 L236.2 230.12 L236.34 227.02 L236.48 223.23 L236.62 216.91 L236.76 197.48 L236.9 190.05 L237.04 182.63 L237.18 175.2 L237.32 167.78 L237.46 160.36 L237.6 152.94 L237.74 145.52 L237.88 138.11 L237.95 134.4 L238.02 138.11 L238.16 145.52 L238.3 152.94 L238.44 160.36 L238.58 167.78 L238.72 175.2 L238.86 182.63 L239 190.05 L239.14 197.48 L239.28 216.91 L239.42 223.23 L239.56 227.02 L239.7 230.12 L239.84 232.42 L239.98 232.12 L240.12 229.33 L240.26 225.26 L240.4 221.2 L240.54 214.44 L240.68 207.68 L240.82 200.36 L240.96 192.78 L241.1 189.17 L241.24 186.2 L241.38 189.1 L241.52 192.71 L241.66 200.18 L241.8 207.53 L241.94 214.28 L242.08 221.03 L242.22 225.15 L242.36 229.2 L242.5 231.9 L242.64 232.26 L242.78 230.16 L242.92 227.07 L243.06 223.37 L243.2 217.08 L243.34 208.89 L243.48 197.89 L243.62 188.52 L243.76 182.98 L243.9 180.59 L244.04 178.28 L244.18 177.73 L244.32 177.17 L244.46 176.62 L244.6 176.6 L244.74 177.17 L244.88 177.73 L245.02 178.3 L245.16 180.53 L245.3 182.94 L245.44 188.13 L245.58 197.43 L245.72 208.37 L245.86 216.78 L246 223.05 L246.14 226.89 L246.28 229.97 L246.42 232.37 L246.56 232.16 L246.7 229.36 L246.84 225.33 L246.98 221.29 L247.12 214.65 L247.26 207.94 L247.4 200.71 L247.54 193.08 L247.68 189.58 L247.82 186.6 L247.96 189.33 L248.1 192.84 L248.24 200.14 L248.38 207.46 L248.52 214.16 L248.66 220.86 L248.8 225.01 L248.94 229.04 L249.08 231.81 L249.22 232.28 L249.36 230.17 L249.5 227.1 L249.64 223.51 L249.78 217.26 L249.92 209.25 L250.06 198.33 L250.2 189.03 L250.34 183.37 L250.48 180.98 L250.62 178.62 L250.76 178.07 L250.9 177.52 L251.04 176.96 L251.18 176.92 L251.32 177.48 L251.46 178.05 L251.6 178.62 L251.74 180.8 L251.88 183.21 L252.02 188.18 L252.16 197.38 L252.3 208.19 L252.44 216.65 L252.58 222.88 L252.72 226.77 L252.86 229.82 L253 232.33 L253.14 232.23 L253.28 229.39 L253.42 225.39 L253.56 221.39 L253.7 214.86 L253.84 208.2 L253.98 201.05 L254.12 193.38 L254.26 189.97 L254.4 187 L254.54 189.56 L254.68 192.97 L254.82 200.1 L254.96 207.39 L255.1 214.04 L255.24 220.69 L255.38 224.88 L255.52 228.87 L255.66 231.72 L255.8 232.31 L255.94 230.17 L256.08 227.12 L256.22 223.64 L256.36 217.44 L256.5 209.61 L256.64 198.77 L256.78 189.53 L256.92 183.76 L257.06 181.37 L257.2 178.97 L257.34 178.41 L257.48 177.86 L257.62 177.31 L257.76 177.23 L257.9 177.8 L258.04 178.37 L258.18 178.93 L258.32 181.07 L258.46 183.48 L258.6 188.25 L258.74 197.33 L258.88 208.01 L259.02 216.53 L259.16 222.7 L259.3 226.64 L259.44 229.68 L259.58 232.32 L259.72 232.34 L259.86 229.43 L260 225.45 L260.14 221.48 L260.28 215.07 L260.42 208.46 L260.56 201.39 L260.7 193.68 L260.84 190.37 L260.98 187.41 L261.12 189.8 L261.26 193.11 L261.4 200.06 L261.54 207.32 L261.68 213.92 L261.82 220.52 L261.96 224.75 L262.1 228.71 L262.24 231.64 L262.38 232.35 L262.52 230.17 L262.66 227.15 L262.8 223.77 L262.94 217.62 L263.08 209.96 L263.22 199.2 L263.36 190.03 L263.5 184.15 L263.64 181.76 L263.78 179.36 L263.92 178.76 L264.06 178.2 L264.2 177.65 L264.34 177.55 L264.48 178.11 L264.62 178.68 L264.76 179.25 L264.9 181.34 L265.04 183.75 L265.18 188.31 L265.32 197.28 L265.46 207.84 L265.6 216.4 L265.74 222.53 L265.88 226.52 L266.02 229.53 L266.16 232.34 L266.3 232.49 L266.44 229.46 L266.58 225.51 L266.72 221.57 L266.86 215.27 L267 208.71 L267.14 201.72 L267.28 194.08 L267.42 190.75 L267.56 187.81 L267.7 190.05 L267.84 193.25 L267.98 200.02 L268.12 207.26 L268.26 213.81 L268.4 220.35 L268.54 224.61 L268.68 228.55 L268.82 231.57 L268.96 232.43 L269.1 230.17 L269.24 227.17 L269.38 223.9 L269.52 217.79 L269.66 210.3 L269.8 199.63 L269.94 190.52 L270.08 184.54 L270.22 182.15 L270.36 179.75 L270.5 179.1 L270.64 178.55 L270.78 178 L270.92 177.86 L271.06 178.43 L271.2 179 L271.34 179.56 L271.48 181.61 L271.62 184.02 L271.76 188.38 L271.9 197.24 L272.04 207.67 L272.18 216.28 L272.32 222.36 L272.46 226.4 L272.6 229.38 L272.74 232.39 L272.88 232.72 L273.02 229.48 L273.16 225.57 L273.3 221.66 L273.44 215.47 L273.58 208.97 L273.72 202.06 L273.86 194.47 L274 191.14 L274.14 188.21 L274.28 190.3 L274.42 193.4 L274.56 199.99 L274.7 207.19 L274.84 213.69 L274.98 220.19 L275.12 224.48 L275.26 228.39 L275.4 231.51 L275.54 232.54 L275.68 230.17 L275.82 227.19 L275.96 224.02 L276.1 217.96 L276.24 210.65 L276.38 200.05 L276.52 191.01 L276.66 184.93 L276.8 182.54 L276.94 180.14 L277.08 179.45 L277.22 178.89 L277.36 178.34 L277.5 178.18 L277.64 178.75 L277.78 179.31 L277.92 179.88 L278.06 181.88 L278.2 184.29 L278.34 188.46 L278.48 197.21 L278.62 207.5 L278.76 216.16 L278.9 222.2 L279.04 226.28 L279.18 229.24 L279.32 232.51 L279.46 233.06 L279.6 229.51 L279.74 225.63 L279.88 221.74 L280.02 215.67 L280.16 209.22 L280.3 202.39 L280.44 194.86 L280.58 191.51 L280.72 188.61 L280.86 190.56 L281 193.55 L281.14 199.96 L281.28 207.14 L281.42 213.58 L281.56 220.03 L281.7 224.36 L281.84 228.23 L281.98 231.46 L282.12 232.7 L282.26 230.17 L282.4 227.21 L282.54 224.14 L282.68 218.13 L282.82 210.98 L282.96 200.47 L283.1 191.49 L283.24 185.32 L283.38 182.93 L283.52 180.53 L283.66 179.79 L283.8 179.24 L283.94 178.68 L284.08 178.49 L284.22 179.06 L284.36 179.63 L284.5 180.2 L284.64 182.15 L284.78 184.56 L284.92 188.54 L285.06 197.18 L285.2 207.34 L285.34 216.04 L285.48 222.03 L285.62 226.16 L285.76 229.1 L285.9 232.71 L286.04 233.55 L286.18 229.54 L286.32 225.68 L286.46 221.83 L286.6 215.87 L286.74 209.46 L286.88 202.71 L287.02 195.24 L287.16 191.88 L287.3 189.01 L287.44 190.82 L287.58 193.71 L287.72 199.93 L287.86 207.08 L288 213.48 L288.14 219.88 L288.28 224.23 L288.42 228.07 L288.56 231.43 L288.7 232.92 L288.84 230.16 L288.98 227.23 L289.12 224.26 L289.26 218.3 L289.4 211.32 L289.54 200.89 L289.68 191.97 L289.82 185.71 L289.96 183.32 L290.1 180.92 L290.24 180.13 L290.38 179.58 L290.52 179.03 L290.66 178.81 L290.8 179.38 L290.94 179.94 L291.08 180.51 L291.22 182.42 L291.36 184.83 L291.5 188.63 L291.64 197.16 L291.78 207.18 L291.92 215.93 L292.06 221.87 L292.2 226.04 L292.34 228.96 L292.48 233.02 L292.62 234.29 L292.76 229.56 L292.9 225.74 L293.04 221.91 L293.18 216.06 L293.32 209.71 L293.46 203.04 L293.6 195.63 L293.74 192.25 L293.88 189.41 L294.02 191.07 L294.16 193.87 L294.3 199.91 L294.44 207.03 L294.58 213.37 L294.72 219.72 L294.86 224.1 L295 227.91 L295.14 231.42 L295.28 233.25 L295.42 230.16 L295.56 227.25 L295.7 224.35 L295.84 218.46 L295.98 211.65 L296.12 201.3 L296.26 192.44 L296.4 186.1 L296.54 183.71 L296.68 181.31 L296.82 180.48 L296.96 179.92 L297.1 179.37 L297.24 179.13 L297.38 179.69 L297.52 180.26 L297.66 180.83 L297.8 182.69 L297.94 185.1 L298.08 188.73 L298.22 197.14 L298.36 207.03 L298.5 215.82 L298.64 221.71 L298.78 225.92 L298.92 228.82 L299.06 233.49 L299.2 235.38 L299.34 229.58 L299.48 225.79 L299.62 222 L299.76 216.26 L299.9 209.95 L300.04 203.36 L300.18 196.01 L300.32 192.61 L300.46 189.82 L300.6 191.33 L300.74 194.04 L300.88 199.89 L301.02 206.97 L301.16 213.27 L301.3 219.57 L301.44 223.98 L301.58 227.76 L301.72 231.44 L301.86 233.73 L302 230.18 L302.14 227.27 L302.28 224.39 L302.42 218.63 L302.56 211.97 L302.7 201.71 L302.84 192.9 L302.98 186.49 L303.12 184.1 L303.26 181.7 L303.4 180.82 L303.54 180.27 L303.68 179.71 L303.82 179.44 L303.96 180.01 L304.1 180.58 L304.24 181.14 L304.38 182.96 L304.52 185.37 L304.66 188.83 L304.8 197.13 L304.94 206.88 L305.08 215.71 L305.22 221.56 L305.36 225.81 L305.5 228.68 L305.64 234.14 L305.78 236.94 L305.92 229.6 L306.06 225.84 L306.2 222.08 L306.34 216.45 L306.48 210.19 L306.62 203.68 L306.76 196.38 L306.9 192.97 L307.04 190.22 L307.18 191.59 L307.32 194.21 L307.46 199.87 L307.6 206.93 L307.74 213.17 L307.88 219.42 L308.02 223.86 L308.16 227.61 L308.3 231.51 L308.44 234.42 L308.58 230.23 L308.72 227.29 L308.86 224.43 L309 218.79 L309.14 212.3 L309.28 202.12 L309.42 193.36 L309.56 186.88 L309.7 184.49 L309.84 182.09 L309.98 181.16 L310.12 180.61 L310.26 180.06 L310.4 179.76 L310.54 180.32 L310.68 180.89 L310.82 181.46 L310.96 183.23 L311.1 185.64 L311.24 188.93 L311.38 197.12 L311.52 206.74 L311.66 215.6 L311.8 221.4 L311.94 225.69 L312.08 228.54 L312.22 234.9 L312.36 238.91 L312.5 229.62 L312.64 225.89 L312.78 222.16 L312.92 216.63 L313.06 210.43 L313.2 203.99 L313.34 196.76 L313.48 193.32 L313.62 190.62 L313.76 191.85 L313.9 194.39 L314.04 199.85 L314.18 206.88 L314.32 213.08 L314.46 219.27 L314.6 223.74 L314.74 227.46 L314.88 231.65 L315.02 235.45 L315.16 230.34 L315.3 227.3 L315.44 224.47 L315.58 218.94 L315.72 212.61 L315.86 202.52 L316 193.82 L316.14 187.27 L316.28 184.87 L316.42 182.48 L316.56 181.51 L316.7 180.96 L316.84 180.4 L316.98 180.07 L317.12 180.64 L317.26 181.21 L317.4 181.77 L317.54 183.5 L317.68 185.91 L317.82 189.04 L317.96 197.12 L318.1 206.59 L318.24 215.5 L318.38 221.25 L318.52 225.58 L318.66 228.4 L318.8 235.44 L318.94 240.72 L319.08 229.64 L319.22 225.94 L319.36 222.24 L319.5 216.82 L319.64 210.66 L319.78 204.31 L319.92 197.13 L320.06 193.67 L320.2 191.02 L320.34 192.11 L320.48 194.57 L320.62 199.84 L320.76 206.83 L320.9 212.98 L321.04 219.13 L321.18 223.62 L321.32 227.31 L321.46 231.85 L321.6 236.95 L321.74 230.53 L321.88 227.32 L322.02 224.5 L322.16 219.1 L322.3 212.93 L322.44 202.91 L322.58 194.27 L322.72 187.66 L322.86 185.26 L323 182.87 L323.14 181.85 L323.28 181.3 L323.42 180.75 L323.56 180.39 L323.7 180.96 L323.84 181.52 L323.98 182.09 L324.12 183.77 L324.26 186.17 L324.4 189.16 L324.54 197.12 L324.68 206.46 L324.82 215.39 L324.96 221.1 L325.1 225.47 L325.24 228.27 L325.38 235.25 L325.52 241.27 L325.66 229.66 L325.8 225.98 L325.94 222.31 L326.08 217 L326.22 210.89 L326.36 204.62 L326.5 197.5 L326.64 194.01 L326.78 191.42 L326.92 192.36 L327.06 194.76 L327.2 199.83 L327.34 206.79 L327.48 212.89 L327.62 218.99 L327.76 223.5 L327.9 227.16 L328.04 232.13 L328.18 239.04 L328.32 230.86 L328.46 227.33 L328.6 224.54 L328.74 219.25 L328.88 213.24 L329.02 203.3 L329.16 194.71 L329.3 188.05 L329.44 185.65 L329.58 183.26 L329.72 182.2 L329.86 181.64 L330 181.09 L330.14 180.71 L330.28 181.27 L330.42 181.84 L330.56 182.41 L330.7 184.04 L330.84 186.44 L330.98 189.28 L331.12 197.13 L331.26 206.32 L331.4 215.29 L331.54 220.95 L331.68 225.36 L331.82 228.13 L331.96 234.31 L332.1 240.16 L332.24 229.67 L332.38 226.03 L332.52 222.39 L332.66 217.18 L332.8 211.12 L332.94 204.92 L333.08 197.86 L333.22 194.34 L333.36 191.82 L333.5 192.62 L333.64 194.95 L333.78 199.82 L333.92 206.75 L334.06 212.8 L334.2 218.85 L334.34 223.38 L334.48 227.01 L334.62 232.4 L334.76 241.53 L334.9 231.31 L335.04 227.34 L335.18 224.57 L335.32 219.4 L335.46 213.54 L335.6 203.69 L335.74 195.15 L335.88 188.44 L336.02 186.04 L336.16 183.65 L336.3 182.54 L336.44 181.99 L336.58 181.43 L336.72 181.02 L336.86 181.59 L337 182.15 L337.14 182.72 L337.28 184.31 L337.42 186.71 L337.56 189.41 L337.7 197.15 L337.84 206.2 L337.98 215.19 L338.12 220.81 L338.26 225.25 L338.4 228 L338.54 233.13 L338.68 238.26 L338.82 229.77 L338.96 226.07 L339.1 222.46 L339.24 217.35 L339.38 211.35 L339.52 205.23 L339.66 198.23 L339.8 194.67 L339.94 192.23 L340.08 192.88 L340.22 195.15 L340.36 199.82 L340.5 206.72 L340.64 212.72 L340.78 218.71 L340.92 223.27 L341.06 226.87 L341.2 232.44 L341.34 243.5 L341.48 231.77 L341.62 227.35 L341.76 224.61 L341.9 219.55 L342.04 213.85 L342.18 204.08 L342.32 195.58 L342.46 188.83 L342.6 186.43 L342.74 184.04 L342.88 182.88 L343.02 182.33 L343.16 181.78 L343.3 181.34 L343.44 181.9 L343.58 182.47 L343.72 183.04 L343.86 184.58 L344 186.98 L344.14 189.54 L344.28 197.17 L344.42 206.07 L344.56 215.1 L344.7 220.67 L344.84 225.14 L344.98 227.87 L345.12 232.12 L345.26 236.46 L345.4 229.82 L345.54 226.11 L345.68 222.53 L345.82 217.53 L345.96 211.58 L346.1 205.53 L346.24 198.59 L346.38 195 L346.52 192.63 L346.66 193.14 L346.8 195.36 L346.94 199.82 L347.08 206.68 L347.22 212.63 L347.36 218.57 L347.5 223.15 L347.64 226.72 L347.78 232.06 L347.92 243.5 L348.06 231.96 L348.2 227.36 L348.34 224.64 L348.48 219.69 L348.62 214.14 L348.76 204.46 L348.9 196 L349.04 189.22 L349.18 186.82 L349.32 184.43 L349.46 183.23 L349.6 182.67 L349.74 182.12 L349.88 181.65 L350.02 182.22 L350.16 182.79 L350.3 183.35 L350.44 184.85 L350.58 187.25 L350.72 189.68 L350.86 197.2 L351 205.95 L351.14 215.01 L351.28 220.53 L351.42 225.03 L351.56 227.74 L351.7 231.37 L351.84 235.06 L351.98 229.82 L352.12 226.15 L352.26 222.6 L352.4 217.7 L352.54 211.8 L352.68 205.82 L352.82 198.94 L352.96 195.32 L353.1 193.03 L353.24 193.4 L353.38 195.56 L353.52 199.82 L353.66 206.65 L353.8 212.55 L353.94 218.44 L354.08 223.04 L354.22 226.58 L354.36 231.38 L354.5 241.41 L354.64 231.79 L354.78 227.37 L354.92 224.67 L355.06 219.84 L355.2 214.35 L355.34 204.83 L355.48 196.42 L355.62 189.61 L355.76 187.21 L355.9 184.82 L356.04 183.57 L356.18 183.02 L356.32 182.47 L356.46 181.97 L356.6 182.54 L356.74 183.1 L356.88 183.67 L357.02 185.12 L357.16 187.52 L357.3 189.93 L357.44 197.23 L357.58 205.83 L357.72 214.92 L357.86 220.39 L358 224.92 L358.14 227.61 L358.28 230.82 L358.42 234.02 L358.56 229.78 L358.7 226.19 L358.84 222.67 L358.98 217.87 L359.12 212.02 L359.26 206.12 L359.4 199.3 L359.54 195.63 L359.68 193.43 L359.82 193.65 L359.96 195.78 L360.1 199.83 L360.24 206.63 L360.38 212.47 L360.52 218.31 L360.66 222.93 L360.8 226.44 L360.94 230.71 L361.08 238.68 L361.22 231.43 L361.36 227.38 L361.5 224.7 L361.64 219.98 L361.78 214.54 L361.92 205.2 L362.06 196.84 L362.2 190 L362.34 187.6 L362.48 185.21 L362.62 183.92 L362.76 183.36 L362.9 182.81 L363.04 182.28 L363.18 182.85 L363.32 183.42 L363.46 183.99 L363.6 185.39 L363.74 187.79 L363.88 190.2 L364.02 197.27 L364.16 205.72 L364.3 214.83 L364.44 220.25 L364.58 224.82 L364.72 227.48 L364.86 230.42 L365 233.27 L365.14 229.73 L365.28 226.23 L365.42 222.74 L365.56 218.04 L365.7 212.24 L365.84 206.41 L365.98 199.65 L366.12 195.94 L366.26 193.83 L366.4 193.91 L366.54 196 L366.68 199.84 L366.82 206.6 L366.96 212.39 L367.1 218.19 L367.24 222.82 L367.38 226.3 L367.52 230.18 L367.66 236.4 L367.8 231.05 L367.94 227.38 L368.08 224.73 L368.22 220.12 L368.36 214.72 L368.5 205.57 L368.64 197.25 L368.78 190.39 L368.92 187.99 L369.06 185.6 L369.2 184.26 L369.34 183.71 L369.48 183.15 L369.62 182.6 L369.76 183.17 L369.9 183.73 L370.04 184.3 L370.18 185.66 L370.32 188.06 L370.46 190.47 L370.6 197.31 L370.74 205.61 L370.88 214.74 L371.02 220.12 L371.16 224.71 L371.3 227.35 L371.44 230.1 L371.58 232.7 L371.72 229.66 L371.86 226.27 L372 222.81 L372.14 218.2 L372.28 212.45 L372.42 206.7 L372.56 200 L372.7 196.24 L372.84 194.23 L372.98 194.17 L373.12 196.22 L373.26 199.85 L373.4 206.55 L373.54 212.32 L373.68 218.06 L373.82 222.71 L373.96 226.16 L374.1 229.79 L374.24 234.72 L374.38 230.73 L374.52 227.39 L374.66 224.76 L374.8 220.25 L374.94 214.9 L375.08 205.93 L375.22 197.65 L375.36 190.78 L375.5 188.38 L375.64 185.99 L375.78 184.6 L375.92 184.05 L376.06 183.5 L376.2 182.94 L376.34 183.48 L376.48 184.05 L376.62 184.62 L376.76 185.93 L376.9 188.33 L377.04 190.74 L377.18 197.36 L377.32 205.51 L377.46 214.66 L377.6 219.99 L377.74 224.61 L377.88 227.23 L378.02 229.85 L378.16 232.27 L378.3 229.6 L378.44 226.3 L378.58 222.87 L378.72 218.36 L378.86 212.66 L379 206.96 L379.14 200.34 L379.28 196.54 L379.42 194.64 L379.56 194.43 L379.7 196.45 L379.84 199.86 L379.98 206.51 L380.12 212.25 L380.26 217.94 L380.4 222.61 L380.54 226.03 L380.68 229.5 L380.82 233.52 L380.96 230.47 L381.1 227.39 L381.24 224.79 L381.38 220.39 L381.52 215.09 L381.66 206.29 L381.8 198.05 L381.94 191.17 L382.08 188.77 L382.22 186.38 L382.36 184.95 L382.5 184.39 L382.64 183.84 L382.78 183.29 L382.92 183.8 L383.06 184.37 L383.2 184.93 L383.34 186.2 L383.48 188.6 L383.62 191.01 L383.76 197.42 L383.9 205.41 L384.04 214.57 L384.18 219.86 L384.32 224.51 L384.46 227.1 L384.6 229.64 L384.74 231.92 L384.88 229.54 L385.02 226.33 L385.16 222.93 L385.3 218.52 L385.44 212.87 L385.58 207.22 L385.72 200.68 L385.86 196.84 L386 195.04 L386.14 194.69 L386.28 196.69 L386.42 199.88 L386.56 206.47 L386.7 212.18 L386.84 217.82 L386.98 222.5 L387.12 225.89 L387.26 229.28 L387.4 232.65 L387.54 230.26 L387.68 227.39 L387.82 224.81 L387.96 220.52 L388.1 215.26 L388.24 206.65 L388.38 198.44 L388.52 191.57 L388.66 189.16 L388.8 186.77 L388.94 185.29 L389.08 184.74 L389.22 184.18 L389.36 183.63 L389.5 184.11 L389.64 184.68 L389.78 185.25 L389.92 186.47 L390.06 188.87 L390.2 191.28 L390.34 197.48 L390.48 205.31 L390.62 214.48 L390.76 219.73 L390.9 224.41 L391.04 226.98 L391.18 229.46 L391.32 231.63 L391.46 229.47 L391.6 226.36 L391.74 223 L391.88 218.68 L392.02 213.08 L392.16 207.48 L392.3 201.02 L392.44 197.13 L392.58 195.44 L392.72 194.94 L392.86 196.93 L393 199.9 L393.14 206.43 L393.28 212.11 L393.42 217.7 L393.56 222.4 L393.7 225.76 L393.84 229.1 L393.98 232 L394.12 230.09 L394.26 227.4 L394.4 224.84 L394.54 220.65 L394.68 215.44 L394.82 207 L394.96 198.83 L395.1 192.07 L395.24 189.55 L395.38 187.16 L395.52 185.63 L395.66 185.08 L395.8 184.53 L395.94 183.98 L396.08 184.43 L396.22 185 L396.36 185.56 L396.5 186.74 L396.64 189.14 L396.78 191.55 L396.92 197.55 L397.06 205.22 L397.2 214.31 L397.34 219.61 L397.48 224.31 L397.62 226.85 L397.76 229.3 L397.9 231.3 L398.04 229.41 L398.18 226.39 L398.32 223.06 L398.46 218.83 L398.6 213.28 L398.74 207.74 L398.88 201.36 L399.02 197.41 L399.16 195.84 L399.3 195.2 L399.44 197.17 L399.58 199.92 L399.72 206.39 L399.86 212.05 L400 217.59 L400.14 222.3 L400.28 225.63 L400.42 228.94 L400.56 231.5 L400.7 229.94 L400.84 227.4 L400.98 224.86 L401.12 220.77 L401.26 215.61 L401.4 207.34 L401.54 199.21 L401.68 192.56 L401.82 189.94 L401.96 187.55 L402.1 185.98 L402.24 185.43 L402.38 184.87 L402.52 184.32 L402.66 184.75 L402.8 185.31 L402.94 185.88 L403.08 187.01 L403.22 189.41 L403.36 191.82 L403.5 197.62 L403.64 205.13 L403.78 214.14 L403.92 219.49 L404.06 224.21 L404.2 226.73 L404.34 229.15 L404.48 231.01 L404.62 229.34 L404.76 226.42 L404.9 223.11 L405.04 218.98 L405.18 213.49 L405.32 207.99 L405.46 201.69 L405.6 197.69 L405.74 196.24 L405.88 195.46 L406.02 197.43 L406.16 199.95 L406.3 206.36 L406.44 211.99 L406.58 217.48 L406.72 222.2 L406.86 225.5 L407 228.79 L407.14 231.1 L407.28 229.81 L407.42 227.39 L407.56 224.88 L407.7 220.9 L407.84 215.78 L407.98 207.69 L408.12 199.59 L408.26 193.05 L408.4 190.33 L408.54 187.94 L408.68 186.32 L408.82 185.77 L408.96 185.22 L409.1 184.66 L409.24 185.06 L409.38 185.63 L409.52 186.2 L409.66 187.28 L409.8 189.68 L409.94 192.09 L410.08 197.7 L410.22 205.05 L410.36 213.97 L410.5 219.37 L410.64 224.11 L410.78 226.61 L410.92 229.01 L411.06 230.76 L411.2 229.28 L411.34 226.45 L411.48 223.17 L411.62 219.13 L411.76 213.68 L411.9 208.24 L412.04 202.02 L412.18 197.96 L412.32 196.64 L412.46 195.72 L412.6 197.68 L412.74 199.98 L412.88 206.33 L413.02 211.93 L413.16 217.37 L413.3 222.1 L413.44 225.37 L413.58 228.64 L413.72 230.76 L413.86 229.7 L414 227.39 L414.14 224.9 L414.28 221.02 L414.42 215.95 L414.56 208.03 L414.7 199.96 L414.84 193.53 L414.98 190.72 L415.12 188.33 L415.26 186.67 L415.4 186.11 L415.54 185.56 L415.68 185.01 L415.82 185.38 L415.96 185.94 L416.1 186.51 L416.24 187.55 L416.38 189.95 L416.52 192.36 L416.66 197.78 L416.8 204.97 L416.94 213.81 L417.08 219.25 L417.22 224.01 L417.36 226.49 L417.5 228.88 L417.64 230.54 L417.78 229.22 L417.92 226.47 L418.06 223.23 L418.2 219.28 L418.34 213.88 L418.48 208.49 L418.62 202.35 L418.76 198.23 L418.9 197.05 L419.04 195.98 L419.18 197.94 L419.32 200.01 L419.46 206.3 L419.6 211.87 L419.74 217.26 L419.88 222.01 L420.02 225.24 L420.16 228.48 L420.3 230.48 L420.44 229.6 L420.58 227.39 L420.72 224.92 L420.86 221.14 L421 216.12 L421.14 208.36 L421.28 200.32 L421.42 194.01 L421.56 191.11 L421.7 188.72 L421.84 187.01 L421.98 186.46 L422.12 185.9 L422.26 185.35 L422.4 185.69 L422.54 186.26 L422.68 186.83 L422.82 187.82 L422.96 190.22 L423.1 192.63 L423.24 197.87 L423.38 204.9 L423.52 213.65 L423.66 219.14 L423.8 223.92 L423.94 226.37 L424.08 228.75 L424.22 230.34 L424.36 229.16 L424.5 226.5 L424.64 223.28 L424.78 219.42 L424.92 214.08 L425.06 208.73 L425.2 202.67 L425.34 198.49 L425.48 197.45 L425.62 196.23 L425.76 198.21 L425.9 200.04 L426.04 206.28 L426.18 211.82 L426.32 217.16 L426.46 221.91 L426.6 225.12 L426.74 228.32 L426.88 230.24 L427.02 229.5 L427.16 227.38 L427.3 224.94 L427.44 221.26 L427.58 216.29 L427.72 208.69 L427.86 200.68 L428 194.48 L428.14 191.5 L428.28 189.11 L428.42 187.35 L428.56 186.8 L428.7 186.25 L428.84 185.69 L428.98 186.01 L429.12 186.58 L429.26 187.14 L429.4 188.09 L429.54 190.49 L429.68 192.9 L429.82 197.96 L429.96 204.82 L430.1 213.5 L430.24 219.03 L430.38 223.83 L430.52 226.26 L430.66 228.63 L430.8 230.15 L430.94 229.1 L431.08 226.52 L431.22 223.33 L431.36 219.57 L431.5 214.27 L431.64 208.97 L431.78 202.99 L431.92 198.75 L432.06 197.85 L432.2 196.49 L432.34 198.48 L432.48 200.08 L432.62 206.26 L432.76 211.77 L432.9 217.06 L433.04 221.82 L433.18 224.99 L433.32 228.17 L433.46 230.02 L433.6 229.41 L433.74 227.38 L433.88 224.96 L434.02 221.37 L434.16 216.45 L434.3 209.02 L434.44 201.03 L434.58 194.94 L434.72 191.89 L434.86 189.5 L435 187.7 L435.14 187.14 L435.28 186.59 L435.42 186.04 L435.56 186.33 L435.7 186.89 L435.84 187.46 L435.98 188.35 L436.12 190.76 L436.26 193.17 L436.4 198.06 L436.54 204.76 L436.68 213.35 L436.82 218.92 L436.96 223.73 L437.1 226.14 L437.24 228.51 L437.38 229.98 L437.52 229.03 L437.66 226.54 L437.8 223.38 L437.94 219.71 L438.08 214.46 L438.22 209.21 L438.36 203.31 L438.5 199 L438.64 198.25 L438.78 196.75 L438.92 198.76 L439.06 200.12 L439.2 206.24 L439.34 211.72 L439.48 216.96 L439.62 221.72 L439.76 224.87 L439.9 228.02 L440.04 229.83 L440.18 229.33 L440.32 227.37 L440.46 224.97 L440.6 221.49 L440.74 216.61 L440.88 209.34 L441.02 201.38 L441.16 195.4 L441.3 192.28 L441.44 189.89 L441.58 188.04 L441.72 187.49 L441.86 186.94 L442 186.38 L442.14 186.64 L442.28 187.21 L442.42 187.78 L442.56 188.62 L442.7 191.03 L442.84 193.44 L442.98 198.17 L443.12 204.69 L443.26 213.2 L443.4 218.81 L443.54 223.64 L443.68 226.03 L443.82 228.4 L443.96 229.81 L444.1 228.97 L444.24 226.56 L444.38 223.43 L444.52 219.84 L444.66 214.64 L444.8 209.45 L444.94 203.63 L445.08 199.25 L445.22 198.65 L445.36 197.01 L445.5 199.04 L445.64 200.16 L445.78 206.22 L445.92 211.67 L446.06 216.86 L446.2 221.63 L446.34 224.75 L446.48 227.86 L446.62 229.65 L446.76 229.25 L446.9 227.36 L447.04 224.99 L447.18 221.6 L447.32 216.76 L447.46 209.66 L447.6 201.72 L447.74 195.86 L447.88 192.67 L448.02 190.28 L448.16 188.38 L448.3 187.83 L448.44 187.28 L448.58 186.73 L448.72 186.96 L448.86 187.52 L449 188.09 L449.14 188.89 L449.28 191.3 L449.42 193.71 L449.56 198.28 L449.7 204.64 L449.84 213.06 L449.98 218.7 L450.12 223.52 L450.26 225.91 L450.4 228.27 L450.54 229.66 L450.68 228.91 L450.82 226.58 L450.96 223.48 L451.1 219.98 L451.24 214.83 L451.38 209.68 L451.52 203.94 L451.66 199.49 L451.8 199.06 L451.94 197.27 L452.08 199.33 L452.22 200.21 L452.36 206.21 L452.5 211.63 L452.64 216.77 L452.78 221.54 L452.92 224.63 L453.06 227.71 L453.2 229.48 L453.34 229.17 L453.48 227.36 L453.62 225 L453.76 221.7 L453.9 216.92 L454.04 209.97 L454.18 202.06 L454.32 196.31 L454.46 193.06 L454.6 190.67 L454.74 188.73 L454.88 188.18 L455.02 187.62 L455.16 187.07 L455.3 187.27 L455.44 187.84 L455.58 188.41 L455.72 189.16 L455.86 191.57 L456 193.98 L456.14 198.39 L456.28 204.58 L456.42 212.93 L456.56 218.6 L456.7 223.37 L456.84 225.8 L456.98 228.14 L457.12 229.51 L457.26 228.85 L457.4 226.59"/></defs>
<use href="#env1" fill="none" stroke="#63367b" stroke-linejoin="round" stroke-width="2.0" opacity="0.13"/>
<use href="#env1" fill="none" stroke="#552c70" stroke-linejoin="round" stroke-width="0.68"/>
<path d="M20.69 190.09V230.53M27.28 189.76V230.62M33.86 189.43V230.71M40.45 189.1V230.8M47.03 188.77V230.89M53.61 188.44V230.98M60.2 188.11V231.07M66.78 187.78V231.16M73.36 187.45V231.25M79.95 187.12V231.34M86.53 186.79V231.43M93.11 186.46V231.52M99.7 186.13V231.61M106.28 185.8V231.7M112.86 185.47V231.79M119.45 185.14V231.88M126.03 184.81V231.97M132.61 184.48V232.06M139.2 184.15V232.15M145.78 183.82V232.24M152.36 183.49V232.33M158.95 183.16V232.42M165.53 182.83V232.51M172.12 182.5V232.6M178.7 182.17V232.69M185.28 181.84V232.78M191.87 181.51V232.87M198.45 181.18V232.96M205.03 180.85V233.05M211.62 180.52V233.14M218.2 180.19V233.23M224.78 179.86V233.32M231.37 179.53V233.41M244.53 179.53V233.41M251.12 179.86V233.32M257.7 180.19V233.23M264.28 180.52V233.14M270.87 180.85V233.05M277.45 181.18V232.96M284.03 181.51V232.87M290.62 181.84V232.78M297.2 182.17V232.69M303.78 182.5V232.6M310.37 182.83V232.51M316.95 183.16V232.42M323.54 183.49V232.33M330.12 183.82V232.24M336.7 184.15V232.15M343.29 184.48V232.06M349.87 184.81V231.97M356.45 185.14V231.88M363.04 185.47V231.79M369.62 185.8V231.7M376.2 186.13V231.61M382.79 186.46V231.52M389.37 186.79V231.43M395.95 187.12V231.34M402.54 187.45V231.25M409.12 187.78V231.16M415.7 188.11V231.07M422.29 188.44V230.98M428.87 188.77V230.89M435.45 189.1V230.8M442.04 189.43V230.71M448.62 189.76V230.62M455.21 190.09V230.53" stroke="#bee2f5" stroke-width="1.25" fill="none" opacity="0.95"/>
<rect x="18.5" y="134.4" width="438.9" height="109.1" fill="none" stroke="#3c3c3c" stroke-width="0.9"/>
<path d="M14.7 134.4H18.5M14.7 156.22H18.5M14.7 178.04H18.5M14.7 199.86H18.5M14.7 221.68H18.5M14.7 243.5H18.5M18.5 243.5V246.9M128.23 243.5V246.9M237.95 243.5V246.9M347.67 243.5V246.9M457.4 243.5V246.9" stroke="#3c3c3c" stroke-width="0.8" fill="none"/>
<path d="M18.5 320.05 L18.7 317.34 L18.9 314.92 L19.1 312.94 L19.3 311.46 L19.5 310.53 L19.7 310.55 L19.9 311.51 L20.1 313.04 L20.3 315.11 L20.5 317.65 L20.7 320.54 L20.9 323.61 L21.1 326.69 L21.3 329.59 L21.5 332.14 L21.7 334.2 L21.9 334.16 L22.1 332.23 L22.3 329.77 L22.5 326.92 L22.7 323.84 L22.9 320.74 L23.1 317.8 L23.3 315.2 L23.5 313.08 L23.7 311.51 L23.9 310.53 L24.1 310.63 L24.3 311.71 L24.5 313.4 L24.7 315.69 L24.9 318.49 L25.1 321.66 L25.3 325.03 L25.5 328.41 L25.7 331.59 L25.9 334.36 L26.1 336.6 L26.3 336.36 L26.5 334.23 L26.7 331.51 L26.9 328.38 L27.1 325 L27.3 321.6 L27.5 318.4 L27.7 315.56 L27.9 313.26 L28.1 311.56 L28.3 310.52 L28.5 310.72 L28.7 311.95 L28.9 313.86 L29.1 316.42 L29.3 319.54 L29.5 323.07 L29.7 326.8 L29.9 330.52 L30.1 334 L30.3 337.04 L30.5 339.46 L30.7 338.96 L30.9 336.56 L31.1 333.53 L31.3 330.04 L31.5 326.31 L31.7 322.56 L31.9 319.04 L32.1 315.95 L32.3 313.45 L32.5 311.62 L32.7 310.51 L32.9 310.83 L33.1 312.22 L33.3 314.36 L33.5 317.21 L33.7 320.67 L33.9 324.56 L34.1 328.66 L34.3 332.73 L34.5 336.56 L34.7 339.88 L34.9 342.53 L35.1 341.76 L35.3 339.09 L35.5 335.74 L35.7 331.89 L35.9 327.77 L36.1 323.65 L36.3 319.78 L36.5 316.4 L36.7 313.66 L36.9 311.68 L37.1 310.5 L37.3 310.95 L37.5 312.55 L37.7 314.98 L37.9 318.2 L38.1 322.09 L38.3 326.45 L38.5 331.05 L38.7 335.68 L38.9 340.09 L39.1 343.97 L39.3 347.12 L39.5 346.14 L39.7 343.2 L39.9 339.45 L40.1 335.1 L40.3 330.41 L40.5 325.69 L40.7 321.23 L40.9 317.32 L41.1 314.14 L41.3 311.85 L41.5 310.5 L41.7 311.17 L41.9 313.16 L42.1 316.17 L42.3 320.17 L42.5 325.01 L42.7 330.45 L42.9 336.21 L43.1 341.94 L43.3 347.09 L43.5 351.52 L43.7 354.98 L43.9 353.15 L44.1 349.3 L44.3 344.56 L44.5 339.18 L44.7 333.5 L44.9 327.88 L45.1 322.65 L45.3 318.12 L45.5 314.51 L45.7 311.94 L45.9 310.48 L46.1 311.37 L46.3 313.64 L46.5 317.02 L46.7 321.43 L46.9 326.71 L47.1 332.57 L47.3 338.5 L47.5 344 L47.7 348.86 L47.9 352.82 L48.1 355.67 L48.3 352.87 L48.5 348.43 L48.7 343.25 L48.9 337.62 L49.1 331.87 L49.3 326.35 L49.5 321.36 L49.7 317.16 L49.9 313.91 L50.1 311.66 L50.3 310.44 L50.5 311.31 L50.7 313.24 L50.9 316.02 L51.1 319.54 L51.3 323.62 L51.5 328.08 L51.7 332.68 L51.9 337.07 L52.1 341 L52.3 344.23 L52.5 346.59 L52.7 344.24 L52.9 340.78 L53.1 336.71 L53.3 332.25 L53.5 327.66 L53.7 323.24 L53.9 319.23 L54.1 315.84 L54.3 313.21 L54.5 311.39 L54.7 310.42 L54.9 311.25 L55.1 312.94 L55.3 315.37 L55.5 318.45 L55.7 322.05 L55.9 325.96 L56.1 329.94 L56.3 333.73 L56.5 337.1 L56.7 339.86 L56.9 341.87 L57.1 339.58 L57.3 336.55 L57.5 333 L57.7 329.12 L57.9 325.15 L58.1 321.33 L58.3 317.88 L58.5 314.98 L58.7 312.74 L58.9 311.2 L59.1 310.42 L59.3 311.21 L59.5 312.71 L59.7 314.84 L59.9 317.54 L60.1 320.69 L60.3 324.13 L60.5 327.64 L60.7 331 L60.9 333.99 L61.1 336.45 L61.3 338.15 L61.5 336.12 L61.7 333.48 L61.9 330.36 L62.1 326.95 L62.3 323.44 L62.5 320.06 L62.7 317.01 L62.9 314.43 L63.1 312.44 L63.3 311.09 L63.5 310.44 L63.7 311.22 L63.9 312.63 L64.1 314.64 L64.3 317.19 L64.5 320.14 L64.7 323.35 L64.9 326.61 L65.1 329.72 L65.3 332.48 L65.5 334.75 L65.7 336.14 L65.9 334.22 L66.1 331.74 L66.3 328.83 L66.5 325.65 L66.7 322.39 L66.9 319.25 L67.1 316.43 L67.3 314.06 L67.5 312.23 L67.7 311 L67.9 310.48 L68.1 311.24 L68.3 312.59 L68.5 314.5 L68.7 316.9 L68.9 319.68 L69.1 322.69 L69.3 325.75 L69.5 328.67 L69.7 331.25 L69.9 333.37 L70.1 334.51 L70.3 332.7 L70.5 330.36 L70.7 327.61 L70.9 324.62 L71.1 321.56 L71.3 318.62 L71.5 315.98 L71.7 313.77 L71.9 312.07 L72.1 310.94 L72.3 310.51 L72.5 311.26 L72.7 312.58 L72.9 314.43 L73.1 316.74 L73.3 319.42 L73.5 322.29 L73.7 325.18 L73.9 327.92 L74.1 330.34 L74.3 332.29 L74.5 333.17 L74.7 331.4 L74.9 329.14 L75.1 326.51 L75.3 323.66 L75.5 320.76 L75.7 318 L75.9 315.53 L76.1 313.47 L76.3 311.91 L76.5 310.88 L76.7 310.54 L76.9 311.28 L77.1 312.53 L77.3 314.27 L77.5 316.44 L77.7 318.93 L77.9 321.61 L78.1 324.32 L78.3 326.88 L78.5 329.14 L78.7 330.96 L78.9 331.65 L79.1 330 L79.3 327.88 L79.5 325.42 L79.7 322.75 L79.9 320.04 L80.1 317.46 L80.3 315.15 L80.5 313.23 L80.7 311.78 L80.9 310.83 L81.1 310.57 L81.3 311.3 L81.5 312.53 L81.7 314.22 L81.9 316.33 L82.1 318.74 L82.3 321.33 L82.5 323.92 L82.7 326.37 L82.9 328.52 L83.1 330.25 L83.3 330.76 L83.5 329.14 L83.7 327.09 L83.9 324.71 L84.1 322.14 L84.3 319.54 L84.5 317.07 L84.7 314.87 L84.9 313.05 L85.1 311.68 L85.3 310.79 L85.5 310.61 L85.7 311.34 L85.9 312.54 L86.1 314.2 L86.3 316.24 L86.5 318.58 L86.7 321.07 L86.9 323.57 L87.1 325.92 L87.3 327.98 L87.5 329.63 L87.7 329.97 L87.9 328.39 L88.1 326.4 L88.3 324.09 L88.5 321.61 L88.7 319.11 L88.9 316.73 L89.1 314.63 L89.3 312.89 L89.5 311.59 L89.7 310.76 L89.9 310.64 L90.1 311.37 L90.3 312.56 L90.5 314.18 L90.7 316.18 L90.9 318.48 L91.1 320.94 L91.3 323.42 L91.5 325.76 L91.7 327.82 L91.9 329.48 L92.1 329.74 L92.3 328.2 L92.5 326.24 L92.7 323.96 L92.9 321.5 L93.1 319 L93.3 316.63 L93.5 314.51 L93.7 312.77 L93.9 311.47 L94.1 310.64 L94.3 310.57 L94.5 311.36 L94.7 312.62 L94.9 314.34 L95.1 316.46 L95.3 318.88 L95.5 321.47 L95.7 324.05 L95.9 326.48 L96.1 328.62 L96.3 330.33 L96.5 330.43 L96.7 328.8 L96.9 326.73 L97.1 324.33 L97.3 321.75 L97.5 319.14 L97.7 316.67 L97.9 314.48 L98.1 312.69 L98.3 311.35 L98.5 310.51 L98.7 310.51 L98.9 311.35 L99.1 312.7 L99.3 314.52 L99.5 316.76 L99.7 319.3 L99.9 322 L100.1 324.69 L100.3 327.22 L100.5 329.42 L100.7 331.18 L100.9 331.13 L101.1 329.39 L101.3 327.21 L101.5 324.69 L101.7 321.99 L101.9 319.28 L102.1 316.72 L102.3 314.46 L102.5 312.61 L102.7 311.24 L102.9 310.38 L103.1 310.45 L103.3 311.37 L103.5 312.82 L103.7 314.77 L103.9 317.15 L104.1 319.85 L104.3 322.72 L104.5 325.57 L104.7 328.24 L104.9 330.57 L105.1 332.43 L105.3 332.21 L105.5 330.36 L105.7 328.04 L105.9 325.36 L106.1 322.49 L106.3 319.61 L106.5 316.9 L106.7 314.51 L106.9 312.56 L107.1 311.14 L107.3 310.26 L107.5 310.4 L107.7 311.41 L107.9 312.98 L108.1 315.08 L108.3 317.64 L108.5 320.52 L108.7 323.57 L108.9 326.59 L109.1 329.41 L109.3 331.86 L109.5 333.8 L109.7 333.38 L109.9 331.38 L110.1 328.89 L110.3 326.02 L110.5 322.97 L110.7 319.92 L110.9 317.06 L111.1 314.54 L111.3 312.51 L111.5 311.03 L111.7 310.13 L111.9 310.36 L112.1 311.46 L112.3 313.16 L112.5 315.41 L112.7 318.14 L112.9 321.21 L113.1 324.44 L113.3 327.63 L113.5 330.63 L113.7 333.27 L113.9 335.38 L114.1 334.81 L114.3 332.7 L114.5 330.06 L114.7 327.01 L114.9 323.75 L115.1 320.48 L115.3 317.41 L115.5 314.72 L115.7 312.54 L115.9 310.96 L116.1 310.01 L116.3 310.35 L116.5 311.6 L116.7 313.52 L116.9 316.07 L117.1 319.16 L117.3 322.63 L117.5 326.29 L117.7 329.92 L117.9 333.29 L118.1 336.21 L118.3 338.53 L118.5 337.65 L118.7 335.24 L118.9 332.22 L119.1 328.78 L119.3 325.11 L119.5 321.45 L119.7 318.03 L119.9 315.04 L120.1 312.63 L120.3 310.9 L120.5 309.88 L120.7 310.36 L120.9 311.8 L121.1 313.98 L121.3 316.85 L121.5 320.32 L121.7 324.19 L121.9 328.26 L122.1 332.27 L122.3 335.99 L122.5 339.19 L122.7 341.7 L122.9 340.46 L123.1 337.73 L123.3 334.35 L123.5 330.5 L123.7 326.42 L123.9 322.37 L124.1 318.6 L124.3 315.32 L124.5 312.7 L124.7 310.83 L124.9 309.75 L125.1 310.38 L125.3 312.02 L125.5 314.5 L125.7 317.75 L125.9 321.66 L126.1 326.04 L126.3 330.64 L126.5 335.18 L126.7 339.39 L126.9 343.02 L127.1 345.89 L127.3 344.29 L127.5 341.22 L127.7 337.4 L127.9 333.05 L128.1 328.43 L128.3 323.85 L128.5 319.58 L128.7 315.87 L128.9 312.91 L129.1 310.81 L129.3 309.63 L129.5 310.47 L129.7 312.42 L129.9 315.32 L130.1 319.11 L130.3 323.64 L130.5 328.68 L130.7 333.96 L130.9 339.14 L131.1 343.96 L131.3 348.11 L131.5 351.38 L131.7 349.23 L131.9 345.66 L132.1 341.24 L132.3 336.22 L132.5 330.91 L132.7 325.64 L132.9 320.75 L133.1 316.52 L133.3 313.16 L133.5 310.79 L133.7 309.49 L133.9 310.6 L134.1 312.92 L134.3 316.33 L134.5 320.78 L134.7 326.07 L134.9 331.95 L135.1 338.07 L135.3 344.07 L135.5 349.59 L135.7 354.3 L135.9 357.97 L136.1 354.73 L136.3 349.92 L136.5 344.32 L136.7 338.25 L136.9 332.07 L137.1 326.15 L137.3 320.83 L137.5 316.36 L137.7 312.92 L137.9 310.58 L138.1 309.36 L138.3 310.54 L138.5 312.76 L138.7 315.92 L138.9 319.9 L139.1 324.49 L139.3 329.42 L139.5 334.38 L139.7 339.04 L139.9 343.11 L140.1 346.35 L140.3 348.51 L140.5 345.35 L140.7 341.39 L140.9 336.83 L141.1 331.98 L141.3 327.11 L141.5 322.44 L141.7 318.24 L141.9 314.71 L142.1 312 L142.3 310.16 L142.5 309.28 L142.7 310.29 L142.9 312.14 L143.1 314.77 L143.3 318.07 L143.5 321.88 L143.7 325.98 L143.9 330.11 L144.1 334.01 L144.3 337.42 L144.5 340.17 L144.7 341.81 L144.9 339.23 L145.1 335.97 L145.3 332.19 L145.5 328.11 L145.7 323.98 L145.9 320.04 L146.1 316.54 L146.3 313.62 L146.5 311.38 L146.7 309.86 L146.9 309.2 L147.1 310.11 L147.3 311.74 L147.5 314.05 L147.7 316.96 L147.9 320.33 L148.1 323.96 L148.3 327.64 L148.5 331.12 L148.7 334.2 L148.9 336.7 L149.1 338.05 L149.3 335.83 L149.5 332.97 L149.7 329.64 L149.9 326.03 L150.1 322.34 L150.3 318.82 L150.5 315.66 L150.7 313.01 L150.9 310.99 L151.1 309.64 L151.3 309.11 L151.5 309.99 L151.7 311.52 L151.9 313.66 L152.1 316.34 L152.3 319.43 L152.5 322.74 L152.7 326.09 L152.9 329.24 L153.1 332.02 L153.3 334.25 L153.5 335.27 L153.7 333.2 L153.9 330.56 L154.1 327.51 L154.3 324.2 L154.5 320.85 L154.7 317.66 L154.9 314.8 L155.1 312.43 L155.3 310.63 L155.5 309.43 L155.7 309.03 L155.9 309.86 L156.1 311.28 L156.3 313.27 L156.5 315.75 L156.7 318.6 L156.9 321.66 L157.1 324.73 L157.3 327.63 L157.5 330.19 L157.7 332.24 L157.9 333.03 L158.1 331.11 L158.3 328.68 L158.5 325.86 L158.7 322.81 L158.9 319.73 L159.1 316.78 L159.3 314.16 L159.5 311.98 L159.7 310.34 L159.9 309.25 L160.1 308.95 L160.3 309.75 L160.5 311.11 L160.7 312.99 L160.9 315.33 L161.1 318 L161.3 320.85 L161.5 323.71 L161.7 326.4 L161.9 328.75 L162.1 330.64 L162.3 331.19 L162.5 329.37 L162.7 327.08 L162.9 324.43 L163.1 321.59 L163.3 318.71 L163.5 315.99 L163.7 313.56 L163.9 311.56 L164.1 310.06 L164.3 309.08 L164.5 308.86 L164.7 309.64 L164.9 310.93 L165.1 312.7 L165.3 314.89 L165.5 317.38 L165.7 320.03 L165.9 322.67 L166.1 325.15 L166.3 327.3 L166.5 329.02 L166.7 329.36 L166.9 327.65 L167.1 325.51 L167.3 323.07 L167.5 320.43 L167.7 317.78 L167.9 315.26 L168.1 313.03 L168.3 311.19 L168.5 309.81 L168.7 308.92 L168.9 308.78 L169.1 309.54 L169.3 310.78 L169.5 312.48 L169.7 314.58 L169.9 316.96 L170.1 319.5 L170.3 322.03 L170.5 324.39 L170.7 326.46 L170.9 328.1 L171.1 328.31 L171.3 326.67 L171.5 324.62 L171.7 322.25 L171.9 319.72 L172.1 317.18 L172.3 314.77 L172.5 312.64 L172.7 310.9 L172.9 309.6 L173.1 308.77 L173.3 308.7 L173.5 309.45 L173.7 310.67 L173.9 312.32 L174.1 314.35 L174.3 316.65 L174.5 319.08 L174.7 321.5 L174.9 323.76 L175.1 325.72 L175.3 327.27 L175.5 327.32 L175.7 325.72 L175.9 323.73 L176.1 321.45 L176.3 319.02 L176.5 316.58 L176.7 314.29 L176.9 312.27 L177.1 310.62 L177.3 309.39 L177.5 308.63 L177.7 308.61 L177.9 309.36 L178.1 310.55 L178.3 312.16 L178.5 314.11 L178.7 316.32 L178.9 318.66 L179.1 320.97 L179.3 323.12 L179.5 324.97 L179.7 326.43 L179.9 326.33 L180.1 324.78 L180.3 322.86 L180.5 320.66 L180.7 318.33 L180.9 316 L181.1 313.82 L181.3 311.9 L181.5 310.34 L181.7 309.2 L181.9 308.49 L182.1 308.53 L182.3 309.27 L182.5 310.43 L182.7 311.98 L182.9 313.87 L183.1 315.99 L183.3 318.23 L183.5 320.43 L183.7 322.45 L183.9 324.18 L184.1 325.52 L184.3 325.28 L184.5 323.77 L184.7 321.92 L184.9 319.82 L185.1 317.61 L185.3 315.41 L185.5 313.37 L185.7 311.59 L185.9 310.15 L186.1 309.11 L186.3 308.47 L186.5 308.58 L186.7 309.29 L186.9 310.4 L187.1 311.86 L187.3 313.62 L187.5 315.59 L187.7 317.64 L187.9 319.66 L188.1 321.51 L188.3 323.08 L188.5 324.29 L188.7 323.94 L188.9 322.53 L189.1 320.8 L189.3 318.86 L189.5 316.82 L189.7 314.8 L189.9 312.93 L190.1 311.31 L190.3 310.01 L190.5 309.07 L190.7 308.51 L190.9 308.65 L191.1 309.33 L191.3 310.36 L191.5 311.72 L191.7 313.34 L191.9 315.15 L192.1 317.03 L192.3 318.87 L192.5 320.55 L192.7 321.96 L192.9 323.05 L193.1 322.61 L193.3 321.29 L193.5 319.7 L193.7 317.92 L193.9 316.05 L194.1 314.21 L194.3 312.51 L194.5 311.05 L194.7 309.88 L194.9 309.04 L195.1 308.55 L195.3 308.72 L195.5 309.35 L195.7 310.3 L195.9 311.54 L196.1 313.01 L196.3 314.64 L196.5 316.32 L196.7 317.95 L196.9 319.42 L197.1 320.65 L197.3 321.58 L197.5 321.06 L197.7 319.85 L197.9 318.41 L198.1 316.8 L198.3 315.13 L198.5 313.51 L198.7 312.01 L198.9 310.73 L199.1 309.72 L199.3 309.01 L199.5 308.59 L199.7 308.78 L199.9 309.35 L200.1 310.19 L200.3 311.27 L200.5 312.56 L200.7 313.97 L200.9 315.42 L201.1 316.82 L201.3 318.08 L201.5 319.12 L201.7 319.89 L201.9 319.35 L202.1 318.29 L202.3 317.02 L202.5 315.63 L202.7 314.19 L202.9 312.79 L203.1 311.52 L203.3 310.43 L203.5 309.58 L203.7 308.98 L203.9 308.64 L204.1 308.83 L204.3 309.33 L204.5 310.05 L204.7 310.99 L204.9 312.08 L205.1 313.28 L205.3 314.5 L205.5 315.67 L205.7 316.71 L205.9 317.57 L206.1 318.19 L206.3 317.65 L206.5 316.74 L206.7 315.66 L206.9 314.46 L207.1 313.23 L207.3 312.05 L207.5 310.99 L207.7 310.11 L207.9 309.42 L208.1 308.95 L208.3 308.7 L208.5 308.87 L208.7 309.26 L208.9 309.82 L209.1 310.53 L209.3 311.34 L209.5 312.21 L209.7 313.08 L209.9 313.88 L210.1 314.57 L210.3 315.11 L210.5 315.47 L210.7 314.96 L210.9 314.25 L211.1 313.44 L211.3 312.59 L211.5 311.74 L211.7 310.94 L211.9 310.23 L212.1 309.65 L212.3 309.2 L212.5 308.91 L212.7 308.75 L212.9 308.88 L213.1 309.13 L213.3 309.48 L213.5 309.91 L213.7 310.39 L213.9 310.88 L214.1 311.37 L214.3 311.8 L214.5 312.14 L214.7 312.39 L214.9 312.53 L215.7 309.3 L217.3 335.1 L219.6 309.3 L221.7 345.8 L224.1 309.3 L225.8 352.9 L228.5 309.3 L230.3 345.8 L233 310.1 L234.8 337.8 L236.5 330.6 L237.95 249.3 L239.6 347.6 L241.9 312.8 L245.1 356.5 L246.9 313.7 L249 332.4 L251.1 315.5 L253.1 327.1 L255.2 317.3 L257.9 325.3 L261.5 316 L264.2 318.2 L265.9 319.1 L268.6 323.5 L271.3 324.8 L272.3 324.6 L273.6 333.3 L275.3 331.5 L277.1 339.6 L279.8 351 L282.4 329.3 L284.2 330 L286.4 324.6 L288.7 326.2 L291.4 322.6 L294 324.4 L295.8 322.1 L298.5 323.9 L300.3 322.6 L303 325.3 L304.8 324.4 L307.4 328 L309.2 327.1 L311.9 332.4 L313.7 330.7 L315.5 341.3 L316.7 352 L317.6 337.8 L318.5 358.2 L320.4 337.8 L321.7 347.6 L323.5 331.5 L325.3 328.9 L327 330.6 L328.8 328 L330.6 329.8 L333.3 327.4 L335.1 328.5 L337.7 326.2 L339.5 327.1 L342.2 325.3 L344.9 324.4 L347.2 323.2 L348.1 330.6 L350.2 328.5 L354.7 326.7 L359.1 325.8 L363.6 325.3 L366.2 326.2 L368 325.3 L370.7 327.1 L374.3 331.5 L377.8 340.5 L380 350.3 L381 358.2 L382.3 348.5 L385 339.6 L388.5 335.1 L395.7 332.1 L404.6 331.2 L413.5 332.4 L422.4 336.9 L428.6 343.1 L432.2 350.3 L434.5 358.2 L435.8 358.2 L437.5 348.5 L441.1 341.3 L447.3 335.1 L453 332.8 L457.4 331.9 L457.4 358.4 L18.5 358.4Z" fill="url(#moire)" stroke="none"/>
<defs><path id="env2" d="M18.5 320.05 L18.7 317.34 L18.9 314.92 L19.1 312.94 L19.3 311.46 L19.5 310.53 L19.7 310.55 L19.9 311.51 L20.1 313.04 L20.3 315.11 L20.5 317.65 L20.7 320.54 L20.9 323.61 L21.1 326.69 L21.3 329.59 L21.5 332.14 L21.7 334.2 L21.9 334.16 L22.1 332.23 L22.3 329.77 L22.5 326.92 L22.7 323.84 L22.9 320.74 L23.1 317.8 L23.3 315.2 L23.5 313.08 L23.7 311.51 L23.9 310.53 L24.1 310.63 L24.3 311.71 L24.5 313.4 L24.7 315.69 L24.9 318.49 L25.1 321.66 L25.3 325.03 L25.5 328.41 L25.7 331.59 L25.9 334.36 L26.1 336.6 L26.3 336.36 L26.5 334.23 L26.7 331.51 L26.9 328.38 L27.1 325 L27.3 321.6 L27.5 318.4 L27.7 315.56 L27.9 313.26 L28.1 311.56 L28.3 310.52 L28.5 310.72 L28.7 311.95 L28.9 313.86 L29.1 316.42 L29.3 319.54 L29.5 323.07 L29.7 326.8 L29.9 330.52 L30.1 334 L30.3 337.04 L30.5 339.46 L30.7 338.96 L30.9 336.56 L31.1 333.53 L31.3 330.04 L31.5 326.31 L31.7 322.56 L31.9 319.04 L32.1 315.95 L32.3 313.45 L32.5 311.62 L32.7 310.51 L32.9 310.83 L33.1 312.22 L33.3 314.36 L33.5 317.21 L33.7 320.67 L33.9 324.56 L34.1 328.66 L34.3 332.73 L34.5 336.56 L34.7 339.88 L34.9 342.53 L35.1 341.76 L35.3 339.09 L35.5 335.74 L35.7 331.89 L35.9 327.77 L36.1 323.65 L36.3 319.78 L36.5 316.4 L36.7 313.66 L36.9 311.68 L37.1 310.5 L37.3 310.95 L37.5 312.55 L37.7 314.98 L37.9 318.2 L38.1 322.09 L38.3 326.45 L38.5 331.05 L38.7 335.68 L38.9 340.09 L39.1 343.97 L39.3 347.12 L39.5 346.14 L39.7 343.2 L39.9 339.45 L40.1 335.1 L40.3 330.41 L40.5 325.69 L40.7 321.23 L40.9 317.32 L41.1 314.14 L41.3 311.85 L41.5 310.5 L41.7 311.17 L41.9 313.16 L42.1 316.17 L42.3 320.17 L42.5 325.01 L42.7 330.45 L42.9 336.21 L43.1 341.94 L43.3 347.09 L43.5 351.52 L43.7 354.98 L43.9 353.15 L44.1 349.3 L44.3 344.56 L44.5 339.18 L44.7 333.5 L44.9 327.88 L45.1 322.65 L45.3 318.12 L45.5 314.51 L45.7 311.94 L45.9 310.48 L46.1 311.37 L46.3 313.64 L46.5 317.02 L46.7 321.43 L46.9 326.71 L47.1 332.57 L47.3 338.5 L47.5 344 L47.7 348.86 L47.9 352.82 L48.1 355.67 L48.3 352.87 L48.5 348.43 L48.7 343.25 L48.9 337.62 L49.1 331.87 L49.3 326.35 L49.5 321.36 L49.7 317.16 L49.9 313.91 L50.1 311.66 L50.3 310.44 L50.5 311.31 L50.7 313.24 L50.9 316.02 L51.1 319.54 L51.3 323.62 L51.5 328.08 L51.7 332.68 L51.9 337.07 L52.1 341 L52.3 344.23 L52.5 346.59 L52.7 344.24 L52.9 340.78 L53.1 336.71 L53.3 332.25 L53.5 327.66 L53.7 323.24 L53.9 319.23 L54.1 315.84 L54.3 313.21 L54.5 311.39 L54.7 310.42 L54.9 311.25 L55.1 312.94 L55.3 315.37 L55.5 318.45 L55.7 322.05 L55.9 325.96 L56.1 329.94 L56.3 333.73 L56.5 337.1 L56.7 339.86 L56.9 341.87 L57.1 339.58 L57.3 336.55 L57.5 333 L57.7 329.12 L57.9 325.15 L58.1 321.33 L58.3 317.88 L58.5 314.98 L58.7 312.74 L58.9 311.2 L59.1 310.42 L59.3 311.21 L59.5 312.71 L59.7 314.84 L59.9 317.54 L60.1 320.69 L60.3 324.13 L60.5 327.64 L60.7 331 L60.9 333.99 L61.1 336.45 L61.3 338.15 L61.5 336.12 L61.7 333.48 L61.9 330.36 L62.1 326.95 L62.3 323.44 L62.5 320.06 L62.7 317.01 L62.9 314.43 L63.1 312.44 L63.3 311.09 L63.5 310.44 L63.7 311.22 L63.9 312.63 L64.1 314.64 L64.3 317.19 L64.5 320.14 L64.7 323.35 L64.9 326.61 L65.1 329.72 L65.3 332.48 L65.5 334.75 L65.7 336.14 L65.9 334.22 L66.1 331.74 L66.3 328.83 L66.5 325.65 L66.7 322.39 L66.9 319.25 L67.1 316.43 L67.3 314.06 L67.5 312.23 L67.7 311 L67.9 310.48 L68.1 311.24 L68.3 312.59 L68.5 314.5 L68.7 316.9 L68.9 319.68 L69.1 322.69 L69.3 325.75 L69.5 328.67 L69.7 331.25 L69.9 333.37 L70.1 334.51 L70.3 332.7 L70.5 330.36 L70.7 327.61 L70.9 324.62 L71.1 321.56 L71.3 318.62 L71.5 315.98 L71.7 313.77 L71.9 312.07 L72.1 310.94 L72.3 310.51 L72.5 311.26 L72.7 312.58 L72.9 314.43 L73.1 316.74 L73.3 319.42 L73.5 322.29 L73.7 325.18 L73.9 327.92 L74.1 330.34 L74.3 332.29 L74.5 333.17 L74.7 331.4 L74.9 329.14 L75.1 326.51 L75.3 323.66 L75.5 320.76 L75.7 318 L75.9 315.53 L76.1 313.47 L76.3 311.91 L76.5 310.88 L76.7 310.54 L76.9 311.28 L77.1 312.53 L77.3 314.27 L77.5 316.44 L77.7 318.93 L77.9 321.61 L78.1 324.32 L78.3 326.88 L78.5 329.14 L78.7 330.96 L78.9 331.65 L79.1 330 L79.3 327.88 L79.5 325.42 L79.7 322.75 L79.9 320.04 L80.1 317.46 L80.3 315.15 L80.5 313.23 L80.7 311.78 L80.9 310.83 L81.1 310.57 L81.3 311.3 L81.5 312.53 L81.7 314.22 L81.9 316.33 L82.1 318.74 L82.3 321.33 L82.5 323.92 L82.7 326.37 L82.9 328.52 L83.1 330.25 L83.3 330.76 L83.5 329.14 L83.7 327.09 L83.9 324.71 L84.1 322.14 L84.3 319.54 L84.5 317.07 L84.7 314.87 L84.9 313.05 L85.1 311.68 L85.3 310.79 L85.5 310.61 L85.7 311.34 L85.9 312.54 L86.1 314.2 L86.3 316.24 L86.5 318.58 L86.7 321.07 L86.9 323.57 L87.1 325.92 L87.3 327.98 L87.5 329.63 L87.7 329.97 L87.9 328.39 L88.1 326.4 L88.3 324.09 L88.5 321.61 L88.7 319.11 L88.9 316.73 L89.1 314.63 L89.3 312.89 L89.5 311.59 L89.7 310.76 L89.9 310.64 L90.1 311.37 L90.3 312.56 L90.5 314.18 L90.7 316.18 L90.9 318.48 L91.1 320.94 L91.3 323.42 L91.5 325.76 L91.7 327.82 L91.9 329.48 L92.1 329.74 L92.3 328.2 L92.5 326.24 L92.7 323.96 L92.9 321.5 L93.1 319 L93.3 316.63 L93.5 314.51 L93.7 312.77 L93.9 311.47 L94.1 310.64 L94.3 310.57 L94.5 311.36 L94.7 312.62 L94.9 314.34 L95.1 316.46 L95.3 318.88 L95.5 321.47 L95.7 324.05 L95.9 326.48 L96.1 328.62 L96.3 330.33 L96.5 330.43 L96.7 328.8 L96.9 326.73 L97.1 324.33 L97.3 321.75 L97.5 319.14 L97.7 316.67 L97.9 314.48 L98.1 312.69 L98.3 311.35 L98.5 310.51 L98.7 310.51 L98.9 311.35 L99.1 312.7 L99.3 314.52 L99.5 316.76 L99.7 319.3 L99.9 322 L100.1 324.69 L100.3 327.22 L100.5 329.42 L100.7 331.18 L100.9 331.13 L101.1 329.39 L101.3 327.21 L101.5 324.69 L101.7 321.99 L101.9 319.28 L102.1 316.72 L102.3 314.46 L102.5 312.61 L102.7 311.24 L102.9 310.38 L103.1 310.45 L103.3 311.37 L103.5 312.82 L103.7 314.77 L103.9 317.15 L104.1 319.85 L104.3 322.72 L104.5 325.57 L104.7 328.24 L104.9 330.57 L105.1 332.43 L105.3 332.21 L105.5 330.36 L105.7 328.04 L105.9 325.36 L106.1 322.49 L106.3 319.61 L106.5 316.9 L106.7 314.51 L106.9 312.56 L107.1 311.14 L107.3 310.26 L107.5 310.4 L107.7 311.41 L107.9 312.98 L108.1 315.08 L108.3 317.64 L108.5 320.52 L108.7 323.57 L108.9 326.59 L109.1 329.41 L109.3 331.86 L109.5 333.8 L109.7 333.38 L109.9 331.38 L110.1 328.89 L110.3 326.02 L110.5 322.97 L110.7 319.92 L110.9 317.06 L111.1 314.54 L111.3 312.51 L111.5 311.03 L111.7 310.13 L111.9 310.36 L112.1 311.46 L112.3 313.16 L112.5 315.41 L112.7 318.14 L112.9 321.21 L113.1 324.44 L113.3 327.63 L113.5 330.63 L113.7 333.27 L113.9 335.38 L114.1 334.81 L114.3 332.7 L114.5 330.06 L114.7 327.01 L114.9 323.75 L115.1 320.48 L115.3 317.41 L115.5 314.72 L115.7 312.54 L115.9 310.96 L116.1 310.01 L116.3 310.35 L116.5 311.6 L116.7 313.52 L116.9 316.07 L117.1 319.16 L117.3 322.63 L117.5 326.29 L117.7 329.92 L117.9 333.29 L118.1 336.21 L118.3 338.53 L118.5 337.65 L118.7 335.24 L118.9 332.22 L119.1 328.78 L119.3 325.11 L119.5 321.45 L119.7 318.03 L119.9 315.04 L120.1 312.63 L120.3 310.9 L120.5 309.88 L120.7 310.36 L120.9 311.8 L121.1 313.98 L121.3 316.85 L121.5 320.32 L121.7 324.19 L121.9 328.26 L122.1 332.27 L122.3 335.99 L122.5 339.19 L122.7 341.7 L122.9 340.46 L123.1 337.73 L123.3 334.35 L123.5 330.5 L123.7 326.42 L123.9 322.37 L124.1 318.6 L124.3 315.32 L124.5 312.7 L124.7 310.83 L124.9 309.75 L125.1 310.38 L125.3 312.02 L125.5 314.5 L125.7 317.75 L125.9 321.66 L126.1 326.04 L126.3 330.64 L126.5 335.18 L126.7 339.39 L126.9 343.02 L127.1 345.89 L127.3 344.29 L127.5 341.22 L127.7 337.4 L127.9 333.05 L128.1 328.43 L128.3 323.85 L128.5 319.58 L128.7 315.87 L128.9 312.91 L129.1 310.81 L129.3 309.63 L129.5 310.47 L129.7 312.42 L129.9 315.32 L130.1 319.11 L130.3 323.64 L130.5 328.68 L130.7 333.96 L130.9 339.14 L131.1 343.96 L131.3 348.11 L131.5 351.38 L131.7 349.23 L131.9 345.66 L132.1 341.24 L132.3 336.22 L132.5 330.91 L132.7 325.64 L132.9 320.75 L133.1 316.52 L133.3 313.16 L133.5 310.79 L133.7 309.49 L133.9 310.6 L134.1 312.92 L134.3 316.33 L134.5 320.78 L134.7 326.07 L134.9 331.95 L135.1 338.07 L135.3 344.07 L135.5 349.59 L135.7 354.3 L135.9 357.97 L136.1 354.73 L136.3 349.92 L136.5 344.32 L136.7 338.25 L136.9 332.07 L137.1 326.15 L137.3 320.83 L137.5 316.36 L137.7 312.92 L137.9 310.58 L138.1 309.36 L138.3 310.54 L138.5 312.76 L138.7 315.92 L138.9 319.9 L139.1 324.49 L139.3 329.42 L139.5 334.38 L139.7 339.04 L139.9 343.11 L140.1 346.35 L140.3 348.51 L140.5 345.35 L140.7 341.39 L140.9 336.83 L141.1 331.98 L141.3 327.11 L141.5 322.44 L141.7 318.24 L141.9 314.71 L142.1 312 L142.3 310.16 L142.5 309.28 L142.7 310.29 L142.9 312.14 L143.1 314.77 L143.3 318.07 L143.5 321.88 L143.7 325.98 L143.9 330.11 L144.1 334.01 L144.3 337.42 L144.5 340.17 L144.7 341.81 L144.9 339.23 L145.1 335.97 L145.3 332.19 L145.5 328.11 L145.7 323.98 L145.9 320.04 L146.1 316.54 L146.3 313.62 L146.5 311.38 L146.7 309.86 L146.9 309.2 L147.1 310.11 L147.3 311.74 L147.5 314.05 L147.7 316.96 L147.9 320.33 L148.1 323.96 L148.3 327.64 L148.5 331.12 L148.7 334.2 L148.9 336.7 L149.1 338.05 L149.3 335.83 L149.5 332.97 L149.7 329.64 L149.9 326.03 L150.1 322.34 L150.3 318.82 L150.5 315.66 L150.7 313.01 L150.9 310.99 L151.1 309.64 L151.3 309.11 L151.5 309.99 L151.7 311.52 L151.9 313.66 L152.1 316.34 L152.3 319.43 L152.5 322.74 L152.7 326.09 L152.9 329.24 L153.1 332.02 L153.3 334.25 L153.5 335.27 L153.7 333.2 L153.9 330.56 L154.1 327.51 L154.3 324.2 L154.5 320.85 L154.7 317.66 L154.9 314.8 L155.1 312.43 L155.3 310.63 L155.5 309.43 L155.7 309.03 L155.9 309.86 L156.1 311.28 L156.3 313.27 L156.5 315.75 L156.7 318.6 L156.9 321.66 L157.1 324.73 L157.3 327.63 L157.5 330.19 L157.7 332.24 L157.9 333.03 L158.1 331.11 L158.3 328.68 L158.5 325.86 L158.7 322.81 L158.9 319.73 L159.1 316.78 L159.3 314.16 L159.5 311.98 L159.7 310.34 L159.9 309.25 L160.1 308.95 L160.3 309.75 L160.5 311.11 L160.7 312.99 L160.9 315.33 L161.1 318 L161.3 320.85 L161.5 323.71 L161.7 326.4 L161.9 328.75 L162.1 330.64 L162.3 331.19 L162.5 329.37 L162.7 327.08 L162.9 324.43 L163.1 321.59 L163.3 318.71 L163.5 315.99 L163.7 313.56 L163.9 311.56 L164.1 310.06 L164.3 309.08 L164.5 308.86 L164.7 309.64 L164.9 310.93 L165.1 312.7 L165.3 314.89 L165.5 317.38 L165.7 320.03 L165.9 322.67 L166.1 325.15 L166.3 327.3 L166.5 329.02 L166.7 329.36 L166.9 327.65 L167.1 325.51 L167.3 323.07 L167.5 320.43 L167.7 317.78 L167.9 315.26 L168.1 313.03 L168.3 311.19 L168.5 309.81 L168.7 308.92 L168.9 308.78 L169.1 309.54 L169.3 310.78 L169.5 312.48 L169.7 314.58 L169.9 316.96 L170.1 319.5 L170.3 322.03 L170.5 324.39 L170.7 326.46 L170.9 328.1 L171.1 328.31 L171.3 326.67 L171.5 324.62 L171.7 322.25 L171.9 319.72 L172.1 317.18 L172.3 314.77 L172.5 312.64 L172.7 310.9 L172.9 309.6 L173.1 308.77 L173.3 308.7 L173.5 309.45 L173.7 310.67 L173.9 312.32 L174.1 314.35 L174.3 316.65 L174.5 319.08 L174.7 321.5 L174.9 323.76 L175.1 325.72 L175.3 327.27 L175.5 327.32 L175.7 325.72 L175.9 323.73 L176.1 321.45 L176.3 319.02 L176.5 316.58 L176.7 314.29 L176.9 312.27 L177.1 310.62 L177.3 309.39 L177.5 308.63 L177.7 308.61 L177.9 309.36 L178.1 310.55 L178.3 312.16 L178.5 314.11 L178.7 316.32 L178.9 318.66 L179.1 320.97 L179.3 323.12 L179.5 324.97 L179.7 326.43 L179.9 326.33 L180.1 324.78 L180.3 322.86 L180.5 320.66 L180.7 318.33 L180.9 316 L181.1 313.82 L181.3 311.9 L181.5 310.34 L181.7 309.2 L181.9 308.49 L182.1 308.53 L182.3 309.27 L182.5 310.43 L182.7 311.98 L182.9 313.87 L183.1 315.99 L183.3 318.23 L183.5 320.43 L183.7 322.45 L183.9 324.18 L184.1 325.52 L184.3 325.28 L184.5 323.77 L184.7 321.92 L184.9 319.82 L185.1 317.61 L185.3 315.41 L185.5 313.37 L185.7 311.59 L185.9 310.15 L186.1 309.11 L186.3 308.47 L186.5 308.58 L186.7 309.29 L186.9 310.4 L187.1 311.86 L187.3 313.62 L187.5 315.59 L187.7 317.64 L187.9 319.66 L188.1 321.51 L188.3 323.08 L188.5 324.29 L188.7 323.94 L188.9 322.53 L189.1 320.8 L189.3 318.86 L189.5 316.82 L189.7 314.8 L189.9 312.93 L190.1 311.31 L190.3 310.01 L190.5 309.07 L190.7 308.51 L190.9 308.65 L191.1 309.33 L191.3 310.36 L191.5 311.72 L191.7 313.34 L191.9 315.15 L192.1 317.03 L192.3 318.87 L192.5 320.55 L192.7 321.96 L192.9 323.05 L193.1 322.61 L193.3 321.29 L193.5 319.7 L193.7 317.92 L193.9 316.05 L194.1 314.21 L194.3 312.51 L194.5 311.05 L194.7 309.88 L194.9 309.04 L195.1 308.55 L195.3 308.72 L195.5 309.35 L195.7 310.3 L195.9 311.54 L196.1 313.01 L196.3 314.64 L196.5 316.32 L196.7 317.95 L196.9 319.42 L197.1 320.65 L197.3 321.58 L197.5 321.06 L197.7 319.85 L197.9 318.41 L198.1 316.8 L198.3 315.13 L198.5 313.51 L198.7 312.01 L198.9 310.73 L199.1 309.72 L199.3 309.01 L199.5 308.59 L199.7 308.78 L199.9 309.35 L200.1 310.19 L200.3 311.27 L200.5 312.56 L200.7 313.97 L200.9 315.42 L201.1 316.82 L201.3 318.08 L201.5 319.12 L201.7 319.89 L201.9 319.35 L202.1 318.29 L202.3 317.02 L202.5 315.63 L202.7 314.19 L202.9 312.79 L203.1 311.52 L203.3 310.43 L203.5 309.58 L203.7 308.98 L203.9 308.64 L204.1 308.83 L204.3 309.33 L204.5 310.05 L204.7 310.99 L204.9 312.08 L205.1 313.28 L205.3 314.5 L205.5 315.67 L205.7 316.71 L205.9 317.57 L206.1 318.19 L206.3 317.65 L206.5 316.74 L206.7 315.66 L206.9 314.46 L207.1 313.23 L207.3 312.05 L207.5 310.99 L207.7 310.11 L207.9 309.42 L208.1 308.95 L208.3 308.7 L208.5 308.87 L208.7 309.26 L208.9 309.82 L209.1 310.53 L209.3 311.34 L209.5 312.21 L209.7 313.08 L209.9 313.88 L210.1 314.57 L210.3 315.11 L210.5 315.47 L210.7 314.96 L210.9 314.25 L211.1 313.44 L211.3 312.59 L211.5 311.74 L211.7 310.94 L211.9 310.23 L212.1 309.65 L212.3 309.2 L212.5 308.91 L212.7 308.75 L212.9 308.88 L213.1 309.13 L213.3 309.48 L213.5 309.91 L213.7 310.39 L213.9 310.88 L214.1 311.37 L214.3 311.8 L214.5 312.14 L214.7 312.39 L214.9 312.53 L215.7 309.3 L217.3 335.1 L219.6 309.3 L221.7 345.8 L224.1 309.3 L225.8 352.9 L228.5 309.3 L230.3 345.8 L233 310.1 L234.8 337.8 L236.5 330.6 L237.95 249.2 L239.6 347.6 L241.9 312.8 L245.1 356.5 L246.9 313.7 L249 332.4 L251.1 315.5 L253.1 327.1 L255.2 317.3 L257.9 325.3 L261.5 316 L264.2 318.2 L265.9 319.1 L268.6 323.5 L271.3 324.8 L272.3 324.6 L273.6 333.3 L275.3 331.5 L277.1 339.6 L279.8 351 L282.4 329.3 L284.2 330 L286.4 324.6 L288.7 326.2 L291.4 322.6 L294 324.4 L295.8 322.1 L298.5 323.9 L300.3 322.6 L303 325.3 L304.8 324.4 L307.4 328 L309.2 327.1 L311.9 332.4 L313.7 330.7 L315.5 341.3 L316.7 352 L317.6 337.8 L318.5 358.2 L320.4 337.8 L321.7 347.6 L323.5 331.5 L325.3 328.9 L327 330.6 L328.8 328 L330.6 329.8 L333.3 327.4 L335.1 328.5 L337.7 326.2 L339.5 327.1 L342.2 325.3 L344.9 324.4 L347.2 323.2 L348.1 330.6 L350.2 328.5 L354.7 326.7 L359.1 325.8 L363.6 325.3 L366.2 326.2 L368 325.3 L370.7 327.1 L374.3 331.5 L377.8 340.5 L380 350.3 L381 358.2 L382.3 348.5 L385 339.6 L388.5 335.1 L395.7 332.1 L404.6 331.2 L413.5 332.4 L422.4 336.9 L428.6 343.1 L432.2 350.3 L434.5 358.2 L435.8 358.2 L437.5 348.5 L441.1 341.3 L447.3 335.1 L453 332.8 L457.4 331.9"/></defs>
<use href="#env2" fill="none" stroke="#63367b" stroke-linejoin="round" stroke-width="2.2" opacity="0.14"/>
<use href="#env2" fill="none" stroke="#63367b" stroke-linejoin="round" stroke-width="0.72"/>
<rect x="18.5" y="249.3" width="438.9" height="109.1" fill="none" stroke="#3c3c3c" stroke-width="0.9"/>
<path d="M14.7 249.3H18.5M14.7 271.12H18.5M14.7 292.94H18.5M14.7 314.76H18.5M14.7 336.58H18.5M14.7 358.4H18.5M18.5 358.4V361.8M128.23 358.4V361.8M237.95 358.4V361.8M347.67 358.4V361.8M457.4 358.4V361.8" stroke="#3c3c3c" stroke-width="0.8" fill="none"/>
<rect x="30.4" y="19.5" width="117.4" height="38.4" fill="#fff" stroke="#c9c9c9" stroke-width="0.6" stroke-dasharray="2.2 1.2"/>
<path d="M34.8 39 L34.98 36.25 L35.16 33.6 L35.35 31.11 L35.53 28.88 L35.71 26.94 L35.89 25.36 L36.08 24.15 L36.26 23.31 L36.44 22.83 L36.62 22.68 L36.8 22.81 L36.99 23.17 L37.17 23.67 L37.35 24.27 L37.53 24.89 L37.71 25.47 L37.9 25.96 L38.08 26.33 L38.26 26.56 L38.44 26.64 L38.63 26.57 L38.81 26.37 L38.99 26.07 L39.17 25.7 L39.35 25.31 L39.54 24.94 L39.72 24.6 L39.9 24.35 L40.08 24.19 L40.27 24.13 L40.45 24.19 L40.63 24.34 L40.81 24.56 L40.99 24.85 L41.18 25.15 L41.36 25.45 L41.54 25.72 L41.72 25.93 L41.9 26.07 L42.09 26.11 L42.27 26.07 L42.45 25.94 L42.63 25.74 L42.82 25.49 L43 25.21 L43.18 24.94 L43.36 24.69 L43.54 24.5 L43.73 24.37 L43.91 24.33 L44.09 24.37 L44.27 24.5 L44.45 24.69 L44.64 24.94 L44.82 25.21 L45 25.49 L45.18 25.74 L45.37 25.94 L45.55 26.07 L45.73 26.11 L45.91 26.07 L46.09 25.93 L46.28 25.72 L46.46 25.45 L46.64 25.15 L46.82 24.85 L47.01 24.56 L47.19 24.34 L47.37 24.19 L47.55 24.13 L47.73 24.19 L47.92 24.35 L48.1 24.6 L48.28 24.94 L48.46 25.31 L48.64 25.7 L48.83 26.07 L49.01 26.37 L49.19 26.57 L49.37 26.64 L49.56 26.56 L49.74 26.33 L49.92 25.96 L50.1 25.47 L50.28 24.89 L50.47 24.27 L50.65 23.67 L50.83 23.17 L51.01 22.81 L51.19 22.68 L51.38 22.83 L51.56 23.31 L51.74 24.15 L51.92 25.36 L52.11 26.94 L52.29 28.88 L52.47 31.11 L52.65 33.6 L52.83 36.25 L53.02 39 L53.2 41.75 L53.38 44.4 L53.56 46.89 L53.75 49.12 L53.93 51.06 L54.11 52.64 L54.29 53.85 L54.47 54.69 L54.66 55.17 L54.84 55.32 L55.02 55.19 L55.2 54.83 L55.38 54.33 L55.57 53.73 L55.75 53.11 L55.93 52.53 L56.11 52.04 L56.3 51.67 L56.48 51.44 L56.66 51.36 L56.84 51.43 L57.02 51.63 L57.21 51.93 L57.39 52.3 L57.57 52.69 L57.75 53.06 L57.94 53.4 L58.12 53.65 L58.3 53.81 L58.48 53.87 L58.66 53.81 L58.85 53.66 L59.03 53.44 L59.21 53.15 L59.39 52.85 L59.57 52.55 L59.76 52.28 L59.94 52.07 L60.12 51.93 L60.3 51.89 L60.49 51.93 L60.67 52.06 L60.85 52.26 L61.03 52.51 L61.21 52.79 L61.4 53.06 L61.58 53.31 L61.76 53.5 L61.94 53.63 L62.12 53.67 L62.31 53.63 L62.49 53.5 L62.67 53.31 L62.85 53.06 L63.04 52.79 L63.22 52.51 L63.4 52.26 L63.58 52.06 L63.76 51.93 L63.95 51.89 L64.13 51.93 L64.31 52.07 L64.49 52.28 L64.68 52.55 L64.86 52.85 L65.04 53.15 L65.22 53.44 L65.4 53.66 L65.59 53.81 L65.77 53.87 L65.95 53.81 L66.13 53.65 L66.31 53.4 L66.5 53.06 L66.68 52.69 L66.86 52.3 L67.04 51.93 L67.23 51.63 L67.41 51.43 L67.59 51.36 L67.77 51.44 L67.95 51.67 L68.14 52.04 L68.32 52.53 L68.5 53.11 L68.68 53.73 L68.87 54.33 L69.05 54.83 L69.23 55.19 L69.41 55.32 L69.59 55.17 L69.78 54.69 L69.96 53.85 L70.14 52.64 L70.32 51.06 L70.5 49.12 L70.69 46.89 L70.87 44.4 L71.05 41.75 L71.23 39 L71.42 36.25 L71.6 33.6 L71.78 31.11 L71.96 28.88 L72.14 26.94 L72.33 25.36 L72.51 24.15 L72.69 23.31 L72.87 22.83 L73.05 22.68 L73.24 22.81 L73.42 23.17 L73.6 23.67 L73.78 24.27 L73.97 24.89 L74.15 25.47 L74.33 25.96 L74.51 26.33 L74.69 26.56 L74.88 26.64 L75.06 26.57 L75.24 26.37 L75.42 26.07 L75.61 25.7 L75.79 25.31 L75.97 24.94 L76.15 24.6 L76.33 24.35 L76.52 24.19 L76.7 24.13 L76.88 24.19 L77.06 24.34 L77.24 24.56 L77.43 24.85 L77.61 25.15 L77.79 25.45 L77.97 25.72 L78.16 25.93 L78.34 26.07 L78.52 26.11 L78.7 26.07 L78.88 25.94 L79.07 25.74 L79.25 25.49 L79.43 25.21 L79.61 24.94 L79.8 24.69 L79.98 24.5 L80.16 24.37 L80.34 24.33 L80.52 24.37 L80.71 24.5 L80.89 24.69 L81.07 24.94 L81.25 25.21 L81.43 25.49 L81.62 25.74 L81.8 25.94 L81.98 26.07 L82.16 26.11 L82.35 26.07 L82.53 25.93 L82.71 25.72 L82.89 25.45 L83.07 25.15 L83.26 24.85 L83.44 24.56 L83.62 24.34 L83.8 24.19 L83.98 24.13 L84.17 24.19 L84.35 24.35 L84.53 24.6 L84.71 24.94 L84.9 25.31 L85.08 25.7 L85.26 26.07 L85.44 26.37 L85.62 26.57 L85.81 26.64 L85.99 26.56 L86.17 26.33 L86.35 25.96 L86.54 25.47 L86.72 24.89 L86.9 24.27 L87.08 23.67 L87.26 23.17 L87.45 22.81 L87.63 22.68 L87.81 22.83 L87.99 23.31 L88.17 24.15 L88.36 25.36 L88.54 26.94 L88.72 28.88 L88.9 31.11 L89.09 33.6 L89.27 36.25 L89.45 39 L89.63 41.75 L89.81 44.4 L90 46.89 L90.18 49.12 L90.36 51.06 L90.54 52.64 L90.73 53.85 L90.91 54.69 L91.09 55.17 L91.27 55.32 L91.45 55.19 L91.64 54.83 L91.82 54.33 L92 53.73 L92.18 53.11 L92.36 52.53 L92.55 52.04 L92.73 51.67 L92.91 51.44 L93.09 51.36 L93.28 51.43 L93.46 51.63 L93.64 51.93 L93.82 52.3 L94 52.69 L94.19 53.06 L94.37 53.4 L94.55 53.65 L94.73 53.81 L94.91 53.87 L95.1 53.81 L95.28 53.66 L95.46 53.44 L95.64 53.15 L95.83 52.85 L96.01 52.55 L96.19 52.28 L96.37 52.07 L96.55 51.93 L96.74 51.89 L96.92 51.93 L97.1 52.06 L97.28 52.26 L97.47 52.51 L97.65 52.79 L97.83 53.06 L98.01 53.31 L98.19 53.5 L98.38 53.63 L98.56 53.67 L98.74 53.63 L98.92 53.5 L99.1 53.31 L99.29 53.06 L99.47 52.79 L99.65 52.51 L99.83 52.26 L100.02 52.06 L100.2 51.93 L100.38 51.89 L100.56 51.93 L100.74 52.07 L100.93 52.28 L101.11 52.55 L101.29 52.85 L101.47 53.15 L101.66 53.44 L101.84 53.66 L102.02 53.81 L102.2 53.87 L102.38 53.81 L102.57 53.65 L102.75 53.4 L102.93 53.06 L103.11 52.69 L103.29 52.3 L103.48 51.93 L103.66 51.63 L103.84 51.43 L104.02 51.36 L104.21 51.44 L104.39 51.67 L104.57 52.04 L104.75 52.53 L104.93 53.11 L105.12 53.73 L105.3 54.33 L105.48 54.83 L105.66 55.19 L105.84 55.32 L106.03 55.17 L106.21 54.69 L106.39 53.85 L106.57 52.64 L106.76 51.06 L106.94 49.12 L107.12 46.89 L107.3 44.4 L107.48 41.75 L107.67 39 L107.85 36.25 L108.03 33.6 L108.21 31.11 L108.4 28.88 L108.58 26.94 L108.76 25.36 L108.94 24.15 L109.12 23.31 L109.31 22.83 L109.49 22.68 L109.67 22.81 L109.85 23.17 L110.03 23.67 L110.22 24.27 L110.4 24.89 L110.58 25.47 L110.76 25.96 L110.95 26.33 L111.13 26.56 L111.31 26.64 L111.49 26.57 L111.67 26.37 L111.86 26.07 L112.04 25.7 L112.22 25.31 L112.4 24.94 L112.59 24.6 L112.77 24.35 L112.95 24.19 L113.13 24.13 L113.31 24.19 L113.5 24.34 L113.68 24.56 L113.86 24.85 L114.04 25.15 L114.22 25.45 L114.41 25.72 L114.59 25.93 L114.77 26.07 L114.95 26.11 L115.14 26.07 L115.32 25.94 L115.5 25.74 L115.68 25.49 L115.86 25.21 L116.05 24.94 L116.23 24.69 L116.41 24.5 L116.59 24.37 L116.77 24.33 L116.96 24.37 L117.14 24.5 L117.32 24.69 L117.5 24.94 L117.69 25.21 L117.87 25.49 L118.05 25.74 L118.23 25.94 L118.41 26.07 L118.6 26.11 L118.78 26.07 L118.96 25.93 L119.14 25.72 L119.33 25.45 L119.51 25.15 L119.69 24.85 L119.87 24.56 L120.05 24.34 L120.24 24.19 L120.42 24.13 L120.6 24.19 L120.78 24.35 L120.96 24.6 L121.15 24.94 L121.33 25.31 L121.51 25.7 L121.69 26.07 L121.88 26.37 L122.06 26.57 L122.24 26.64 L122.42 26.56 L122.6 26.33 L122.79 25.96 L122.97 25.47 L123.15 24.89 L123.33 24.27 L123.52 23.67 L123.7 23.17 L123.88 22.81 L124.06 22.68 L124.24 22.83 L124.43 23.31 L124.61 24.15 L124.79 25.36 L124.97 26.94 L125.15 28.88 L125.34 31.11 L125.52 33.6 L125.7 36.25 L125.88 39 L126.07 41.75 L126.25 44.4 L126.43 46.89 L126.61 49.12 L126.79 51.06 L126.98 52.64 L127.16 53.85 L127.34 54.69 L127.52 55.17 L127.7 55.32 L127.89 55.19 L128.07 54.83 L128.25 54.33 L128.43 53.73 L128.62 53.11 L128.8 52.53 L128.98 52.04 L129.16 51.67 L129.34 51.44 L129.53 51.36 L129.71 51.43 L129.89 51.63 L130.07 51.93 L130.26 52.3 L130.44 52.69 L130.62 53.06 L130.8 53.4 L130.98 53.65 L131.17 53.81 L131.35 53.87 L131.53 53.81 L131.71 53.66 L131.89 53.44 L132.08 53.15 L132.26 52.85 L132.44 52.55 L132.62 52.28 L132.81 52.07 L132.99 51.93 L133.17 51.89 L133.35 51.93 L133.53 52.06 L133.72 52.26 L133.9 52.51 L134.08 52.79 L134.26 53.06 L134.45 53.31 L134.63 53.5 L134.81 53.63 L134.99 53.67 L135.17 53.63 L135.36 53.5 L135.54 53.31 L135.72 53.06 L135.9 52.79 L136.08 52.51 L136.27 52.26 L136.45 52.06 L136.63 51.93 L136.81 51.89 L137 51.93 L137.18 52.07 L137.36 52.28 L137.54 52.55 L137.72 52.85 L137.91 53.15 L138.09 53.44 L138.27 53.66 L138.45 53.81 L138.63 53.87 L138.82 53.81 L139 53.65 L139.18 53.4 L139.36 53.06 L139.55 52.69 L139.73 52.3 L139.91 51.93 L140.09 51.63 L140.27 51.43 L140.46 51.36 L140.64 51.44 L140.82 51.67 L141 52.04 L141.19 52.53 L141.37 53.11 L141.55 53.73 L141.73 54.33 L141.91 54.83 L142.1 55.19 L142.28 55.32 L142.46 55.17 L142.64 54.69 L142.82 53.85 L143.01 52.64 L143.19 51.06 L143.37 49.12 L143.55 46.89 L143.74 44.4 L143.92 41.75 L144.1 39" stroke="#1b70b8" stroke-width="1.35" fill="none" stroke-linejoin="round"/>
<text transform="translate(26.4 36.6) rotate(-90)" text-anchor="middle" font-size="5.9" fill="#3a3a3a" stroke="none">Voltage (a.u.)</text>
<text x="91.6" y="65.2" text-anchor="middle" font-size="5.9" fill="#3a3a3a" stroke="none">time (a.u.)</text>
<rect x="30.4" y="136.1" width="117.4" height="39.3" fill="#fff" stroke="#c9c9c9" stroke-width="0.6" stroke-dasharray="2.2 1.2"/>
<path d="M33.3 171.5 L51.7 138.6 L69.7 171.5 L87.9 138.6 L106.3 171.5 L124.3 138.6 L142.7 171.5" stroke="#1b70b8" stroke-width="1.3" fill="none" stroke-linejoin="miter"/>
<text transform="translate(26.4 153.1) rotate(-90)" text-anchor="middle" font-size="5.9" fill="#3a3a3a" stroke="none">Voltage (a.u.)</text>
<text x="89.2" y="180.8" text-anchor="middle" font-size="5.9" fill="#3a3a3a" stroke="none">time (a.u.)</text>
<rect x="30.4" y="253.2" width="117.4" height="39.2" fill="#fff" stroke="#c9c9c9" stroke-width="0.6" stroke-dasharray="2.2 1.2"/>
<path d="M33.9 273.28 L34.02 278.28 L34.14 282.78 L34.26 286.36 L34.39 288.77 L34.51 289.97 L34.63 290.1 L34.75 289.46 L34.87 288.42 L34.99 287.37 L35.11 286.58 L35.23 286.23 L35.36 286.34 L35.48 286.8 L35.6 287.43 L35.72 288.02 L35.84 288.42 L35.96 288.53 L36.08 288.35 L36.21 287.98 L36.33 287.53 L36.45 287.14 L36.57 286.93 L36.69 286.93 L36.81 287.14 L36.93 287.46 L37.05 287.8 L37.18 288.05 L37.3 288.15 L37.42 288.07 L37.54 287.87 L37.66 287.59 L37.78 287.34 L37.9 287.19 L38.03 287.17 L38.15 287.28 L38.27 287.48 L38.39 287.7 L38.51 287.88 L38.63 287.96 L38.75 287.93 L38.87 287.79 L39 287.61 L39.12 287.43 L39.24 287.32 L39.36 287.31 L39.48 287.39 L39.6 287.53 L39.72 287.68 L39.85 287.8 L39.97 287.85 L40.09 287.8 L40.21 287.69 L40.33 287.56 L40.45 287.45 L40.57 287.4 L40.69 287.43 L40.82 287.52 L40.94 287.65 L41.06 287.75 L41.18 287.79 L41.3 287.75 L41.42 287.63 L41.54 287.48 L41.67 287.36 L41.79 287.33 L41.91 287.42 L42.03 287.64 L42.15 287.93 L42.27 288.17 L42.39 288.23 L42.51 287.98 L42.64 287.32 L42.76 286.24 L42.88 284.77 L43 283.06 L43.12 281.28 L43.24 279.63 L43.36 278.3 L43.49 277.41 L43.61 276.99 L43.73 277.02 L43.85 277.35 L43.97 277.84 L44.09 278.32 L44.21 278.65 L44.33 278.75 L44.46 278.64 L44.58 278.35 L44.7 278.01 L44.82 277.7 L44.94 277.52 L45.06 277.51 L45.18 277.66 L45.31 277.92 L45.43 278.21 L45.55 278.43 L45.67 278.53 L45.79 278.48 L45.91 278.31 L46.03 278.06 L46.15 277.82 L46.28 277.66 L46.4 277.61 L46.52 277.7 L46.64 277.89 L46.76 278.12 L46.88 278.32 L47 278.44 L47.13 278.45 L47.25 278.33 L47.37 278.14 L47.49 277.92 L47.61 277.74 L47.73 277.66 L47.85 277.69 L47.97 277.82 L48.1 278.02 L48.22 278.23 L48.34 278.39 L48.46 278.45 L48.58 278.39 L48.7 278.23 L48.82 278.02 L48.95 277.82 L49.07 277.68 L49.19 277.64 L49.31 277.72 L49.43 277.9 L49.55 278.12 L49.67 278.34 L49.79 278.47 L49.92 278.5 L50.04 278.39 L50.16 278.19 L50.28 277.93 L50.4 277.68 L50.52 277.52 L50.64 277.5 L50.77 277.63 L50.89 277.9 L51.01 278.26 L51.13 278.62 L51.25 278.88 L51.37 278.95 L51.49 278.74 L51.61 278.2 L51.74 277.34 L51.86 276.17 L51.98 274.78 L52.1 273.28 L52.22 271.77 L52.34 270.38 L52.46 269.21 L52.59 268.35 L52.71 267.81 L52.83 267.6 L52.95 267.67 L53.07 267.93 L53.19 268.29 L53.31 268.65 L53.43 268.92 L53.56 269.05 L53.68 269.03 L53.8 268.87 L53.92 268.62 L54.04 268.36 L54.16 268.16 L54.28 268.05 L54.41 268.08 L54.53 268.21 L54.65 268.43 L54.77 268.65 L54.89 268.83 L55.01 268.91 L55.13 268.87 L55.25 268.73 L55.38 268.53 L55.5 268.32 L55.62 268.16 L55.74 268.1 L55.86 268.16 L55.98 268.32 L56.1 268.53 L56.23 268.73 L56.35 268.86 L56.47 268.89 L56.59 268.81 L56.71 268.63 L56.83 268.41 L56.95 268.22 L57.07 268.1 L57.2 268.11 L57.32 268.23 L57.44 268.43 L57.56 268.66 L57.68 268.85 L57.8 268.94 L57.92 268.89 L58.05 268.73 L58.17 268.49 L58.29 268.24 L58.41 268.07 L58.53 268.02 L58.65 268.12 L58.77 268.34 L58.89 268.63 L59.02 268.89 L59.14 269.04 L59.26 269.03 L59.38 268.85 L59.5 268.54 L59.62 268.2 L59.74 267.91 L59.87 267.8 L59.99 267.9 L60.11 268.23 L60.23 268.71 L60.35 269.2 L60.47 269.53 L60.59 269.56 L60.71 269.14 L60.84 268.25 L60.96 266.92 L61.08 265.27 L61.2 263.49 L61.32 261.78 L61.44 260.31 L61.56 259.23 L61.69 258.57 L61.81 258.32 L61.93 258.38 L62.05 258.62 L62.17 258.91 L62.29 259.13 L62.41 259.22 L62.53 259.19 L62.66 259.07 L62.78 258.92 L62.9 258.8 L63.02 258.76 L63.14 258.8 L63.26 258.9 L63.38 259.03 L63.51 259.12 L63.63 259.15 L63.75 259.1 L63.87 258.99 L63.99 258.86 L64.11 258.75 L64.23 258.7 L64.35 258.75 L64.48 258.87 L64.6 259.02 L64.72 259.16 L64.84 259.24 L64.96 259.23 L65.08 259.12 L65.2 258.94 L65.33 258.76 L65.45 258.62 L65.57 258.59 L65.69 258.67 L65.81 258.85 L65.93 259.07 L66.05 259.27 L66.17 259.38 L66.3 259.36 L66.42 259.21 L66.54 258.96 L66.66 258.68 L66.78 258.48 L66.9 258.4 L67.02 258.5 L67.15 258.75 L67.27 259.09 L67.39 259.41 L67.51 259.62 L67.63 259.62 L67.75 259.41 L67.87 259.02 L67.99 258.57 L68.12 258.2 L68.24 258.02 L68.36 258.13 L68.48 258.53 L68.6 259.12 L68.72 259.75 L68.84 260.21 L68.97 260.32 L69.09 259.97 L69.21 259.18 L69.33 258.13 L69.45 257.09 L69.57 256.45 L69.69 256.58 L69.81 257.78 L69.94 260.19 L70.06 263.77 L70.18 268.27 L70.3 273.28 L70.42 278.28 L70.54 282.78 L70.66 286.36 L70.79 288.77 L70.91 289.97 L71.03 290.1 L71.15 289.46 L71.27 288.42 L71.39 287.37 L71.51 286.58 L71.63 286.23 L71.76 286.34 L71.88 286.8 L72 287.43 L72.12 288.02 L72.24 288.42 L72.36 288.53 L72.48 288.35 L72.61 287.98 L72.73 287.53 L72.85 287.14 L72.97 286.93 L73.09 286.93 L73.21 287.14 L73.33 287.46 L73.45 287.8 L73.58 288.05 L73.7 288.15 L73.82 288.07 L73.94 287.87 L74.06 287.59 L74.18 287.34 L74.3 287.19 L74.43 287.17 L74.55 287.28 L74.67 287.48 L74.79 287.7 L74.91 287.88 L75.03 287.96 L75.15 287.93 L75.27 287.79 L75.4 287.61 L75.52 287.43 L75.64 287.32 L75.76 287.31 L75.88 287.39 L76 287.53 L76.12 287.68 L76.25 287.8 L76.37 287.85 L76.49 287.8 L76.61 287.69 L76.73 287.56 L76.85 287.45 L76.97 287.4 L77.09 287.43 L77.22 287.52 L77.34 287.65 L77.46 287.75 L77.58 287.79 L77.7 287.75 L77.82 287.63 L77.94 287.48 L78.07 287.36 L78.19 287.33 L78.31 287.42 L78.43 287.64 L78.55 287.93 L78.67 288.17 L78.79 288.23 L78.91 287.98 L79.04 287.32 L79.16 286.24 L79.28 284.77 L79.4 283.06 L79.52 281.28 L79.64 279.63 L79.76 278.3 L79.89 277.41 L80.01 276.99 L80.13 277.02 L80.25 277.35 L80.37 277.84 L80.49 278.32 L80.61 278.65 L80.73 278.75 L80.86 278.64 L80.98 278.35 L81.1 278.01 L81.22 277.7 L81.34 277.52 L81.46 277.51 L81.58 277.66 L81.71 277.92 L81.83 278.21 L81.95 278.43 L82.07 278.53 L82.19 278.48 L82.31 278.31 L82.43 278.06 L82.55 277.82 L82.68 277.66 L82.8 277.61 L82.92 277.7 L83.04 277.89 L83.16 278.12 L83.28 278.32 L83.4 278.44 L83.53 278.45 L83.65 278.33 L83.77 278.14 L83.89 277.92 L84.01 277.74 L84.13 277.66 L84.25 277.69 L84.37 277.82 L84.5 278.02 L84.62 278.23 L84.74 278.39 L84.86 278.45 L84.98 278.39 L85.1 278.23 L85.22 278.02 L85.35 277.82 L85.47 277.68 L85.59 277.64 L85.71 277.72 L85.83 277.9 L85.95 278.12 L86.07 278.34 L86.19 278.47 L86.32 278.5 L86.44 278.39 L86.56 278.19 L86.68 277.93 L86.8 277.68 L86.92 277.52 L87.04 277.5 L87.17 277.63 L87.29 277.9 L87.41 278.26 L87.53 278.62 L87.65 278.88 L87.77 278.95 L87.89 278.74 L88.01 278.2 L88.14 277.34 L88.26 276.17 L88.38 274.78 L88.5 273.28 L88.62 271.77 L88.74 270.38 L88.86 269.21 L88.99 268.35 L89.11 267.81 L89.23 267.6 L89.35 267.67 L89.47 267.93 L89.59 268.29 L89.71 268.65 L89.83 268.92 L89.96 269.05 L90.08 269.03 L90.2 268.87 L90.32 268.62 L90.44 268.36 L90.56 268.16 L90.68 268.05 L90.81 268.08 L90.93 268.21 L91.05 268.43 L91.17 268.65 L91.29 268.83 L91.41 268.91 L91.53 268.87 L91.65 268.73 L91.78 268.53 L91.9 268.32 L92.02 268.16 L92.14 268.1 L92.26 268.16 L92.38 268.32 L92.5 268.53 L92.63 268.73 L92.75 268.86 L92.87 268.89 L92.99 268.81 L93.11 268.63 L93.23 268.41 L93.35 268.22 L93.47 268.1 L93.6 268.11 L93.72 268.23 L93.84 268.43 L93.96 268.66 L94.08 268.85 L94.2 268.94 L94.32 268.89 L94.45 268.73 L94.57 268.49 L94.69 268.24 L94.81 268.07 L94.93 268.02 L95.05 268.12 L95.17 268.34 L95.29 268.63 L95.42 268.89 L95.54 269.04 L95.66 269.03 L95.78 268.85 L95.9 268.54 L96.02 268.2 L96.14 267.91 L96.27 267.8 L96.39 267.9 L96.51 268.23 L96.63 268.71 L96.75 269.2 L96.87 269.53 L96.99 269.56 L97.11 269.14 L97.24 268.25 L97.36 266.92 L97.48 265.27 L97.6 263.49 L97.72 261.78 L97.84 260.31 L97.96 259.23 L98.09 258.57 L98.21 258.32 L98.33 258.38 L98.45 258.62 L98.57 258.91 L98.69 259.13 L98.81 259.22 L98.93 259.19 L99.06 259.07 L99.18 258.92 L99.3 258.8 L99.42 258.76 L99.54 258.8 L99.66 258.9 L99.78 259.03 L99.91 259.12 L100.03 259.15 L100.15 259.1 L100.27 258.99 L100.39 258.86 L100.51 258.75 L100.63 258.7 L100.75 258.75 L100.88 258.87 L101 259.02 L101.12 259.16 L101.24 259.24 L101.36 259.23 L101.48 259.12 L101.6 258.94 L101.73 258.76 L101.85 258.62 L101.97 258.59 L102.09 258.67 L102.21 258.85 L102.33 259.07 L102.45 259.27 L102.57 259.38 L102.7 259.36 L102.82 259.21 L102.94 258.96 L103.06 258.68 L103.18 258.48 L103.3 258.4 L103.42 258.5 L103.55 258.75 L103.67 259.09 L103.79 259.41 L103.91 259.62 L104.03 259.62 L104.15 259.41 L104.27 259.02 L104.39 258.57 L104.52 258.2 L104.64 258.02 L104.76 258.13 L104.88 258.53 L105 259.12 L105.12 259.75 L105.24 260.21 L105.37 260.32 L105.49 259.97 L105.61 259.18 L105.73 258.13 L105.85 257.09 L105.97 256.45 L106.09 256.58 L106.21 257.78 L106.34 260.19 L106.46 263.77 L106.58 268.27 L106.7 273.28 L106.82 278.28 L106.94 282.78 L107.06 286.36 L107.19 288.77 L107.31 289.97 L107.43 290.1 L107.55 289.46 L107.67 288.42 L107.79 287.37 L107.91 286.58 L108.03 286.23 L108.16 286.34 L108.28 286.8 L108.4 287.43 L108.52 288.02 L108.64 288.42 L108.76 288.53 L108.88 288.35 L109.01 287.98 L109.13 287.53 L109.25 287.14 L109.37 286.93 L109.49 286.93 L109.61 287.14 L109.73 287.46 L109.85 287.8 L109.98 288.05 L110.1 288.15 L110.22 288.07 L110.34 287.87 L110.46 287.59 L110.58 287.34 L110.7 287.19 L110.83 287.17 L110.95 287.28 L111.07 287.48 L111.19 287.7 L111.31 287.88 L111.43 287.96 L111.55 287.93 L111.67 287.79 L111.8 287.61 L111.92 287.43 L112.04 287.32 L112.16 287.31 L112.28 287.39 L112.4 287.53 L112.52 287.68 L112.65 287.8 L112.77 287.85 L112.89 287.8 L113.01 287.69 L113.13 287.56 L113.25 287.45 L113.37 287.4 L113.49 287.43 L113.62 287.52 L113.74 287.65 L113.86 287.75 L113.98 287.79 L114.1 287.75 L114.22 287.63 L114.34 287.48 L114.47 287.36 L114.59 287.33 L114.71 287.42 L114.83 287.64 L114.95 287.93 L115.07 288.17 L115.19 288.23 L115.31 287.98 L115.44 287.32 L115.56 286.24 L115.68 284.77 L115.8 283.06 L115.92 281.28 L116.04 279.63 L116.16 278.3 L116.29 277.41 L116.41 276.99 L116.53 277.02 L116.65 277.35 L116.77 277.84 L116.89 278.32 L117.01 278.65 L117.13 278.75 L117.26 278.64 L117.38 278.35 L117.5 278.01 L117.62 277.7 L117.74 277.52 L117.86 277.51 L117.98 277.66 L118.11 277.92 L118.23 278.21 L118.35 278.43 L118.47 278.53 L118.59 278.48 L118.71 278.31 L118.83 278.06 L118.95 277.82 L119.08 277.66 L119.2 277.61 L119.32 277.7 L119.44 277.89 L119.56 278.12 L119.68 278.32 L119.8 278.44 L119.93 278.45 L120.05 278.33 L120.17 278.14 L120.29 277.92 L120.41 277.74 L120.53 277.66 L120.65 277.69 L120.77 277.82 L120.9 278.02 L121.02 278.23 L121.14 278.39 L121.26 278.45 L121.38 278.39 L121.5 278.23 L121.62 278.02 L121.75 277.82 L121.87 277.68 L121.99 277.64 L122.11 277.72 L122.23 277.9 L122.35 278.12 L122.47 278.34 L122.59 278.47 L122.72 278.5 L122.84 278.39 L122.96 278.19 L123.08 277.93 L123.2 277.68 L123.32 277.52 L123.44 277.5 L123.57 277.63 L123.69 277.9 L123.81 278.26 L123.93 278.62 L124.05 278.88 L124.17 278.95 L124.29 278.74 L124.41 278.2 L124.54 277.34 L124.66 276.17 L124.78 274.78 L124.9 273.28 L125.02 271.77 L125.14 270.38 L125.26 269.21 L125.39 268.35 L125.51 267.81 L125.63 267.6 L125.75 267.67 L125.87 267.93 L125.99 268.29 L126.11 268.65 L126.23 268.92 L126.36 269.05 L126.48 269.03 L126.6 268.87 L126.72 268.62 L126.84 268.36 L126.96 268.16 L127.08 268.05 L127.21 268.08 L127.33 268.21 L127.45 268.43 L127.57 268.65 L127.69 268.83 L127.81 268.91 L127.93 268.87 L128.05 268.73 L128.18 268.53 L128.3 268.32 L128.42 268.16 L128.54 268.1 L128.66 268.16 L128.78 268.32 L128.9 268.53 L129.03 268.73 L129.15 268.86 L129.27 268.89 L129.39 268.81 L129.51 268.63 L129.63 268.41 L129.75 268.22 L129.87 268.1 L130 268.11 L130.12 268.23 L130.24 268.43 L130.36 268.66 L130.48 268.85 L130.6 268.94 L130.72 268.89 L130.85 268.73 L130.97 268.49 L131.09 268.24 L131.21 268.07 L131.33 268.02 L131.45 268.12 L131.57 268.34 L131.69 268.63 L131.82 268.89 L131.94 269.04 L132.06 269.03 L132.18 268.85 L132.3 268.54 L132.42 268.2 L132.54 267.91 L132.67 267.8 L132.79 267.9 L132.91 268.23 L133.03 268.71 L133.15 269.2 L133.27 269.53 L133.39 269.56 L133.51 269.14 L133.64 268.25 L133.76 266.92 L133.88 265.27 L134 263.49 L134.12 261.78 L134.24 260.31 L134.36 259.23 L134.49 258.57 L134.61 258.32 L134.73 258.38 L134.85 258.62 L134.97 258.91 L135.09 259.13 L135.21 259.22 L135.33 259.19 L135.46 259.07 L135.58 258.92 L135.7 258.8 L135.82 258.76 L135.94 258.8 L136.06 258.9 L136.18 259.03 L136.31 259.12 L136.43 259.15 L136.55 259.1 L136.67 258.99 L136.79 258.86 L136.91 258.75 L137.03 258.7 L137.15 258.75 L137.28 258.87 L137.4 259.02 L137.52 259.16 L137.64 259.24 L137.76 259.23 L137.88 259.12 L138 258.94 L138.13 258.76 L138.25 258.62 L138.37 258.59 L138.49 258.67 L138.61 258.85 L138.73 259.07 L138.85 259.27 L138.97 259.38 L139.1 259.36 L139.22 259.21 L139.34 258.96 L139.46 258.68 L139.58 258.48 L139.7 258.4 L139.82 258.5 L139.95 258.75 L140.07 259.09 L140.19 259.41 L140.31 259.62 L140.43 259.62 L140.55 259.41 L140.67 259.02 L140.79 258.57 L140.92 258.2 L141.04 258.02 L141.16 258.13 L141.28 258.53 L141.4 259.12 L141.52 259.75 L141.64 260.21 L141.77 260.32 L141.89 259.97 L142.01 259.18 L142.13 258.13 L142.25 257.09 L142.37 256.45 L142.49 256.58 L142.61 257.78 L142.74 260.19 L142.86 263.77 L142.98 268.27 L143.1 273.28" stroke="#1b70b8" stroke-width="1.0" fill="none" stroke-linejoin="round"/>
<text transform="translate(26.4 271.9) rotate(-90)" text-anchor="middle" font-size="5.9" fill="#3a3a3a" stroke="none">Voltage (a.u.)</text>
<text x="89.2" y="297.8" text-anchor="middle" font-size="5.9" fill="#3a3a3a" stroke="none">time (a.u.)</text>
<path d="M110.6 7.3H132.4" stroke="#62b8e8" stroke-width="1.2"/>
<path d="M234.8 7.9H256.6" stroke="#8e5c9c" stroke-width="1.2"/>
<text x="136.6" y="12.0" font-size="10.4" fill="#1a1a1a">Frequency spectrum</text>
<text x="261.3" y="12.0" font-size="10.4" fill="#1a1a1a">Spectrum envelope</text>
<text x="-0.3" y="9.3" font-size="15" font-weight="bold" fill="#111">a</text>
<text transform="translate(480.1 11) scale(1.12 1)" font-size="14" font-weight="bold" fill="#111">b</text>
<text transform="translate(8.9 189.6) rotate(-90)" text-anchor="middle" font-size="10.25" fill="#1a1a1a">Optical power [20 dB/div]</text>
<text x="18.5" y="375.3" text-anchor="middle" font-size="10.25" fill="#1a1a1a">–200</text>
<text x="128.23" y="375.3" text-anchor="middle" font-size="10.25" fill="#1a1a1a">–100</text>
<text x="237.95" y="375.3" text-anchor="middle" font-size="10.25" fill="#1a1a1a">0</text>
<text x="347.67" y="375.3" text-anchor="middle" font-size="10.25" fill="#1a1a1a">100</text>
<text x="457.4" y="375.3" text-anchor="middle" font-size="10.25" fill="#1a1a1a">200</text>
<text x="238" y="392.9" text-anchor="middle" font-size="10.25" fill="#1a1a1a">Mode number</text>
<rect x="499.1" y="16.8" width="146.1" height="107.1" fill="#245a93"/>
<g clip-path="url(#cb1)">
<path d="M566.43 -45.56 L566.55 -45.27 L566.67 -44.97 L566.79 -44.64 L566.91 -44.28 L567.04 -43.91 L567.16 -43.51 L567.28 -43.08 L567.4 -42.63 L567.52 -42.16 L567.65 -41.66 L567.77 -41.14 L567.89 -40.59 L568.01 -40.03 L568.13 -39.43 L568.25 -38.82 L568.38 -38.18 L568.5 -37.52 L568.62 -36.84 L568.74 -36.14 L568.86 -35.41 L568.98 -34.66 L569.11 -33.9 L569.23 -33.11 L569.35 -32.3 L569.47 -31.48 L569.59 -30.63 L569.72 -29.77 L569.84 -28.9 L569.96 -28 L570.08 -27.09 L570.2 -26.16 L570.32 -25.23 L570.45 -24.27 L570.57 -23.31 L570.69 -22.33 L570.81 -21.34 L570.93 -20.34 L571.05 -19.34 L571.18 -18.32 L571.3 -17.3 L571.42 -16.27 L571.54 -15.23 L571.66 -14.19 L571.78 -13.15 L571.91 -12.1 L572.03 -11.05 L572.15 -10 L572.27 -8.95 L572.39 -7.9 L572.52 -6.85 L572.64 -5.81 L572.76 -4.77 L572.88 -3.73 L573 -2.7 L573.12 -1.68 L573.25 -0.66 L573.37 0.34 L573.49 1.34 L573.61 2.33 L573.73 3.31 L573.85 4.27 L573.98 5.23 L574.1 6.16 L574.22 7.09 L574.34 8 L574.46 8.9 L574.59 9.77 L574.71 10.63 L574.83 11.48 L574.95 12.3 L575.07 13.11 L575.19 13.9 L575.32 14.66 L575.44 15.41 L575.56 16.14 L575.68 16.84 L575.8 17.52 L575.92 18.18 L576.05 18.82 L576.17 19.43 L576.29 20.03 L576.41 20.59 L576.53 21.14 L576.65 21.66 L576.78 22.16 L576.9 22.63 L577.02 23.08 L577.14 23.51 L577.26 23.91 L577.39 24.28 L577.51 24.64 L577.63 24.97 L577.75 25.27 L577.87 25.56M639.48 25.56 L639.6 25.27 L639.72 24.97 L639.84 24.64 L639.96 24.28 L640.09 23.91 L640.21 23.51 L640.33 23.08 L640.45 22.63 L640.57 22.16 L640.7 21.66 L640.82 21.14 L640.94 20.59 L641.06 20.03 L641.18 19.43 L641.3 18.82 L641.43 18.18 L641.55 17.52 L641.67 16.84 L641.79 16.14 L641.91 15.41 L642.03 14.66 L642.16 13.9 L642.28 13.11 L642.4 12.3 L642.52 11.48 L642.64 10.63 L642.77 9.77 L642.89 8.9 L643.01 8 L643.13 7.09 L643.25 6.16 L643.37 5.23 L643.5 4.27 L643.62 3.31 L643.74 2.33 L643.86 1.34 L643.98 0.34 L644.1 -0.66 L644.23 -1.68 L644.35 -2.7 L644.47 -3.73 L644.59 -4.77 L644.71 -5.81 L644.83 -6.85 L644.96 -7.9 L645.08 -8.95 L645.2 -10M499.1 16.85 L499.22 15.8 L499.34 14.75 L499.47 13.7 L499.59 12.66 L499.71 11.62 L499.83 10.58 L499.95 9.55 L500.07 8.53 L500.2 7.51 L500.32 6.51 L500.44 5.51 L500.56 4.52 L500.68 3.54 L500.8 2.58 L500.93 1.62 L501.05 0.69 L501.17 -0.24 L501.29 -1.15 L501.41 -2.05 L501.54 -2.92 L501.66 -3.78 L501.78 -4.63 L501.9 -5.45 L502.02 -6.26 L502.14 -7.05 L502.27 -7.81 L502.39 -8.56 L502.51 -9.29 L502.63 -9.99 L502.75 -10.67 L502.87 -11.33 L503 -11.97 L503.12 -12.58 L503.24 -13.18 L503.36 -13.74 L503.48 -14.29 L503.6 -14.81 L503.73 -15.31 L503.85 -15.78 L503.97 -16.23 L504.09 -16.66 L504.21 -17.06 L504.34 -17.43 L504.46 -17.79 L504.58 -18.12 L504.7 -18.42 L504.82 -18.71M566.43 -18.71 L566.55 -18.42 L566.67 -18.12 L566.79 -17.79 L566.91 -17.43 L567.04 -17.06 L567.16 -16.66 L567.28 -16.23 L567.4 -15.78 L567.52 -15.31 L567.65 -14.81 L567.77 -14.29 L567.89 -13.74 L568.01 -13.18 L568.13 -12.58 L568.25 -11.97 L568.38 -11.33 L568.5 -10.67 L568.62 -9.99 L568.74 -9.29 L568.86 -8.56 L568.98 -7.81 L569.11 -7.05 L569.23 -6.26 L569.35 -5.45 L569.47 -4.63 L569.59 -3.78 L569.72 -2.92 L569.84 -2.05 L569.96 -1.15 L570.08 -0.24 L570.2 0.69 L570.32 1.62 L570.45 2.58 L570.57 3.54 L570.69 4.52 L570.81 5.51 L570.93 6.51 L571.05 7.51 L571.18 8.53 L571.3 9.55 L571.42 10.58 L571.54 11.62 L571.66 12.66 L571.78 13.7 L571.91 14.75 L572.03 15.8 L572.15 16.85 L572.27 17.9 L572.39 18.95 L572.52 20 L572.64 21.04 L572.76 22.08 L572.88 23.12 L573 24.15 L573.12 25.17 L573.25 26.19 L573.37 27.19 L573.49 28.19 L573.61 29.18 L573.73 30.16 L573.85 31.12 L573.98 32.08 L574.1 33.01 L574.22 33.94 L574.34 34.85 L574.46 35.75 L574.59 36.62 L574.71 37.48 L574.83 38.33 L574.95 39.15 L575.07 39.96 L575.19 40.75 L575.32 41.51 L575.44 42.26 L575.56 42.99 L575.68 43.69 L575.8 44.37 L575.92 45.03 L576.05 45.67 L576.17 46.28 L576.29 46.88 L576.41 47.44 L576.53 47.99 L576.65 48.51 L576.78 49.01 L576.9 49.48 L577.02 49.93 L577.14 50.36 L577.26 50.76 L577.39 51.13 L577.51 51.49 L577.63 51.82 L577.75 52.12 L577.87 52.41M639.48 52.41 L639.6 52.12 L639.72 51.82 L639.84 51.49 L639.96 51.13 L640.09 50.76 L640.21 50.36 L640.33 49.93 L640.45 49.48 L640.57 49.01 L640.7 48.51 L640.82 47.99 L640.94 47.44 L641.06 46.88 L641.18 46.28 L641.3 45.67 L641.43 45.03 L641.55 44.37 L641.67 43.69 L641.79 42.99 L641.91 42.26 L642.03 41.51 L642.16 40.75 L642.28 39.96 L642.4 39.15 L642.52 38.33 L642.64 37.48 L642.77 36.62 L642.89 35.75 L643.01 34.85 L643.13 33.94 L643.25 33.01 L643.37 32.08 L643.5 31.12 L643.62 30.16 L643.74 29.18 L643.86 28.19 L643.98 27.19 L644.1 26.19 L644.23 25.17 L644.35 24.15 L644.47 23.12 L644.59 22.08 L644.71 21.04 L644.83 20 L644.96 18.95 L645.08 17.9 L645.2 16.85M499.1 43.7 L499.22 42.65 L499.34 41.6 L499.47 40.55 L499.59 39.51 L499.71 38.47 L499.83 37.43 L499.95 36.4 L500.07 35.38 L500.2 34.36 L500.32 33.36 L500.44 32.36 L500.56 31.37 L500.68 30.39 L500.8 29.43 L500.93 28.47 L501.05 27.54 L501.17 26.61 L501.29 25.7 L501.41 24.8 L501.54 23.93 L501.66 23.07 L501.78 22.22 L501.9 21.4 L502.02 20.59 L502.14 19.8 L502.27 19.04 L502.39 18.29 L502.51 17.56 L502.63 16.86 L502.75 16.18 L502.87 15.52 L503 14.88 L503.12 14.27 L503.24 13.67 L503.36 13.11 L503.48 12.56 L503.6 12.04 L503.73 11.54 L503.85 11.07 L503.97 10.62 L504.09 10.19 L504.21 9.79 L504.34 9.42 L504.46 9.06 L504.58 8.73 L504.7 8.43 L504.82 8.14M566.43 8.14 L566.55 8.43 L566.67 8.73 L566.79 9.06 L566.91 9.42 L567.04 9.79 L567.16 10.19 L567.28 10.62 L567.4 11.07 L567.52 11.54 L567.65 12.04 L567.77 12.56 L567.89 13.11 L568.01 13.67 L568.13 14.27 L568.25 14.88 L568.38 15.52 L568.5 16.18 L568.62 16.86 L568.74 17.56 L568.86 18.29 L568.98 19.04 L569.11 19.8 L569.23 20.59 L569.35 21.4 L569.47 22.22 L569.59 23.07 L569.72 23.93 L569.84 24.8 L569.96 25.7 L570.08 26.61 L570.2 27.54 L570.32 28.47 L570.45 29.43 L570.57 30.39 L570.69 31.37 L570.81 32.36 L570.93 33.36 L571.05 34.36 L571.18 35.38 L571.3 36.4 L571.42 37.43 L571.54 38.47 L571.66 39.51 L571.78 40.55 L571.91 41.6 L572.03 42.65 L572.15 43.7 L572.27 44.75 L572.39 45.8 L572.52 46.85 L572.64 47.89 L572.76 48.93 L572.88 49.97 L573 51 L573.12 52.02 L573.25 53.04 L573.37 54.04 L573.49 55.04 L573.61 56.03 L573.73 57.01 L573.85 57.97 L573.98 58.93 L574.1 59.86 L574.22 60.79 L574.34 61.7 L574.46 62.6 L574.59 63.47 L574.71 64.33 L574.83 65.18 L574.95 66 L575.07 66.81 L575.19 67.6 L575.32 68.36 L575.44 69.11 L575.56 69.84 L575.68 70.54 L575.8 71.22 L575.92 71.88 L576.05 72.52 L576.17 73.13 L576.29 73.73 L576.41 74.29 L576.53 74.84 L576.65 75.36 L576.78 75.86 L576.9 76.33 L577.02 76.78 L577.14 77.21 L577.26 77.61 L577.39 77.98 L577.51 78.34 L577.63 78.67 L577.75 78.97 L577.87 79.26M639.48 79.26 L639.6 78.97 L639.72 78.67 L639.84 78.34 L639.96 77.98 L640.09 77.61 L640.21 77.21 L640.33 76.78 L640.45 76.33 L640.57 75.86 L640.7 75.36 L640.82 74.84 L640.94 74.29 L641.06 73.73 L641.18 73.13 L641.3 72.52 L641.43 71.88 L641.55 71.22 L641.67 70.54 L641.79 69.84 L641.91 69.11 L642.03 68.36 L642.16 67.6 L642.28 66.81 L642.4 66 L642.52 65.18 L642.64 64.33 L642.77 63.47 L642.89 62.6 L643.01 61.7 L643.13 60.79 L643.25 59.86 L643.37 58.93 L643.5 57.97 L643.62 57.01 L643.74 56.03 L643.86 55.04 L643.98 54.04 L644.1 53.04 L644.23 52.02 L644.35 51 L644.47 49.97 L644.59 48.93 L644.71 47.89 L644.83 46.85 L644.96 45.8 L645.08 44.75 L645.2 43.7M499.1 70.55 L499.22 69.5 L499.34 68.45 L499.47 67.4 L499.59 66.36 L499.71 65.32 L499.83 64.28 L499.95 63.25 L500.07 62.23 L500.2 61.21 L500.32 60.21 L500.44 59.21 L500.56 58.22 L500.68 57.24 L500.8 56.28 L500.93 55.32 L501.05 54.39 L501.17 53.46 L501.29 52.55 L501.41 51.65 L501.54 50.78 L501.66 49.92 L501.78 49.07 L501.9 48.25 L502.02 47.44 L502.14 46.65 L502.27 45.89 L502.39 45.14 L502.51 44.41 L502.63 43.71 L502.75 43.03 L502.87 42.37 L503 41.73 L503.12 41.12 L503.24 40.52 L503.36 39.96 L503.48 39.41 L503.6 38.89 L503.73 38.39 L503.85 37.92 L503.97 37.47 L504.09 37.04 L504.21 36.64 L504.34 36.27 L504.46 35.91 L504.58 35.58 L504.7 35.28 L504.82 34.99M566.43 34.99 L566.55 35.28 L566.67 35.58 L566.79 35.91 L566.91 36.27 L567.04 36.64 L567.16 37.04 L567.28 37.47 L567.4 37.92 L567.52 38.39 L567.65 38.89 L567.77 39.41 L567.89 39.96 L568.01 40.52 L568.13 41.12 L568.25 41.73 L568.38 42.37 L568.5 43.03 L568.62 43.71 L568.74 44.41 L568.86 45.14 L568.98 45.89 L569.11 46.65 L569.23 47.44 L569.35 48.25 L569.47 49.07 L569.59 49.92 L569.72 50.78 L569.84 51.65 L569.96 52.55 L570.08 53.46 L570.2 54.39 L570.32 55.32 L570.45 56.28 L570.57 57.24 L570.69 58.22 L570.81 59.21 L570.93 60.21 L571.05 61.21 L571.18 62.23 L571.3 63.25 L571.42 64.28 L571.54 65.32 L571.66 66.36 L571.78 67.4 L571.91 68.45 L572.03 69.5 L572.15 70.55 L572.27 71.6 L572.39 72.65 L572.52 73.7 L572.64 74.74 L572.76 75.78 L572.88 76.82 L573 77.85 L573.12 78.87 L573.25 79.89 L573.37 80.89 L573.49 81.89 L573.61 82.88 L573.73 83.86 L573.85 84.82 L573.98 85.78 L574.1 86.71 L574.22 87.64 L574.34 88.55 L574.46 89.45 L574.59 90.32 L574.71 91.18 L574.83 92.03 L574.95 92.85 L575.07 93.66 L575.19 94.45 L575.32 95.21 L575.44 95.96 L575.56 96.69 L575.68 97.39 L575.8 98.07 L575.92 98.73 L576.05 99.37 L576.17 99.98 L576.29 100.58 L576.41 101.14 L576.53 101.69 L576.65 102.21 L576.78 102.71 L576.9 103.18 L577.02 103.63 L577.14 104.06 L577.26 104.46 L577.39 104.83 L577.51 105.19 L577.63 105.52 L577.75 105.82 L577.87 106.11M639.48 106.11 L639.6 105.82 L639.72 105.52 L639.84 105.19 L639.96 104.83 L640.09 104.46 L640.21 104.06 L640.33 103.63 L640.45 103.18 L640.57 102.71 L640.7 102.21 L640.82 101.69 L640.94 101.14 L641.06 100.58 L641.18 99.98 L641.3 99.37 L641.43 98.73 L641.55 98.07 L641.67 97.39 L641.79 96.69 L641.91 95.96 L642.03 95.21 L642.16 94.45 L642.28 93.66 L642.4 92.85 L642.52 92.03 L642.64 91.18 L642.77 90.32 L642.89 89.45 L643.01 88.55 L643.13 87.64 L643.25 86.71 L643.37 85.78 L643.5 84.82 L643.62 83.86 L643.74 82.88 L643.86 81.89 L643.98 80.89 L644.1 79.89 L644.23 78.87 L644.35 77.85 L644.47 76.82 L644.59 75.78 L644.71 74.74 L644.83 73.7 L644.96 72.65 L645.08 71.6 L645.2 70.55M499.1 97.4 L499.22 96.35 L499.34 95.3 L499.47 94.25 L499.59 93.21 L499.71 92.17 L499.83 91.13 L499.95 90.1 L500.07 89.08 L500.2 88.06 L500.32 87.06 L500.44 86.06 L500.56 85.07 L500.68 84.09 L500.8 83.13 L500.93 82.17 L501.05 81.24 L501.17 80.31 L501.29 79.4 L501.41 78.5 L501.54 77.63 L501.66 76.77 L501.78 75.92 L501.9 75.1 L502.02 74.29 L502.14 73.5 L502.27 72.74 L502.39 71.99 L502.51 71.26 L502.63 70.56 L502.75 69.88 L502.87 69.22 L503 68.58 L503.12 67.97 L503.24 67.37 L503.36 66.81 L503.48 66.26 L503.6 65.74 L503.73 65.24 L503.85 64.77 L503.97 64.32 L504.09 63.89 L504.21 63.49 L504.34 63.12 L504.46 62.76 L504.58 62.43 L504.7 62.13 L504.82 61.84M566.43 61.84 L566.55 62.13 L566.67 62.43 L566.79 62.76 L566.91 63.12 L567.04 63.49 L567.16 63.89 L567.28 64.32 L567.4 64.77 L567.52 65.24 L567.65 65.74 L567.77 66.26 L567.89 66.81 L568.01 67.37 L568.13 67.97 L568.25 68.58 L568.38 69.22 L568.5 69.88 L568.62 70.56 L568.74 71.26 L568.86 71.99 L568.98 72.74 L569.11 73.5 L569.23 74.29 L569.35 75.1 L569.47 75.92 L569.59 76.77 L569.72 77.63 L569.84 78.5 L569.96 79.4 L570.08 80.31 L570.2 81.24 L570.32 82.17 L570.45 83.13 L570.57 84.09 L570.69 85.07 L570.81 86.06 L570.93 87.06 L571.05 88.06 L571.18 89.08 L571.3 90.1 L571.42 91.13 L571.54 92.17 L571.66 93.21 L571.78 94.25 L571.91 95.3 L572.03 96.35 L572.15 97.4 L572.27 98.45 L572.39 99.5 L572.52 100.55 L572.64 101.59 L572.76 102.63 L572.88 103.67 L573 104.7 L573.12 105.72 L573.25 106.74 L573.37 107.74 L573.49 108.74 L573.61 109.73 L573.73 110.71 L573.85 111.67 L573.98 112.63 L574.1 113.56 L574.22 114.49 L574.34 115.4 L574.46 116.3 L574.59 117.17 L574.71 118.03 L574.83 118.88 L574.95 119.7 L575.07 120.51 L575.19 121.3 L575.32 122.06 L575.44 122.81 L575.56 123.54 L575.68 124.24 L575.8 124.92 L575.92 125.58 L576.05 126.22 L576.17 126.83 L576.29 127.43 L576.41 127.99 L576.53 128.54 L576.65 129.06 L576.78 129.56 L576.9 130.03 L577.02 130.48 L577.14 130.91 L577.26 131.31 L577.39 131.68 L577.51 132.04 L577.63 132.37 L577.75 132.67 L577.87 132.96M639.48 132.96 L639.6 132.67 L639.72 132.37 L639.84 132.04 L639.96 131.68 L640.09 131.31 L640.21 130.91 L640.33 130.48 L640.45 130.03 L640.57 129.56 L640.7 129.06 L640.82 128.54 L640.94 127.99 L641.06 127.43 L641.18 126.83 L641.3 126.22 L641.43 125.58 L641.55 124.92 L641.67 124.24 L641.79 123.54 L641.91 122.81 L642.03 122.06 L642.16 121.3 L642.28 120.51 L642.4 119.7 L642.52 118.88 L642.64 118.03 L642.77 117.17 L642.89 116.3 L643.01 115.4 L643.13 114.49 L643.25 113.56 L643.37 112.63 L643.5 111.67 L643.62 110.71 L643.74 109.73 L643.86 108.74 L643.98 107.74 L644.1 106.74 L644.23 105.72 L644.35 104.7 L644.47 103.67 L644.59 102.63 L644.71 101.59 L644.83 100.55 L644.96 99.5 L645.08 98.45 L645.2 97.4M499.1 124.25 L499.22 123.2 L499.34 122.15 L499.47 121.1 L499.59 120.06 L499.71 119.02 L499.83 117.98 L499.95 116.95 L500.07 115.93 L500.2 114.91 L500.32 113.91 L500.44 112.91 L500.56 111.92 L500.68 110.94 L500.8 109.98 L500.93 109.02 L501.05 108.09 L501.17 107.16 L501.29 106.25 L501.41 105.35 L501.54 104.48 L501.66 103.62 L501.78 102.77 L501.9 101.95 L502.02 101.14 L502.14 100.35 L502.27 99.59 L502.39 98.84 L502.51 98.11 L502.63 97.41 L502.75 96.73 L502.87 96.07 L503 95.43 L503.12 94.82 L503.24 94.22 L503.36 93.66 L503.48 93.11 L503.6 92.59 L503.73 92.09 L503.85 91.62 L503.97 91.17 L504.09 90.74 L504.21 90.34 L504.34 89.97 L504.46 89.61 L504.58 89.28 L504.7 88.98 L504.82 88.69M566.43 88.69 L566.55 88.98 L566.67 89.28 L566.79 89.61 L566.91 89.97 L567.04 90.34 L567.16 90.74 L567.28 91.17 L567.4 91.62 L567.52 92.09 L567.65 92.59 L567.77 93.11 L567.89 93.66 L568.01 94.22 L568.13 94.82 L568.25 95.43 L568.38 96.07 L568.5 96.73 L568.62 97.41 L568.74 98.11 L568.86 98.84 L568.98 99.59 L569.11 100.35 L569.23 101.14 L569.35 101.95 L569.47 102.77 L569.59 103.62 L569.72 104.48 L569.84 105.35 L569.96 106.25 L570.08 107.16 L570.2 108.09 L570.32 109.02 L570.45 109.98 L570.57 110.94 L570.69 111.92 L570.81 112.91 L570.93 113.91 L571.05 114.91 L571.18 115.93 L571.3 116.95 L571.42 117.98 L571.54 119.02 L571.66 120.06 L571.78 121.1 L571.91 122.15 L572.03 123.2 L572.15 124.25 L572.27 125.3 L572.39 126.35 L572.52 127.4 L572.64 128.44 L572.76 129.48 L572.88 130.52 L573 131.55 L573.12 132.57 L573.25 133.59 L573.37 134.59 L573.49 135.59 L573.61 136.58 L573.73 137.56 L573.85 138.52 L573.98 139.48 L574.1 140.41 L574.22 141.34 L574.34 142.25 L574.46 143.15 L574.59 144.02 L574.71 144.88 L574.83 145.73 L574.95 146.55 L575.07 147.36 L575.19 148.15 L575.32 148.91 L575.44 149.66 L575.56 150.39 L575.68 151.09 L575.8 151.77 L575.92 152.43 L576.05 153.07 L576.17 153.68 L576.29 154.28 L576.41 154.84 L576.53 155.39 L576.65 155.91 L576.78 156.41 L576.9 156.88 L577.02 157.33 L577.14 157.76 L577.26 158.16 L577.39 158.53 L577.51 158.89 L577.63 159.22 L577.75 159.52 L577.87 159.81M639.48 159.81 L639.6 159.52 L639.72 159.22 L639.84 158.89 L639.96 158.53 L640.09 158.16 L640.21 157.76 L640.33 157.33 L640.45 156.88 L640.57 156.41 L640.7 155.91 L640.82 155.39 L640.94 154.84 L641.06 154.28 L641.18 153.68 L641.3 153.07 L641.43 152.43 L641.55 151.77 L641.67 151.09 L641.79 150.39 L641.91 149.66 L642.03 148.91 L642.16 148.15 L642.28 147.36 L642.4 146.55 L642.52 145.73 L642.64 144.88 L642.77 144.02 L642.89 143.15 L643.01 142.25 L643.13 141.34 L643.25 140.41 L643.37 139.48 L643.5 138.52 L643.62 137.56 L643.74 136.58 L643.86 135.59 L643.98 134.59 L644.1 133.59 L644.23 132.57 L644.35 131.55 L644.47 130.52 L644.59 129.48 L644.71 128.44 L644.83 127.4 L644.96 126.35 L645.08 125.3 L645.2 124.25M499.1 151.1 L499.22 150.05 L499.34 149 L499.47 147.95 L499.59 146.91 L499.71 145.87 L499.83 144.83 L499.95 143.8 L500.07 142.78 L500.2 141.76 L500.32 140.76 L500.44 139.76 L500.56 138.77 L500.68 137.79 L500.8 136.83 L500.93 135.87 L501.05 134.94 L501.17 134.01 L501.29 133.1 L501.41 132.2 L501.54 131.33 L501.66 130.47 L501.78 129.62 L501.9 128.8 L502.02 127.99 L502.14 127.2 L502.27 126.44 L502.39 125.69 L502.51 124.96 L502.63 124.26 L502.75 123.58 L502.87 122.92 L503 122.28 L503.12 121.67 L503.24 121.07 L503.36 120.51 L503.48 119.96 L503.6 119.44 L503.73 118.94 L503.85 118.47 L503.97 118.02 L504.09 117.59 L504.21 117.19 L504.34 116.82 L504.46 116.46 L504.58 116.13 L504.7 115.83 L504.82 115.54M566.43 115.54 L566.55 115.83 L566.67 116.13 L566.79 116.46 L566.91 116.82 L567.04 117.19 L567.16 117.59 L567.28 118.02 L567.4 118.47 L567.52 118.94 L567.65 119.44 L567.77 119.96 L567.89 120.51 L568.01 121.07 L568.13 121.67 L568.25 122.28 L568.38 122.92 L568.5 123.58 L568.62 124.26 L568.74 124.96 L568.86 125.69 L568.98 126.44 L569.11 127.2 L569.23 127.99 L569.35 128.8 L569.47 129.62 L569.59 130.47 L569.72 131.33 L569.84 132.2 L569.96 133.1 L570.08 134.01 L570.2 134.94 L570.32 135.87 L570.45 136.83 L570.57 137.79 L570.69 138.77 L570.81 139.76 L570.93 140.76 L571.05 141.76 L571.18 142.78 L571.3 143.8 L571.42 144.83 L571.54 145.87 L571.66 146.91 L571.78 147.95 L571.91 149 L572.03 150.05 L572.15 151.1 L572.27 152.15 L572.39 153.2 L572.52 154.25 L572.64 155.29 L572.76 156.33 L572.88 157.37 L573 158.4 L573.12 159.42 L573.25 160.44 L573.37 161.44 L573.49 162.44 L573.61 163.43 L573.73 164.41 L573.85 165.37 L573.98 166.33 L574.1 167.26 L574.22 168.19 L574.34 169.1 L574.46 170 L574.59 170.87 L574.71 171.73 L574.83 172.58 L574.95 173.4 L575.07 174.21 L575.19 175 L575.32 175.76 L575.44 176.51 L575.56 177.24 L575.68 177.94 L575.8 178.62 L575.92 179.28 L576.05 179.92 L576.17 180.53 L576.29 181.13 L576.41 181.69 L576.53 182.24 L576.65 182.76 L576.78 183.26 L576.9 183.73 L577.02 184.18 L577.14 184.61 L577.26 185.01 L577.39 185.38 L577.51 185.74 L577.63 186.07 L577.75 186.37 L577.87 186.66" stroke="#4f8fc6" stroke-width="0.6" fill="none" opacity="0.6"/>
<path d="M577.87 25.56 L577.99 25.82 L578.12 26.05 L578.24 26.27 L578.36 26.46 L578.48 26.63 L578.6 26.78 L578.72 26.9 L578.85 27.01 L578.97 27.1 L579.09 27.16 L579.21 27.21 L579.33 27.23 L579.46 27.24 L579.58 27.23 L579.7 27.21 L579.82 27.17 L579.94 27.11 L580.06 27.03 L580.19 26.94 L580.31 26.84 L580.43 26.73 L580.55 26.6 L580.67 26.46 L580.79 26.3 L580.92 26.14 L581.04 25.97 L581.16 25.79 L581.28 25.6 L581.4 25.4 L581.52 25.2 L581.65 24.98 L581.77 24.77 L581.89 24.55 L582.01 24.32 L582.13 24.09 L582.26 23.86 L582.38 23.63 L582.5 23.39 L582.62 23.16 L582.74 22.92 L582.86 22.68 L582.99 22.45 L583.11 22.22 L583.23 21.99 L583.35 21.76 L583.47 21.54 L583.59 21.32 L583.72 21.1 L583.84 20.89 L583.96 20.69 L584.08 20.49 L584.2 20.3 L584.33 20.11 L584.45 19.93 L584.57 19.76 L584.69 19.6 L584.81 19.45 L584.93 19.3 L585.06 19.16 L585.18 19.03 L585.3 18.91 L585.42 18.8 L585.54 18.7 L585.66 18.61 L585.79 18.53 L585.91 18.46 L586.03 18.39 L586.15 18.34 L586.27 18.3 L586.39 18.26 L586.52 18.24 L586.64 18.23 L586.76 18.22 L586.88 18.23 L587 18.24 L587.13 18.26 L587.25 18.29 L587.37 18.33 L587.49 18.38 L587.61 18.44 L587.73 18.5 L587.86 18.58 L587.98 18.66 L588.1 18.74 L588.22 18.84 L588.34 18.94 L588.46 19.04 L588.59 19.16 L588.71 19.27 L588.83 19.39 L588.95 19.52 L589.07 19.65 L589.2 19.78 L589.32 19.92 L589.44 20.06 L589.56 20.21 L589.68 20.35 L589.8 20.5 L589.93 20.65 L590.05 20.79 L590.17 20.94 L590.29 21.09 L590.41 21.24 L590.53 21.39 L590.66 21.54 L590.78 21.68 L590.9 21.82 L591.02 21.97 L591.14 22.1 L591.26 22.24 L591.39 22.37 L591.51 22.5 L591.63 22.62 L591.75 22.74 L591.87 22.86 L592 22.97 L592.12 23.08 L592.24 23.18 L592.36 23.27 L592.48 23.36 L592.6 23.44 L592.73 23.52 L592.85 23.59 L592.97 23.66 L593.09 23.71 L593.21 23.77 L593.33 23.81 L593.46 23.85 L593.58 23.88 L593.7 23.9 L593.82 23.92 L593.94 23.93 L594.07 23.93 L594.19 23.93 L594.31 23.92 L594.43 23.9 L594.55 23.88 L594.67 23.85 L594.8 23.81 L594.92 23.77 L595.04 23.72 L595.16 23.67 L595.28 23.61 L595.4 23.54 L595.53 23.47 L595.65 23.4 L595.77 23.32 L595.89 23.23 L596.01 23.14 L596.13 23.05 L596.26 22.95 L596.38 22.85 L596.5 22.75 L596.62 22.64 L596.74 22.53 L596.87 22.42 L596.99 22.31 L597.11 22.19 L597.23 22.08 L597.35 21.96 L597.47 21.84 L597.6 21.73 L597.72 21.61 L597.84 21.49 L597.96 21.37 L598.08 21.26 L598.2 21.14 L598.33 21.03 L598.45 20.92 L598.57 20.81 L598.69 20.7 L598.81 20.6 L598.94 20.5 L599.06 20.4 L599.18 20.3 L599.3 20.21 L599.42 20.13 L599.54 20.04 L599.67 19.97 L599.79 19.89 L599.91 19.82 L600.03 19.76 L600.15 19.7 L600.27 19.65 L600.4 19.6 L600.52 19.56 L600.64 19.52 L600.76 19.49 L600.88 19.46 L601 19.44 L601.13 19.43 L601.25 19.42 L601.37 19.42 L601.49 19.42 L601.61 19.43 L601.74 19.44 L601.86 19.46 L601.98 19.49 L602.1 19.52 L602.22 19.55 L602.34 19.6 L602.47 19.64 L602.59 19.7 L602.71 19.75 L602.83 19.81 L602.95 19.88 L603.07 19.95 L603.2 20.02 L603.32 20.1 L603.44 20.18 L603.56 20.27 L603.68 20.36 L603.81 20.45 L603.93 20.54 L604.05 20.64 L604.17 20.74 L604.29 20.84 L604.41 20.94 L604.54 21.05 L604.66 21.15 L604.78 21.26 L604.9 21.36 L605.02 21.47 L605.14 21.58 L605.27 21.68 L605.39 21.79 L605.51 21.89 L605.63 21.99 L605.75 22.1 L605.87 22.2 L606 22.29 L606.12 22.39 L606.24 22.48 L606.36 22.57 L606.48 22.66 L606.61 22.74 L606.73 22.82 L606.85 22.9 L606.97 22.97 L607.09 23.04 L607.21 23.1 L607.34 23.16 L607.46 23.22 L607.58 23.27 L607.7 23.31 L607.82 23.35 L607.94 23.39 L608.07 23.42 L608.19 23.44 L608.31 23.46 L608.43 23.48 L608.55 23.48 L608.68 23.49 L608.8 23.48 L608.92 23.48 L609.04 23.46 L609.16 23.44 L609.28 23.42 L609.41 23.39 L609.53 23.35 L609.65 23.31 L609.77 23.27 L609.89 23.22 L610.01 23.16 L610.14 23.1 L610.26 23.04 L610.38 22.97 L610.5 22.9 L610.62 22.82 L610.74 22.74 L610.87 22.66 L610.99 22.57 L611.11 22.48 L611.23 22.39 L611.35 22.29 L611.48 22.2 L611.6 22.1 L611.72 21.99 L611.84 21.89 L611.96 21.79 L612.08 21.68 L612.21 21.58 L612.33 21.47 L612.45 21.36 L612.57 21.26 L612.69 21.15 L612.81 21.05 L612.94 20.94 L613.06 20.84 L613.18 20.74 L613.3 20.64 L613.42 20.54 L613.55 20.45 L613.67 20.36 L613.79 20.27 L613.91 20.18 L614.03 20.1 L614.15 20.02 L614.28 19.95 L614.4 19.88 L614.52 19.81 L614.64 19.75 L614.76 19.7 L614.88 19.64 L615.01 19.6 L615.13 19.55 L615.25 19.52 L615.37 19.49 L615.49 19.46 L615.61 19.44 L615.74 19.43 L615.86 19.42 L615.98 19.42 L616.1 19.42 L616.22 19.43 L616.35 19.44 L616.47 19.46 L616.59 19.49 L616.71 19.52 L616.83 19.56 L616.95 19.6 L617.08 19.65 L617.2 19.7 L617.32 19.76 L617.44 19.82 L617.56 19.89 L617.68 19.97 L617.81 20.04 L617.93 20.13 L618.05 20.21 L618.17 20.3 L618.29 20.4 L618.42 20.5 L618.54 20.6 L618.66 20.7 L618.78 20.81 L618.9 20.92 L619.02 21.03 L619.15 21.14 L619.27 21.26 L619.39 21.37 L619.51 21.49 L619.63 21.61 L619.75 21.73 L619.88 21.84 L620 21.96 L620.12 22.08 L620.24 22.19 L620.36 22.31 L620.48 22.42 L620.61 22.53 L620.73 22.64 L620.85 22.75 L620.97 22.85 L621.09 22.95 L621.22 23.05 L621.34 23.14 L621.46 23.23 L621.58 23.32 L621.7 23.4 L621.82 23.47 L621.95 23.54 L622.07 23.61 L622.19 23.67 L622.31 23.72 L622.43 23.77 L622.55 23.81 L622.68 23.85 L622.8 23.88 L622.92 23.9 L623.04 23.92 L623.16 23.93 L623.29 23.93 L623.41 23.93 L623.53 23.92 L623.65 23.9 L623.77 23.88 L623.89 23.85 L624.02 23.81 L624.14 23.77 L624.26 23.71 L624.38 23.66 L624.5 23.59 L624.62 23.52 L624.75 23.44 L624.87 23.36 L624.99 23.27 L625.11 23.18 L625.23 23.08 L625.35 22.97 L625.48 22.86 L625.6 22.74 L625.72 22.62 L625.84 22.5 L625.96 22.37 L626.09 22.24 L626.21 22.1 L626.33 21.97 L626.45 21.82 L626.57 21.68 L626.69 21.54 L626.82 21.39 L626.94 21.24 L627.06 21.09 L627.18 20.94 L627.3 20.79 L627.42 20.65 L627.55 20.5 L627.67 20.35 L627.79 20.21 L627.91 20.06 L628.03 19.92 L628.15 19.78 L628.28 19.65 L628.4 19.52 L628.52 19.39 L628.64 19.27 L628.76 19.16 L628.89 19.04 L629.01 18.94 L629.13 18.84 L629.25 18.74 L629.37 18.66 L629.49 18.58 L629.62 18.5 L629.74 18.44 L629.86 18.38 L629.98 18.33 L630.1 18.29 L630.22 18.26 L630.35 18.24 L630.47 18.23 L630.59 18.22 L630.71 18.23 L630.83 18.24 L630.96 18.26 L631.08 18.3 L631.2 18.34 L631.32 18.39 L631.44 18.46 L631.56 18.53 L631.69 18.61 L631.81 18.7 L631.93 18.8 L632.05 18.91 L632.17 19.03 L632.29 19.16 L632.42 19.3 L632.54 19.45 L632.66 19.6 L632.78 19.76 L632.9 19.93 L633.03 20.11 L633.15 20.3 L633.27 20.49 L633.39 20.69 L633.51 20.89 L633.63 21.1 L633.76 21.32 L633.88 21.54 L634 21.76 L634.12 21.99 L634.24 22.22 L634.36 22.45 L634.49 22.68 L634.61 22.92 L634.73 23.16 L634.85 23.39 L634.97 23.63 L635.09 23.86 L635.22 24.09 L635.34 24.32 L635.46 24.55 L635.58 24.77 L635.7 24.98 L635.83 25.2 L635.95 25.4 L636.07 25.6 L636.19 25.79 L636.31 25.97 L636.43 26.14 L636.56 26.3 L636.68 26.46 L636.8 26.6 L636.92 26.73 L637.04 26.84 L637.16 26.94 L637.29 27.03 L637.41 27.11 L637.53 27.17 L637.65 27.21 L637.77 27.23 L637.89 27.24 L638.02 27.23 L638.14 27.21 L638.26 27.16 L638.38 27.1 L638.5 27.01 L638.63 26.9 L638.75 26.78 L638.87 26.63 L638.99 26.46 L639.11 26.27 L639.23 26.05 L639.36 25.82 L639.48 25.56M577.87 52.41 L577.99 52.67 L578.12 52.9 L578.24 53.12 L578.36 53.31 L578.48 53.48 L578.6 53.63 L578.72 53.75 L578.85 53.86 L578.97 53.95 L579.09 54.01 L579.21 54.06 L579.33 54.08 L579.46 54.09 L579.58 54.08 L579.7 54.06 L579.82 54.02 L579.94 53.96 L580.06 53.88 L580.19 53.79 L580.31 53.69 L580.43 53.58 L580.55 53.45 L580.67 53.31 L580.79 53.15 L580.92 52.99 L581.04 52.82 L581.16 52.64 L581.28 52.45 L581.4 52.25 L581.52 52.05 L581.65 51.83 L581.77 51.62 L581.89 51.4 L582.01 51.17 L582.13 50.94 L582.26 50.71 L582.38 50.48 L582.5 50.24 L582.62 50.01 L582.74 49.77 L582.86 49.53 L582.99 49.3 L583.11 49.07 L583.23 48.84 L583.35 48.61 L583.47 48.39 L583.59 48.17 L583.72 47.95 L583.84 47.74 L583.96 47.54 L584.08 47.34 L584.2 47.15 L584.33 46.96 L584.45 46.78 L584.57 46.61 L584.69 46.45 L584.81 46.3 L584.93 46.15 L585.06 46.01 L585.18 45.88 L585.3 45.76 L585.42 45.65 L585.54 45.55 L585.66 45.46 L585.79 45.38 L585.91 45.31 L586.03 45.24 L586.15 45.19 L586.27 45.15 L586.39 45.11 L586.52 45.09 L586.64 45.08 L586.76 45.07 L586.88 45.08 L587 45.09 L587.13 45.11 L587.25 45.14 L587.37 45.18 L587.49 45.23 L587.61 45.29 L587.73 45.35 L587.86 45.43 L587.98 45.51 L588.1 45.59 L588.22 45.69 L588.34 45.79 L588.46 45.89 L588.59 46.01 L588.71 46.12 L588.83 46.24 L588.95 46.37 L589.07 46.5 L589.2 46.63 L589.32 46.77 L589.44 46.91 L589.56 47.06 L589.68 47.2 L589.8 47.35 L589.93 47.5 L590.05 47.64 L590.17 47.79 L590.29 47.94 L590.41 48.09 L590.53 48.24 L590.66 48.39 L590.78 48.53 L590.9 48.67 L591.02 48.82 L591.14 48.95 L591.26 49.09 L591.39 49.22 L591.51 49.35 L591.63 49.47 L591.75 49.59 L591.87 49.71 L592 49.82 L592.12 49.93 L592.24 50.03 L592.36 50.12 L592.48 50.21 L592.6 50.29 L592.73 50.37 L592.85 50.44 L592.97 50.51 L593.09 50.56 L593.21 50.62 L593.33 50.66 L593.46 50.7 L593.58 50.73 L593.7 50.75 L593.82 50.77 L593.94 50.78 L594.07 50.78 L594.19 50.78 L594.31 50.77 L594.43 50.75 L594.55 50.73 L594.67 50.7 L594.8 50.66 L594.92 50.62 L595.04 50.57 L595.16 50.52 L595.28 50.46 L595.4 50.39 L595.53 50.32 L595.65 50.25 L595.77 50.17 L595.89 50.08 L596.01 49.99 L596.13 49.9 L596.26 49.8 L596.38 49.7 L596.5 49.6 L596.62 49.49 L596.74 49.38 L596.87 49.27 L596.99 49.16 L597.11 49.04 L597.23 48.93 L597.35 48.81 L597.47 48.69 L597.6 48.58 L597.72 48.46 L597.84 48.34 L597.96 48.22 L598.08 48.11 L598.2 47.99 L598.33 47.88 L598.45 47.77 L598.57 47.66 L598.69 47.55 L598.81 47.45 L598.94 47.35 L599.06 47.25 L599.18 47.15 L599.3 47.06 L599.42 46.98 L599.54 46.89 L599.67 46.82 L599.79 46.74 L599.91 46.67 L600.03 46.61 L600.15 46.55 L600.27 46.5 L600.4 46.45 L600.52 46.41 L600.64 46.37 L600.76 46.34 L600.88 46.31 L601 46.29 L601.13 46.28 L601.25 46.27 L601.37 46.27 L601.49 46.27 L601.61 46.28 L601.74 46.29 L601.86 46.31 L601.98 46.34 L602.1 46.37 L602.22 46.4 L602.34 46.45 L602.47 46.49 L602.59 46.55 L602.71 46.6 L602.83 46.66 L602.95 46.73 L603.07 46.8 L603.2 46.87 L603.32 46.95 L603.44 47.03 L603.56 47.12 L603.68 47.21 L603.81 47.3 L603.93 47.39 L604.05 47.49 L604.17 47.59 L604.29 47.69 L604.41 47.79 L604.54 47.9 L604.66 48 L604.78 48.11 L604.9 48.21 L605.02 48.32 L605.14 48.43 L605.27 48.53 L605.39 48.64 L605.51 48.74 L605.63 48.84 L605.75 48.95 L605.87 49.05 L606 49.14 L606.12 49.24 L606.24 49.33 L606.36 49.42 L606.48 49.51 L606.61 49.59 L606.73 49.67 L606.85 49.75 L606.97 49.82 L607.09 49.89 L607.21 49.95 L607.34 50.01 L607.46 50.07 L607.58 50.12 L607.7 50.16 L607.82 50.2 L607.94 50.24 L608.07 50.27 L608.19 50.29 L608.31 50.31 L608.43 50.33 L608.55 50.33 L608.68 50.34 L608.8 50.33 L608.92 50.33 L609.04 50.31 L609.16 50.29 L609.28 50.27 L609.41 50.24 L609.53 50.2 L609.65 50.16 L609.77 50.12 L609.89 50.07 L610.01 50.01 L610.14 49.95 L610.26 49.89 L610.38 49.82 L610.5 49.75 L610.62 49.67 L610.74 49.59 L610.87 49.51 L610.99 49.42 L611.11 49.33 L611.23 49.24 L611.35 49.14 L611.48 49.05 L611.6 48.95 L611.72 48.84 L611.84 48.74 L611.96 48.64 L612.08 48.53 L612.21 48.43 L612.33 48.32 L612.45 48.21 L612.57 48.11 L612.69 48 L612.81 47.9 L612.94 47.79 L613.06 47.69 L613.18 47.59 L613.3 47.49 L613.42 47.39 L613.55 47.3 L613.67 47.21 L613.79 47.12 L613.91 47.03 L614.03 46.95 L614.15 46.87 L614.28 46.8 L614.4 46.73 L614.52 46.66 L614.64 46.6 L614.76 46.55 L614.88 46.49 L615.01 46.45 L615.13 46.4 L615.25 46.37 L615.37 46.34 L615.49 46.31 L615.61 46.29 L615.74 46.28 L615.86 46.27 L615.98 46.27 L616.1 46.27 L616.22 46.28 L616.35 46.29 L616.47 46.31 L616.59 46.34 L616.71 46.37 L616.83 46.41 L616.95 46.45 L617.08 46.5 L617.2 46.55 L617.32 46.61 L617.44 46.67 L617.56 46.74 L617.68 46.82 L617.81 46.89 L617.93 46.98 L618.05 47.06 L618.17 47.15 L618.29 47.25 L618.42 47.35 L618.54 47.45 L618.66 47.55 L618.78 47.66 L618.9 47.77 L619.02 47.88 L619.15 47.99 L619.27 48.11 L619.39 48.22 L619.51 48.34 L619.63 48.46 L619.75 48.58 L619.88 48.69 L620 48.81 L620.12 48.93 L620.24 49.04 L620.36 49.16 L620.48 49.27 L620.61 49.38 L620.73 49.49 L620.85 49.6 L620.97 49.7 L621.09 49.8 L621.22 49.9 L621.34 49.99 L621.46 50.08 L621.58 50.17 L621.7 50.25 L621.82 50.32 L621.95 50.39 L622.07 50.46 L622.19 50.52 L622.31 50.57 L622.43 50.62 L622.55 50.66 L622.68 50.7 L622.8 50.73 L622.92 50.75 L623.04 50.77 L623.16 50.78 L623.29 50.78 L623.41 50.78 L623.53 50.77 L623.65 50.75 L623.77 50.73 L623.89 50.7 L624.02 50.66 L624.14 50.62 L624.26 50.56 L624.38 50.51 L624.5 50.44 L624.62 50.37 L624.75 50.29 L624.87 50.21 L624.99 50.12 L625.11 50.03 L625.23 49.93 L625.35 49.82 L625.48 49.71 L625.6 49.59 L625.72 49.47 L625.84 49.35 L625.96 49.22 L626.09 49.09 L626.21 48.95 L626.33 48.82 L626.45 48.67 L626.57 48.53 L626.69 48.39 L626.82 48.24 L626.94 48.09 L627.06 47.94 L627.18 47.79 L627.3 47.64 L627.42 47.5 L627.55 47.35 L627.67 47.2 L627.79 47.06 L627.91 46.91 L628.03 46.77 L628.15 46.63 L628.28 46.5 L628.4 46.37 L628.52 46.24 L628.64 46.12 L628.76 46.01 L628.89 45.89 L629.01 45.79 L629.13 45.69 L629.25 45.59 L629.37 45.51 L629.49 45.43 L629.62 45.35 L629.74 45.29 L629.86 45.23 L629.98 45.18 L630.1 45.14 L630.22 45.11 L630.35 45.09 L630.47 45.08 L630.59 45.07 L630.71 45.08 L630.83 45.09 L630.96 45.11 L631.08 45.15 L631.2 45.19 L631.32 45.24 L631.44 45.31 L631.56 45.38 L631.69 45.46 L631.81 45.55 L631.93 45.65 L632.05 45.76 L632.17 45.88 L632.29 46.01 L632.42 46.15 L632.54 46.3 L632.66 46.45 L632.78 46.61 L632.9 46.78 L633.03 46.96 L633.15 47.15 L633.27 47.34 L633.39 47.54 L633.51 47.74 L633.63 47.95 L633.76 48.17 L633.88 48.39 L634 48.61 L634.12 48.84 L634.24 49.07 L634.36 49.3 L634.49 49.53 L634.61 49.77 L634.73 50.01 L634.85 50.24 L634.97 50.48 L635.09 50.71 L635.22 50.94 L635.34 51.17 L635.46 51.4 L635.58 51.62 L635.7 51.83 L635.83 52.05 L635.95 52.25 L636.07 52.45 L636.19 52.64 L636.31 52.82 L636.43 52.99 L636.56 53.15 L636.68 53.31 L636.8 53.45 L636.92 53.58 L637.04 53.69 L637.16 53.79 L637.29 53.88 L637.41 53.96 L637.53 54.02 L637.65 54.06 L637.77 54.08 L637.89 54.09 L638.02 54.08 L638.14 54.06 L638.26 54.01 L638.38 53.95 L638.5 53.86 L638.63 53.75 L638.75 53.63 L638.87 53.48 L638.99 53.31 L639.11 53.12 L639.23 52.9 L639.36 52.67 L639.48 52.41M504.82 8.14 L504.94 7.88 L505.07 7.65 L505.19 7.43 L505.31 7.24 L505.43 7.07 L505.55 6.92 L505.67 6.8 L505.8 6.69 L505.92 6.6 L506.04 6.54 L506.16 6.49 L506.28 6.47 L506.41 6.46 L506.53 6.47 L506.65 6.49 L506.77 6.53 L506.89 6.59 L507.01 6.67 L507.14 6.76 L507.26 6.86 L507.38 6.97 L507.5 7.1 L507.62 7.24 L507.74 7.4 L507.87 7.56 L507.99 7.73 L508.11 7.91 L508.23 8.1 L508.35 8.3 L508.47 8.5 L508.6 8.72 L508.72 8.93 L508.84 9.15 L508.96 9.38 L509.08 9.61 L509.21 9.84 L509.33 10.07 L509.45 10.31 L509.57 10.54 L509.69 10.78 L509.81 11.02 L509.94 11.25 L510.06 11.48 L510.18 11.71 L510.3 11.94 L510.42 12.16 L510.54 12.38 L510.67 12.6 L510.79 12.81 L510.91 13.01 L511.03 13.21 L511.15 13.4 L511.28 13.59 L511.4 13.77 L511.52 13.94 L511.64 14.1 L511.76 14.25 L511.88 14.4 L512.01 14.54 L512.13 14.67 L512.25 14.79 L512.37 14.9 L512.49 15 L512.61 15.09 L512.74 15.17 L512.86 15.24 L512.98 15.31 L513.1 15.36 L513.22 15.4 L513.34 15.44 L513.47 15.46 L513.59 15.47 L513.71 15.48 L513.83 15.47 L513.95 15.46 L514.08 15.44 L514.2 15.41 L514.32 15.37 L514.44 15.32 L514.56 15.26 L514.68 15.2 L514.81 15.12 L514.93 15.04 L515.05 14.96 L515.17 14.86 L515.29 14.76 L515.41 14.66 L515.54 14.54 L515.66 14.43 L515.78 14.31 L515.9 14.18 L516.02 14.05 L516.14 13.92 L516.27 13.78 L516.39 13.64 L516.51 13.49 L516.63 13.35 L516.75 13.2 L516.88 13.05 L517 12.91 L517.12 12.76 L517.24 12.61 L517.36 12.46 L517.48 12.31 L517.61 12.16 L517.73 12.02 L517.85 11.88 L517.97 11.73 L518.09 11.6 L518.21 11.46 L518.34 11.33 L518.46 11.2 L518.58 11.08 L518.7 10.96 L518.82 10.84 L518.95 10.73 L519.07 10.62 L519.19 10.52 L519.31 10.43 L519.43 10.34 L519.55 10.26 L519.68 10.18 L519.8 10.11 L519.92 10.04 L520.04 9.99 L520.16 9.93 L520.28 9.89 L520.41 9.85 L520.53 9.82 L520.65 9.8 L520.77 9.78 L520.89 9.77 L521.01 9.77 L521.14 9.77 L521.26 9.78 L521.38 9.8 L521.5 9.82 L521.62 9.85 L521.75 9.89 L521.87 9.93 L521.99 9.98 L522.11 10.03 L522.23 10.09 L522.35 10.16 L522.48 10.23 L522.6 10.3 L522.72 10.38 L522.84 10.47 L522.96 10.56 L523.08 10.65 L523.21 10.75 L523.33 10.85 L523.45 10.95 L523.57 11.06 L523.69 11.17 L523.82 11.28 L523.94 11.39 L524.06 11.51 L524.18 11.62 L524.3 11.74 L524.42 11.86 L524.55 11.97 L524.67 12.09 L524.79 12.21 L524.91 12.33 L525.03 12.44 L525.15 12.56 L525.28 12.67 L525.4 12.78 L525.52 12.89 L525.64 13 L525.76 13.1 L525.88 13.2 L526.01 13.3 L526.13 13.4 L526.25 13.49 L526.37 13.57 L526.49 13.66 L526.62 13.73 L526.74 13.81 L526.86 13.88 L526.98 13.94 L527.1 14 L527.22 14.05 L527.35 14.1 L527.47 14.14 L527.59 14.18 L527.71 14.21 L527.83 14.24 L527.95 14.26 L528.08 14.27 L528.2 14.28 L528.32 14.28 L528.44 14.28 L528.56 14.27 L528.69 14.26 L528.81 14.24 L528.93 14.21 L529.05 14.18 L529.17 14.15 L529.29 14.1 L529.42 14.06 L529.54 14 L529.66 13.95 L529.78 13.89 L529.9 13.82 L530.02 13.75 L530.15 13.68 L530.27 13.6 L530.39 13.52 L530.51 13.43 L530.63 13.34 L530.75 13.25 L530.88 13.16 L531 13.06 L531.12 12.96 L531.24 12.86 L531.36 12.76 L531.49 12.65 L531.61 12.55 L531.73 12.44 L531.85 12.34 L531.97 12.23 L532.09 12.12 L532.22 12.02 L532.34 11.91 L532.46 11.81 L532.58 11.71 L532.7 11.6 L532.82 11.5 L532.95 11.41 L533.07 11.31 L533.19 11.22 L533.31 11.13 L533.43 11.04 L533.56 10.96 L533.68 10.88 L533.8 10.8 L533.92 10.73 L534.04 10.66 L534.16 10.6 L534.29 10.54 L534.41 10.48 L534.53 10.43 L534.65 10.39 L534.77 10.35 L534.89 10.31 L535.02 10.28 L535.14 10.26 L535.26 10.24 L535.38 10.22 L535.5 10.22 L535.62 10.21 L535.75 10.22 L535.87 10.22 L535.99 10.24 L536.11 10.26 L536.23 10.28 L536.36 10.31 L536.48 10.35 L536.6 10.39 L536.72 10.43 L536.84 10.48 L536.96 10.54 L537.09 10.6 L537.21 10.66 L537.33 10.73 L537.45 10.8 L537.57 10.88 L537.69 10.96 L537.82 11.04 L537.94 11.13 L538.06 11.22 L538.18 11.31 L538.3 11.41 L538.43 11.5 L538.55 11.6 L538.67 11.71 L538.79 11.81 L538.91 11.91 L539.03 12.02 L539.16 12.12 L539.28 12.23 L539.4 12.34 L539.52 12.44 L539.64 12.55 L539.76 12.65 L539.89 12.76 L540.01 12.86 L540.13 12.96 L540.25 13.06 L540.37 13.16 L540.5 13.25 L540.62 13.34 L540.74 13.43 L540.86 13.52 L540.98 13.6 L541.1 13.68 L541.23 13.75 L541.35 13.82 L541.47 13.89 L541.59 13.95 L541.71 14 L541.83 14.06 L541.96 14.1 L542.08 14.15 L542.2 14.18 L542.32 14.21 L542.44 14.24 L542.56 14.26 L542.69 14.27 L542.81 14.28 L542.93 14.28 L543.05 14.28 L543.17 14.27 L543.3 14.26 L543.42 14.24 L543.54 14.21 L543.66 14.18 L543.78 14.14 L543.9 14.1 L544.03 14.05 L544.15 14 L544.27 13.94 L544.39 13.88 L544.51 13.81 L544.63 13.73 L544.76 13.66 L544.88 13.57 L545 13.49 L545.12 13.4 L545.24 13.3 L545.37 13.2 L545.49 13.1 L545.61 13 L545.73 12.89 L545.85 12.78 L545.97 12.67 L546.1 12.56 L546.22 12.44 L546.34 12.33 L546.46 12.21 L546.58 12.09 L546.7 11.97 L546.83 11.86 L546.95 11.74 L547.07 11.62 L547.19 11.51 L547.31 11.39 L547.43 11.28 L547.56 11.17 L547.68 11.06 L547.8 10.95 L547.92 10.85 L548.04 10.75 L548.17 10.65 L548.29 10.56 L548.41 10.47 L548.53 10.38 L548.65 10.3 L548.77 10.23 L548.9 10.16 L549.02 10.09 L549.14 10.03 L549.26 9.98 L549.38 9.93 L549.5 9.89 L549.63 9.85 L549.75 9.82 L549.87 9.8 L549.99 9.78 L550.11 9.77 L550.24 9.77 L550.36 9.77 L550.48 9.78 L550.6 9.8 L550.72 9.82 L550.84 9.85 L550.97 9.89 L551.09 9.93 L551.21 9.99 L551.33 10.04 L551.45 10.11 L551.57 10.18 L551.7 10.26 L551.82 10.34 L551.94 10.43 L552.06 10.52 L552.18 10.62 L552.3 10.73 L552.43 10.84 L552.55 10.96 L552.67 11.08 L552.79 11.2 L552.91 11.33 L553.04 11.46 L553.16 11.6 L553.28 11.73 L553.4 11.88 L553.52 12.02 L553.64 12.16 L553.77 12.31 L553.89 12.46 L554.01 12.61 L554.13 12.76 L554.25 12.91 L554.37 13.05 L554.5 13.2 L554.62 13.35 L554.74 13.49 L554.86 13.64 L554.98 13.78 L555.11 13.92 L555.23 14.05 L555.35 14.18 L555.47 14.31 L555.59 14.43 L555.71 14.54 L555.84 14.66 L555.96 14.76 L556.08 14.86 L556.2 14.96 L556.32 15.04 L556.44 15.12 L556.57 15.2 L556.69 15.26 L556.81 15.32 L556.93 15.37 L557.05 15.41 L557.17 15.44 L557.3 15.46 L557.42 15.47 L557.54 15.48 L557.66 15.47 L557.78 15.46 L557.91 15.44 L558.03 15.4 L558.15 15.36 L558.27 15.31 L558.39 15.24 L558.51 15.17 L558.64 15.09 L558.76 15 L558.88 14.9 L559 14.79 L559.12 14.67 L559.24 14.54 L559.37 14.4 L559.49 14.25 L559.61 14.1 L559.73 13.94 L559.85 13.77 L559.98 13.59 L560.1 13.4 L560.22 13.21 L560.34 13.01 L560.46 12.81 L560.58 12.6 L560.71 12.38 L560.83 12.16 L560.95 11.94 L561.07 11.71 L561.19 11.48 L561.31 11.25 L561.44 11.02 L561.56 10.78 L561.68 10.54 L561.8 10.31 L561.92 10.07 L562.04 9.84 L562.17 9.61 L562.29 9.38 L562.41 9.15 L562.53 8.93 L562.65 8.72 L562.78 8.5 L562.9 8.3 L563.02 8.1 L563.14 7.91 L563.26 7.73 L563.38 7.56 L563.51 7.4 L563.63 7.24 L563.75 7.1 L563.87 6.97 L563.99 6.86 L564.11 6.76 L564.24 6.67 L564.36 6.59 L564.48 6.53 L564.6 6.49 L564.72 6.47 L564.85 6.46 L564.97 6.47 L565.09 6.49 L565.21 6.54 L565.33 6.6 L565.45 6.69 L565.58 6.8 L565.7 6.92 L565.82 7.07 L565.94 7.24 L566.06 7.43 L566.18 7.65 L566.31 7.88 L566.43 8.14M577.87 79.26 L577.99 79.52 L578.12 79.75 L578.24 79.97 L578.36 80.16 L578.48 80.33 L578.6 80.48 L578.72 80.6 L578.85 80.71 L578.97 80.8 L579.09 80.86 L579.21 80.91 L579.33 80.93 L579.46 80.94 L579.58 80.93 L579.7 80.91 L579.82 80.87 L579.94 80.81 L580.06 80.73 L580.19 80.64 L580.31 80.54 L580.43 80.43 L580.55 80.3 L580.67 80.16 L580.79 80 L580.92 79.84 L581.04 79.67 L581.16 79.49 L581.28 79.3 L581.4 79.1 L581.52 78.9 L581.65 78.68 L581.77 78.47 L581.89 78.25 L582.01 78.02 L582.13 77.79 L582.26 77.56 L582.38 77.33 L582.5 77.09 L582.62 76.86 L582.74 76.62 L582.86 76.38 L582.99 76.15 L583.11 75.92 L583.23 75.69 L583.35 75.46 L583.47 75.24 L583.59 75.02 L583.72 74.8 L583.84 74.59 L583.96 74.39 L584.08 74.19 L584.2 74 L584.33 73.81 L584.45 73.63 L584.57 73.46 L584.69 73.3 L584.81 73.15 L584.93 73 L585.06 72.86 L585.18 72.73 L585.3 72.61 L585.42 72.5 L585.54 72.4 L585.66 72.31 L585.79 72.23 L585.91 72.16 L586.03 72.09 L586.15 72.04 L586.27 72 L586.39 71.96 L586.52 71.94 L586.64 71.93 L586.76 71.92 L586.88 71.93 L587 71.94 L587.13 71.96 L587.25 71.99 L587.37 72.03 L587.49 72.08 L587.61 72.14 L587.73 72.2 L587.86 72.28 L587.98 72.36 L588.1 72.44 L588.22 72.54 L588.34 72.64 L588.46 72.74 L588.59 72.86 L588.71 72.97 L588.83 73.09 L588.95 73.22 L589.07 73.35 L589.2 73.48 L589.32 73.62 L589.44 73.76 L589.56 73.91 L589.68 74.05 L589.8 74.2 L589.93 74.35 L590.05 74.49 L590.17 74.64 L590.29 74.79 L590.41 74.94 L590.53 75.09 L590.66 75.24 L590.78 75.38 L590.9 75.52 L591.02 75.67 L591.14 75.8 L591.26 75.94 L591.39 76.07 L591.51 76.2 L591.63 76.32 L591.75 76.44 L591.87 76.56 L592 76.67 L592.12 76.78 L592.24 76.88 L592.36 76.97 L592.48 77.06 L592.6 77.14 L592.73 77.22 L592.85 77.29 L592.97 77.36 L593.09 77.41 L593.21 77.47 L593.33 77.51 L593.46 77.55 L593.58 77.58 L593.7 77.6 L593.82 77.62 L593.94 77.63 L594.07 77.63 L594.19 77.63 L594.31 77.62 L594.43 77.6 L594.55 77.58 L594.67 77.55 L594.8 77.51 L594.92 77.47 L595.04 77.42 L595.16 77.37 L595.28 77.31 L595.4 77.24 L595.53 77.17 L595.65 77.1 L595.77 77.02 L595.89 76.93 L596.01 76.84 L596.13 76.75 L596.26 76.65 L596.38 76.55 L596.5 76.45 L596.62 76.34 L596.74 76.23 L596.87 76.12 L596.99 76.01 L597.11 75.89 L597.23 75.78 L597.35 75.66 L597.47 75.54 L597.6 75.43 L597.72 75.31 L597.84 75.19 L597.96 75.07 L598.08 74.96 L598.2 74.84 L598.33 74.73 L598.45 74.62 L598.57 74.51 L598.69 74.4 L598.81 74.3 L598.94 74.2 L599.06 74.1 L599.18 74 L599.3 73.91 L599.42 73.83 L599.54 73.74 L599.67 73.67 L599.79 73.59 L599.91 73.52 L600.03 73.46 L600.15 73.4 L600.27 73.35 L600.4 73.3 L600.52 73.26 L600.64 73.22 L600.76 73.19 L600.88 73.16 L601 73.14 L601.13 73.13 L601.25 73.12 L601.37 73.12 L601.49 73.12 L601.61 73.13 L601.74 73.14 L601.86 73.16 L601.98 73.19 L602.1 73.22 L602.22 73.25 L602.34 73.3 L602.47 73.34 L602.59 73.4 L602.71 73.45 L602.83 73.51 L602.95 73.58 L603.07 73.65 L603.2 73.72 L603.32 73.8 L603.44 73.88 L603.56 73.97 L603.68 74.06 L603.81 74.15 L603.93 74.24 L604.05 74.34 L604.17 74.44 L604.29 74.54 L604.41 74.64 L604.54 74.75 L604.66 74.85 L604.78 74.96 L604.9 75.06 L605.02 75.17 L605.14 75.28 L605.27 75.38 L605.39 75.49 L605.51 75.59 L605.63 75.69 L605.75 75.8 L605.87 75.9 L606 75.99 L606.12 76.09 L606.24 76.18 L606.36 76.27 L606.48 76.36 L606.61 76.44 L606.73 76.52 L606.85 76.6 L606.97 76.67 L607.09 76.74 L607.21 76.8 L607.34 76.86 L607.46 76.92 L607.58 76.97 L607.7 77.01 L607.82 77.05 L607.94 77.09 L608.07 77.12 L608.19 77.14 L608.31 77.16 L608.43 77.18 L608.55 77.18 L608.68 77.19 L608.8 77.18 L608.92 77.18 L609.04 77.16 L609.16 77.14 L609.28 77.12 L609.41 77.09 L609.53 77.05 L609.65 77.01 L609.77 76.97 L609.89 76.92 L610.01 76.86 L610.14 76.8 L610.26 76.74 L610.38 76.67 L610.5 76.6 L610.62 76.52 L610.74 76.44 L610.87 76.36 L610.99 76.27 L611.11 76.18 L611.23 76.09 L611.35 75.99 L611.48 75.9 L611.6 75.8 L611.72 75.69 L611.84 75.59 L611.96 75.49 L612.08 75.38 L612.21 75.28 L612.33 75.17 L612.45 75.06 L612.57 74.96 L612.69 74.85 L612.81 74.75 L612.94 74.64 L613.06 74.54 L613.18 74.44 L613.3 74.34 L613.42 74.24 L613.55 74.15 L613.67 74.06 L613.79 73.97 L613.91 73.88 L614.03 73.8 L614.15 73.72 L614.28 73.65 L614.4 73.58 L614.52 73.51 L614.64 73.45 L614.76 73.4 L614.88 73.34 L615.01 73.3 L615.13 73.25 L615.25 73.22 L615.37 73.19 L615.49 73.16 L615.61 73.14 L615.74 73.13 L615.86 73.12 L615.98 73.12 L616.1 73.12 L616.22 73.13 L616.35 73.14 L616.47 73.16 L616.59 73.19 L616.71 73.22 L616.83 73.26 L616.95 73.3 L617.08 73.35 L617.2 73.4 L617.32 73.46 L617.44 73.52 L617.56 73.59 L617.68 73.67 L617.81 73.74 L617.93 73.83 L618.05 73.91 L618.17 74 L618.29 74.1 L618.42 74.2 L618.54 74.3 L618.66 74.4 L618.78 74.51 L618.9 74.62 L619.02 74.73 L619.15 74.84 L619.27 74.96 L619.39 75.07 L619.51 75.19 L619.63 75.31 L619.75 75.43 L619.88 75.54 L620 75.66 L620.12 75.78 L620.24 75.89 L620.36 76.01 L620.48 76.12 L620.61 76.23 L620.73 76.34 L620.85 76.45 L620.97 76.55 L621.09 76.65 L621.22 76.75 L621.34 76.84 L621.46 76.93 L621.58 77.02 L621.7 77.1 L621.82 77.17 L621.95 77.24 L622.07 77.31 L622.19 77.37 L622.31 77.42 L622.43 77.47 L622.55 77.51 L622.68 77.55 L622.8 77.58 L622.92 77.6 L623.04 77.62 L623.16 77.63 L623.29 77.63 L623.41 77.63 L623.53 77.62 L623.65 77.6 L623.77 77.58 L623.89 77.55 L624.02 77.51 L624.14 77.47 L624.26 77.41 L624.38 77.36 L624.5 77.29 L624.62 77.22 L624.75 77.14 L624.87 77.06 L624.99 76.97 L625.11 76.88 L625.23 76.78 L625.35 76.67 L625.48 76.56 L625.6 76.44 L625.72 76.32 L625.84 76.2 L625.96 76.07 L626.09 75.94 L626.21 75.8 L626.33 75.67 L626.45 75.52 L626.57 75.38 L626.69 75.24 L626.82 75.09 L626.94 74.94 L627.06 74.79 L627.18 74.64 L627.3 74.49 L627.42 74.35 L627.55 74.2 L627.67 74.05 L627.79 73.91 L627.91 73.76 L628.03 73.62 L628.15 73.48 L628.28 73.35 L628.4 73.22 L628.52 73.09 L628.64 72.97 L628.76 72.86 L628.89 72.74 L629.01 72.64 L629.13 72.54 L629.25 72.44 L629.37 72.36 L629.49 72.28 L629.62 72.2 L629.74 72.14 L629.86 72.08 L629.98 72.03 L630.1 71.99 L630.22 71.96 L630.35 71.94 L630.47 71.93 L630.59 71.92 L630.71 71.93 L630.83 71.94 L630.96 71.96 L631.08 72 L631.2 72.04 L631.32 72.09 L631.44 72.16 L631.56 72.23 L631.69 72.31 L631.81 72.4 L631.93 72.5 L632.05 72.61 L632.17 72.73 L632.29 72.86 L632.42 73 L632.54 73.15 L632.66 73.3 L632.78 73.46 L632.9 73.63 L633.03 73.81 L633.15 74 L633.27 74.19 L633.39 74.39 L633.51 74.59 L633.63 74.8 L633.76 75.02 L633.88 75.24 L634 75.46 L634.12 75.69 L634.24 75.92 L634.36 76.15 L634.49 76.38 L634.61 76.62 L634.73 76.86 L634.85 77.09 L634.97 77.33 L635.09 77.56 L635.22 77.79 L635.34 78.02 L635.46 78.25 L635.58 78.47 L635.7 78.68 L635.83 78.9 L635.95 79.1 L636.07 79.3 L636.19 79.49 L636.31 79.67 L636.43 79.84 L636.56 80 L636.68 80.16 L636.8 80.3 L636.92 80.43 L637.04 80.54 L637.16 80.64 L637.29 80.73 L637.41 80.81 L637.53 80.87 L637.65 80.91 L637.77 80.93 L637.89 80.94 L638.02 80.93 L638.14 80.91 L638.26 80.86 L638.38 80.8 L638.5 80.71 L638.63 80.6 L638.75 80.48 L638.87 80.33 L638.99 80.16 L639.11 79.97 L639.23 79.75 L639.36 79.52 L639.48 79.26M504.82 34.99 L504.94 34.73 L505.07 34.5 L505.19 34.28 L505.31 34.09 L505.43 33.92 L505.55 33.77 L505.67 33.65 L505.8 33.54 L505.92 33.45 L506.04 33.39 L506.16 33.34 L506.28 33.32 L506.41 33.31 L506.53 33.32 L506.65 33.34 L506.77 33.38 L506.89 33.44 L507.01 33.52 L507.14 33.61 L507.26 33.71 L507.38 33.82 L507.5 33.95 L507.62 34.09 L507.74 34.25 L507.87 34.41 L507.99 34.58 L508.11 34.76 L508.23 34.95 L508.35 35.15 L508.47 35.35 L508.6 35.57 L508.72 35.78 L508.84 36 L508.96 36.23 L509.08 36.46 L509.21 36.69 L509.33 36.92 L509.45 37.16 L509.57 37.39 L509.69 37.63 L509.81 37.87 L509.94 38.1 L510.06 38.33 L510.18 38.56 L510.3 38.79 L510.42 39.01 L510.54 39.23 L510.67 39.45 L510.79 39.66 L510.91 39.86 L511.03 40.06 L511.15 40.25 L511.28 40.44 L511.4 40.62 L511.52 40.79 L511.64 40.95 L511.76 41.1 L511.88 41.25 L512.01 41.39 L512.13 41.52 L512.25 41.64 L512.37 41.75 L512.49 41.85 L512.61 41.94 L512.74 42.02 L512.86 42.09 L512.98 42.16 L513.1 42.21 L513.22 42.25 L513.34 42.29 L513.47 42.31 L513.59 42.32 L513.71 42.33 L513.83 42.32 L513.95 42.31 L514.08 42.29 L514.2 42.26 L514.32 42.22 L514.44 42.17 L514.56 42.11 L514.68 42.05 L514.81 41.97 L514.93 41.89 L515.05 41.81 L515.17 41.71 L515.29 41.61 L515.41 41.51 L515.54 41.39 L515.66 41.28 L515.78 41.16 L515.9 41.03 L516.02 40.9 L516.14 40.77 L516.27 40.63 L516.39 40.49 L516.51 40.34 L516.63 40.2 L516.75 40.05 L516.88 39.9 L517 39.76 L517.12 39.61 L517.24 39.46 L517.36 39.31 L517.48 39.16 L517.61 39.01 L517.73 38.87 L517.85 38.73 L517.97 38.58 L518.09 38.45 L518.21 38.31 L518.34 38.18 L518.46 38.05 L518.58 37.93 L518.7 37.81 L518.82 37.69 L518.95 37.58 L519.07 37.47 L519.19 37.37 L519.31 37.28 L519.43 37.19 L519.55 37.11 L519.68 37.03 L519.8 36.96 L519.92 36.89 L520.04 36.84 L520.16 36.78 L520.28 36.74 L520.41 36.7 L520.53 36.67 L520.65 36.65 L520.77 36.63 L520.89 36.62 L521.01 36.62 L521.14 36.62 L521.26 36.63 L521.38 36.65 L521.5 36.67 L521.62 36.7 L521.75 36.74 L521.87 36.78 L521.99 36.83 L522.11 36.88 L522.23 36.94 L522.35 37.01 L522.48 37.08 L522.6 37.15 L522.72 37.23 L522.84 37.32 L522.96 37.41 L523.08 37.5 L523.21 37.6 L523.33 37.7 L523.45 37.8 L523.57 37.91 L523.69 38.02 L523.82 38.13 L523.94 38.24 L524.06 38.36 L524.18 38.47 L524.3 38.59 L524.42 38.71 L524.55 38.82 L524.67 38.94 L524.79 39.06 L524.91 39.18 L525.03 39.29 L525.15 39.41 L525.28 39.52 L525.4 39.63 L525.52 39.74 L525.64 39.85 L525.76 39.95 L525.88 40.05 L526.01 40.15 L526.13 40.25 L526.25 40.34 L526.37 40.42 L526.49 40.51 L526.62 40.58 L526.74 40.66 L526.86 40.73 L526.98 40.79 L527.1 40.85 L527.22 40.9 L527.35 40.95 L527.47 40.99 L527.59 41.03 L527.71 41.06 L527.83 41.09 L527.95 41.11 L528.08 41.12 L528.2 41.13 L528.32 41.13 L528.44 41.13 L528.56 41.12 L528.69 41.11 L528.81 41.09 L528.93 41.06 L529.05 41.03 L529.17 41 L529.29 40.95 L529.42 40.91 L529.54 40.85 L529.66 40.8 L529.78 40.74 L529.9 40.67 L530.02 40.6 L530.15 40.53 L530.27 40.45 L530.39 40.37 L530.51 40.28 L530.63 40.19 L530.75 40.1 L530.88 40.01 L531 39.91 L531.12 39.81 L531.24 39.71 L531.36 39.61 L531.49 39.5 L531.61 39.4 L531.73 39.29 L531.85 39.19 L531.97 39.08 L532.09 38.97 L532.22 38.87 L532.34 38.76 L532.46 38.66 L532.58 38.56 L532.7 38.45 L532.82 38.35 L532.95 38.26 L533.07 38.16 L533.19 38.07 L533.31 37.98 L533.43 37.89 L533.56 37.81 L533.68 37.73 L533.8 37.65 L533.92 37.58 L534.04 37.51 L534.16 37.45 L534.29 37.39 L534.41 37.33 L534.53 37.28 L534.65 37.24 L534.77 37.2 L534.89 37.16 L535.02 37.13 L535.14 37.11 L535.26 37.09 L535.38 37.07 L535.5 37.07 L535.62 37.06 L535.75 37.07 L535.87 37.07 L535.99 37.09 L536.11 37.11 L536.23 37.13 L536.36 37.16 L536.48 37.2 L536.6 37.24 L536.72 37.28 L536.84 37.33 L536.96 37.39 L537.09 37.45 L537.21 37.51 L537.33 37.58 L537.45 37.65 L537.57 37.73 L537.69 37.81 L537.82 37.89 L537.94 37.98 L538.06 38.07 L538.18 38.16 L538.3 38.26 L538.43 38.35 L538.55 38.45 L538.67 38.56 L538.79 38.66 L538.91 38.76 L539.03 38.87 L539.16 38.97 L539.28 39.08 L539.4 39.19 L539.52 39.29 L539.64 39.4 L539.76 39.5 L539.89 39.61 L540.01 39.71 L540.13 39.81 L540.25 39.91 L540.37 40.01 L540.5 40.1 L540.62 40.19 L540.74 40.28 L540.86 40.37 L540.98 40.45 L541.1 40.53 L541.23 40.6 L541.35 40.67 L541.47 40.74 L541.59 40.8 L541.71 40.85 L541.83 40.91 L541.96 40.95 L542.08 41 L542.2 41.03 L542.32 41.06 L542.44 41.09 L542.56 41.11 L542.69 41.12 L542.81 41.13 L542.93 41.13 L543.05 41.13 L543.17 41.12 L543.3 41.11 L543.42 41.09 L543.54 41.06 L543.66 41.03 L543.78 40.99 L543.9 40.95 L544.03 40.9 L544.15 40.85 L544.27 40.79 L544.39 40.73 L544.51 40.66 L544.63 40.58 L544.76 40.51 L544.88 40.42 L545 40.34 L545.12 40.25 L545.24 40.15 L545.37 40.05 L545.49 39.95 L545.61 39.85 L545.73 39.74 L545.85 39.63 L545.97 39.52 L546.1 39.41 L546.22 39.29 L546.34 39.18 L546.46 39.06 L546.58 38.94 L546.7 38.82 L546.83 38.71 L546.95 38.59 L547.07 38.47 L547.19 38.36 L547.31 38.24 L547.43 38.13 L547.56 38.02 L547.68 37.91 L547.8 37.8 L547.92 37.7 L548.04 37.6 L548.17 37.5 L548.29 37.41 L548.41 37.32 L548.53 37.23 L548.65 37.15 L548.77 37.08 L548.9 37.01 L549.02 36.94 L549.14 36.88 L549.26 36.83 L549.38 36.78 L549.5 36.74 L549.63 36.7 L549.75 36.67 L549.87 36.65 L549.99 36.63 L550.11 36.62 L550.24 36.62 L550.36 36.62 L550.48 36.63 L550.6 36.65 L550.72 36.67 L550.84 36.7 L550.97 36.74 L551.09 36.78 L551.21 36.84 L551.33 36.89 L551.45 36.96 L551.57 37.03 L551.7 37.11 L551.82 37.19 L551.94 37.28 L552.06 37.37 L552.18 37.47 L552.3 37.58 L552.43 37.69 L552.55 37.81 L552.67 37.93 L552.79 38.05 L552.91 38.18 L553.04 38.31 L553.16 38.45 L553.28 38.58 L553.4 38.73 L553.52 38.87 L553.64 39.01 L553.77 39.16 L553.89 39.31 L554.01 39.46 L554.13 39.61 L554.25 39.76 L554.37 39.9 L554.5 40.05 L554.62 40.2 L554.74 40.34 L554.86 40.49 L554.98 40.63 L555.11 40.77 L555.23 40.9 L555.35 41.03 L555.47 41.16 L555.59 41.28 L555.71 41.39 L555.84 41.51 L555.96 41.61 L556.08 41.71 L556.2 41.81 L556.32 41.89 L556.44 41.97 L556.57 42.05 L556.69 42.11 L556.81 42.17 L556.93 42.22 L557.05 42.26 L557.17 42.29 L557.3 42.31 L557.42 42.32 L557.54 42.33 L557.66 42.32 L557.78 42.31 L557.91 42.29 L558.03 42.25 L558.15 42.21 L558.27 42.16 L558.39 42.09 L558.51 42.02 L558.64 41.94 L558.76 41.85 L558.88 41.75 L559 41.64 L559.12 41.52 L559.24 41.39 L559.37 41.25 L559.49 41.1 L559.61 40.95 L559.73 40.79 L559.85 40.62 L559.98 40.44 L560.1 40.25 L560.22 40.06 L560.34 39.86 L560.46 39.66 L560.58 39.45 L560.71 39.23 L560.83 39.01 L560.95 38.79 L561.07 38.56 L561.19 38.33 L561.31 38.1 L561.44 37.87 L561.56 37.63 L561.68 37.39 L561.8 37.16 L561.92 36.92 L562.04 36.69 L562.17 36.46 L562.29 36.23 L562.41 36 L562.53 35.78 L562.65 35.57 L562.78 35.35 L562.9 35.15 L563.02 34.95 L563.14 34.76 L563.26 34.58 L563.38 34.41 L563.51 34.25 L563.63 34.09 L563.75 33.95 L563.87 33.82 L563.99 33.71 L564.11 33.61 L564.24 33.52 L564.36 33.44 L564.48 33.38 L564.6 33.34 L564.72 33.32 L564.85 33.31 L564.97 33.32 L565.09 33.34 L565.21 33.39 L565.33 33.45 L565.45 33.54 L565.58 33.65 L565.7 33.77 L565.82 33.92 L565.94 34.09 L566.06 34.28 L566.18 34.5 L566.31 34.73 L566.43 34.99M577.87 106.11 L577.99 106.37 L578.12 106.6 L578.24 106.82 L578.36 107.01 L578.48 107.18 L578.6 107.33 L578.72 107.45 L578.85 107.56 L578.97 107.65 L579.09 107.71 L579.21 107.76 L579.33 107.78 L579.46 107.79 L579.58 107.78 L579.7 107.76 L579.82 107.72 L579.94 107.66 L580.06 107.58 L580.19 107.49 L580.31 107.39 L580.43 107.28 L580.55 107.15 L580.67 107.01 L580.79 106.85 L580.92 106.69 L581.04 106.52 L581.16 106.34 L581.28 106.15 L581.4 105.95 L581.52 105.75 L581.65 105.53 L581.77 105.32 L581.89 105.1 L582.01 104.87 L582.13 104.64 L582.26 104.41 L582.38 104.18 L582.5 103.94 L582.62 103.71 L582.74 103.47 L582.86 103.23 L582.99 103 L583.11 102.77 L583.23 102.54 L583.35 102.31 L583.47 102.09 L583.59 101.87 L583.72 101.65 L583.84 101.44 L583.96 101.24 L584.08 101.04 L584.2 100.85 L584.33 100.66 L584.45 100.48 L584.57 100.31 L584.69 100.15 L584.81 100 L584.93 99.85 L585.06 99.71 L585.18 99.58 L585.3 99.46 L585.42 99.35 L585.54 99.25 L585.66 99.16 L585.79 99.08 L585.91 99.01 L586.03 98.94 L586.15 98.89 L586.27 98.85 L586.39 98.81 L586.52 98.79 L586.64 98.78 L586.76 98.77 L586.88 98.78 L587 98.79 L587.13 98.81 L587.25 98.84 L587.37 98.88 L587.49 98.93 L587.61 98.99 L587.73 99.05 L587.86 99.13 L587.98 99.21 L588.1 99.29 L588.22 99.39 L588.34 99.49 L588.46 99.59 L588.59 99.71 L588.71 99.82 L588.83 99.94 L588.95 100.07 L589.07 100.2 L589.2 100.33 L589.32 100.47 L589.44 100.61 L589.56 100.76 L589.68 100.9 L589.8 101.05 L589.93 101.2 L590.05 101.34 L590.17 101.49 L590.29 101.64 L590.41 101.79 L590.53 101.94 L590.66 102.09 L590.78 102.23 L590.9 102.37 L591.02 102.52 L591.14 102.65 L591.26 102.79 L591.39 102.92 L591.51 103.05 L591.63 103.17 L591.75 103.29 L591.87 103.41 L592 103.52 L592.12 103.63 L592.24 103.73 L592.36 103.82 L592.48 103.91 L592.6 103.99 L592.73 104.07 L592.85 104.14 L592.97 104.21 L593.09 104.26 L593.21 104.32 L593.33 104.36 L593.46 104.4 L593.58 104.43 L593.7 104.45 L593.82 104.47 L593.94 104.48 L594.07 104.48 L594.19 104.48 L594.31 104.47 L594.43 104.45 L594.55 104.43 L594.67 104.4 L594.8 104.36 L594.92 104.32 L595.04 104.27 L595.16 104.22 L595.28 104.16 L595.4 104.09 L595.53 104.02 L595.65 103.95 L595.77 103.87 L595.89 103.78 L596.01 103.69 L596.13 103.6 L596.26 103.5 L596.38 103.4 L596.5 103.3 L596.62 103.19 L596.74 103.08 L596.87 102.97 L596.99 102.86 L597.11 102.74 L597.23 102.63 L597.35 102.51 L597.47 102.39 L597.6 102.28 L597.72 102.16 L597.84 102.04 L597.96 101.92 L598.08 101.81 L598.2 101.69 L598.33 101.58 L598.45 101.47 L598.57 101.36 L598.69 101.25 L598.81 101.15 L598.94 101.05 L599.06 100.95 L599.18 100.85 L599.3 100.76 L599.42 100.68 L599.54 100.59 L599.67 100.52 L599.79 100.44 L599.91 100.37 L600.03 100.31 L600.15 100.25 L600.27 100.2 L600.4 100.15 L600.52 100.11 L600.64 100.07 L600.76 100.04 L600.88 100.01 L601 99.99 L601.13 99.98 L601.25 99.97 L601.37 99.97 L601.49 99.97 L601.61 99.98 L601.74 99.99 L601.86 100.01 L601.98 100.04 L602.1 100.07 L602.22 100.1 L602.34 100.15 L602.47 100.19 L602.59 100.25 L602.71 100.3 L602.83 100.36 L602.95 100.43 L603.07 100.5 L603.2 100.57 L603.32 100.65 L603.44 100.73 L603.56 100.82 L603.68 100.91 L603.81 101 L603.93 101.09 L604.05 101.19 L604.17 101.29 L604.29 101.39 L604.41 101.49 L604.54 101.6 L604.66 101.7 L604.78 101.81 L604.9 101.91 L605.02 102.02 L605.14 102.13 L605.27 102.23 L605.39 102.34 L605.51 102.44 L605.63 102.54 L605.75 102.65 L605.87 102.75 L606 102.84 L606.12 102.94 L606.24 103.03 L606.36 103.12 L606.48 103.21 L606.61 103.29 L606.73 103.37 L606.85 103.45 L606.97 103.52 L607.09 103.59 L607.21 103.65 L607.34 103.71 L607.46 103.77 L607.58 103.82 L607.7 103.86 L607.82 103.9 L607.94 103.94 L608.07 103.97 L608.19 103.99 L608.31 104.01 L608.43 104.03 L608.55 104.03 L608.68 104.04 L608.8 104.03 L608.92 104.03 L609.04 104.01 L609.16 103.99 L609.28 103.97 L609.41 103.94 L609.53 103.9 L609.65 103.86 L609.77 103.82 L609.89 103.77 L610.01 103.71 L610.14 103.65 L610.26 103.59 L610.38 103.52 L610.5 103.45 L610.62 103.37 L610.74 103.29 L610.87 103.21 L610.99 103.12 L611.11 103.03 L611.23 102.94 L611.35 102.84 L611.48 102.75 L611.6 102.65 L611.72 102.54 L611.84 102.44 L611.96 102.34 L612.08 102.23 L612.21 102.13 L612.33 102.02 L612.45 101.91 L612.57 101.81 L612.69 101.7 L612.81 101.6 L612.94 101.49 L613.06 101.39 L613.18 101.29 L613.3 101.19 L613.42 101.09 L613.55 101 L613.67 100.91 L613.79 100.82 L613.91 100.73 L614.03 100.65 L614.15 100.57 L614.28 100.5 L614.4 100.43 L614.52 100.36 L614.64 100.3 L614.76 100.25 L614.88 100.19 L615.01 100.15 L615.13 100.1 L615.25 100.07 L615.37 100.04 L615.49 100.01 L615.61 99.99 L615.74 99.98 L615.86 99.97 L615.98 99.97 L616.1 99.97 L616.22 99.98 L616.35 99.99 L616.47 100.01 L616.59 100.04 L616.71 100.07 L616.83 100.11 L616.95 100.15 L617.08 100.2 L617.2 100.25 L617.32 100.31 L617.44 100.37 L617.56 100.44 L617.68 100.52 L617.81 100.59 L617.93 100.68 L618.05 100.76 L618.17 100.85 L618.29 100.95 L618.42 101.05 L618.54 101.15 L618.66 101.25 L618.78 101.36 L618.9 101.47 L619.02 101.58 L619.15 101.69 L619.27 101.81 L619.39 101.92 L619.51 102.04 L619.63 102.16 L619.75 102.28 L619.88 102.39 L620 102.51 L620.12 102.63 L620.24 102.74 L620.36 102.86 L620.48 102.97 L620.61 103.08 L620.73 103.19 L620.85 103.3 L620.97 103.4 L621.09 103.5 L621.22 103.6 L621.34 103.69 L621.46 103.78 L621.58 103.87 L621.7 103.95 L621.82 104.02 L621.95 104.09 L622.07 104.16 L622.19 104.22 L622.31 104.27 L622.43 104.32 L622.55 104.36 L622.68 104.4 L622.8 104.43 L622.92 104.45 L623.04 104.47 L623.16 104.48 L623.29 104.48 L623.41 104.48 L623.53 104.47 L623.65 104.45 L623.77 104.43 L623.89 104.4 L624.02 104.36 L624.14 104.32 L624.26 104.26 L624.38 104.21 L624.5 104.14 L624.62 104.07 L624.75 103.99 L624.87 103.91 L624.99 103.82 L625.11 103.73 L625.23 103.63 L625.35 103.52 L625.48 103.41 L625.6 103.29 L625.72 103.17 L625.84 103.05 L625.96 102.92 L626.09 102.79 L626.21 102.65 L626.33 102.52 L626.45 102.37 L626.57 102.23 L626.69 102.09 L626.82 101.94 L626.94 101.79 L627.06 101.64 L627.18 101.49 L627.3 101.34 L627.42 101.2 L627.55 101.05 L627.67 100.9 L627.79 100.76 L627.91 100.61 L628.03 100.47 L628.15 100.33 L628.28 100.2 L628.4 100.07 L628.52 99.94 L628.64 99.82 L628.76 99.71 L628.89 99.59 L629.01 99.49 L629.13 99.39 L629.25 99.29 L629.37 99.21 L629.49 99.13 L629.62 99.05 L629.74 98.99 L629.86 98.93 L629.98 98.88 L630.1 98.84 L630.22 98.81 L630.35 98.79 L630.47 98.78 L630.59 98.77 L630.71 98.78 L630.83 98.79 L630.96 98.81 L631.08 98.85 L631.2 98.89 L631.32 98.94 L631.44 99.01 L631.56 99.08 L631.69 99.16 L631.81 99.25 L631.93 99.35 L632.05 99.46 L632.17 99.58 L632.29 99.71 L632.42 99.85 L632.54 100 L632.66 100.15 L632.78 100.31 L632.9 100.48 L633.03 100.66 L633.15 100.85 L633.27 101.04 L633.39 101.24 L633.51 101.44 L633.63 101.65 L633.76 101.87 L633.88 102.09 L634 102.31 L634.12 102.54 L634.24 102.77 L634.36 103 L634.49 103.23 L634.61 103.47 L634.73 103.71 L634.85 103.94 L634.97 104.18 L635.09 104.41 L635.22 104.64 L635.34 104.87 L635.46 105.1 L635.58 105.32 L635.7 105.53 L635.83 105.75 L635.95 105.95 L636.07 106.15 L636.19 106.34 L636.31 106.52 L636.43 106.69 L636.56 106.85 L636.68 107.01 L636.8 107.15 L636.92 107.28 L637.04 107.39 L637.16 107.49 L637.29 107.58 L637.41 107.66 L637.53 107.72 L637.65 107.76 L637.77 107.78 L637.89 107.79 L638.02 107.78 L638.14 107.76 L638.26 107.71 L638.38 107.65 L638.5 107.56 L638.63 107.45 L638.75 107.33 L638.87 107.18 L638.99 107.01 L639.11 106.82 L639.23 106.6 L639.36 106.37 L639.48 106.11M504.82 61.84 L504.94 61.58 L505.07 61.35 L505.19 61.13 L505.31 60.94 L505.43 60.77 L505.55 60.62 L505.67 60.5 L505.8 60.39 L505.92 60.3 L506.04 60.24 L506.16 60.19 L506.28 60.17 L506.41 60.16 L506.53 60.17 L506.65 60.19 L506.77 60.23 L506.89 60.29 L507.01 60.37 L507.14 60.46 L507.26 60.56 L507.38 60.67 L507.5 60.8 L507.62 60.94 L507.74 61.1 L507.87 61.26 L507.99 61.43 L508.11 61.61 L508.23 61.8 L508.35 62 L508.47 62.2 L508.6 62.42 L508.72 62.63 L508.84 62.85 L508.96 63.08 L509.08 63.31 L509.21 63.54 L509.33 63.77 L509.45 64.01 L509.57 64.24 L509.69 64.48 L509.81 64.72 L509.94 64.95 L510.06 65.18 L510.18 65.41 L510.3 65.64 L510.42 65.86 L510.54 66.08 L510.67 66.3 L510.79 66.51 L510.91 66.71 L511.03 66.91 L511.15 67.1 L511.28 67.29 L511.4 67.47 L511.52 67.64 L511.64 67.8 L511.76 67.95 L511.88 68.1 L512.01 68.24 L512.13 68.37 L512.25 68.49 L512.37 68.6 L512.49 68.7 L512.61 68.79 L512.74 68.87 L512.86 68.94 L512.98 69.01 L513.1 69.06 L513.22 69.1 L513.34 69.14 L513.47 69.16 L513.59 69.17 L513.71 69.18 L513.83 69.17 L513.95 69.16 L514.08 69.14 L514.2 69.11 L514.32 69.07 L514.44 69.02 L514.56 68.96 L514.68 68.9 L514.81 68.82 L514.93 68.74 L515.05 68.66 L515.17 68.56 L515.29 68.46 L515.41 68.36 L515.54 68.24 L515.66 68.13 L515.78 68.01 L515.9 67.88 L516.02 67.75 L516.14 67.62 L516.27 67.48 L516.39 67.34 L516.51 67.19 L516.63 67.05 L516.75 66.9 L516.88 66.75 L517 66.61 L517.12 66.46 L517.24 66.31 L517.36 66.16 L517.48 66.01 L517.61 65.86 L517.73 65.72 L517.85 65.58 L517.97 65.43 L518.09 65.3 L518.21 65.16 L518.34 65.03 L518.46 64.9 L518.58 64.78 L518.7 64.66 L518.82 64.54 L518.95 64.43 L519.07 64.32 L519.19 64.22 L519.31 64.13 L519.43 64.04 L519.55 63.96 L519.68 63.88 L519.8 63.81 L519.92 63.74 L520.04 63.69 L520.16 63.63 L520.28 63.59 L520.41 63.55 L520.53 63.52 L520.65 63.5 L520.77 63.48 L520.89 63.47 L521.01 63.47 L521.14 63.47 L521.26 63.48 L521.38 63.5 L521.5 63.52 L521.62 63.55 L521.75 63.59 L521.87 63.63 L521.99 63.68 L522.11 63.73 L522.23 63.79 L522.35 63.86 L522.48 63.93 L522.6 64 L522.72 64.08 L522.84 64.17 L522.96 64.26 L523.08 64.35 L523.21 64.45 L523.33 64.55 L523.45 64.65 L523.57 64.76 L523.69 64.87 L523.82 64.98 L523.94 65.09 L524.06 65.21 L524.18 65.32 L524.3 65.44 L524.42 65.56 L524.55 65.67 L524.67 65.79 L524.79 65.91 L524.91 66.03 L525.03 66.14 L525.15 66.26 L525.28 66.37 L525.4 66.48 L525.52 66.59 L525.64 66.7 L525.76 66.8 L525.88 66.9 L526.01 67 L526.13 67.1 L526.25 67.19 L526.37 67.27 L526.49 67.36 L526.62 67.43 L526.74 67.51 L526.86 67.58 L526.98 67.64 L527.1 67.7 L527.22 67.75 L527.35 67.8 L527.47 67.84 L527.59 67.88 L527.71 67.91 L527.83 67.94 L527.95 67.96 L528.08 67.97 L528.2 67.98 L528.32 67.98 L528.44 67.98 L528.56 67.97 L528.69 67.96 L528.81 67.94 L528.93 67.91 L529.05 67.88 L529.17 67.85 L529.29 67.8 L529.42 67.76 L529.54 67.7 L529.66 67.65 L529.78 67.59 L529.9 67.52 L530.02 67.45 L530.15 67.38 L530.27 67.3 L530.39 67.22 L530.51 67.13 L530.63 67.04 L530.75 66.95 L530.88 66.86 L531 66.76 L531.12 66.66 L531.24 66.56 L531.36 66.46 L531.49 66.35 L531.61 66.25 L531.73 66.14 L531.85 66.04 L531.97 65.93 L532.09 65.82 L532.22 65.72 L532.34 65.61 L532.46 65.51 L532.58 65.41 L532.7 65.3 L532.82 65.2 L532.95 65.11 L533.07 65.01 L533.19 64.92 L533.31 64.83 L533.43 64.74 L533.56 64.66 L533.68 64.58 L533.8 64.5 L533.92 64.43 L534.04 64.36 L534.16 64.3 L534.29 64.24 L534.41 64.18 L534.53 64.13 L534.65 64.09 L534.77 64.05 L534.89 64.01 L535.02 63.98 L535.14 63.96 L535.26 63.94 L535.38 63.92 L535.5 63.92 L535.62 63.91 L535.75 63.92 L535.87 63.92 L535.99 63.94 L536.11 63.96 L536.23 63.98 L536.36 64.01 L536.48 64.05 L536.6 64.09 L536.72 64.13 L536.84 64.18 L536.96 64.24 L537.09 64.3 L537.21 64.36 L537.33 64.43 L537.45 64.5 L537.57 64.58 L537.69 64.66 L537.82 64.74 L537.94 64.83 L538.06 64.92 L538.18 65.01 L538.3 65.11 L538.43 65.2 L538.55 65.3 L538.67 65.41 L538.79 65.51 L538.91 65.61 L539.03 65.72 L539.16 65.82 L539.28 65.93 L539.4 66.04 L539.52 66.14 L539.64 66.25 L539.76 66.35 L539.89 66.46 L540.01 66.56 L540.13 66.66 L540.25 66.76 L540.37 66.86 L540.5 66.95 L540.62 67.04 L540.74 67.13 L540.86 67.22 L540.98 67.3 L541.1 67.38 L541.23 67.45 L541.35 67.52 L541.47 67.59 L541.59 67.65 L541.71 67.7 L541.83 67.76 L541.96 67.8 L542.08 67.85 L542.2 67.88 L542.32 67.91 L542.44 67.94 L542.56 67.96 L542.69 67.97 L542.81 67.98 L542.93 67.98 L543.05 67.98 L543.17 67.97 L543.3 67.96 L543.42 67.94 L543.54 67.91 L543.66 67.88 L543.78 67.84 L543.9 67.8 L544.03 67.75 L544.15 67.7 L544.27 67.64 L544.39 67.58 L544.51 67.51 L544.63 67.43 L544.76 67.36 L544.88 67.27 L545 67.19 L545.12 67.1 L545.24 67 L545.37 66.9 L545.49 66.8 L545.61 66.7 L545.73 66.59 L545.85 66.48 L545.97 66.37 L546.1 66.26 L546.22 66.14 L546.34 66.03 L546.46 65.91 L546.58 65.79 L546.7 65.67 L546.83 65.56 L546.95 65.44 L547.07 65.32 L547.19 65.21 L547.31 65.09 L547.43 64.98 L547.56 64.87 L547.68 64.76 L547.8 64.65 L547.92 64.55 L548.04 64.45 L548.17 64.35 L548.29 64.26 L548.41 64.17 L548.53 64.08 L548.65 64 L548.77 63.93 L548.9 63.86 L549.02 63.79 L549.14 63.73 L549.26 63.68 L549.38 63.63 L549.5 63.59 L549.63 63.55 L549.75 63.52 L549.87 63.5 L549.99 63.48 L550.11 63.47 L550.24 63.47 L550.36 63.47 L550.48 63.48 L550.6 63.5 L550.72 63.52 L550.84 63.55 L550.97 63.59 L551.09 63.63 L551.21 63.69 L551.33 63.74 L551.45 63.81 L551.57 63.88 L551.7 63.96 L551.82 64.04 L551.94 64.13 L552.06 64.22 L552.18 64.32 L552.3 64.43 L552.43 64.54 L552.55 64.66 L552.67 64.78 L552.79 64.9 L552.91 65.03 L553.04 65.16 L553.16 65.3 L553.28 65.43 L553.4 65.58 L553.52 65.72 L553.64 65.86 L553.77 66.01 L553.89 66.16 L554.01 66.31 L554.13 66.46 L554.25 66.61 L554.37 66.75 L554.5 66.9 L554.62 67.05 L554.74 67.19 L554.86 67.34 L554.98 67.48 L555.11 67.62 L555.23 67.75 L555.35 67.88 L555.47 68.01 L555.59 68.13 L555.71 68.24 L555.84 68.36 L555.96 68.46 L556.08 68.56 L556.2 68.66 L556.32 68.74 L556.44 68.82 L556.57 68.9 L556.69 68.96 L556.81 69.02 L556.93 69.07 L557.05 69.11 L557.17 69.14 L557.3 69.16 L557.42 69.17 L557.54 69.18 L557.66 69.17 L557.78 69.16 L557.91 69.14 L558.03 69.1 L558.15 69.06 L558.27 69.01 L558.39 68.94 L558.51 68.87 L558.64 68.79 L558.76 68.7 L558.88 68.6 L559 68.49 L559.12 68.37 L559.24 68.24 L559.37 68.1 L559.49 67.95 L559.61 67.8 L559.73 67.64 L559.85 67.47 L559.98 67.29 L560.1 67.1 L560.22 66.91 L560.34 66.71 L560.46 66.51 L560.58 66.3 L560.71 66.08 L560.83 65.86 L560.95 65.64 L561.07 65.41 L561.19 65.18 L561.31 64.95 L561.44 64.72 L561.56 64.48 L561.68 64.24 L561.8 64.01 L561.92 63.77 L562.04 63.54 L562.17 63.31 L562.29 63.08 L562.41 62.85 L562.53 62.63 L562.65 62.42 L562.78 62.2 L562.9 62 L563.02 61.8 L563.14 61.61 L563.26 61.43 L563.38 61.26 L563.51 61.1 L563.63 60.94 L563.75 60.8 L563.87 60.67 L563.99 60.56 L564.11 60.46 L564.24 60.37 L564.36 60.29 L564.48 60.23 L564.6 60.19 L564.72 60.17 L564.85 60.16 L564.97 60.17 L565.09 60.19 L565.21 60.24 L565.33 60.3 L565.45 60.39 L565.58 60.5 L565.7 60.62 L565.82 60.77 L565.94 60.94 L566.06 61.13 L566.18 61.35 L566.31 61.58 L566.43 61.84M577.87 132.96 L577.99 133.22 L578.12 133.45 L578.24 133.67 L578.36 133.86 L578.48 134.03 L578.6 134.18 L578.72 134.3 L578.85 134.41 L578.97 134.5 L579.09 134.56 L579.21 134.61 L579.33 134.63 L579.46 134.64 L579.58 134.63 L579.7 134.61 L579.82 134.57 L579.94 134.51 L580.06 134.43 L580.19 134.34 L580.31 134.24 L580.43 134.13 L580.55 134 L580.67 133.86 L580.79 133.7 L580.92 133.54 L581.04 133.37 L581.16 133.19 L581.28 133 L581.4 132.8 L581.52 132.6 L581.65 132.38 L581.77 132.17 L581.89 131.95 L582.01 131.72 L582.13 131.49 L582.26 131.26 L582.38 131.03 L582.5 130.79 L582.62 130.56 L582.74 130.32 L582.86 130.08 L582.99 129.85 L583.11 129.62 L583.23 129.39 L583.35 129.16 L583.47 128.94 L583.59 128.72 L583.72 128.5 L583.84 128.29 L583.96 128.09 L584.08 127.89 L584.2 127.7 L584.33 127.51 L584.45 127.33 L584.57 127.16 L584.69 127 L584.81 126.85 L584.93 126.7 L585.06 126.56 L585.18 126.43 L585.3 126.31 L585.42 126.2 L585.54 126.1 L585.66 126.01 L585.79 125.93 L585.91 125.86 L586.03 125.79 L586.15 125.74 L586.27 125.7 L586.39 125.66 L586.52 125.64 L586.64 125.63 L586.76 125.62 L586.88 125.63 L587 125.64 L587.13 125.66 L587.25 125.69 L587.37 125.73 L587.49 125.78 L587.61 125.84 L587.73 125.9 L587.86 125.98 L587.98 126.06 L588.1 126.14 L588.22 126.24 L588.34 126.34 L588.46 126.44 L588.59 126.56 L588.71 126.67 L588.83 126.79 L588.95 126.92 L589.07 127.05 L589.2 127.18 L589.32 127.32 L589.44 127.46 L589.56 127.61 L589.68 127.75 L589.8 127.9 L589.93 128.05 L590.05 128.19 L590.17 128.34 L590.29 128.49 L590.41 128.64 L590.53 128.79 L590.66 128.94 L590.78 129.08 L590.9 129.22 L591.02 129.37 L591.14 129.5 L591.26 129.64 L591.39 129.77 L591.51 129.9 L591.63 130.02 L591.75 130.14 L591.87 130.26 L592 130.37 L592.12 130.48 L592.24 130.58 L592.36 130.67 L592.48 130.76 L592.6 130.84 L592.73 130.92 L592.85 130.99 L592.97 131.06 L593.09 131.11 L593.21 131.17 L593.33 131.21 L593.46 131.25 L593.58 131.28 L593.7 131.3 L593.82 131.32 L593.94 131.33 L594.07 131.33 L594.19 131.33 L594.31 131.32 L594.43 131.3 L594.55 131.28 L594.67 131.25 L594.8 131.21 L594.92 131.17 L595.04 131.12 L595.16 131.07 L595.28 131.01 L595.4 130.94 L595.53 130.87 L595.65 130.8 L595.77 130.72 L595.89 130.63 L596.01 130.54 L596.13 130.45 L596.26 130.35 L596.38 130.25 L596.5 130.15 L596.62 130.04 L596.74 129.93 L596.87 129.82 L596.99 129.71 L597.11 129.59 L597.23 129.48 L597.35 129.36 L597.47 129.24 L597.6 129.13 L597.72 129.01 L597.84 128.89 L597.96 128.77 L598.08 128.66 L598.2 128.54 L598.33 128.43 L598.45 128.32 L598.57 128.21 L598.69 128.1 L598.81 128 L598.94 127.9 L599.06 127.8 L599.18 127.7 L599.3 127.61 L599.42 127.53 L599.54 127.44 L599.67 127.37 L599.79 127.29 L599.91 127.22 L600.03 127.16 L600.15 127.1 L600.27 127.05 L600.4 127 L600.52 126.96 L600.64 126.92 L600.76 126.89 L600.88 126.86 L601 126.84 L601.13 126.83 L601.25 126.82 L601.37 126.82 L601.49 126.82 L601.61 126.83 L601.74 126.84 L601.86 126.86 L601.98 126.89 L602.1 126.92 L602.22 126.95 L602.34 127 L602.47 127.04 L602.59 127.1 L602.71 127.15 L602.83 127.21 L602.95 127.28 L603.07 127.35 L603.2 127.42 L603.32 127.5 L603.44 127.58 L603.56 127.67 L603.68 127.76 L603.81 127.85 L603.93 127.94 L604.05 128.04 L604.17 128.14 L604.29 128.24 L604.41 128.34 L604.54 128.45 L604.66 128.55 L604.78 128.66 L604.9 128.76 L605.02 128.87 L605.14 128.98 L605.27 129.08 L605.39 129.19 L605.51 129.29 L605.63 129.39 L605.75 129.5 L605.87 129.6 L606 129.69 L606.12 129.79 L606.24 129.88 L606.36 129.97 L606.48 130.06 L606.61 130.14 L606.73 130.22 L606.85 130.3 L606.97 130.37 L607.09 130.44 L607.21 130.5 L607.34 130.56 L607.46 130.62 L607.58 130.67 L607.7 130.71 L607.82 130.75 L607.94 130.79 L608.07 130.82 L608.19 130.84 L608.31 130.86 L608.43 130.88 L608.55 130.88 L608.68 130.89 L608.8 130.88 L608.92 130.88 L609.04 130.86 L609.16 130.84 L609.28 130.82 L609.41 130.79 L609.53 130.75 L609.65 130.71 L609.77 130.67 L609.89 130.62 L610.01 130.56 L610.14 130.5 L610.26 130.44 L610.38 130.37 L610.5 130.3 L610.62 130.22 L610.74 130.14 L610.87 130.06 L610.99 129.97 L611.11 129.88 L611.23 129.79 L611.35 129.69 L611.48 129.6 L611.6 129.5 L611.72 129.39 L611.84 129.29 L611.96 129.19 L612.08 129.08 L612.21 128.98 L612.33 128.87 L612.45 128.76 L612.57 128.66 L612.69 128.55 L612.81 128.45 L612.94 128.34 L613.06 128.24 L613.18 128.14 L613.3 128.04 L613.42 127.94 L613.55 127.85 L613.67 127.76 L613.79 127.67 L613.91 127.58 L614.03 127.5 L614.15 127.42 L614.28 127.35 L614.4 127.28 L614.52 127.21 L614.64 127.15 L614.76 127.1 L614.88 127.04 L615.01 127 L615.13 126.95 L615.25 126.92 L615.37 126.89 L615.49 126.86 L615.61 126.84 L615.74 126.83 L615.86 126.82 L615.98 126.82 L616.1 126.82 L616.22 126.83 L616.35 126.84 L616.47 126.86 L616.59 126.89 L616.71 126.92 L616.83 126.96 L616.95 127 L617.08 127.05 L617.2 127.1 L617.32 127.16 L617.44 127.22 L617.56 127.29 L617.68 127.37 L617.81 127.44 L617.93 127.53 L618.05 127.61 L618.17 127.7 L618.29 127.8 L618.42 127.9 L618.54 128 L618.66 128.1 L618.78 128.21 L618.9 128.32 L619.02 128.43 L619.15 128.54 L619.27 128.66 L619.39 128.77 L619.51 128.89 L619.63 129.01 L619.75 129.13 L619.88 129.24 L620 129.36 L620.12 129.48 L620.24 129.59 L620.36 129.71 L620.48 129.82 L620.61 129.93 L620.73 130.04 L620.85 130.15 L620.97 130.25 L621.09 130.35 L621.22 130.45 L621.34 130.54 L621.46 130.63 L621.58 130.72 L621.7 130.8 L621.82 130.87 L621.95 130.94 L622.07 131.01 L622.19 131.07 L622.31 131.12 L622.43 131.17 L622.55 131.21 L622.68 131.25 L622.8 131.28 L622.92 131.3 L623.04 131.32 L623.16 131.33 L623.29 131.33 L623.41 131.33 L623.53 131.32 L623.65 131.3 L623.77 131.28 L623.89 131.25 L624.02 131.21 L624.14 131.17 L624.26 131.11 L624.38 131.06 L624.5 130.99 L624.62 130.92 L624.75 130.84 L624.87 130.76 L624.99 130.67 L625.11 130.58 L625.23 130.48 L625.35 130.37 L625.48 130.26 L625.6 130.14 L625.72 130.02 L625.84 129.9 L625.96 129.77 L626.09 129.64 L626.21 129.5 L626.33 129.37 L626.45 129.22 L626.57 129.08 L626.69 128.94 L626.82 128.79 L626.94 128.64 L627.06 128.49 L627.18 128.34 L627.3 128.19 L627.42 128.05 L627.55 127.9 L627.67 127.75 L627.79 127.61 L627.91 127.46 L628.03 127.32 L628.15 127.18 L628.28 127.05 L628.4 126.92 L628.52 126.79 L628.64 126.67 L628.76 126.56 L628.89 126.44 L629.01 126.34 L629.13 126.24 L629.25 126.14 L629.37 126.06 L629.49 125.98 L629.62 125.9 L629.74 125.84 L629.86 125.78 L629.98 125.73 L630.1 125.69 L630.22 125.66 L630.35 125.64 L630.47 125.63 L630.59 125.62 L630.71 125.63 L630.83 125.64 L630.96 125.66 L631.08 125.7 L631.2 125.74 L631.32 125.79 L631.44 125.86 L631.56 125.93 L631.69 126.01 L631.81 126.1 L631.93 126.2 L632.05 126.31 L632.17 126.43 L632.29 126.56 L632.42 126.7 L632.54 126.85 L632.66 127 L632.78 127.16 L632.9 127.33 L633.03 127.51 L633.15 127.7 L633.27 127.89 L633.39 128.09 L633.51 128.29 L633.63 128.5 L633.76 128.72 L633.88 128.94 L634 129.16 L634.12 129.39 L634.24 129.62 L634.36 129.85 L634.49 130.08 L634.61 130.32 L634.73 130.56 L634.85 130.79 L634.97 131.03 L635.09 131.26 L635.22 131.49 L635.34 131.72 L635.46 131.95 L635.58 132.17 L635.7 132.38 L635.83 132.6 L635.95 132.8 L636.07 133 L636.19 133.19 L636.31 133.37 L636.43 133.54 L636.56 133.7 L636.68 133.86 L636.8 134 L636.92 134.13 L637.04 134.24 L637.16 134.34 L637.29 134.43 L637.41 134.51 L637.53 134.57 L637.65 134.61 L637.77 134.63 L637.89 134.64 L638.02 134.63 L638.14 134.61 L638.26 134.56 L638.38 134.5 L638.5 134.41 L638.63 134.3 L638.75 134.18 L638.87 134.03 L638.99 133.86 L639.11 133.67 L639.23 133.45 L639.36 133.22 L639.48 132.96M504.82 88.69 L504.94 88.43 L505.07 88.2 L505.19 87.98 L505.31 87.79 L505.43 87.62 L505.55 87.47 L505.67 87.35 L505.8 87.24 L505.92 87.15 L506.04 87.09 L506.16 87.04 L506.28 87.02 L506.41 87.01 L506.53 87.02 L506.65 87.04 L506.77 87.08 L506.89 87.14 L507.01 87.22 L507.14 87.31 L507.26 87.41 L507.38 87.52 L507.5 87.65 L507.62 87.79 L507.74 87.95 L507.87 88.11 L507.99 88.28 L508.11 88.46 L508.23 88.65 L508.35 88.85 L508.47 89.05 L508.6 89.27 L508.72 89.48 L508.84 89.7 L508.96 89.93 L509.08 90.16 L509.21 90.39 L509.33 90.62 L509.45 90.86 L509.57 91.09 L509.69 91.33 L509.81 91.57 L509.94 91.8 L510.06 92.03 L510.18 92.26 L510.3 92.49 L510.42 92.71 L510.54 92.93 L510.67 93.15 L510.79 93.36 L510.91 93.56 L511.03 93.76 L511.15 93.95 L511.28 94.14 L511.4 94.32 L511.52 94.49 L511.64 94.65 L511.76 94.8 L511.88 94.95 L512.01 95.09 L512.13 95.22 L512.25 95.34 L512.37 95.45 L512.49 95.55 L512.61 95.64 L512.74 95.72 L512.86 95.79 L512.98 95.86 L513.1 95.91 L513.22 95.95 L513.34 95.99 L513.47 96.01 L513.59 96.02 L513.71 96.03 L513.83 96.02 L513.95 96.01 L514.08 95.99 L514.2 95.96 L514.32 95.92 L514.44 95.87 L514.56 95.81 L514.68 95.75 L514.81 95.67 L514.93 95.59 L515.05 95.51 L515.17 95.41 L515.29 95.31 L515.41 95.21 L515.54 95.09 L515.66 94.98 L515.78 94.86 L515.9 94.73 L516.02 94.6 L516.14 94.47 L516.27 94.33 L516.39 94.19 L516.51 94.04 L516.63 93.9 L516.75 93.75 L516.88 93.6 L517 93.46 L517.12 93.31 L517.24 93.16 L517.36 93.01 L517.48 92.86 L517.61 92.71 L517.73 92.57 L517.85 92.43 L517.97 92.28 L518.09 92.15 L518.21 92.01 L518.34 91.88 L518.46 91.75 L518.58 91.63 L518.7 91.51 L518.82 91.39 L518.95 91.28 L519.07 91.17 L519.19 91.07 L519.31 90.98 L519.43 90.89 L519.55 90.81 L519.68 90.73 L519.8 90.66 L519.92 90.59 L520.04 90.54 L520.16 90.48 L520.28 90.44 L520.41 90.4 L520.53 90.37 L520.65 90.35 L520.77 90.33 L520.89 90.32 L521.01 90.32 L521.14 90.32 L521.26 90.33 L521.38 90.35 L521.5 90.37 L521.62 90.4 L521.75 90.44 L521.87 90.48 L521.99 90.53 L522.11 90.58 L522.23 90.64 L522.35 90.71 L522.48 90.78 L522.6 90.85 L522.72 90.93 L522.84 91.02 L522.96 91.11 L523.08 91.2 L523.21 91.3 L523.33 91.4 L523.45 91.5 L523.57 91.61 L523.69 91.72 L523.82 91.83 L523.94 91.94 L524.06 92.06 L524.18 92.17 L524.3 92.29 L524.42 92.41 L524.55 92.52 L524.67 92.64 L524.79 92.76 L524.91 92.88 L525.03 92.99 L525.15 93.11 L525.28 93.22 L525.4 93.33 L525.52 93.44 L525.64 93.55 L525.76 93.65 L525.88 93.75 L526.01 93.85 L526.13 93.95 L526.25 94.04 L526.37 94.12 L526.49 94.21 L526.62 94.28 L526.74 94.36 L526.86 94.43 L526.98 94.49 L527.1 94.55 L527.22 94.6 L527.35 94.65 L527.47 94.69 L527.59 94.73 L527.71 94.76 L527.83 94.79 L527.95 94.81 L528.08 94.82 L528.2 94.83 L528.32 94.83 L528.44 94.83 L528.56 94.82 L528.69 94.81 L528.81 94.79 L528.93 94.76 L529.05 94.73 L529.17 94.7 L529.29 94.65 L529.42 94.61 L529.54 94.55 L529.66 94.5 L529.78 94.44 L529.9 94.37 L530.02 94.3 L530.15 94.23 L530.27 94.15 L530.39 94.07 L530.51 93.98 L530.63 93.89 L530.75 93.8 L530.88 93.71 L531 93.61 L531.12 93.51 L531.24 93.41 L531.36 93.31 L531.49 93.2 L531.61 93.1 L531.73 92.99 L531.85 92.89 L531.97 92.78 L532.09 92.67 L532.22 92.57 L532.34 92.46 L532.46 92.36 L532.58 92.26 L532.7 92.15 L532.82 92.05 L532.95 91.96 L533.07 91.86 L533.19 91.77 L533.31 91.68 L533.43 91.59 L533.56 91.51 L533.68 91.43 L533.8 91.35 L533.92 91.28 L534.04 91.21 L534.16 91.15 L534.29 91.09 L534.41 91.03 L534.53 90.98 L534.65 90.94 L534.77 90.9 L534.89 90.86 L535.02 90.83 L535.14 90.81 L535.26 90.79 L535.38 90.77 L535.5 90.77 L535.62 90.76 L535.75 90.77 L535.87 90.77 L535.99 90.79 L536.11 90.81 L536.23 90.83 L536.36 90.86 L536.48 90.9 L536.6 90.94 L536.72 90.98 L536.84 91.03 L536.96 91.09 L537.09 91.15 L537.21 91.21 L537.33 91.28 L537.45 91.35 L537.57 91.43 L537.69 91.51 L537.82 91.59 L537.94 91.68 L538.06 91.77 L538.18 91.86 L538.3 91.96 L538.43 92.05 L538.55 92.15 L538.67 92.26 L538.79 92.36 L538.91 92.46 L539.03 92.57 L539.16 92.67 L539.28 92.78 L539.4 92.89 L539.52 92.99 L539.64 93.1 L539.76 93.2 L539.89 93.31 L540.01 93.41 L540.13 93.51 L540.25 93.61 L540.37 93.71 L540.5 93.8 L540.62 93.89 L540.74 93.98 L540.86 94.07 L540.98 94.15 L541.1 94.23 L541.23 94.3 L541.35 94.37 L541.47 94.44 L541.59 94.5 L541.71 94.55 L541.83 94.61 L541.96 94.65 L542.08 94.7 L542.2 94.73 L542.32 94.76 L542.44 94.79 L542.56 94.81 L542.69 94.82 L542.81 94.83 L542.93 94.83 L543.05 94.83 L543.17 94.82 L543.3 94.81 L543.42 94.79 L543.54 94.76 L543.66 94.73 L543.78 94.69 L543.9 94.65 L544.03 94.6 L544.15 94.55 L544.27 94.49 L544.39 94.43 L544.51 94.36 L544.63 94.28 L544.76 94.21 L544.88 94.12 L545 94.04 L545.12 93.95 L545.24 93.85 L545.37 93.75 L545.49 93.65 L545.61 93.55 L545.73 93.44 L545.85 93.33 L545.97 93.22 L546.1 93.11 L546.22 92.99 L546.34 92.88 L546.46 92.76 L546.58 92.64 L546.7 92.52 L546.83 92.41 L546.95 92.29 L547.07 92.17 L547.19 92.06 L547.31 91.94 L547.43 91.83 L547.56 91.72 L547.68 91.61 L547.8 91.5 L547.92 91.4 L548.04 91.3 L548.17 91.2 L548.29 91.11 L548.41 91.02 L548.53 90.93 L548.65 90.85 L548.77 90.78 L548.9 90.71 L549.02 90.64 L549.14 90.58 L549.26 90.53 L549.38 90.48 L549.5 90.44 L549.63 90.4 L549.75 90.37 L549.87 90.35 L549.99 90.33 L550.11 90.32 L550.24 90.32 L550.36 90.32 L550.48 90.33 L550.6 90.35 L550.72 90.37 L550.84 90.4 L550.97 90.44 L551.09 90.48 L551.21 90.54 L551.33 90.59 L551.45 90.66 L551.57 90.73 L551.7 90.81 L551.82 90.89 L551.94 90.98 L552.06 91.07 L552.18 91.17 L552.3 91.28 L552.43 91.39 L552.55 91.51 L552.67 91.63 L552.79 91.75 L552.91 91.88 L553.04 92.01 L553.16 92.15 L553.28 92.28 L553.4 92.43 L553.52 92.57 L553.64 92.71 L553.77 92.86 L553.89 93.01 L554.01 93.16 L554.13 93.31 L554.25 93.46 L554.37 93.6 L554.5 93.75 L554.62 93.9 L554.74 94.04 L554.86 94.19 L554.98 94.33 L555.11 94.47 L555.23 94.6 L555.35 94.73 L555.47 94.86 L555.59 94.98 L555.71 95.09 L555.84 95.21 L555.96 95.31 L556.08 95.41 L556.2 95.51 L556.32 95.59 L556.44 95.67 L556.57 95.75 L556.69 95.81 L556.81 95.87 L556.93 95.92 L557.05 95.96 L557.17 95.99 L557.3 96.01 L557.42 96.02 L557.54 96.03 L557.66 96.02 L557.78 96.01 L557.91 95.99 L558.03 95.95 L558.15 95.91 L558.27 95.86 L558.39 95.79 L558.51 95.72 L558.64 95.64 L558.76 95.55 L558.88 95.45 L559 95.34 L559.12 95.22 L559.24 95.09 L559.37 94.95 L559.49 94.8 L559.61 94.65 L559.73 94.49 L559.85 94.32 L559.98 94.14 L560.1 93.95 L560.22 93.76 L560.34 93.56 L560.46 93.36 L560.58 93.15 L560.71 92.93 L560.83 92.71 L560.95 92.49 L561.07 92.26 L561.19 92.03 L561.31 91.8 L561.44 91.57 L561.56 91.33 L561.68 91.09 L561.8 90.86 L561.92 90.62 L562.04 90.39 L562.17 90.16 L562.29 89.93 L562.41 89.7 L562.53 89.48 L562.65 89.27 L562.78 89.05 L562.9 88.85 L563.02 88.65 L563.14 88.46 L563.26 88.28 L563.38 88.11 L563.51 87.95 L563.63 87.79 L563.75 87.65 L563.87 87.52 L563.99 87.41 L564.11 87.31 L564.24 87.22 L564.36 87.14 L564.48 87.08 L564.6 87.04 L564.72 87.02 L564.85 87.01 L564.97 87.02 L565.09 87.04 L565.21 87.09 L565.33 87.15 L565.45 87.24 L565.58 87.35 L565.7 87.47 L565.82 87.62 L565.94 87.79 L566.06 87.98 L566.18 88.2 L566.31 88.43 L566.43 88.69M504.82 115.54 L504.94 115.28 L505.07 115.05 L505.19 114.83 L505.31 114.64 L505.43 114.47 L505.55 114.32 L505.67 114.2 L505.8 114.09 L505.92 114 L506.04 113.94 L506.16 113.89 L506.28 113.87 L506.41 113.86 L506.53 113.87 L506.65 113.89 L506.77 113.93 L506.89 113.99 L507.01 114.07 L507.14 114.16 L507.26 114.26 L507.38 114.37 L507.5 114.5 L507.62 114.64 L507.74 114.8 L507.87 114.96 L507.99 115.13 L508.11 115.31 L508.23 115.5 L508.35 115.7 L508.47 115.9 L508.6 116.12 L508.72 116.33 L508.84 116.55 L508.96 116.78 L509.08 117.01 L509.21 117.24 L509.33 117.47 L509.45 117.71 L509.57 117.94 L509.69 118.18 L509.81 118.42 L509.94 118.65 L510.06 118.88 L510.18 119.11 L510.3 119.34 L510.42 119.56 L510.54 119.78 L510.67 120 L510.79 120.21 L510.91 120.41 L511.03 120.61 L511.15 120.8 L511.28 120.99 L511.4 121.17 L511.52 121.34 L511.64 121.5 L511.76 121.65 L511.88 121.8 L512.01 121.94 L512.13 122.07 L512.25 122.19 L512.37 122.3 L512.49 122.4 L512.61 122.49 L512.74 122.57 L512.86 122.64 L512.98 122.71 L513.1 122.76 L513.22 122.8 L513.34 122.84 L513.47 122.86 L513.59 122.87 L513.71 122.88 L513.83 122.87 L513.95 122.86 L514.08 122.84 L514.2 122.81 L514.32 122.77 L514.44 122.72 L514.56 122.66 L514.68 122.6 L514.81 122.52 L514.93 122.44 L515.05 122.36 L515.17 122.26 L515.29 122.16 L515.41 122.06 L515.54 121.94 L515.66 121.83 L515.78 121.71 L515.9 121.58 L516.02 121.45 L516.14 121.32 L516.27 121.18 L516.39 121.04 L516.51 120.89 L516.63 120.75 L516.75 120.6 L516.88 120.45 L517 120.31 L517.12 120.16 L517.24 120.01 L517.36 119.86 L517.48 119.71 L517.61 119.56 L517.73 119.42 L517.85 119.28 L517.97 119.13 L518.09 119 L518.21 118.86 L518.34 118.73 L518.46 118.6 L518.58 118.48 L518.7 118.36 L518.82 118.24 L518.95 118.13 L519.07 118.02 L519.19 117.92 L519.31 117.83 L519.43 117.74 L519.55 117.66 L519.68 117.58 L519.8 117.51 L519.92 117.44 L520.04 117.39 L520.16 117.33 L520.28 117.29 L520.41 117.25 L520.53 117.22 L520.65 117.2 L520.77 117.18 L520.89 117.17 L521.01 117.17 L521.14 117.17 L521.26 117.18 L521.38 117.2 L521.5 117.22 L521.62 117.25 L521.75 117.29 L521.87 117.33 L521.99 117.38 L522.11 117.43 L522.23 117.49 L522.35 117.56 L522.48 117.63 L522.6 117.7 L522.72 117.78 L522.84 117.87 L522.96 117.96 L523.08 118.05 L523.21 118.15 L523.33 118.25 L523.45 118.35 L523.57 118.46 L523.69 118.57 L523.82 118.68 L523.94 118.79 L524.06 118.91 L524.18 119.02 L524.3 119.14 L524.42 119.26 L524.55 119.37 L524.67 119.49 L524.79 119.61 L524.91 119.73 L525.03 119.84 L525.15 119.96 L525.28 120.07 L525.4 120.18 L525.52 120.29 L525.64 120.4 L525.76 120.5 L525.88 120.6 L526.01 120.7 L526.13 120.8 L526.25 120.89 L526.37 120.97 L526.49 121.06 L526.62 121.13 L526.74 121.21 L526.86 121.28 L526.98 121.34 L527.1 121.4 L527.22 121.45 L527.35 121.5 L527.47 121.54 L527.59 121.58 L527.71 121.61 L527.83 121.64 L527.95 121.66 L528.08 121.67 L528.2 121.68 L528.32 121.68 L528.44 121.68 L528.56 121.67 L528.69 121.66 L528.81 121.64 L528.93 121.61 L529.05 121.58 L529.17 121.55 L529.29 121.5 L529.42 121.46 L529.54 121.4 L529.66 121.35 L529.78 121.29 L529.9 121.22 L530.02 121.15 L530.15 121.08 L530.27 121 L530.39 120.92 L530.51 120.83 L530.63 120.74 L530.75 120.65 L530.88 120.56 L531 120.46 L531.12 120.36 L531.24 120.26 L531.36 120.16 L531.49 120.05 L531.61 119.95 L531.73 119.84 L531.85 119.74 L531.97 119.63 L532.09 119.52 L532.22 119.42 L532.34 119.31 L532.46 119.21 L532.58 119.11 L532.7 119 L532.82 118.9 L532.95 118.81 L533.07 118.71 L533.19 118.62 L533.31 118.53 L533.43 118.44 L533.56 118.36 L533.68 118.28 L533.8 118.2 L533.92 118.13 L534.04 118.06 L534.16 118 L534.29 117.94 L534.41 117.88 L534.53 117.83 L534.65 117.79 L534.77 117.75 L534.89 117.71 L535.02 117.68 L535.14 117.66 L535.26 117.64 L535.38 117.62 L535.5 117.62 L535.62 117.61 L535.75 117.62 L535.87 117.62 L535.99 117.64 L536.11 117.66 L536.23 117.68 L536.36 117.71 L536.48 117.75 L536.6 117.79 L536.72 117.83 L536.84 117.88 L536.96 117.94 L537.09 118 L537.21 118.06 L537.33 118.13 L537.45 118.2 L537.57 118.28 L537.69 118.36 L537.82 118.44 L537.94 118.53 L538.06 118.62 L538.18 118.71 L538.3 118.81 L538.43 118.9 L538.55 119 L538.67 119.11 L538.79 119.21 L538.91 119.31 L539.03 119.42 L539.16 119.52 L539.28 119.63 L539.4 119.74 L539.52 119.84 L539.64 119.95 L539.76 120.05 L539.89 120.16 L540.01 120.26 L540.13 120.36 L540.25 120.46 L540.37 120.56 L540.5 120.65 L540.62 120.74 L540.74 120.83 L540.86 120.92 L540.98 121 L541.1 121.08 L541.23 121.15 L541.35 121.22 L541.47 121.29 L541.59 121.35 L541.71 121.4 L541.83 121.46 L541.96 121.5 L542.08 121.55 L542.2 121.58 L542.32 121.61 L542.44 121.64 L542.56 121.66 L542.69 121.67 L542.81 121.68 L542.93 121.68 L543.05 121.68 L543.17 121.67 L543.3 121.66 L543.42 121.64 L543.54 121.61 L543.66 121.58 L543.78 121.54 L543.9 121.5 L544.03 121.45 L544.15 121.4 L544.27 121.34 L544.39 121.28 L544.51 121.21 L544.63 121.13 L544.76 121.06 L544.88 120.97 L545 120.89 L545.12 120.8 L545.24 120.7 L545.37 120.6 L545.49 120.5 L545.61 120.4 L545.73 120.29 L545.85 120.18 L545.97 120.07 L546.1 119.96 L546.22 119.84 L546.34 119.73 L546.46 119.61 L546.58 119.49 L546.7 119.37 L546.83 119.26 L546.95 119.14 L547.07 119.02 L547.19 118.91 L547.31 118.79 L547.43 118.68 L547.56 118.57 L547.68 118.46 L547.8 118.35 L547.92 118.25 L548.04 118.15 L548.17 118.05 L548.29 117.96 L548.41 117.87 L548.53 117.78 L548.65 117.7 L548.77 117.63 L548.9 117.56 L549.02 117.49 L549.14 117.43 L549.26 117.38 L549.38 117.33 L549.5 117.29 L549.63 117.25 L549.75 117.22 L549.87 117.2 L549.99 117.18 L550.11 117.17 L550.24 117.17 L550.36 117.17 L550.48 117.18 L550.6 117.2 L550.72 117.22 L550.84 117.25 L550.97 117.29 L551.09 117.33 L551.21 117.39 L551.33 117.44 L551.45 117.51 L551.57 117.58 L551.7 117.66 L551.82 117.74 L551.94 117.83 L552.06 117.92 L552.18 118.02 L552.3 118.13 L552.43 118.24 L552.55 118.36 L552.67 118.48 L552.79 118.6 L552.91 118.73 L553.04 118.86 L553.16 119 L553.28 119.13 L553.4 119.28 L553.52 119.42 L553.64 119.56 L553.77 119.71 L553.89 119.86 L554.01 120.01 L554.13 120.16 L554.25 120.31 L554.37 120.45 L554.5 120.6 L554.62 120.75 L554.74 120.89 L554.86 121.04 L554.98 121.18 L555.11 121.32 L555.23 121.45 L555.35 121.58 L555.47 121.71 L555.59 121.83 L555.71 121.94 L555.84 122.06 L555.96 122.16 L556.08 122.26 L556.2 122.36 L556.32 122.44 L556.44 122.52 L556.57 122.6 L556.69 122.66 L556.81 122.72 L556.93 122.77 L557.05 122.81 L557.17 122.84 L557.3 122.86 L557.42 122.87 L557.54 122.88 L557.66 122.87 L557.78 122.86 L557.91 122.84 L558.03 122.8 L558.15 122.76 L558.27 122.71 L558.39 122.64 L558.51 122.57 L558.64 122.49 L558.76 122.4 L558.88 122.3 L559 122.19 L559.12 122.07 L559.24 121.94 L559.37 121.8 L559.49 121.65 L559.61 121.5 L559.73 121.34 L559.85 121.17 L559.98 120.99 L560.1 120.8 L560.22 120.61 L560.34 120.41 L560.46 120.21 L560.58 120 L560.71 119.78 L560.83 119.56 L560.95 119.34 L561.07 119.11 L561.19 118.88 L561.31 118.65 L561.44 118.42 L561.56 118.18 L561.68 117.94 L561.8 117.71 L561.92 117.47 L562.04 117.24 L562.17 117.01 L562.29 116.78 L562.41 116.55 L562.53 116.33 L562.65 116.12 L562.78 115.9 L562.9 115.7 L563.02 115.5 L563.14 115.31 L563.26 115.13 L563.38 114.96 L563.51 114.8 L563.63 114.64 L563.75 114.5 L563.87 114.37 L563.99 114.26 L564.11 114.16 L564.24 114.07 L564.36 113.99 L564.48 113.93 L564.6 113.89 L564.72 113.87 L564.85 113.86 L564.97 113.87 L565.09 113.89 L565.21 113.94 L565.33 114 L565.45 114.09 L565.58 114.2 L565.7 114.32 L565.82 114.47 L565.94 114.64 L566.06 114.83 L566.18 115.05 L566.31 115.28 L566.43 115.54" stroke="#b2bfc2" stroke-width="0.8" fill="none" stroke-linejoin="round"/>
</g>
<path d="M495.9 17.3H499.1M495.9 42H499.1M495.9 68.6H499.1M495.9 95.5H499.1M495.9 122.6H499.1" stroke="#3c3c3c" stroke-width="0.8" fill="none"/>
<rect x="499.1" y="133.7" width="146.1" height="107.8" fill="#245a93"/>
<g clip-path="url(#cb2)">
<path d="M499.1 120.26L571.7 39.9L645.2 120.25M499.1 147.11L571.7 66.75L645.2 147.1M499.1 173.96L571.7 93.6L645.2 173.95M499.1 200.81L571.7 120.45L645.2 200.8M499.1 227.66L571.7 147.3L645.2 227.65M499.1 254.51L571.7 174.15L645.2 254.5M499.1 281.36L571.7 201L645.2 281.35M499.1 308.21L571.7 227.85L645.2 308.2" stroke="#8ea9c2" stroke-width="0.8" fill="none"/>
</g>
<path d="M495.9 134.2H499.1M495.9 161.2H499.1M495.9 188.2H499.1M495.9 214.8H499.1M495.9 240.8H499.1" stroke="#3c3c3c" stroke-width="0.8" fill="none"/>
<rect x="499.1" y="249" width="146.1" height="107.4" fill="#245a93"/>
<g clip-path="url(#cb3)">
<path d="M533.3 238.25L536.1 211.4M569.7 237.25L572.5 210.9M606.7 236.85L609.5 211.4M533.3 265.1L536.1 238.25M569.7 264.1L572.5 237.75M606.7 263.7L609.5 238.25M533.3 291.95L536.1 265.1M569.7 290.95L572.5 264.6M606.7 290.55L609.5 265.1M533.3 318.8L536.1 291.95M569.7 317.8L572.5 291.45M606.7 317.4L609.5 291.95M533.3 345.65L536.1 318.8M569.7 344.65L572.5 318.3M606.7 344.25L609.5 318.8M533.3 372.5L536.1 345.65M569.7 371.5L572.5 345.15M606.7 371.1L609.5 345.65M533.3 399.35L536.1 372.5M569.7 398.35L572.5 372M606.7 397.95L609.5 372.5" stroke="#4f8fc6" stroke-width="0.6" fill="none" opacity="0.7"/>
<path d="M499.1 236.75 L499.33 236.9 L499.55 237.34 L499.78 237.98 L500 238.75 L500.23 239.52 L500.45 240.16 L500.68 240.6 L500.9 240.75 L501.2 240.85 L501.5 241.13 L501.8 241.55 L502.1 242.05 L502.4 242.55 L502.7 242.97 L503 243.25 L503.3 243.35 L503.64 242.9 L503.98 241.64 L504.31 239.74 L504.65 237.5 L504.99 235.26 L505.33 233.36 L505.66 232.1 L506 231.65 L506.48 231.91 L506.95 232.66 L507.43 233.78 L507.9 235.1 L508.38 236.42 L508.85 237.54 L509.33 238.29 L509.8 238.55 L510.31 238.34 L510.83 237.76 L511.34 236.88 L511.85 235.85 L512.36 234.82 L512.88 233.94 L513.39 233.36 L513.9 233.15 L514.35 233.34 L514.8 233.88 L515.25 234.69 L515.7 235.65 L516.15 236.61 L516.6 237.42 L517.05 237.96 L517.5 238.15 L517.98 237.96 L518.45 237.42 L518.93 236.61 L519.4 235.65 L519.88 234.69 L520.35 233.88 L520.83 233.34 L521.3 233.15 L521.76 233.34 L522.23 233.88 L522.69 234.69 L523.15 235.65 L523.61 236.61 L524.08 237.42 L524.54 237.96 L525 238.15 L525.49 237.95 L525.98 237.37 L526.46 236.51 L526.95 235.5 L527.44 234.49 L527.93 233.63 L528.41 233.05 L528.9 232.85 L529.29 233.09 L529.68 233.79 L530.06 234.83 L530.45 236.05 L530.84 237.27 L531.23 238.31 L531.61 239.01 L532 239.25 L532.16 239.21 L532.33 239.1 L532.49 238.94 L532.65 238.75 L532.81 238.56 L532.98 238.4 L533.14 238.29 L533.3 238.25M536.1 238.25 L536.25 238.14 L536.4 237.81 L536.55 237.32 L536.7 236.75 L536.85 236.18 L537 235.69 L537.15 235.36 L537.3 235.25 L537.52 235.2 L537.75 235.06 L537.98 234.85 L538.2 234.6 L538.43 234.35 L538.65 234.14 L538.88 234 L539.1 233.95 L539.54 234.03 L539.98 234.24 L540.41 234.57 L540.85 234.95 L541.29 235.33 L541.73 235.66 L542.16 235.87 L542.6 235.95 L543.04 235.98 L543.48 236.08 L543.91 236.23 L544.35 236.4 L544.79 236.57 L545.23 236.72 L545.66 236.82 L546.1 236.85 L546.73 236.83 L547.35 236.78 L547.98 236.7 L548.6 236.6 L549.23 236.5 L549.85 236.42 L550.48 236.37 L551.1 236.35 L551.85 236.35 L552.6 236.34 L553.35 236.32 L554.1 236.3 L554.85 236.28 L555.6 236.26 L556.35 236.25 L557.1 236.25 L557.6 236.24 L558.1 236.22 L558.6 236.19 L559.1 236.15 L559.6 236.11 L560.1 236.08 L560.6 236.06 L561.1 236.05 L561.55 236 L562 235.84 L562.45 235.62 L562.9 235.35 L563.35 235.08 L563.8 234.86 L564.25 234.7 L564.7 234.65 L565.17 234.78 L565.65 235.16 L566.12 235.73 L566.6 236.4 L567.08 237.07 L567.55 237.64 L568.03 238.02 L568.5 238.15 L568.65 238.12 L568.8 238.02 L568.95 237.87 L569.1 237.7 L569.25 237.53 L569.4 237.38 L569.55 237.28 L569.7 237.25M572.5 237.75 L572.68 237.65 L572.85 237.35 L573.02 236.92 L573.2 236.4 L573.38 235.88 L573.55 235.45 L573.73 235.15 L573.9 235.05 L574.11 234.97 L574.33 234.73 L574.54 234.37 L574.75 233.95 L574.96 233.53 L575.18 233.17 L575.39 232.93 L575.6 232.85 L576.08 233.01 L576.55 233.45 L577.02 234.12 L577.5 234.9 L577.98 235.68 L578.45 236.35 L578.93 236.79 L579.4 236.95 L579.79 236.86 L580.18 236.61 L580.56 236.24 L580.95 235.8 L581.34 235.36 L581.73 234.99 L582.11 234.74 L582.5 234.65 L582.95 234.71 L583.4 234.88 L583.85 235.14 L584.3 235.45 L584.75 235.76 L585.2 236.02 L585.65 236.19 L586.1 236.25 L586.73 236.25 L587.35 236.26 L587.98 236.28 L588.6 236.3 L589.23 236.32 L589.85 236.34 L590.48 236.35 L591.1 236.35 L591.85 236.34 L592.6 236.31 L593.35 236.26 L594.1 236.2 L594.85 236.14 L595.6 236.09 L596.35 236.06 L597.1 236.05 L597.6 236.03 L598.1 235.96 L598.6 235.86 L599.1 235.75 L599.6 235.64 L600.1 235.54 L600.6 235.47 L601.1 235.45 L601.62 235.54 L602.15 235.79 L602.68 236.16 L603.2 236.6 L603.73 237.04 L604.25 237.41 L604.77 237.66 L605.3 237.75 L605.48 237.72 L605.65 237.62 L605.83 237.47 L606 237.3 L606.18 237.13 L606.35 236.98 L606.52 236.88 L606.7 236.85M609.5 238.25 L609.81 238.01 L610.12 237.34 L610.44 236.34 L610.75 235.15 L611.06 233.96 L611.38 232.96 L611.69 232.29 L612 232.05 L612.41 232.3 L612.83 233 L613.24 234.06 L613.65 235.3 L614.06 236.54 L614.48 237.6 L614.89 238.3 L615.3 238.55 L615.83 238.34 L616.35 237.76 L616.88 236.88 L617.4 235.85 L617.93 234.82 L618.45 233.94 L618.98 233.36 L619.5 233.15 L619.95 233.34 L620.4 233.88 L620.85 234.69 L621.3 235.65 L621.75 236.61 L622.2 237.42 L622.65 237.96 L623.1 238.15 L623.56 237.96 L624.02 237.42 L624.49 236.61 L624.95 235.65 L625.41 234.69 L625.88 233.88 L626.34 233.34 L626.8 233.15 L627.28 233.36 L627.75 233.94 L628.23 234.82 L628.7 235.85 L629.17 236.88 L629.65 237.76 L630.12 238.34 L630.6 238.55 L631.08 238.32 L631.55 237.66 L632.03 236.67 L632.5 235.5 L632.98 234.33 L633.45 233.34 L633.93 232.68 L634.4 232.45 L634.84 232.74 L635.28 233.56 L635.71 234.8 L636.15 236.25 L636.59 237.7 L637.03 238.94 L637.46 239.76 L637.9 240.05 L638.36 239.59 L638.83 238.26 L639.29 236.28 L639.75 233.95 L640.21 231.62 L640.67 229.64 L641.14 228.31 L641.6 227.85 L641.86 228.17 L642.12 229.08 L642.39 230.44 L642.65 232.05 L642.91 233.66 L643.17 235.02 L643.44 235.93 L643.7 236.25 L643.89 236.36 L644.08 236.69 L644.26 237.18 L644.45 237.75 L644.64 238.32 L644.83 238.81 L645.01 239.14 L645.2 239.25M499.1 263.6 L499.33 263.75 L499.55 264.19 L499.78 264.83 L500 265.6 L500.23 266.37 L500.45 267.01 L500.68 267.45 L500.9 267.6 L501.2 267.7 L501.5 267.98 L501.8 268.4 L502.1 268.9 L502.4 269.4 L502.7 269.82 L503 270.1 L503.3 270.2 L503.64 269.75 L503.98 268.49 L504.31 266.59 L504.65 264.35 L504.99 262.11 L505.33 260.21 L505.66 258.95 L506 258.5 L506.48 258.76 L506.95 259.51 L507.43 260.63 L507.9 261.95 L508.38 263.27 L508.85 264.39 L509.33 265.14 L509.8 265.4 L510.31 265.19 L510.83 264.61 L511.34 263.73 L511.85 262.7 L512.36 261.67 L512.88 260.79 L513.39 260.21 L513.9 260 L514.35 260.19 L514.8 260.73 L515.25 261.54 L515.7 262.5 L516.15 263.46 L516.6 264.27 L517.05 264.81 L517.5 265 L517.98 264.81 L518.45 264.27 L518.93 263.46 L519.4 262.5 L519.88 261.54 L520.35 260.73 L520.83 260.19 L521.3 260 L521.76 260.19 L522.23 260.73 L522.69 261.54 L523.15 262.5 L523.61 263.46 L524.08 264.27 L524.54 264.81 L525 265 L525.49 264.8 L525.98 264.22 L526.46 263.36 L526.95 262.35 L527.44 261.34 L527.93 260.48 L528.41 259.9 L528.9 259.7 L529.29 259.94 L529.68 260.64 L530.06 261.68 L530.45 262.9 L530.84 264.12 L531.23 265.16 L531.61 265.86 L532 266.1 L532.16 266.06 L532.33 265.95 L532.49 265.79 L532.65 265.6 L532.81 265.41 L532.98 265.25 L533.14 265.14 L533.3 265.1M536.1 265.1 L536.25 264.99 L536.4 264.66 L536.55 264.17 L536.7 263.6 L536.85 263.03 L537 262.54 L537.15 262.21 L537.3 262.1 L537.52 262.05 L537.75 261.91 L537.98 261.7 L538.2 261.45 L538.43 261.2 L538.65 260.99 L538.88 260.85 L539.1 260.8 L539.54 260.88 L539.98 261.09 L540.41 261.42 L540.85 261.8 L541.29 262.18 L541.73 262.51 L542.16 262.72 L542.6 262.8 L543.04 262.83 L543.48 262.93 L543.91 263.08 L544.35 263.25 L544.79 263.42 L545.23 263.57 L545.66 263.67 L546.1 263.7 L546.73 263.68 L547.35 263.63 L547.98 263.55 L548.6 263.45 L549.23 263.35 L549.85 263.27 L550.48 263.22 L551.1 263.2 L551.85 263.2 L552.6 263.19 L553.35 263.17 L554.1 263.15 L554.85 263.13 L555.6 263.11 L556.35 263.1 L557.1 263.1 L557.6 263.09 L558.1 263.07 L558.6 263.04 L559.1 263 L559.6 262.96 L560.1 262.93 L560.6 262.91 L561.1 262.9 L561.55 262.85 L562 262.69 L562.45 262.47 L562.9 262.2 L563.35 261.93 L563.8 261.71 L564.25 261.55 L564.7 261.5 L565.17 261.63 L565.65 262.01 L566.12 262.58 L566.6 263.25 L567.08 263.92 L567.55 264.49 L568.03 264.87 L568.5 265 L568.65 264.97 L568.8 264.87 L568.95 264.72 L569.1 264.55 L569.25 264.38 L569.4 264.23 L569.55 264.13 L569.7 264.1M572.5 264.6 L572.68 264.5 L572.85 264.2 L573.02 263.77 L573.2 263.25 L573.38 262.73 L573.55 262.3 L573.73 262 L573.9 261.9 L574.11 261.82 L574.33 261.58 L574.54 261.22 L574.75 260.8 L574.96 260.38 L575.18 260.02 L575.39 259.78 L575.6 259.7 L576.08 259.86 L576.55 260.3 L577.02 260.97 L577.5 261.75 L577.98 262.53 L578.45 263.2 L578.93 263.64 L579.4 263.8 L579.79 263.71 L580.18 263.46 L580.56 263.09 L580.95 262.65 L581.34 262.21 L581.73 261.84 L582.11 261.59 L582.5 261.5 L582.95 261.56 L583.4 261.73 L583.85 261.99 L584.3 262.3 L584.75 262.61 L585.2 262.87 L585.65 263.04 L586.1 263.1 L586.73 263.1 L587.35 263.11 L587.98 263.13 L588.6 263.15 L589.23 263.17 L589.85 263.19 L590.48 263.2 L591.1 263.2 L591.85 263.19 L592.6 263.16 L593.35 263.11 L594.1 263.05 L594.85 262.99 L595.6 262.94 L596.35 262.91 L597.1 262.9 L597.6 262.88 L598.1 262.81 L598.6 262.71 L599.1 262.6 L599.6 262.49 L600.1 262.39 L600.6 262.32 L601.1 262.3 L601.62 262.39 L602.15 262.64 L602.68 263.01 L603.2 263.45 L603.73 263.89 L604.25 264.26 L604.77 264.51 L605.3 264.6 L605.48 264.57 L605.65 264.47 L605.83 264.32 L606 264.15 L606.18 263.98 L606.35 263.83 L606.52 263.73 L606.7 263.7M609.5 265.1 L609.81 264.86 L610.12 264.19 L610.44 263.19 L610.75 262 L611.06 260.81 L611.38 259.81 L611.69 259.14 L612 258.9 L612.41 259.15 L612.83 259.85 L613.24 260.91 L613.65 262.15 L614.06 263.39 L614.48 264.45 L614.89 265.15 L615.3 265.4 L615.83 265.19 L616.35 264.61 L616.88 263.73 L617.4 262.7 L617.93 261.67 L618.45 260.79 L618.98 260.21 L619.5 260 L619.95 260.19 L620.4 260.73 L620.85 261.54 L621.3 262.5 L621.75 263.46 L622.2 264.27 L622.65 264.81 L623.1 265 L623.56 264.81 L624.02 264.27 L624.49 263.46 L624.95 262.5 L625.41 261.54 L625.88 260.73 L626.34 260.19 L626.8 260 L627.28 260.21 L627.75 260.79 L628.23 261.67 L628.7 262.7 L629.17 263.73 L629.65 264.61 L630.12 265.19 L630.6 265.4 L631.08 265.17 L631.55 264.51 L632.03 263.52 L632.5 262.35 L632.98 261.18 L633.45 260.19 L633.93 259.53 L634.4 259.3 L634.84 259.59 L635.28 260.41 L635.71 261.65 L636.15 263.1 L636.59 264.55 L637.03 265.79 L637.46 266.61 L637.9 266.9 L638.36 266.44 L638.83 265.11 L639.29 263.13 L639.75 260.8 L640.21 258.47 L640.67 256.49 L641.14 255.16 L641.6 254.7 L641.86 255.02 L642.12 255.93 L642.39 257.29 L642.65 258.9 L642.91 260.51 L643.17 261.87 L643.44 262.78 L643.7 263.1 L643.89 263.21 L644.08 263.54 L644.26 264.03 L644.45 264.6 L644.64 265.17 L644.83 265.66 L645.01 265.99 L645.2 266.1M499.1 290.45 L499.33 290.6 L499.55 291.04 L499.78 291.68 L500 292.45 L500.23 293.22 L500.45 293.86 L500.68 294.3 L500.9 294.45 L501.2 294.55 L501.5 294.83 L501.8 295.25 L502.1 295.75 L502.4 296.25 L502.7 296.67 L503 296.95 L503.3 297.05 L503.64 296.6 L503.98 295.34 L504.31 293.44 L504.65 291.2 L504.99 288.96 L505.33 287.06 L505.66 285.8 L506 285.35 L506.48 285.61 L506.95 286.36 L507.43 287.48 L507.9 288.8 L508.38 290.12 L508.85 291.24 L509.33 291.99 L509.8 292.25 L510.31 292.04 L510.83 291.46 L511.34 290.58 L511.85 289.55 L512.36 288.52 L512.88 287.64 L513.39 287.06 L513.9 286.85 L514.35 287.04 L514.8 287.58 L515.25 288.39 L515.7 289.35 L516.15 290.31 L516.6 291.12 L517.05 291.66 L517.5 291.85 L517.98 291.66 L518.45 291.12 L518.93 290.31 L519.4 289.35 L519.88 288.39 L520.35 287.58 L520.83 287.04 L521.3 286.85 L521.76 287.04 L522.23 287.58 L522.69 288.39 L523.15 289.35 L523.61 290.31 L524.08 291.12 L524.54 291.66 L525 291.85 L525.49 291.65 L525.98 291.07 L526.46 290.21 L526.95 289.2 L527.44 288.19 L527.93 287.33 L528.41 286.75 L528.9 286.55 L529.29 286.79 L529.68 287.49 L530.06 288.53 L530.45 289.75 L530.84 290.97 L531.23 292.01 L531.61 292.71 L532 292.95 L532.16 292.91 L532.33 292.8 L532.49 292.64 L532.65 292.45 L532.81 292.26 L532.98 292.1 L533.14 291.99 L533.3 291.95M536.1 291.95 L536.25 291.84 L536.4 291.51 L536.55 291.02 L536.7 290.45 L536.85 289.88 L537 289.39 L537.15 289.06 L537.3 288.95 L537.52 288.9 L537.75 288.76 L537.98 288.55 L538.2 288.3 L538.43 288.05 L538.65 287.84 L538.88 287.7 L539.1 287.65 L539.54 287.73 L539.98 287.94 L540.41 288.27 L540.85 288.65 L541.29 289.03 L541.73 289.36 L542.16 289.57 L542.6 289.65 L543.04 289.68 L543.48 289.78 L543.91 289.93 L544.35 290.1 L544.79 290.27 L545.23 290.42 L545.66 290.52 L546.1 290.55 L546.73 290.53 L547.35 290.48 L547.98 290.4 L548.6 290.3 L549.23 290.2 L549.85 290.12 L550.48 290.07 L551.1 290.05 L551.85 290.05 L552.6 290.04 L553.35 290.02 L554.1 290 L554.85 289.98 L555.6 289.96 L556.35 289.95 L557.1 289.95 L557.6 289.94 L558.1 289.92 L558.6 289.89 L559.1 289.85 L559.6 289.81 L560.1 289.78 L560.6 289.76 L561.1 289.75 L561.55 289.7 L562 289.54 L562.45 289.32 L562.9 289.05 L563.35 288.78 L563.8 288.56 L564.25 288.4 L564.7 288.35 L565.17 288.48 L565.65 288.86 L566.12 289.43 L566.6 290.1 L567.08 290.77 L567.55 291.34 L568.03 291.72 L568.5 291.85 L568.65 291.82 L568.8 291.72 L568.95 291.57 L569.1 291.4 L569.25 291.23 L569.4 291.08 L569.55 290.98 L569.7 290.95M572.5 291.45 L572.68 291.35 L572.85 291.05 L573.02 290.62 L573.2 290.1 L573.38 289.58 L573.55 289.15 L573.73 288.85 L573.9 288.75 L574.11 288.67 L574.33 288.43 L574.54 288.07 L574.75 287.65 L574.96 287.23 L575.18 286.87 L575.39 286.63 L575.6 286.55 L576.08 286.71 L576.55 287.15 L577.02 287.82 L577.5 288.6 L577.98 289.38 L578.45 290.05 L578.93 290.49 L579.4 290.65 L579.79 290.56 L580.18 290.31 L580.56 289.94 L580.95 289.5 L581.34 289.06 L581.73 288.69 L582.11 288.44 L582.5 288.35 L582.95 288.41 L583.4 288.58 L583.85 288.84 L584.3 289.15 L584.75 289.46 L585.2 289.72 L585.65 289.89 L586.1 289.95 L586.73 289.95 L587.35 289.96 L587.98 289.98 L588.6 290 L589.23 290.02 L589.85 290.04 L590.48 290.05 L591.1 290.05 L591.85 290.04 L592.6 290.01 L593.35 289.96 L594.1 289.9 L594.85 289.84 L595.6 289.79 L596.35 289.76 L597.1 289.75 L597.6 289.73 L598.1 289.66 L598.6 289.56 L599.1 289.45 L599.6 289.34 L600.1 289.24 L600.6 289.17 L601.1 289.15 L601.62 289.24 L602.15 289.49 L602.68 289.86 L603.2 290.3 L603.73 290.74 L604.25 291.11 L604.77 291.36 L605.3 291.45 L605.48 291.42 L605.65 291.32 L605.83 291.17 L606 291 L606.18 290.83 L606.35 290.68 L606.52 290.58 L606.7 290.55M609.5 291.95 L609.81 291.71 L610.12 291.04 L610.44 290.04 L610.75 288.85 L611.06 287.66 L611.38 286.66 L611.69 285.99 L612 285.75 L612.41 286 L612.83 286.7 L613.24 287.76 L613.65 289 L614.06 290.24 L614.48 291.3 L614.89 292 L615.3 292.25 L615.83 292.04 L616.35 291.46 L616.88 290.58 L617.4 289.55 L617.93 288.52 L618.45 287.64 L618.98 287.06 L619.5 286.85 L619.95 287.04 L620.4 287.58 L620.85 288.39 L621.3 289.35 L621.75 290.31 L622.2 291.12 L622.65 291.66 L623.1 291.85 L623.56 291.66 L624.02 291.12 L624.49 290.31 L624.95 289.35 L625.41 288.39 L625.88 287.58 L626.34 287.04 L626.8 286.85 L627.28 287.06 L627.75 287.64 L628.23 288.52 L628.7 289.55 L629.17 290.58 L629.65 291.46 L630.12 292.04 L630.6 292.25 L631.08 292.02 L631.55 291.36 L632.03 290.37 L632.5 289.2 L632.98 288.03 L633.45 287.04 L633.93 286.38 L634.4 286.15 L634.84 286.44 L635.28 287.26 L635.71 288.5 L636.15 289.95 L636.59 291.4 L637.03 292.64 L637.46 293.46 L637.9 293.75 L638.36 293.29 L638.83 291.96 L639.29 289.98 L639.75 287.65 L640.21 285.32 L640.67 283.34 L641.14 282.01 L641.6 281.55 L641.86 281.87 L642.12 282.78 L642.39 284.14 L642.65 285.75 L642.91 287.36 L643.17 288.72 L643.44 289.63 L643.7 289.95 L643.89 290.06 L644.08 290.39 L644.26 290.88 L644.45 291.45 L644.64 292.02 L644.83 292.51 L645.01 292.84 L645.2 292.95M499.1 317.3 L499.33 317.45 L499.55 317.89 L499.78 318.53 L500 319.3 L500.23 320.07 L500.45 320.71 L500.68 321.15 L500.9 321.3 L501.2 321.4 L501.5 321.68 L501.8 322.1 L502.1 322.6 L502.4 323.1 L502.7 323.52 L503 323.8 L503.3 323.9 L503.64 323.45 L503.98 322.19 L504.31 320.29 L504.65 318.05 L504.99 315.81 L505.33 313.91 L505.66 312.65 L506 312.2 L506.48 312.46 L506.95 313.21 L507.43 314.33 L507.9 315.65 L508.38 316.97 L508.85 318.09 L509.33 318.84 L509.8 319.1 L510.31 318.89 L510.83 318.31 L511.34 317.43 L511.85 316.4 L512.36 315.37 L512.88 314.49 L513.39 313.91 L513.9 313.7 L514.35 313.89 L514.8 314.43 L515.25 315.24 L515.7 316.2 L516.15 317.16 L516.6 317.97 L517.05 318.51 L517.5 318.7 L517.98 318.51 L518.45 317.97 L518.93 317.16 L519.4 316.2 L519.88 315.24 L520.35 314.43 L520.83 313.89 L521.3 313.7 L521.76 313.89 L522.23 314.43 L522.69 315.24 L523.15 316.2 L523.61 317.16 L524.08 317.97 L524.54 318.51 L525 318.7 L525.49 318.5 L525.98 317.92 L526.46 317.06 L526.95 316.05 L527.44 315.04 L527.93 314.18 L528.41 313.6 L528.9 313.4 L529.29 313.64 L529.68 314.34 L530.06 315.38 L530.45 316.6 L530.84 317.82 L531.23 318.86 L531.61 319.56 L532 319.8 L532.16 319.76 L532.33 319.65 L532.49 319.49 L532.65 319.3 L532.81 319.11 L532.98 318.95 L533.14 318.84 L533.3 318.8M536.1 318.8 L536.25 318.69 L536.4 318.36 L536.55 317.87 L536.7 317.3 L536.85 316.73 L537 316.24 L537.15 315.91 L537.3 315.8 L537.52 315.75 L537.75 315.61 L537.98 315.4 L538.2 315.15 L538.43 314.9 L538.65 314.69 L538.88 314.55 L539.1 314.5 L539.54 314.58 L539.98 314.79 L540.41 315.12 L540.85 315.5 L541.29 315.88 L541.73 316.21 L542.16 316.42 L542.6 316.5 L543.04 316.53 L543.48 316.63 L543.91 316.78 L544.35 316.95 L544.79 317.12 L545.23 317.27 L545.66 317.37 L546.1 317.4 L546.73 317.38 L547.35 317.33 L547.98 317.25 L548.6 317.15 L549.23 317.05 L549.85 316.97 L550.48 316.92 L551.1 316.9 L551.85 316.9 L552.6 316.89 L553.35 316.87 L554.1 316.85 L554.85 316.83 L555.6 316.81 L556.35 316.8 L557.1 316.8 L557.6 316.79 L558.1 316.77 L558.6 316.74 L559.1 316.7 L559.6 316.66 L560.1 316.63 L560.6 316.61 L561.1 316.6 L561.55 316.55 L562 316.39 L562.45 316.17 L562.9 315.9 L563.35 315.63 L563.8 315.41 L564.25 315.25 L564.7 315.2 L565.17 315.33 L565.65 315.71 L566.12 316.28 L566.6 316.95 L567.08 317.62 L567.55 318.19 L568.03 318.57 L568.5 318.7 L568.65 318.67 L568.8 318.57 L568.95 318.42 L569.1 318.25 L569.25 318.08 L569.4 317.93 L569.55 317.83 L569.7 317.8M572.5 318.3 L572.68 318.2 L572.85 317.9 L573.02 317.47 L573.2 316.95 L573.38 316.43 L573.55 316 L573.73 315.7 L573.9 315.6 L574.11 315.52 L574.33 315.28 L574.54 314.92 L574.75 314.5 L574.96 314.08 L575.18 313.72 L575.39 313.48 L575.6 313.4 L576.08 313.56 L576.55 314 L577.02 314.67 L577.5 315.45 L577.98 316.23 L578.45 316.9 L578.93 317.34 L579.4 317.5 L579.79 317.41 L580.18 317.16 L580.56 316.79 L580.95 316.35 L581.34 315.91 L581.73 315.54 L582.11 315.29 L582.5 315.2 L582.95 315.26 L583.4 315.43 L583.85 315.69 L584.3 316 L584.75 316.31 L585.2 316.57 L585.65 316.74 L586.1 316.8 L586.73 316.8 L587.35 316.81 L587.98 316.83 L588.6 316.85 L589.23 316.87 L589.85 316.89 L590.48 316.9 L591.1 316.9 L591.85 316.89 L592.6 316.86 L593.35 316.81 L594.1 316.75 L594.85 316.69 L595.6 316.64 L596.35 316.61 L597.1 316.6 L597.6 316.58 L598.1 316.51 L598.6 316.41 L599.1 316.3 L599.6 316.19 L600.1 316.09 L600.6 316.02 L601.1 316 L601.62 316.09 L602.15 316.34 L602.68 316.71 L603.2 317.15 L603.73 317.59 L604.25 317.96 L604.77 318.21 L605.3 318.3 L605.48 318.27 L605.65 318.17 L605.83 318.02 L606 317.85 L606.18 317.68 L606.35 317.53 L606.52 317.43 L606.7 317.4M609.5 318.8 L609.81 318.56 L610.12 317.89 L610.44 316.89 L610.75 315.7 L611.06 314.51 L611.38 313.51 L611.69 312.84 L612 312.6 L612.41 312.85 L612.83 313.55 L613.24 314.61 L613.65 315.85 L614.06 317.09 L614.48 318.15 L614.89 318.85 L615.3 319.1 L615.83 318.89 L616.35 318.31 L616.88 317.43 L617.4 316.4 L617.93 315.37 L618.45 314.49 L618.98 313.91 L619.5 313.7 L619.95 313.89 L620.4 314.43 L620.85 315.24 L621.3 316.2 L621.75 317.16 L622.2 317.97 L622.65 318.51 L623.1 318.7 L623.56 318.51 L624.02 317.97 L624.49 317.16 L624.95 316.2 L625.41 315.24 L625.88 314.43 L626.34 313.89 L626.8 313.7 L627.28 313.91 L627.75 314.49 L628.23 315.37 L628.7 316.4 L629.17 317.43 L629.65 318.31 L630.12 318.89 L630.6 319.1 L631.08 318.87 L631.55 318.21 L632.03 317.22 L632.5 316.05 L632.98 314.88 L633.45 313.89 L633.93 313.23 L634.4 313 L634.84 313.29 L635.28 314.11 L635.71 315.35 L636.15 316.8 L636.59 318.25 L637.03 319.49 L637.46 320.31 L637.9 320.6 L638.36 320.14 L638.83 318.81 L639.29 316.83 L639.75 314.5 L640.21 312.17 L640.67 310.19 L641.14 308.86 L641.6 308.4 L641.86 308.72 L642.12 309.63 L642.39 310.99 L642.65 312.6 L642.91 314.21 L643.17 315.57 L643.44 316.48 L643.7 316.8 L643.89 316.91 L644.08 317.24 L644.26 317.73 L644.45 318.3 L644.64 318.87 L644.83 319.36 L645.01 319.69 L645.2 319.8M499.1 344.15 L499.33 344.3 L499.55 344.74 L499.78 345.38 L500 346.15 L500.23 346.92 L500.45 347.56 L500.68 348 L500.9 348.15 L501.2 348.25 L501.5 348.53 L501.8 348.95 L502.1 349.45 L502.4 349.95 L502.7 350.37 L503 350.65 L503.3 350.75 L503.64 350.3 L503.98 349.04 L504.31 347.14 L504.65 344.9 L504.99 342.66 L505.33 340.76 L505.66 339.5 L506 339.05 L506.48 339.31 L506.95 340.06 L507.43 341.18 L507.9 342.5 L508.38 343.82 L508.85 344.94 L509.33 345.69 L509.8 345.95 L510.31 345.74 L510.83 345.16 L511.34 344.28 L511.85 343.25 L512.36 342.22 L512.88 341.34 L513.39 340.76 L513.9 340.55 L514.35 340.74 L514.8 341.28 L515.25 342.09 L515.7 343.05 L516.15 344.01 L516.6 344.82 L517.05 345.36 L517.5 345.55 L517.98 345.36 L518.45 344.82 L518.93 344.01 L519.4 343.05 L519.88 342.09 L520.35 341.28 L520.83 340.74 L521.3 340.55 L521.76 340.74 L522.23 341.28 L522.69 342.09 L523.15 343.05 L523.61 344.01 L524.08 344.82 L524.54 345.36 L525 345.55 L525.49 345.35 L525.98 344.77 L526.46 343.91 L526.95 342.9 L527.44 341.89 L527.93 341.03 L528.41 340.45 L528.9 340.25 L529.29 340.49 L529.68 341.19 L530.06 342.23 L530.45 343.45 L530.84 344.67 L531.23 345.71 L531.61 346.41 L532 346.65 L532.16 346.61 L532.33 346.5 L532.49 346.34 L532.65 346.15 L532.81 345.96 L532.98 345.8 L533.14 345.69 L533.3 345.65M536.1 345.65 L536.25 345.54 L536.4 345.21 L536.55 344.72 L536.7 344.15 L536.85 343.58 L537 343.09 L537.15 342.76 L537.3 342.65 L537.52 342.6 L537.75 342.46 L537.98 342.25 L538.2 342 L538.43 341.75 L538.65 341.54 L538.88 341.4 L539.1 341.35 L539.54 341.43 L539.98 341.64 L540.41 341.97 L540.85 342.35 L541.29 342.73 L541.73 343.06 L542.16 343.27 L542.6 343.35 L543.04 343.38 L543.48 343.48 L543.91 343.63 L544.35 343.8 L544.79 343.97 L545.23 344.12 L545.66 344.22 L546.1 344.25 L546.73 344.23 L547.35 344.18 L547.98 344.1 L548.6 344 L549.23 343.9 L549.85 343.82 L550.48 343.77 L551.1 343.75 L551.85 343.75 L552.6 343.74 L553.35 343.72 L554.1 343.7 L554.85 343.68 L555.6 343.66 L556.35 343.65 L557.1 343.65 L557.6 343.64 L558.1 343.62 L558.6 343.59 L559.1 343.55 L559.6 343.51 L560.1 343.48 L560.6 343.46 L561.1 343.45 L561.55 343.4 L562 343.24 L562.45 343.02 L562.9 342.75 L563.35 342.48 L563.8 342.26 L564.25 342.1 L564.7 342.05 L565.17 342.18 L565.65 342.56 L566.12 343.13 L566.6 343.8 L567.08 344.47 L567.55 345.04 L568.03 345.42 L568.5 345.55 L568.65 345.52 L568.8 345.42 L568.95 345.27 L569.1 345.1 L569.25 344.93 L569.4 344.78 L569.55 344.68 L569.7 344.65M572.5 345.15 L572.68 345.05 L572.85 344.75 L573.02 344.32 L573.2 343.8 L573.38 343.28 L573.55 342.85 L573.73 342.55 L573.9 342.45 L574.11 342.37 L574.33 342.13 L574.54 341.77 L574.75 341.35 L574.96 340.93 L575.18 340.57 L575.39 340.33 L575.6 340.25 L576.08 340.41 L576.55 340.85 L577.02 341.52 L577.5 342.3 L577.98 343.08 L578.45 343.75 L578.93 344.19 L579.4 344.35 L579.79 344.26 L580.18 344.01 L580.56 343.64 L580.95 343.2 L581.34 342.76 L581.73 342.39 L582.11 342.14 L582.5 342.05 L582.95 342.11 L583.4 342.28 L583.85 342.54 L584.3 342.85 L584.75 343.16 L585.2 343.42 L585.65 343.59 L586.1 343.65 L586.73 343.65 L587.35 343.66 L587.98 343.68 L588.6 343.7 L589.23 343.72 L589.85 343.74 L590.48 343.75 L591.1 343.75 L591.85 343.74 L592.6 343.71 L593.35 343.66 L594.1 343.6 L594.85 343.54 L595.6 343.49 L596.35 343.46 L597.1 343.45 L597.6 343.43 L598.1 343.36 L598.6 343.26 L599.1 343.15 L599.6 343.04 L600.1 342.94 L600.6 342.87 L601.1 342.85 L601.62 342.94 L602.15 343.19 L602.68 343.56 L603.2 344 L603.73 344.44 L604.25 344.81 L604.77 345.06 L605.3 345.15 L605.48 345.12 L605.65 345.02 L605.83 344.87 L606 344.7 L606.18 344.53 L606.35 344.38 L606.52 344.28 L606.7 344.25M609.5 345.65 L609.81 345.41 L610.12 344.74 L610.44 343.74 L610.75 342.55 L611.06 341.36 L611.38 340.36 L611.69 339.69 L612 339.45 L612.41 339.7 L612.83 340.4 L613.24 341.46 L613.65 342.7 L614.06 343.94 L614.48 345 L614.89 345.7 L615.3 345.95 L615.83 345.74 L616.35 345.16 L616.88 344.28 L617.4 343.25 L617.93 342.22 L618.45 341.34 L618.98 340.76 L619.5 340.55 L619.95 340.74 L620.4 341.28 L620.85 342.09 L621.3 343.05 L621.75 344.01 L622.2 344.82 L622.65 345.36 L623.1 345.55 L623.56 345.36 L624.02 344.82 L624.49 344.01 L624.95 343.05 L625.41 342.09 L625.88 341.28 L626.34 340.74 L626.8 340.55 L627.28 340.76 L627.75 341.34 L628.23 342.22 L628.7 343.25 L629.17 344.28 L629.65 345.16 L630.12 345.74 L630.6 345.95 L631.08 345.72 L631.55 345.06 L632.03 344.07 L632.5 342.9 L632.98 341.73 L633.45 340.74 L633.93 340.08 L634.4 339.85 L634.84 340.14 L635.28 340.96 L635.71 342.2 L636.15 343.65 L636.59 345.1 L637.03 346.34 L637.46 347.16 L637.9 347.45 L638.36 346.99 L638.83 345.66 L639.29 343.68 L639.75 341.35 L640.21 339.02 L640.67 337.04 L641.14 335.71 L641.6 335.25 L641.86 335.57 L642.12 336.48 L642.39 337.84 L642.65 339.45 L642.91 341.06 L643.17 342.42 L643.44 343.33 L643.7 343.65 L643.89 343.76 L644.08 344.09 L644.26 344.58 L644.45 345.15 L644.64 345.72 L644.83 346.21 L645.01 346.54 L645.2 346.65M499.1 371 L499.33 371.15 L499.55 371.59 L499.78 372.23 L500 373 L500.23 373.77 L500.45 374.41 L500.68 374.85 L500.9 375 L501.2 375.1 L501.5 375.38 L501.8 375.8 L502.1 376.3 L502.4 376.8 L502.7 377.22 L503 377.5 L503.3 377.6 L503.64 377.15 L503.98 375.89 L504.31 373.99 L504.65 371.75 L504.99 369.51 L505.33 367.61 L505.66 366.35 L506 365.9 L506.48 366.16 L506.95 366.91 L507.43 368.03 L507.9 369.35 L508.38 370.67 L508.85 371.79 L509.33 372.54 L509.8 372.8 L510.31 372.59 L510.83 372.01 L511.34 371.13 L511.85 370.1 L512.36 369.07 L512.88 368.19 L513.39 367.61 L513.9 367.4 L514.35 367.59 L514.8 368.13 L515.25 368.94 L515.7 369.9 L516.15 370.86 L516.6 371.67 L517.05 372.21 L517.5 372.4 L517.98 372.21 L518.45 371.67 L518.93 370.86 L519.4 369.9 L519.88 368.94 L520.35 368.13 L520.83 367.59 L521.3 367.4 L521.76 367.59 L522.23 368.13 L522.69 368.94 L523.15 369.9 L523.61 370.86 L524.08 371.67 L524.54 372.21 L525 372.4 L525.49 372.2 L525.98 371.62 L526.46 370.76 L526.95 369.75 L527.44 368.74 L527.93 367.88 L528.41 367.3 L528.9 367.1 L529.29 367.34 L529.68 368.04 L530.06 369.08 L530.45 370.3 L530.84 371.52 L531.23 372.56 L531.61 373.26 L532 373.5 L532.16 373.46 L532.33 373.35 L532.49 373.19 L532.65 373 L532.81 372.81 L532.98 372.65 L533.14 372.54 L533.3 372.5M536.1 372.5 L536.25 372.39 L536.4 372.06 L536.55 371.57 L536.7 371 L536.85 370.43 L537 369.94 L537.15 369.61 L537.3 369.5 L537.52 369.45 L537.75 369.31 L537.98 369.1 L538.2 368.85 L538.43 368.6 L538.65 368.39 L538.88 368.25 L539.1 368.2 L539.54 368.28 L539.98 368.49 L540.41 368.82 L540.85 369.2 L541.29 369.58 L541.73 369.91 L542.16 370.12 L542.6 370.2 L543.04 370.23 L543.48 370.33 L543.91 370.48 L544.35 370.65 L544.79 370.82 L545.23 370.97 L545.66 371.07 L546.1 371.1 L546.73 371.08 L547.35 371.03 L547.98 370.95 L548.6 370.85 L549.23 370.75 L549.85 370.67 L550.48 370.62 L551.1 370.6 L551.85 370.6 L552.6 370.59 L553.35 370.57 L554.1 370.55 L554.85 370.53 L555.6 370.51 L556.35 370.5 L557.1 370.5 L557.6 370.49 L558.1 370.47 L558.6 370.44 L559.1 370.4 L559.6 370.36 L560.1 370.33 L560.6 370.31 L561.1 370.3 L561.55 370.25 L562 370.09 L562.45 369.87 L562.9 369.6 L563.35 369.33 L563.8 369.11 L564.25 368.95 L564.7 368.9 L565.17 369.03 L565.65 369.41 L566.12 369.98 L566.6 370.65 L567.08 371.32 L567.55 371.89 L568.03 372.27 L568.5 372.4 L568.65 372.37 L568.8 372.27 L568.95 372.12 L569.1 371.95 L569.25 371.78 L569.4 371.63 L569.55 371.53 L569.7 371.5M572.5 372 L572.68 371.9 L572.85 371.6 L573.02 371.17 L573.2 370.65 L573.38 370.13 L573.55 369.7 L573.73 369.4 L573.9 369.3 L574.11 369.22 L574.33 368.98 L574.54 368.62 L574.75 368.2 L574.96 367.78 L575.18 367.42 L575.39 367.18 L575.6 367.1 L576.08 367.26 L576.55 367.7 L577.02 368.37 L577.5 369.15 L577.98 369.93 L578.45 370.6 L578.93 371.04 L579.4 371.2 L579.79 371.11 L580.18 370.86 L580.56 370.49 L580.95 370.05 L581.34 369.61 L581.73 369.24 L582.11 368.99 L582.5 368.9 L582.95 368.96 L583.4 369.13 L583.85 369.39 L584.3 369.7 L584.75 370.01 L585.2 370.27 L585.65 370.44 L586.1 370.5 L586.73 370.5 L587.35 370.51 L587.98 370.53 L588.6 370.55 L589.23 370.57 L589.85 370.59 L590.48 370.6 L591.1 370.6 L591.85 370.59 L592.6 370.56 L593.35 370.51 L594.1 370.45 L594.85 370.39 L595.6 370.34 L596.35 370.31 L597.1 370.3 L597.6 370.28 L598.1 370.21 L598.6 370.11 L599.1 370 L599.6 369.89 L600.1 369.79 L600.6 369.72 L601.1 369.7 L601.62 369.79 L602.15 370.04 L602.68 370.41 L603.2 370.85 L603.73 371.29 L604.25 371.66 L604.77 371.91 L605.3 372 L605.48 371.97 L605.65 371.87 L605.83 371.72 L606 371.55 L606.18 371.38 L606.35 371.23 L606.52 371.13 L606.7 371.1M609.5 372.5 L609.81 372.26 L610.12 371.59 L610.44 370.59 L610.75 369.4 L611.06 368.21 L611.38 367.21 L611.69 366.54 L612 366.3 L612.41 366.55 L612.83 367.25 L613.24 368.31 L613.65 369.55 L614.06 370.79 L614.48 371.85 L614.89 372.55 L615.3 372.8 L615.83 372.59 L616.35 372.01 L616.88 371.13 L617.4 370.1 L617.93 369.07 L618.45 368.19 L618.98 367.61 L619.5 367.4 L619.95 367.59 L620.4 368.13 L620.85 368.94 L621.3 369.9 L621.75 370.86 L622.2 371.67 L622.65 372.21 L623.1 372.4 L623.56 372.21 L624.02 371.67 L624.49 370.86 L624.95 369.9 L625.41 368.94 L625.88 368.13 L626.34 367.59 L626.8 367.4 L627.28 367.61 L627.75 368.19 L628.23 369.07 L628.7 370.1 L629.17 371.13 L629.65 372.01 L630.12 372.59 L630.6 372.8 L631.08 372.57 L631.55 371.91 L632.03 370.92 L632.5 369.75 L632.98 368.58 L633.45 367.59 L633.93 366.93 L634.4 366.7 L634.84 366.99 L635.28 367.81 L635.71 369.05 L636.15 370.5 L636.59 371.95 L637.03 373.19 L637.46 374.01 L637.9 374.3 L638.36 373.84 L638.83 372.51 L639.29 370.53 L639.75 368.2 L640.21 365.87 L640.67 363.89 L641.14 362.56 L641.6 362.1 L641.86 362.42 L642.12 363.33 L642.39 364.69 L642.65 366.3 L642.91 367.91 L643.17 369.27 L643.44 370.18 L643.7 370.5 L643.89 370.61 L644.08 370.94 L644.26 371.43 L644.45 372 L644.64 372.57 L644.83 373.06 L645.01 373.39 L645.2 373.5" stroke="#b2bfc2" stroke-width="0.8" fill="none" stroke-linejoin="round"/>
<path d="M640.8 258.1L641.6 254.7L642.3 258.1M502.7 268.1L503.3 270.2L503.9 268.1M640.8 284.95L641.6 281.55L642.3 284.95M502.7 294.95L503.3 297.05L503.9 294.95M640.8 311.8L641.6 308.4L642.3 311.8M502.7 321.8L503.3 323.9L503.9 321.8M640.8 338.65L641.6 335.25L642.3 338.65M502.7 348.65L503.3 350.75L503.9 348.65" stroke="#c98a7a" stroke-width="0.7" fill="none" opacity="0.6"/>
</g>
<path d="M495.9 248.9H499.1M495.9 276.3H499.1M495.9 302.7H499.1M495.9 329.4H499.1M495.9 355.8H499.1M499.5 356.4V359.7M572.45 356.4V359.7M644.6 356.4V359.7" stroke="#3c3c3c" stroke-width="0.8" fill="none"/>
<rect x="649.5" y="17.5" width="8.1" height="107.9" fill="url(#cw)" stroke="#2c2424" stroke-width="0.9"/>
<path d="M658 17.4H661.3M658 125.4H661.3" stroke="#3c3c3c" stroke-width="0.8"/>
<text x="663.6" y="20.9" font-size="10.25" fill="#1a1a1a">1</text>
<text x="663.4" y="128.4" font-size="10.25" fill="#1a1a1a">0</text>
<text transform="translate(682.7 71) rotate(-90)" text-anchor="middle" font-size="10.25" fill="#1a1a1a"><tspan font-style="italic">T</tspan><tspan font-size="7" dy="2.2" font-style="italic">out</tspan></text>
<text transform="translate(490 185) rotate(-90)" text-anchor="middle" font-size="10.25" fill="#1a1a1a" xml:space="preserve">Detuning <tspan fill="#666" stroke="#666">Δ</tspan>  [<tspan font-style="italic">ω</tspan><tspan font-size="7" dy="2">R</tspan><tspan dy="-2">/div]</tspan></text>
<text x="501" y="373.3" text-anchor="middle" font-size="10.25" fill="#1a1a1a">–1</text>
<text x="573" y="373.3" text-anchor="middle" font-size="10.25" fill="#1a1a1a">0</text>
<text x="644.8" y="373.3" text-anchor="middle" font-size="10.25" fill="#1a1a1a">1</text>
<text x="577" y="390.8" text-anchor="middle" font-size="10.25" fill="#1a1a1a">k<tspan font-style="italic">Ω</tspan>/<tspan font-family="Liberation Serif, serif" font-size="11">π</tspan></text>
</svg>
</body></html>
